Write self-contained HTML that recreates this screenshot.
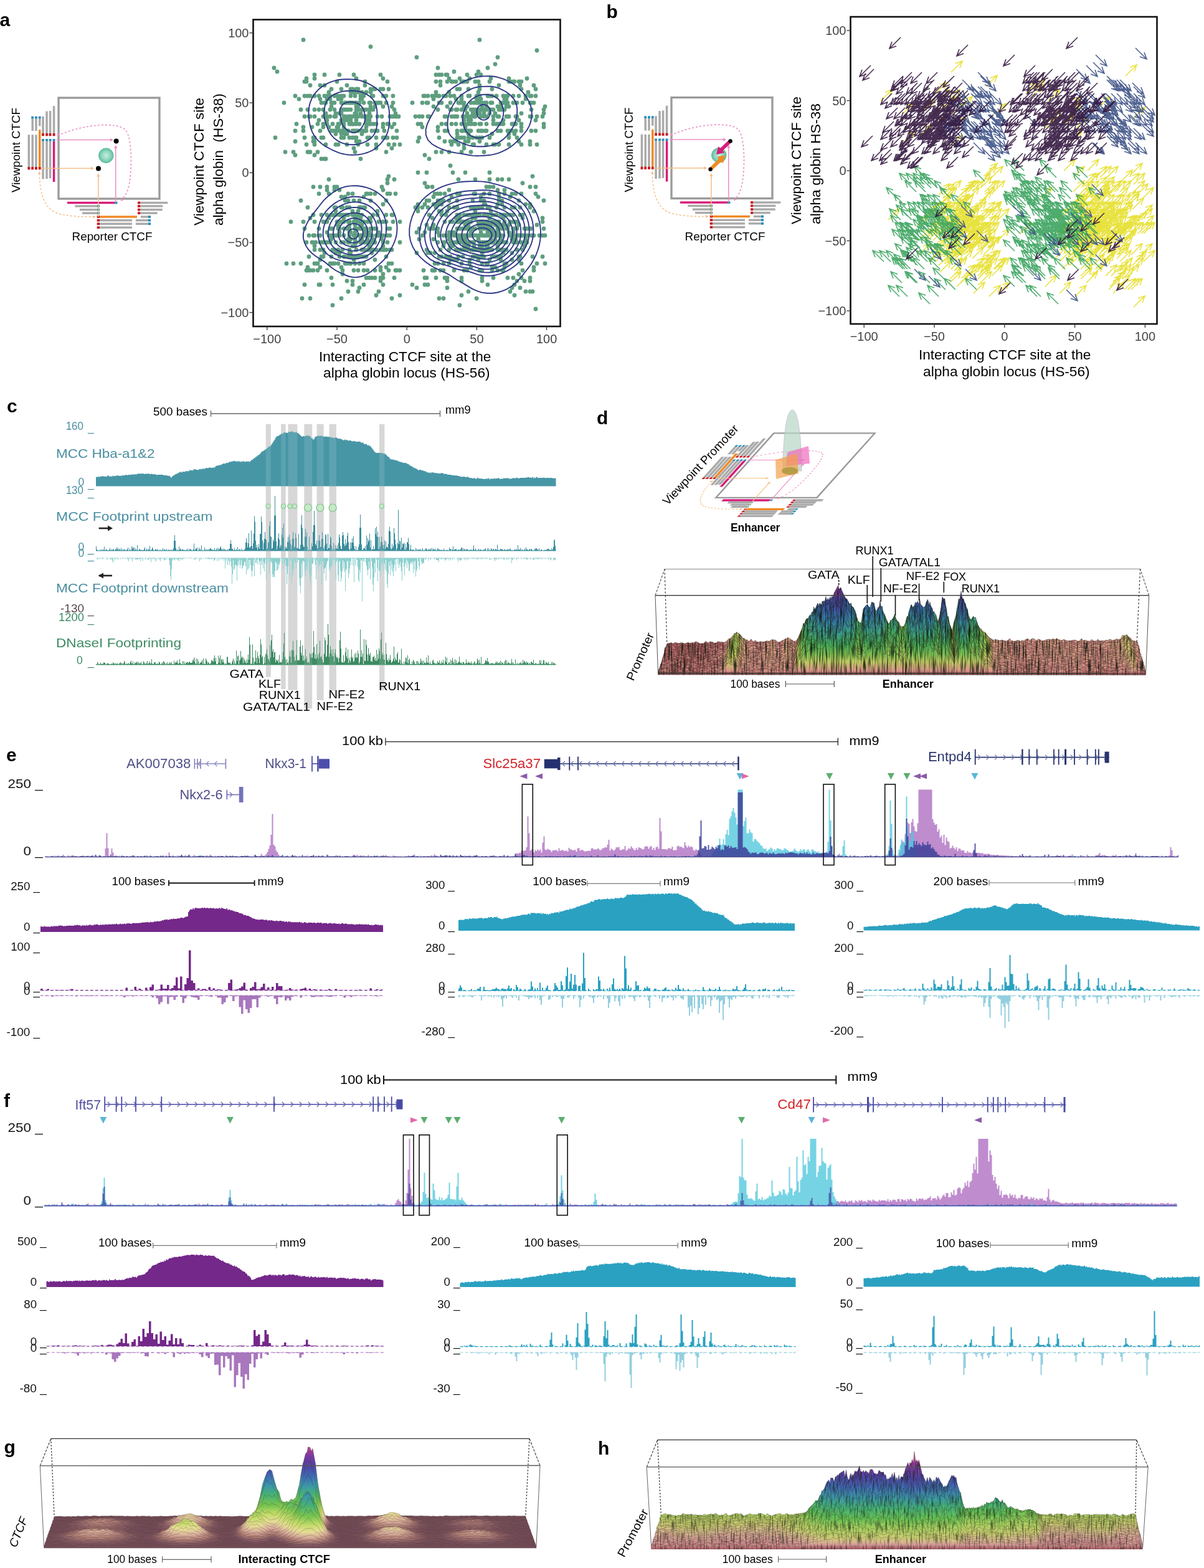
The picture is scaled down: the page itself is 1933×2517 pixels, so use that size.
<!DOCTYPE html>
<html><head><meta charset="utf-8"><title>Figure</title>
<style>html,body{margin:0;padding:0;background:#fff;overflow:hidden;}svg{display:block;}</style></head>
<body><svg width="1933" height="2517" viewBox="0 0 1933 2517" font-family='"Liberation Sans", Arial, Helvetica, sans-serif'>
<rect width="1933" height="2517" fill="#fff"/>
<defs>
<radialGradient id="gball" cx="0.5" cy="0.5" r="0.5"><stop offset="0" stop-color="#c8ece0"/><stop offset="0.6" stop-color="#8fd6bd"/><stop offset="1" stop-color="#5cbf9c"/></radialGradient>
</defs>
<defs><filter id="grass" x="0" y="0" width="1" height="1" color-interpolation-filters="sRGB"><feTurbulence type="fractalNoise" baseFrequency="0.45 0.035" numOctaves="2" seed="4" result="n"/><feColorMatrix in="n" type="matrix" values="0 0 0 0 0.05 0 0 0 0 0.08 0 0 0 0 0.04 2.6 0 0 0 -1.15" result="d"/><feComposite in="d" in2="SourceAlpha" operator="in" result="dm"/><feComposite in="dm" in2="SourceGraphic" operator="over"/></filter><filter id="grass2" x="0" y="0" width="1" height="1" color-interpolation-filters="sRGB"><feTurbulence type="fractalNoise" baseFrequency="0.5 0.05" numOctaves="2" seed="7" result="n"/><feColorMatrix in="n" type="matrix" values="0 0 0 0 0.08 0 0 0 0 0.1 0 0 0 0 0.05 2.0 0 0 0 -0.95" result="d"/><feComposite in="d" in2="SourceAlpha" operator="in" result="dm"/><feComposite in="dm" in2="SourceGraphic" operator="over"/></filter><linearGradient id="cmD" gradientUnits="userSpaceOnUse" x1="0" y1="0" x2="0" y2="-1"><stop offset="0.000" stop-color="#a85e60"/><stop offset="0.030" stop-color="#d8948a"/><stop offset="0.080" stop-color="#d0a878"/><stop offset="0.150" stop-color="#c0cc62"/><stop offset="0.250" stop-color="#7cbe52"/><stop offset="0.360" stop-color="#46a856"/><stop offset="0.480" stop-color="#3a9a8c"/><stop offset="0.580" stop-color="#3480a6"/><stop offset="0.700" stop-color="#3a58a6"/><stop offset="0.800" stop-color="#503e98"/><stop offset="0.880" stop-color="#8a3a98"/><stop offset="1.000" stop-color="#d0488e"/></linearGradient><linearGradient id="sd0" href="#cmD" gradientUnits="userSpaceOnUse" x1="0" y1="1032.5" x2="0" y2="912.5"/><linearGradient id="sd1" href="#cmD" gradientUnits="userSpaceOnUse" x1="0" y1="1034.3" x2="0" y2="914.1"/><linearGradient id="sd2" href="#cmD" gradientUnits="userSpaceOnUse" x1="0" y1="1036.1" x2="0" y2="915.8"/><linearGradient id="sd3" href="#cmD" gradientUnits="userSpaceOnUse" x1="0" y1="1037.9" x2="0" y2="917.4"/><linearGradient id="sd4" href="#cmD" gradientUnits="userSpaceOnUse" x1="0" y1="1039.6" x2="0" y2="919.1"/><linearGradient id="sd5" href="#cmD" gradientUnits="userSpaceOnUse" x1="0" y1="1041.4" x2="0" y2="920.7"/><linearGradient id="sd6" href="#cmD" gradientUnits="userSpaceOnUse" x1="0" y1="1043.2" x2="0" y2="922.3"/><linearGradient id="sd7" href="#cmD" gradientUnits="userSpaceOnUse" x1="0" y1="1045" x2="0" y2="924"/><linearGradient id="sd8" href="#cmD" gradientUnits="userSpaceOnUse" x1="0" y1="1046.8" x2="0" y2="925.6"/><linearGradient id="sd9" href="#cmD" gradientUnits="userSpaceOnUse" x1="0" y1="1048.6" x2="0" y2="927.3"/><linearGradient id="sd10" href="#cmD" gradientUnits="userSpaceOnUse" x1="0" y1="1050.4" x2="0" y2="928.9"/><linearGradient id="sd11" href="#cmD" gradientUnits="userSpaceOnUse" x1="0" y1="1052.2" x2="0" y2="930.5"/><linearGradient id="sd12" href="#cmD" gradientUnits="userSpaceOnUse" x1="0" y1="1053.9" x2="0" y2="932.2"/><linearGradient id="sd13" href="#cmD" gradientUnits="userSpaceOnUse" x1="0" y1="1055.7" x2="0" y2="933.8"/><linearGradient id="sd14" href="#cmD" gradientUnits="userSpaceOnUse" x1="0" y1="1057.5" x2="0" y2="935.4"/><linearGradient id="sd15" href="#cmD" gradientUnits="userSpaceOnUse" x1="0" y1="1059.3" x2="0" y2="937.1"/><linearGradient id="sd16" href="#cmD" gradientUnits="userSpaceOnUse" x1="0" y1="1061.1" x2="0" y2="938.7"/><linearGradient id="sd17" href="#cmD" gradientUnits="userSpaceOnUse" x1="0" y1="1062.9" x2="0" y2="940.4"/><linearGradient id="sd18" href="#cmD" gradientUnits="userSpaceOnUse" x1="0" y1="1064.7" x2="0" y2="942"/><linearGradient id="sd19" href="#cmD" gradientUnits="userSpaceOnUse" x1="0" y1="1066.5" x2="0" y2="943.6"/><linearGradient id="sd20" href="#cmD" gradientUnits="userSpaceOnUse" x1="0" y1="1068.2" x2="0" y2="945.3"/><linearGradient id="sd21" href="#cmD" gradientUnits="userSpaceOnUse" x1="0" y1="1070" x2="0" y2="946.9"/><linearGradient id="sd22" href="#cmD" gradientUnits="userSpaceOnUse" x1="0" y1="1071.8" x2="0" y2="948.6"/><linearGradient id="sd23" href="#cmD" gradientUnits="userSpaceOnUse" x1="0" y1="1073.6" x2="0" y2="950.2"/><linearGradient id="sd24" href="#cmD" gradientUnits="userSpaceOnUse" x1="0" y1="1075.4" x2="0" y2="951.8"/><linearGradient id="sd25" href="#cmD" gradientUnits="userSpaceOnUse" x1="0" y1="1077.2" x2="0" y2="953.5"/><linearGradient id="sd26" href="#cmD" gradientUnits="userSpaceOnUse" x1="0" y1="1079" x2="0" y2="955.1"/><linearGradient id="sd27" href="#cmD" gradientUnits="userSpaceOnUse" x1="0" y1="1080.8" x2="0" y2="956.8"/><linearGradient id="cmG" gradientUnits="userSpaceOnUse" x1="0" y1="0" x2="0" y2="-1"><stop offset="0.000" stop-color="#76505a"/><stop offset="0.015" stop-color="#8a6066"/><stop offset="0.040" stop-color="#b08076"/><stop offset="0.080" stop-color="#d8b09c"/><stop offset="0.130" stop-color="#e6dc96"/><stop offset="0.200" stop-color="#c4dc6a"/><stop offset="0.300" stop-color="#78c450"/><stop offset="0.420" stop-color="#46b074"/><stop offset="0.520" stop-color="#3c98a8"/><stop offset="0.630" stop-color="#3f6cb2"/><stop offset="0.750" stop-color="#4e44a2"/><stop offset="0.880" stop-color="#7a3a9e"/><stop offset="1.000" stop-color="#d24c96"/></linearGradient><linearGradient id="cmH" gradientUnits="userSpaceOnUse" x1="0" y1="0" x2="0" y2="-1"><stop offset="0.000" stop-color="#b46a72"/><stop offset="0.030" stop-color="#d69a98"/><stop offset="0.070" stop-color="#d8b890"/><stop offset="0.120" stop-color="#c8cc70"/><stop offset="0.200" stop-color="#a8d060"/><stop offset="0.300" stop-color="#66c054"/><stop offset="0.420" stop-color="#44b07a"/><stop offset="0.520" stop-color="#3c98a8"/><stop offset="0.630" stop-color="#3f6cb2"/><stop offset="0.750" stop-color="#5046a4"/><stop offset="0.880" stop-color="#7c3c9e"/><stop offset="1.000" stop-color="#d24c96"/></linearGradient><linearGradient id="sg0" href="#cmG" gradientUnits="userSpaceOnUse" x1="0" y1="2434.2" x2="0" y2="2309.2"/><linearGradient id="sg1" href="#cmG" gradientUnits="userSpaceOnUse" x1="0" y1="2436.1" x2="0" y2="2311"/><linearGradient id="sg2" href="#cmG" gradientUnits="userSpaceOnUse" x1="0" y1="2438" x2="0" y2="2312.7"/><linearGradient id="sg3" href="#cmG" gradientUnits="userSpaceOnUse" x1="0" y1="2439.9" x2="0" y2="2314.5"/><linearGradient id="sg4" href="#cmG" gradientUnits="userSpaceOnUse" x1="0" y1="2441.8" x2="0" y2="2316.2"/><linearGradient id="sg5" href="#cmG" gradientUnits="userSpaceOnUse" x1="0" y1="2443.8" x2="0" y2="2318"/><linearGradient id="sg6" href="#cmG" gradientUnits="userSpaceOnUse" x1="0" y1="2445.7" x2="0" y2="2319.7"/><linearGradient id="sg7" href="#cmG" gradientUnits="userSpaceOnUse" x1="0" y1="2447.6" x2="0" y2="2321.5"/><linearGradient id="sg8" href="#cmG" gradientUnits="userSpaceOnUse" x1="0" y1="2449.5" x2="0" y2="2323.2"/><linearGradient id="sg9" href="#cmG" gradientUnits="userSpaceOnUse" x1="0" y1="2451.4" x2="0" y2="2325"/><linearGradient id="sg10" href="#cmG" gradientUnits="userSpaceOnUse" x1="0" y1="2453.3" x2="0" y2="2326.7"/><linearGradient id="sg11" href="#cmG" gradientUnits="userSpaceOnUse" x1="0" y1="2455.2" x2="0" y2="2328.5"/><linearGradient id="sg12" href="#cmG" gradientUnits="userSpaceOnUse" x1="0" y1="2457.1" x2="0" y2="2330.2"/><linearGradient id="sg13" href="#cmG" gradientUnits="userSpaceOnUse" x1="0" y1="2459.1" x2="0" y2="2332"/><linearGradient id="sg14" href="#cmG" gradientUnits="userSpaceOnUse" x1="0" y1="2461" x2="0" y2="2333.7"/><linearGradient id="sg15" href="#cmG" gradientUnits="userSpaceOnUse" x1="0" y1="2462.9" x2="0" y2="2335.5"/><linearGradient id="sg16" href="#cmG" gradientUnits="userSpaceOnUse" x1="0" y1="2464.8" x2="0" y2="2337.2"/><linearGradient id="sg17" href="#cmG" gradientUnits="userSpaceOnUse" x1="0" y1="2466.7" x2="0" y2="2339"/><linearGradient id="sg18" href="#cmG" gradientUnits="userSpaceOnUse" x1="0" y1="2468.6" x2="0" y2="2340.7"/><linearGradient id="sg19" href="#cmG" gradientUnits="userSpaceOnUse" x1="0" y1="2470.5" x2="0" y2="2342.5"/><linearGradient id="sg20" href="#cmG" gradientUnits="userSpaceOnUse" x1="0" y1="2472.4" x2="0" y2="2344.2"/><linearGradient id="sg21" href="#cmG" gradientUnits="userSpaceOnUse" x1="0" y1="2474.4" x2="0" y2="2346"/><linearGradient id="sg22" href="#cmG" gradientUnits="userSpaceOnUse" x1="0" y1="2476.3" x2="0" y2="2347.7"/><linearGradient id="sg23" href="#cmG" gradientUnits="userSpaceOnUse" x1="0" y1="2478.2" x2="0" y2="2349.5"/><linearGradient id="sg24" href="#cmG" gradientUnits="userSpaceOnUse" x1="0" y1="2480.1" x2="0" y2="2351.2"/><linearGradient id="sg25" href="#cmG" gradientUnits="userSpaceOnUse" x1="0" y1="2482" x2="0" y2="2353"/><linearGradient id="sh0" href="#cmH" gradientUnits="userSpaceOnUse" x1="0" y1="2454.5" x2="0" y2="2331.1"/><linearGradient id="sh1" href="#cmH" gradientUnits="userSpaceOnUse" x1="0" y1="2455.3" x2="0" y2="2331.7"/><linearGradient id="sh2" href="#cmH" gradientUnits="userSpaceOnUse" x1="0" y1="2456.1" x2="0" y2="2332.2"/><linearGradient id="sh3" href="#cmH" gradientUnits="userSpaceOnUse" x1="0" y1="2456.9" x2="0" y2="2332.8"/><linearGradient id="sh4" href="#cmH" gradientUnits="userSpaceOnUse" x1="0" y1="2457.7" x2="0" y2="2333.4"/><linearGradient id="sh5" href="#cmH" gradientUnits="userSpaceOnUse" x1="0" y1="2458.6" x2="0" y2="2334.1"/><linearGradient id="sh6" href="#cmH" gradientUnits="userSpaceOnUse" x1="0" y1="2459.5" x2="0" y2="2334.7"/><linearGradient id="sh7" href="#cmH" gradientUnits="userSpaceOnUse" x1="0" y1="2460.4" x2="0" y2="2335.4"/><linearGradient id="sh8" href="#cmH" gradientUnits="userSpaceOnUse" x1="0" y1="2461.4" x2="0" y2="2336.2"/><linearGradient id="sh9" href="#cmH" gradientUnits="userSpaceOnUse" x1="0" y1="2462.3" x2="0" y2="2336.9"/><linearGradient id="sh10" href="#cmH" gradientUnits="userSpaceOnUse" x1="0" y1="2463.4" x2="0" y2="2337.7"/><linearGradient id="sh11" href="#cmH" gradientUnits="userSpaceOnUse" x1="0" y1="2464.4" x2="0" y2="2338.5"/><linearGradient id="sh12" href="#cmH" gradientUnits="userSpaceOnUse" x1="0" y1="2465.5" x2="0" y2="2339.4"/><linearGradient id="sh13" href="#cmH" gradientUnits="userSpaceOnUse" x1="0" y1="2466.6" x2="0" y2="2340.3"/><linearGradient id="sh14" href="#cmH" gradientUnits="userSpaceOnUse" x1="0" y1="2467.8" x2="0" y2="2341.3"/><linearGradient id="sh15" href="#cmH" gradientUnits="userSpaceOnUse" x1="0" y1="2469" x2="0" y2="2342.2"/><linearGradient id="sh16" href="#cmH" gradientUnits="userSpaceOnUse" x1="0" y1="2470.3" x2="0" y2="2343.3"/><linearGradient id="sh17" href="#cmH" gradientUnits="userSpaceOnUse" x1="0" y1="2471.5" x2="0" y2="2344.3"/><linearGradient id="sh18" href="#cmH" gradientUnits="userSpaceOnUse" x1="0" y1="2472.9" x2="0" y2="2345.5"/><linearGradient id="sh19" href="#cmH" gradientUnits="userSpaceOnUse" x1="0" y1="2474.3" x2="0" y2="2346.6"/><linearGradient id="sh20" href="#cmH" gradientUnits="userSpaceOnUse" x1="0" y1="2475.7" x2="0" y2="2347.8"/><linearGradient id="sh21" href="#cmH" gradientUnits="userSpaceOnUse" x1="0" y1="2477.2" x2="0" y2="2349.1"/><linearGradient id="sh22" href="#cmH" gradientUnits="userSpaceOnUse" x1="0" y1="2478.8" x2="0" y2="2350.5"/><linearGradient id="sh23" href="#cmH" gradientUnits="userSpaceOnUse" x1="0" y1="2480.4" x2="0" y2="2351.9"/><linearGradient id="sh24" href="#cmH" gradientUnits="userSpaceOnUse" x1="0" y1="2482.2" x2="0" y2="2353.4"/><linearGradient id="sh25" href="#cmH" gradientUnits="userSpaceOnUse" x1="0" y1="2484" x2="0" y2="2355"/></defs>
<text x="-0.5" y="42.3" font-size="30" font-weight="bold">a</text>
<rect x="44.6" y="216.3" width="3.5" height="51.7" fill="#aaaaaa" />
<rect x="44.4" y="268" width="3.9" height="4.3" fill="#c8161d" />
<rect x="50.5" y="216.3" width="3.5" height="51.7" fill="#aaaaaa" />
<rect x="50.2" y="268" width="3.9" height="4.3" fill="#c8161d" />
<rect x="56.2" y="216.3" width="3.5" height="51.7" fill="#aaaaaa" />
<rect x="56" y="268" width="3.9" height="4.3" fill="#c8161d" />
<rect x="62" y="208.2" width="3.5" height="59.8" fill="#f08a24" />
<rect x="61.8" y="268" width="3.9" height="4.3" fill="#c8161d" />
<rect x="50.2" y="186.8" width="3.9" height="3.9" fill="#2b8cb8" />
<rect x="50.5" y="190.7" width="3.5" height="19.4" fill="#aaaaaa" />
<rect x="56" y="186.8" width="3.9" height="3.9" fill="#2b8cb8" />
<rect x="56.2" y="190.7" width="3.5" height="19.4" fill="#aaaaaa" />
<rect x="61.8" y="186.8" width="3.9" height="3.9" fill="#2b8cb8" />
<rect x="62" y="190.7" width="3.5" height="11.6" fill="#aaaaaa" />
<rect x="67.3" y="186.8" width="3.5" height="27.2" fill="#aaaaaa" />
<rect x="67.1" y="214" width="3.9" height="4.3" fill="#c8161d" />
<rect x="67.1" y="223" width="3.9" height="3.8" fill="#2b8cb8" />
<rect x="67.3" y="226.8" width="3.5" height="60.6" fill="#aaaaaa" />
<rect x="73.3" y="178.6" width="3.5" height="35.4" fill="#aaaaaa" />
<rect x="73.1" y="214" width="3.9" height="4.3" fill="#c8161d" />
<rect x="73.1" y="223" width="3.9" height="3.8" fill="#2b8cb8" />
<rect x="73.3" y="226.8" width="3.5" height="60.2" fill="#aaaaaa" />
<rect x="78.8" y="178" width="3.5" height="36" fill="#aaaaaa" />
<rect x="78.6" y="214" width="3.9" height="4.3" fill="#c8161d" />
<rect x="78.6" y="223" width="3.9" height="3.8" fill="#2b8cb8" />
<rect x="78.8" y="226.8" width="3.5" height="59.5" fill="#aaaaaa" />
<rect x="84.8" y="170.1" width="3.5" height="43.9" fill="#aaaaaa" />
<rect x="84.6" y="214" width="3.9" height="4.3" fill="#c8161d" />
<rect x="84.6" y="223" width="3.9" height="3.8" fill="#2b8cb8" />
<rect x="84.8" y="226.8" width="3.5" height="65.2" fill="#d81b7a" />
<rect x="94" y="157" width="162" height="162" fill="none" stroke="#9a9a9a" stroke-width="3.3"/>
<rect x="108" y="323.8" width="76.1" height="3.4" fill="#d81b7a" />
<rect x="184.1" y="323.6" width="4.3" height="3.8" fill="#2b8cb8" />
<rect x="120.4" y="329.2" width="35.3" height="3.4" fill="#aaaaaa" />
<rect x="155.7" y="329" width="4.3" height="3.8" fill="#3d8f95" />
<rect x="127.9" y="334.9" width="27.8" height="3.4" fill="#aaaaaa" />
<rect x="155.7" y="334.7" width="4.3" height="3.8" fill="#3d8f95" />
<rect x="132.1" y="340.4" width="23.6" height="3.4" fill="#aaaaaa" />
<rect x="155.7" y="340.2" width="4.3" height="3.8" fill="#3d8f95" />
<rect x="221" y="323.6" width="4.4" height="3.8" fill="#c8161d" />
<rect x="225.4" y="323.8" width="43.9" height="3.4" fill="#aaaaaa" />
<rect x="221" y="329" width="4.4" height="3.8" fill="#c8161d" />
<rect x="225.4" y="329.2" width="35.9" height="3.4" fill="#aaaaaa" />
<rect x="221" y="334.7" width="4.4" height="3.8" fill="#c8161d" />
<rect x="225.4" y="334.9" width="35.3" height="3.4" fill="#aaaaaa" />
<rect x="221" y="340.2" width="4.4" height="3.8" fill="#c8161d" />
<rect x="225.4" y="340.4" width="27.3" height="3.4" fill="#aaaaaa" />
<rect x="155.7" y="346.1" width="4.3" height="3.8" fill="#c8161d" />
<rect x="160" y="346.3" width="60" height="3.4" fill="#f08a24" />
<rect x="155.7" y="351.8" width="4.3" height="3.8" fill="#c8161d" />
<rect x="160" y="352" width="52" height="3.4" fill="#aaaaaa" />
<rect x="155.7" y="357.4" width="4.3" height="3.8" fill="#c8161d" />
<rect x="160" y="357.6" width="52" height="3.4" fill="#aaaaaa" />
<rect x="155.7" y="363.3" width="4.3" height="3.8" fill="#c8161d" />
<rect x="160" y="363.5" width="52" height="3.4" fill="#aaaaaa" />
<rect x="225.9" y="346.3" width="11.8" height="3.4" fill="#aaaaaa" />
<rect x="237.7" y="346.1" width="4.3" height="3.8" fill="#2b8cb8" />
<rect x="217.9" y="352" width="19.8" height="3.4" fill="#aaaaaa" />
<rect x="237.7" y="351.8" width="4.3" height="3.8" fill="#2b8cb8" />
<rect x="217.9" y="357.6" width="19.8" height="3.4" fill="#aaaaaa" />
<rect x="237.7" y="357.4" width="4.3" height="3.8" fill="#2b8cb8" />
<line x1="90.5" y1="224.5" x2="180" y2="224.5" stroke="#ea8fc4" stroke-width="1.6" />
<path d="M182 224.5L177 227.2L177 221.8Z" fill="#ea8fc4"/>
<line x1="185.7" y1="325" x2="185.7" y2="236" stroke="#ea8fc4" stroke-width="1.6" />
<path d="M185.7 233L188.4 238L182.9 238Z" fill="#ea8fc4"/>
<line x1="65.6" y1="270.3" x2="148" y2="270.3" stroke="#f6c08a" stroke-width="1.6" />
<path d="M151 270.3L146 273.1L146 267.6Z" fill="#f6c08a"/>
<line x1="157.9" y1="348" x2="157.9" y2="282" stroke="#f6c08a" stroke-width="1.6" />
<path d="M157.9 278.5L160.7 283.5L155.2 283.5Z" fill="#f6c08a"/>
<path d="M93 217.5C134 199 189 195 202 209C212 223 212 267 208 292C206 307 200 317 195 321" fill="none" stroke="#ea8fc4" stroke-width="1.6" stroke-dasharray="3 3"/>
<path d="M91.3 217.8L94.9 214.1L96.3 218.9Z" fill="#ea8fc4"/>
<path d="M193.8 323L194.5 317.9L198.5 320.9Z" fill="#ea8fc4"/>
<path d="M63.3 278C64 317 74 337 94 343C114 348 134 348 151 348" fill="none" stroke="#f6c08a" stroke-width="1.6" stroke-dasharray="3 3"/>
<path d="M63.3 275L65.8 279.5L60.8 279.5Z" fill="#f6c08a"/>
<path d="M153.5 348L149 350.5L149 345.5Z" fill="#f6c08a"/>
<circle cx="170.3" cy="249.7" r="11.8" fill="url(#gball)" stroke="#5fbf9f" stroke-width="1"/>
<circle cx="186.6" cy="226.6" r="4" fill="#000"/>
<circle cx="158" cy="270.5" r="4" fill="#000"/>
<text x="31.5" y="309" font-size="19" textLength="136" lengthAdjust="spacingAndGlyphs" transform="rotate(-90 31.5 309)">Viewpoint CTCF</text>
<text x="115.5" y="386" font-size="19" textLength="129" lengthAdjust="spacingAndGlyphs">Reporter CTCF</text>
<path d="M588 176h0M624 143h0M613 187h0M606 187h0M510 199h0M532 165h0M534 165h0M629 187h0M613 187h0M483 176h0M599 154h0M595 148h0M570 210h0M525 154h0M530 154h0M523 187h0M548 221h0M557 165h0M577 227h0M633 176h0M635 182h0M595 187h0M606 187h0M584 176h0M581 176h0M637 210h0M523 182h0M512 176h0M572 171h0M474 210h0M498 137h0M575 210h0M554 210h0M633 199h0M590 232h0M572 199h0M570 154h0M516 165h0M501 204h0M498 244h0M597 210h0M602 210h0M521 154h0M550 154h0M505 120h0M631 165h0M494 154h0M505 126h0M631 154h0M552 204h0M615 199h0M593 182h0M581 176h0M442 221h0M474 227h0M570 165h0M563 143h0M617 210h0M539 215h0M568 238h0M476 199h0M541 131h0M523 232h0M487 210h0M617 221h0M541 204h0M642 232h0M563 193h0M570 221h0M572 210h0M572 210h0M579 154h0M510 244h0M543 154h0M525 187h0M550 176h0M521 120h0M620 221h0M525 154h0M588 148h0M530 176h0M604 238h0M581 159h0M505 187h0M512 193h0M615 143h0M633 232h0M622 131h0M586 137h0M505 227h0M487 204h0M620 244h0M548 154h0M474 154h0M615 126h0M599 143h0M572 143h0M528 148h0M523 165h0M537 165h0M532 143h0M489 154h0M622 199h0M554 176h0M570 244h0M543 154h0M606 165h0M489 187h0M530 154h0M494 154h0M494 176h0M572 221h0M541 210h0M548 210h0M566 199h0M604 199h0M557 137h0M593 199h0M586 131h0M548 159h0M568 120h0M572 199h0M629 238h0M505 154h0M631 187h0M471 244h0M597 154h0M606 165h0M608 165h0M519 204h0M552 199h0M611 120h0M503 221h0M575 148h0M604 221h0M543 154h0M622 221h0M615 221h0M530 187h0M523 255h0M519 176h0M548 176h0M512 154h0M539 232h0M629 204h0M570 148h0M537 154h0M543 199h0M637 187h0M552 193h0M631 154h0M557 215h0M581 148h0M629 171h0M599 176h0M570 187h0M537 154h0M620 154h0M557 193h0M624 232h0M492 126h0M548 143h0M566 210h0M615 154h0M519 199h0M599 199h0M599 143h0M584 187h0M586 187h0M588 204h0M554 210h0M532 210h0M539 210h0M516 221h0M492 232h0M505 232h0M640 187h0M631 187h0M637 221h0M498 154h0M575 143h0M545 199h0M579 182h0M572 182h0M519 221h0M545 210h0M595 199h0M606 210h0M575 171h0M581 215h0M615 199h0M563 187h0M552 210h0M537 210h0M534 210h0M568 199h0M604 232h0M593 221h0M545 199h0M548 182h0M554 187h0M575 232h0M563 199h0M584 165h0M572 171h0M575 176h0M561 187h0M568 210h0M572 176h0M566 199h0M586 210h0M581 210h0M615 204h0M584 154h0M575 187h0M570 182h0M525 159h0M577 199h0M521 165h0M534 199h0M588 193h0M586 131h0M563 165h0M525 199h0M559 187h0M559 187h0M552 176h0M561 165h0M584 165h0M624 199h0M572 227h0M548 193h0M539 187h0M566 187h0M563 154h0M505 176h0M539 182h0M593 165h0M570 165h0M539 210h0M620 165h0M595 165h0M595 143h0M606 165h0M595 171h0M572 176h0M557 176h0M581 187h0M566 148h0M559 210h0M559 187h0M537 176h0M532 171h0M588 199h0M563 176h0M572 193h0M593 187h0M525 193h0M575 210h0M548 215h0M572 187h0M572 165h0M577 165h0M559 210h0M593 193h0M572 171h0M545 210h0M539 210h0M552 187h0M545 182h0M584 210h0M588 210h0M579 159h0M521 137h0M602 143h0M584 187h0M602 171h0M559 187h0M561 187h0M541 154h0M631 221h0M563 165h0M606 187h0M552 154h0M572 182h0M528 204h0M559 176h0M593 176h0M539 187h0M537 187h0M595 176h0M577 199h0M543 232h0M554 165h0M557 176h0M566 187h0M554 187h0M570 165h0M548 165h0M561 199h0M543 204h0M519 187h0M537 187h0M572 165h0M566 165h0M590 221h0M530 159h0M568 199h0M557 210h0M552 210h0M543 159h0M566 187h0M588 187h0M554 215h0M604 199h0M554 165h0M548 165h0M577 165h0M552 221h0M514 159h0M611 143h0M557 232h0M602 165h0M611 165h0M563 187h0M489 221h0M561 221h0M572 187h0M635 187h0M505 221h0M503 227h0M566 221h0M445 115h0M633 176h0M615 171h0M492 131h0M440 109h0M563 148h0M458 244h0M489 131h0M514 210h0M487 64h0M595 75h0M516 255h0M611 143h0M514 137h0M599 143h0M496 187h0M498 187h0M480 159h0M687 187h0M545 120h0M566 143h0M579 255h0M572 126h0M494 244h0M456 165h0M496 244h0M474 249h0M622 288h0M626 187h0M498 154h0M700 244h0M705 154h0M745 131h0M743 210h0M723 154h0M851 165h0M671 227h0M678 165h0M685 165h0M851 165h0M839 165h0M792 187h0M765 165h0M738 126h0M783 154h0M732 176h0M860 210h0M837 232h0M754 126h0M680 154h0M851 154h0M723 176h0M810 176h0M801 176h0M853 187h0M853 176h0M817 171h0M853 210h0M774 165h0M844 159h0M741 154h0M725 199h0M777 244h0M732 227h0M828 210h0M813 154h0M709 165h0M698 154h0M761 187h0M745 238h0M873 182h0M860 143h0M875 171h0M808 165h0M801 199h0M752 221h0M738 165h0M673 187h0M667 187h0M837 204h0M716 199h0M703 154h0M756 187h0M729 187h0M799 210h0M687 154h0M732 187h0M862 187h0M857 137h0M790 143h0M783 154h0M703 210h0M833 131h0M837 182h0M768 131h0M732 131h0M703 176h0M718 171h0M743 131h0M747 176h0M705 165h0M761 232h0M750 131h0M734 143h0M765 221h0M734 210h0M741 176h0M808 193h0M759 221h0M774 221h0M700 148h0M828 199h0M768 115h0M768 148h0M817 187h0M837 199h0M851 227h0M817 232h0M813 171h0M815 165h0M828 165h0M709 120h0M824 199h0M718 120h0M714 210h0M707 131h0M741 131h0M817 131h0M815 154h0M804 165h0M824 165h0M682 154h0M786 154h0M828 187h0M676 199h0M716 120h0M700 120h0M768 210h0M774 210h0M694 154h0M770 182h0M750 210h0M804 210h0M763 176h0M830 221h0M705 221h0M714 227h0M817 221h0M822 199h0M833 154h0M682 249h0M873 199h0M781 176h0M741 244h0M752 199h0M772 120h0M799 92h0M727 131h0M727 227h0M772 159h0M833 227h0M734 221h0M752 227h0M689 187h0M750 120h0M727 131h0M689 187h0M862 232h0M725 131h0M783 109h0M745 193h0M673 221h0M871 187h0M860 193h0M837 143h0M687 165h0M705 165h0M752 187h0M745 221h0M709 199h0M792 232h0M837 210h0M824 131h0M801 232h0M662 165h0M707 137h0M781 187h0M804 171h0M741 210h0M752 215h0M774 165h0M853 154h0M696 159h0M723 176h0M718 131h0M723 165h0M696 171h0M756 199h0M817 126h0M714 187h0M848 148h0M718 210h0M819 131h0M709 244h0M857 165h0M853 165h0M725 232h0M815 210h0M815 210h0M860 154h0M723 227h0M703 204h0M790 215h0M770 137h0M792 232h0M826 199h0M752 154h0M765 154h0M768 154h0M788 126h0M756 244h0M716 154h0M721 126h0M729 154h0M729 154h0M851 227h0M689 255h0M721 148h0M786 176h0M781 176h0M725 187h0M721 244h0M745 187h0M747 227h0M815 154h0M873 204h0M759 182h0M752 210h0M734 210h0M815 187h0M779 165h0M801 137h0M824 165h0M813 165h0M756 176h0M797 154h0M765 159h0M770 143h0M770 154h0M772 187h0M804 176h0M804 176h0M777 176h0M768 176h0M763 176h0M781 199h0M745 232h0M756 199h0M770 227h0M756 176h0M768 182h0M754 221h0M830 165h0M810 159h0M786 176h0M770 143h0M835 137h0M781 210h0M770 154h0M781 171h0M781 171h0M813 159h0M772 199h0M833 193h0M747 199h0M792 199h0M743 187h0M826 215h0M763 199h0M770 165h0M799 187h0M808 176h0M741 221h0M761 199h0M732 199h0M777 182h0M770 199h0M745 165h0M761 165h0M752 187h0M761 176h0M750 182h0M788 165h0M817 187h0M716 154h0M768 165h0M761 176h0M786 176h0M741 165h0M745 165h0M768 159h0M741 159h0M792 176h0M781 165h0M774 165h0M756 176h0M768 176h0M783 154h0M774 176h0M765 182h0M727 227h0M790 154h0M781 176h0M747 210h0M768 210h0M801 187h0M808 199h0M741 131h0M750 171h0M817 215h0M815 165h0M813 171h0M750 187h0M738 143h0M754 210h0M759 232h0M734 176h0M725 176h0M763 187h0M772 187h0M734 187h0M736 232h0M799 171h0M752 143h0M770 221h0M790 154h0M797 199h0M763 131h0M774 171h0M747 187h0M824 154h0M790 165h0M741 199h0M772 165h0M792 193h0M786 221h0M826 131h0M828 187h0M813 187h0M756 193h0M788 176h0M770 176h0M734 215h0M772 210h0M779 210h0M772 187h0M777 187h0M851 187h0M851 187h0M774 176h0M712 154h0M752 193h0M774 165h0M774 171h0M738 165h0M736 165h0M747 204h0M761 176h0M781 199h0M768 154h0M756 165h0M745 171h0M795 182h0M756 210h0M759 176h0M732 199h0M700 131h0M830 187h0M765 120h0M837 131h0M738 221h0M795 103h0M671 199h0M873 176h0M795 232h0M678 187h0M862 81h0M799 199h0M716 187h0M754 154h0M772 120h0M810 165h0M839 165h0M857 165h0M669 92h0M804 199h0M846 126h0M786 131h0M729 115h0M786 182h0M705 120h0M781 232h0M678 204h0M703 109h0M808 154h0M723 266h0M732 159h0M851 232h0M844 154h0M822 210h0M819 210h0M817 288h0M770 64h0M687 165h0M563 423h0M620 412h0M588 446h0M584 356h0M498 434h0M620 429h0M505 356h0M539 389h0M552 367h0M579 367h0M575 367h0M604 378h0M611 378h0M519 401h0M629 401h0M586 389h0M642 389h0M548 333h0M498 434h0M496 412h0M584 412h0M539 333h0M559 311h0M545 378h0M537 378h0M525 389h0M519 389h0M570 356h0M537 305h0M626 401h0M519 356h0M620 345h0M615 401h0M548 429h0M599 345h0M575 434h0M548 389h0M606 378h0M626 378h0M635 311h0M514 457h0M629 423h0M489 367h0M503 300h0M566 457h0M534 345h0M548 479h0M561 367h0M545 412h0M631 356h0M617 401h0M545 345h0M532 423h0M597 446h0M516 412h0M559 412h0M584 423h0M494 429h0M602 367h0M599 389h0M545 305h0M532 367h0M534 367h0M545 367h0M534 367h0M595 311h0M590 356h0M512 457h0M597 406h0M559 468h0M525 345h0M534 457h0M561 373h0M624 434h0M514 300h0M550 440h0M642 356h0M566 345h0M550 345h0M622 389h0M498 350h0M545 406h0M510 434h0M624 423h0M593 446h0M523 356h0M503 434h0M543 423h0M494 434h0M577 322h0M575 367h0M584 367h0M503 389h0M523 389h0M512 367h0M537 300h0M534 367h0M597 378h0M588 378h0M505 395h0M611 378h0M606 378h0M525 305h0M590 378h0M595 378h0M608 373h0M525 300h0M590 434h0M611 446h0M584 316h0M602 311h0M532 446h0M489 457h0M615 457h0M608 356h0M530 423h0M503 378h0M537 333h0M577 462h0M559 322h0M568 378h0M581 384h0M615 401h0M597 401h0M590 389h0M597 389h0M615 446h0M492 389h0M572 412h0M514 417h0M602 434h0M519 412h0M593 350h0M541 300h0M577 423h0M586 333h0M622 378h0M633 446h0M557 451h0M590 311h0M521 406h0M507 423h0M606 345h0M629 345h0M629 345h0M620 322h0M579 384h0M581 412h0M593 401h0M584 423h0M548 356h0M615 305h0M525 434h0M602 389h0M611 401h0M615 440h0M622 367h0M622 311h0M557 333h0M548 316h0M602 417h0M624 283h0M575 345h0M467 356h0M483 423h0M537 423h0M611 434h0M622 294h0M554 316h0M568 434h0M557 367h0M505 423h0M483 322h0M572 367h0M566 311h0M606 339h0M514 429h0M615 395h0M525 356h0M579 333h0M608 378h0M613 384h0M505 401h0M626 401h0M512 378h0M566 395h0M561 367h0M557 367h0M514 401h0M575 356h0M572 389h0M584 389h0M550 356h0M559 345h0M543 423h0M586 367h0M530 389h0M561 412h0M615 389h0M570 384h0M579 350h0M563 412h0M539 345h0M568 322h0M577 356h0M543 361h0M568 378h0M577 378h0M599 401h0M595 367h0M530 367h0M543 356h0M528 311h0M595 356h0M584 367h0M586 333h0M545 412h0M539 406h0M570 384h0M570 389h0M548 356h0M581 378h0M572 378h0M584 333h0M575 339h0M543 356h0M507 389h0M516 389h0M561 361h0M572 356h0M561 401h0M557 367h0M550 356h0M586 373h0M566 339h0M570 345h0M543 401h0M552 378h0M552 378h0M572 401h0M543 367h0M537 401h0M559 356h0M597 367h0M572 350h0M622 378h0M604 378h0M566 412h0M561 333h0M514 378h0M534 378h0M554 345h0M588 367h0M604 367h0M577 356h0M586 333h0M586 367h0M568 345h0M563 412h0M570 356h0M597 378h0M584 378h0M579 378h0M588 378h0M579 378h0M572 367h0M550 333h0M561 423h0M545 373h0M593 395h0M503 345h0M516 345h0M563 384h0M626 367h0M559 384h0M541 361h0M568 356h0M599 384h0M545 378h0M563 373h0M584 412h0M570 367h0M559 356h0M570 350h0M554 423h0M557 423h0M577 412h0M579 389h0M581 378h0M586 378h0M572 378h0M528 378h0M532 378h0M581 356h0M561 389h0M561 406h0M532 412h0M554 322h0M550 434h0M568 378h0M532 345h0M570 361h0M570 395h0M541 378h0M552 356h0M548 345h0M590 401h0M505 356h0M559 367h0M528 350h0M557 345h0M570 389h0M588 389h0M552 412h0M572 367h0M548 333h0M615 356h0M590 373h0M595 322h0M534 401h0M541 356h0M595 389h0M552 378h0M563 373h0M561 378h0M577 333h0M537 401h0M588 389h0M568 417h0M579 361h0M552 389h0M581 367h0M550 401h0M590 384h0M595 350h0M590 378h0M581 361h0M584 367h0M514 389h0M501 389h0M588 412h0M561 356h0M572 367h0M570 373h0M561 356h0M534 423h0M554 412h0M584 434h0M604 401h0M552 350h0M545 367h0M597 378h0M604 378h0M545 378h0M620 356h0M570 378h0M570 378h0M545 367h0M593 373h0M611 429h0M532 384h0M606 345h0M561 389h0M615 378h0M604 378h0M559 389h0M516 389h0M530 389h0M581 345h0M586 378h0M590 378h0M620 401h0M611 451h0M586 389h0M561 423h0M554 423h0M561 356h0M512 311h0M579 333h0M566 451h0M534 490h0M485 479h0M528 288h0M608 468h0M487 356h0M563 406h0M633 288h0M602 446h0M510 423h0M525 373h0M575 468h0M631 345h0M492 434h0M505 249h0M642 434h0M584 457h0M629 479h0M615 328h0M622 389h0M505 378h0M521 255h0M613 300h0M678 378h0M588 311h0M581 401h0M637 434h0M570 423h0M496 378h0M635 434h0M494 333h0M604 474h0M471 423h0M642 474h0M498 479h0M626 311h0M460 423h0M539 339h0M833 361h0M862 361h0M673 384h0M763 401h0M736 378h0M743 378h0M756 367h0M839 294h0M781 300h0M741 474h0M792 345h0M741 451h0M770 356h0M721 322h0M790 345h0M790 434h0M788 384h0M792 446h0M774 333h0M824 356h0M709 328h0M801 401h0M781 345h0M795 429h0M736 288h0M685 300h0M842 451h0M817 361h0M864 316h0M770 434h0M830 451h0M835 462h0M781 345h0M844 468h0M824 389h0M705 339h0M712 479h0M761 333h0M774 406h0M822 384h0M804 384h0M839 401h0M828 311h0M709 345h0M732 401h0M851 451h0M842 378h0M819 378h0M671 277h0M792 300h0M682 446h0M765 401h0M844 389h0M716 412h0M851 446h0M781 423h0M875 378h0M866 378h0M851 328h0M703 322h0M810 345h0M851 333h0M718 462h0M815 446h0M718 412h0M703 423h0M727 389h0M736 412h0M871 412h0M705 479h0M777 311h0M786 300h0M804 345h0M855 412h0M792 389h0M851 300h0M696 361h0M790 345h0M712 322h0M819 316h0M790 356h0M714 446h0M842 367h0M786 311h0M774 446h0M700 446h0M851 468h0M765 479h0M837 446h0M689 345h0M819 356h0M765 345h0M783 345h0M786 401h0M835 333h0M826 333h0M851 446h0M723 417h0M844 389h0M698 328h0M669 333h0M743 356h0M734 367h0M822 417h0M783 333h0M768 333h0M842 378h0M824 378h0M873 322h0M813 401h0M801 389h0M851 367h0M729 434h0M857 434h0M698 434h0M707 434h0M673 367h0M839 345h0M709 339h0M745 434h0M783 395h0M662 457h0M761 333h0M723 395h0M694 434h0M781 423h0M763 288h0M721 401h0M806 288h0M756 429h0M680 434h0M822 333h0M761 311h0M694 434h0M725 316h0M716 345h0M721 305h0M734 311h0M687 406h0M707 311h0M799 434h0M703 389h0M678 378h0M698 423h0M743 378h0M738 378h0M700 333h0M703 328h0M774 451h0M822 378h0M835 378h0M830 367h0M774 423h0M830 356h0M824 446h0M779 378h0M797 373h0M830 367h0M770 356h0M810 305h0M781 300h0M824 384h0M806 434h0M691 406h0M837 311h0M678 333h0M763 311h0M799 305h0M853 378h0M846 378h0M685 277h0M806 361h0M768 356h0M671 328h0M741 356h0M808 345h0M694 300h0M844 389h0M671 333h0M687 333h0M729 417h0M752 361h0M685 322h0M855 283h0M860 300h0M844 328h0M714 311h0M822 311h0M747 361h0M750 434h0M826 474h0M707 322h0M667 333h0M871 350h0M736 367h0M826 356h0M777 345h0M682 373h0M777 345h0M712 434h0M689 367h0M669 373h0M756 401h0M721 423h0M752 468h0M873 367h0M819 468h0M804 322h0M718 451h0M806 328h0M797 412h0M777 322h0M718 446h0M696 434h0M750 345h0M734 322h0M830 389h0M754 378h0M824 345h0M862 423h0M777 401h0M691 367h0M741 423h0M837 423h0M682 328h0M714 446h0M799 288h0M810 311h0M808 401h0M801 316h0M822 462h0M734 378h0M745 378h0M669 406h0M804 417h0M698 311h0M826 457h0M696 328h0M685 446h0M709 412h0M824 378h0M792 373h0M687 300h0M857 339h0M669 462h0M810 423h0M837 378h0M833 378h0M729 333h0M687 457h0M689 322h0M698 311h0M801 311h0M783 457h0M752 395h0M745 395h0M743 412h0M813 423h0M799 367h0M747 395h0M734 417h0M772 316h0M756 367h0M828 384h0M723 356h0M712 395h0M763 339h0M772 412h0M777 412h0M804 378h0M797 378h0M842 395h0M761 345h0M754 417h0M714 389h0M781 367h0M801 361h0M763 350h0M813 367h0M772 322h0M824 389h0M783 373h0M736 356h0M750 389h0M721 384h0M714 389h0M781 395h0M806 401h0M801 401h0M837 389h0M770 412h0M763 367h0M734 417h0M806 322h0M786 333h0M752 345h0M795 384h0M790 389h0M709 345h0M797 373h0M777 367h0M759 389h0M777 356h0M759 350h0M830 401h0M833 378h0M824 373h0M833 417h0M734 389h0M750 367h0M804 389h0M732 389h0M747 356h0M712 378h0M712 378h0M835 345h0M808 434h0M788 367h0M779 367h0M759 412h0M759 412h0M792 356h0M747 401h0M813 389h0M756 367h0M743 389h0M815 367h0M768 401h0M790 367h0M759 350h0M696 367h0M790 429h0M727 356h0M824 378h0M808 378h0M721 401h0M709 345h0M783 423h0M786 333h0M777 389h0M732 333h0M801 378h0M801 378h0M723 412h0M723 378h0M756 373h0M745 367h0M759 367h0M801 356h0M750 401h0M790 367h0M795 361h0M714 389h0M745 401h0M734 401h0M759 401h0M752 361h0M783 356h0M707 401h0M797 412h0M797 345h0M765 412h0M725 373h0M772 401h0M754 423h0M801 378h0M790 378h0M756 378h0M770 378h0M797 345h0M759 322h0M822 378h0M694 350h0M738 350h0M788 389h0M721 401h0M797 333h0M732 389h0M770 378h0M774 378h0M741 384h0M754 378h0M756 378h0M779 389h0M768 361h0M759 345h0M844 384h0M772 412h0M732 378h0M738 378h0M804 412h0M799 395h0M813 345h0M833 322h0M741 367h0M806 401h0M808 406h0M810 356h0M772 434h0M781 389h0M671 339h0M752 356h0M833 412h0M712 423h0M754 356h0M790 378h0M781 378h0M792 389h0M826 367h0M714 389h0M774 423h0M801 356h0M727 395h0M770 401h0M835 412h0M817 373h0M790 401h0M685 361h0M768 384h0M786 350h0M761 389h0M770 395h0M875 423h0M765 401h0M738 356h0M781 300h0M761 412h0M761 401h0M770 367h0M799 367h0M781 395h0M718 378h0M732 378h0M768 417h0M788 389h0M756 356h0M810 333h0M795 378h0M799 378h0M729 378h0M738 378h0M783 367h0M839 350h0M824 367h0M770 401h0M801 367h0M750 356h0M723 389h0M790 412h0M781 367h0M790 367h0M772 356h0M774 378h0M783 373h0M754 389h0M788 389h0M799 401h0M770 401h0M799 389h0M712 389h0M745 345h0M822 406h0M830 378h0M781 389h0M768 345h0M729 373h0M783 389h0M799 356h0M716 378h0M723 378h0M790 389h0M788 339h0M788 361h0M734 333h0M790 345h0M723 356h0M786 378h0M822 378h0M777 401h0M734 356h0M824 378h0M817 373h0M810 361h0M743 378h0M750 378h0M846 389h0M738 401h0M783 356h0M813 345h0M696 384h0M806 367h0M770 345h0M772 401h0M736 384h0M783 401h0M734 350h0M738 367h0M756 389h0M732 417h0M804 378h0M826 384h0M727 356h0M747 384h0M761 389h0M772 361h0M799 412h0M808 378h0M799 378h0M761 367h0M759 401h0M774 395h0M799 373h0M774 378h0M795 378h0M754 378h0M703 373h0M844 367h0M804 401h0M781 389h0M783 367h0M754 345h0M738 345h0M747 401h0M761 395h0M765 345h0M752 356h0M723 378h0M761 367h0M792 356h0M756 333h0M772 401h0M703 367h0M752 378h0M765 378h0M747 378h0M768 384h0M732 350h0M714 356h0M759 401h0M786 401h0M745 378h0M745 378h0M788 373h0M759 412h0M792 356h0M759 378h0M761 378h0M705 378h0M721 373h0M770 367h0M761 333h0M790 378h0M795 378h0M756 389h0M759 333h0M801 389h0M810 389h0M797 412h0M808 350h0M788 373h0M799 367h0M804 378h0M801 378h0M786 378h0M774 401h0M777 401h0M853 367h0M770 378h0M772 373h0M763 333h0M761 401h0M770 389h0M781 401h0M734 345h0M705 412h0M781 356h0M718 339h0M765 378h0M781 378h0M777 361h0M810 429h0M828 389h0M786 417h0M754 367h0M732 378h0M732 378h0M745 395h0M774 356h0M703 367h0M774 389h0M772 389h0M795 412h0M759 378h0M761 378h0M777 322h0M747 389h0M756 367h0M712 389h0M795 356h0M777 356h0M824 367h0M777 378h0M783 423h0M738 389h0M819 345h0M738 378h0M745 378h0M799 356h0M777 389h0M741 423h0M806 367h0M772 367h0M779 389h0M788 384h0M772 367h0M759 389h0M788 367h0M759 378h0M759 378h0M774 434h0M736 378h0M750 378h0M723 389h0M750 401h0M756 367h0M772 389h0M813 367h0M716 345h0M783 361h0M682 457h0M727 277h0M584 401h0M786 389h0M779 328h0M763 350h0M703 311h0M759 412h0M698 406h0M763 401h0M741 401h0M682 294h0M857 429h0M786 277h0M685 401h0M685 401h0M707 311h0M855 468h0M741 446h0M777 328h0M783 378h0M857 378h0M846 378h0M804 389h0M839 434h0M747 277h0M833 378h0M839 378h0M846 367h0M696 316h0M853 378h0M871 378h0M801 322h0M786 288h0M819 356h0M835 412h0M734 401h0M738 311h0M721 333h0M860 311h0M860 496h0M871 356h0M738 490h0M833 440h0M799 328h0" stroke="#5e9e7f" stroke-width="6.8" stroke-linecap="round" fill="none"/>
<path d="M495.8 189 495.5 182.9 495.7 176.8 496.5 170.6 498 164.6 500.3 158.8 503.3 153.4 506.9 148.3 511.2 143.8 515.9 139.9 521 136.6 526.3 133.7 531.7 131.4 537.3 129.6 542.9 128.3 548.5 127.5 554.1 127.2 559.6 127.2 565 127.4 570.4 127.8 575.6 128.7 580.8 130 585.8 131.8 590.7 133.9 595.4 136.4 599.9 139.1 604.3 142.2 608.4 145.6 612.1 149.4 615.6 153.6 618.6 158.1 621 162.9 622.8 167.9 624.1 173.2 624.9 178.4 625.2 183.7 625.3 189 625.2 194.3 624.9 199.6 624.2 204.8 622.9 210.1 621.2 215.2 618.8 220.1 615.9 224.7 612.6 228.9 608.9 232.9 604.9 236.5 600.5 239.7 595.8 242.4 590.9 244.5 585.8 246.2 580.7 247.4 575.4 248.2 570.2 248.6 565 248.7 559.8 248.5 554.6 247.9 549.5 246.8 544.5 245.3 539.6 243.4 534.8 241.3 530 239 525.2 236.4 520.4 233.6 515.9 230.2 511.6 226.4 507.6 222.1 504.2 217.3 501.4 212.1 499.3 206.6 497.7 200.9 496.6 195ZM520.7 189 520.2 185.1 520.1 181.1 520.4 177 521 173 522 169 523.4 165 525.3 161.2 527.9 157.8 531 155 534.5 152.7 538.2 150.7 542 149.1 545.8 147.9 549.7 146.9 553.6 146.3 557.4 146 561.2 145.8 565 145.7 568.8 145.8 572.6 146.1 576.3 146.7 580 147.7 583.6 149.1 587.1 150.7 590.5 152.6 593.7 154.8 596.6 157.4 599.2 160.3 601.3 163.6 602.9 167.1 604 170.8 604.8 174.5 605.3 178.2 605.4 181.9 605.3 185.5 605.1 189 605.2 192.5 605.4 196.1 605.3 199.8 604.9 203.5 604.1 207.2 603 210.9 601.4 214.5 599.3 217.8 596.7 220.7 593.7 223.2 590.5 225.4 587.1 227.4 583.6 228.9 580 230.2 576.3 231.2 572.5 231.8 568.8 232.2 565 232.3 561.2 232.1 557.5 231.7 553.8 230.9 550.2 229.8 546.6 228.4 543.3 226.7 540.1 224.6 537.1 222.3 534.4 219.6 531.9 216.7 529.8 213.6 527.9 210.4 526.4 207 525 203.5 523.8 200 522.6 196.5 521.5 192.8ZM547.5 189 547 187.4 546.4 185.7 545.8 183.9 545.5 181.9 545.4 179.9 545.5 177.7 545.9 175.6 546.6 173.6 547.6 171.6 548.8 169.7 550.2 167.9 552 166.5 554 165.4 556.1 164.6 558.3 164.1 560.6 163.8 562.8 163.7 565 163.7 567.2 164 569.3 164.4 571.4 165 573.5 165.8 575.4 166.7 577.2 167.8 578.9 169.2 580.3 170.7 581.6 172.4 582.7 174.2 583.6 176 584.3 177.8 584.9 179.7 585.2 181.6 585.6 183.5 585.9 185.3 586.1 187.2 586.2 189 586.2 190.9 586 192.7 585.6 194.5 585.1 196.3 584.4 198 583.6 199.7 582.8 201.4 581.8 203.1 580.8 204.8 579.5 206.3 578.2 207.8 576.6 209.2 575 210.4 573.2 211.5 571.3 212.4 569.2 213 567.1 213.1 565 212.7 563 212 561.1 211.1 559.4 210.1 557.7 208.9 556.3 207.7 554.9 206.5 553.6 205.3 552.4 204.1 551.3 202.7 550.4 201.3 549.6 199.8 548.9 198.3 548.4 196.7 548 195.2 547.8 193.6 547.8 192 547.7 190.5ZM694.2 183 698 176.1 701.7 169.7 705.7 163.9 709.8 158.5 713.8 153.6 718 148.9 722.4 144.8 727.1 141.1 731.9 137.9 736.7 135 741.5 132.3 746.3 129.8 751.2 127.8 756.3 126.1 761.4 124.7 766.5 123.6 771.7 122.8 777 122.4 782.3 122.2 787.7 122.3 793.1 122.8 798.5 123.8 803.9 125.3 809.2 127.2 814.5 129.5 819.7 132.1 824.8 135.2 829.7 138.8 834.3 142.9 838.7 147.4 842.7 152.4 846.3 157.8 849.5 163.6 852 169.8 853.5 176.3 853.9 183 853.3 189.7 851.9 196.2 849.6 202.4 846.3 208.2 842.4 213.5 838.3 218.4 834.1 223 829.8 227.3 825.4 231.4 820.7 235.1 815.7 238.3 810.6 241.2 805.3 243.7 799.9 245.8 794.3 247.4 788.6 248.6 782.8 249.3 777 249.7 771.1 250.1 765.1 250.2 759.1 249.9 753 249 746.8 247.8 740.3 246.6 733.2 245.6 725.6 244.3 717.7 242.3 709.7 239.5 701.5 235.9 693.5 231.2 687.2 224.9 683.8 216.9 683.5 208 686 199 690 190.6ZM720.8 183 722.5 178.2 724.6 173.8 726.8 169.6 729.2 165.6 731.7 161.9 734.4 158.4 737.4 155.3 740.7 152.5 744 150 747.5 147.8 750.9 145.7 754.4 143.8 758 142.2 761.7 140.9 765.5 140 769.3 139.4 773.2 139.1 777 138.9 780.9 138.7 784.8 138.6 788.8 138.8 792.9 139.4 796.9 140.3 800.9 141.7 804.8 143.3 808.7 145.3 812.5 147.5 816.1 150.1 819.7 153.1 822.9 156.5 825.8 160.2 828 164.4 829.4 168.9 830.1 173.6 830.3 178.3 830.1 183 829.5 187.6 828.5 192.1 827.1 196.4 825.4 200.6 823.3 204.6 821 208.4 818.5 212 815.8 215.6 812.9 218.9 809.8 222 806.3 224.9 802.7 227.4 798.8 229.7 794.7 231.5 790.4 233 786 234.1 781.5 234.8 777 235.2 772.4 235.3 767.8 235.3 763 235.1 758.2 234.6 753.4 233.6 748.6 232.1 743.8 230.4 739 228.3 734.1 225.9 729.2 223.1 724.8 219.5 721.5 215 719.6 209.8 718.7 204.2 718.5 198.7 718.8 193.3 719.6 188ZM743.5 183 744.3 180.1 745.2 177.4 746.3 174.8 747.4 172.2 748.6 169.8 750 167.4 751.6 165.2 753.4 163.2 755.3 161.3 757.4 159.6 759.5 158.1 761.8 156.6 764.1 155.3 766.5 154.2 769 153.2 771.6 152.5 774.3 152 777 151.7 779.7 151.7 782.5 151.8 785.2 152.2 788 152.9 790.7 153.7 793.3 154.8 795.8 156.2 798.2 157.8 800.4 159.6 802.3 161.8 803.9 164.2 805.2 166.7 806.3 169.3 807.2 172 807.8 174.7 808.2 177.5 808.3 180.3 808.2 183 807.9 185.7 807.3 188.4 806.6 190.9 805.6 193.4 804.3 195.8 803 198 801.6 200.2 800.2 202.4 798.7 204.7 797.1 207 795.3 209.1 793.2 211.1 790.9 212.9 788.5 214.5 785.8 216 783.1 217.4 780.1 218.7 777 219.9 773.7 220.9 770.2 221.5 766.7 221.5 763.2 220.8 759.9 219.7 756.7 218.2 753.6 216.4 750.9 214.1 748.7 211.3 746.9 208.3 745.5 205.1 744.4 201.8 743.6 198.6 743 195.4 742.7 192.2 742.7 189.1 743 186ZM765.9 183 765.8 182 765.6 181 765.5 179.9 765.5 178.8 765.6 177.7 765.7 176.5 766 175.3 766.4 174.1 767 173 767.7 171.9 768.6 171 769.6 170.2 770.7 169.5 771.9 168.9 773.1 168.4 774.4 168 775.7 167.9 777 167.9 778.3 168.2 779.5 168.6 780.7 169.1 781.8 169.7 782.9 170.4 783.8 171.2 784.6 172.1 785.4 173 786 174 786.5 175.1 786.8 176.1 787.1 177.2 787.2 178.2 787.2 179.3 787.2 180.3 787 181.2 786.7 182.1 786.4 183 786.2 183.8 786 184.6 785.8 185.4 785.6 186.1 785.3 186.9 784.9 187.6 784.5 188.3 784.1 188.9 783.6 189.6 783 190.1 782.3 190.6 781.7 191.1 781 191.5 780.2 191.8 779.4 192.1 778.6 192.3 777.8 192.5 777 192.6 776.2 192.6 775.3 192.5 774.5 192.4 773.7 192.2 772.9 191.9 772.1 191.5 771.3 191.1 770.6 190.6 769.9 190.1 769.2 189.6 768.5 188.9 768 188.2 767.4 187.5 767 186.6 766.6 185.8 766.3 184.9 766 184ZM486.9 375.5 488.4 368.6 491.1 362.1 494.2 355.9 497.7 350.2 501.4 344.8 505.4 339.8 509.3 334.9 513.1 330 516.9 325.1 521 320.4 525.6 316 530.6 311.9 535.9 308.1 541.5 304.7 547.6 301.8 553.9 299.8 560.6 298.6 567.3 298.1 574.1 298.3 580.8 299.2 587.3 300.7 593.8 302.8 599.9 305.5 605.7 308.9 611.1 312.9 616.1 317.3 620.7 322.1 624.7 327.3 628.3 332.8 631.3 338.5 633.8 344.5 635.6 350.6 636.9 356.9 637.5 363.1 637.5 369.4 636.9 375.5 635.6 381.5 633.7 387.2 631.4 392.7 628.8 397.9 626.2 402.9 623.3 407.8 620.1 412.5 616.5 416.8 612.6 420.8 608.5 424.6 604.4 428.4 600.1 432.3 595.5 436 590.5 439.3 585.1 442 579.4 444 573.4 445 567.3 445.1 561.3 444 555.6 442 550.1 439.7 544.9 437.2 539.8 434.5 535 431.5 530.4 428.1 526.2 424.5 521.9 420.9 517.1 417.6 511.8 414.4 506.2 410.8 500.8 406.5 495.9 401.5 491.8 395.7 488.8 389.3 487 382.5ZM510.4 375.5 510.6 370.5 511.3 365.6 512.3 360.8 513.8 356 515.7 351.5 518 347.1 520.7 342.9 523.7 338.9 527 335.2 530.6 331.7 534.4 328.5 538.5 325.6 542.8 323 547.4 320.8 552.1 318.9 557.1 317.4 562.1 316.3 567.3 315.7 572.5 315.7 577.8 316.2 582.9 317.2 588 318.8 592.8 320.7 597.5 323.2 601.8 326.2 605.6 329.8 609.1 333.7 612.1 337.9 614.7 342.3 616.8 346.9 618.4 351.7 619.5 356.5 620.1 361.4 620.2 366.2 620 370.9 619.5 375.5 618.7 380 617.6 384.4 616.2 388.6 614.5 392.7 612.4 396.5 610.1 400.2 607.5 403.7 604.7 406.9 601.6 409.8 598.3 412.5 594.8 414.8 591.2 416.9 587.4 418.6 583.5 419.9 579.5 420.9 575.4 421.6 571.4 421.9 567.3 422.1 563.2 421.9 559.2 421.4 555.2 420.6 551.3 419.5 547.3 418.4 543.2 417.3 539.1 415.8 535 414 531 411.8 527.1 409.2 523.5 406.1 520.3 402.6 517.5 398.7 515.2 394.5 513.3 390 511.8 385.3 510.8 380.4ZM518.6 375.5 518.8 371.3 519.3 367 520.2 362.9 521.5 358.8 523.1 354.9 525.1 351.1 527.4 347.6 530 344.2 532.8 341 535.8 338 539.1 335.2 542.6 332.7 546.3 330.6 550.3 328.7 554.3 327.1 558.5 325.8 562.9 324.9 567.3 324.4 571.8 324.3 576.2 324.8 580.6 325.7 585 327 589.1 328.7 593.1 330.8 596.8 333.4 600.1 336.4 603 339.8 605.6 343.3 607.9 347.1 609.7 351 611.1 355.1 612 359.2 612.5 363.4 612.7 367.5 612.5 371.5 612.1 375.5 611.4 379.4 610.5 383.1 609.3 386.8 607.9 390.3 606.1 393.6 604.1 396.8 601.9 399.7 599.5 402.5 596.9 405.1 594 407.3 591 409.4 587.9 411.1 584.6 412.6 581.2 413.7 577.8 414.6 574.3 415.2 570.8 415.5 567.3 415.6 563.8 415.5 560.3 415 556.9 414.3 553.5 413.4 550.1 412.5 546.6 411.4 543 410.2 539.5 408.6 536.1 406.7 532.8 404.4 529.8 401.8 527 398.8 524.6 395.4 522.7 391.7 521 387.9 519.7 383.9 518.9 379.7ZM526.8 375.5 526.9 372 527.4 368.5 528.1 365 529.2 361.6 530.5 358.4 532.2 355.2 534.1 352.2 536.2 349.4 538.6 346.8 541.1 344.3 543.8 342 546.8 339.9 549.9 338.1 553.1 336.5 556.5 335.2 560 334.2 563.6 333.4 567.3 333 571 333 574.7 333.4 578.4 334.1 582 335.2 585.4 336.6 588.7 338.4 591.8 340.5 594.6 343 597 345.8 599.2 348.8 601 351.9 602.6 355.1 603.7 358.5 604.5 361.9 605 365.4 605.2 368.8 605.1 372.2 604.7 375.5 604.2 378.7 603.4 381.9 602.5 384.9 601.2 387.8 599.8 390.6 598.1 393.3 596.3 395.8 594.3 398.1 592.1 400.3 589.7 402.2 587.2 403.9 584.5 405.4 581.8 406.6 579 407.6 576.1 408.3 573.2 408.8 570.2 409.1 567.3 409.2 564.4 409.1 561.4 408.7 558.6 408.1 555.7 407.3 552.8 406.5 549.9 405.6 547 404.6 544 403.2 541.2 401.6 538.5 399.7 536 397.4 533.7 394.9 531.7 392.1 530.1 389 528.7 385.8 527.7 382.5 527 379ZM534.9 375.5 535 372.7 535.4 369.9 536 367.1 536.9 364.4 537.9 361.8 539.2 359.3 540.8 356.9 542.5 354.7 544.4 352.6 546.4 350.6 548.6 348.7 550.9 347.1 553.4 345.7 556 344.4 558.7 343.4 561.5 342.6 564.4 342 567.3 341.7 570.3 341.6 573.2 342 576.1 342.6 579 343.4 581.7 344.5 584.4 345.9 586.8 347.6 589 349.6 591 351.8 592.7 354.2 594.2 356.6 595.5 359.2 596.4 361.9 597.1 364.7 597.5 367.4 597.7 370.1 597.6 372.9 597.3 375.5 596.9 378.1 596.4 380.6 595.6 383.1 594.6 385.4 593.4 387.7 592.1 389.8 590.7 391.9 589 393.7 587.3 395.5 585.4 397 583.3 398.4 581.2 399.6 579 400.6 576.7 401.4 574.4 402 572 402.4 569.7 402.7 567.3 402.7 564.9 402.6 562.6 402.3 560.2 401.8 557.9 401.2 555.6 400.5 553.3 399.8 550.9 398.9 548.6 397.8 546.3 396.5 544.2 394.9 542.2 393.1 540.4 391 538.8 388.8 537.5 386.3 536.5 383.8 535.6 381.1 535.1 378.3ZM543.1 375.5 543.2 373.4 543.4 371.3 543.9 369.2 544.5 367.2 545.3 365.3 546.3 363.4 547.5 361.6 548.7 359.9 550.1 358.3 551.7 356.9 553.3 355.5 555.1 354.3 556.9 353.2 558.9 352.3 560.9 351.6 563 351 565.1 350.5 567.3 350.3 569.5 350.3 571.7 350.5 573.9 351 576 351.6 578 352.5 580 353.5 581.8 354.8 583.5 356.2 584.9 357.9 586.3 359.6 587.4 361.4 588.4 363.3 589.1 365.3 589.6 367.4 590 369.4 590.1 371.5 590.1 373.5 590 375.5 589.7 377.5 589.3 379.4 588.7 381.2 588 383 587.1 384.7 586.1 386.4 585 387.9 583.8 389.4 582.5 390.7 581 391.9 579.5 392.9 577.9 393.8 576.2 394.6 574.5 395.3 572.7 395.7 570.9 396 569.1 396.2 567.3 396.3 565.5 396.2 563.7 396 561.9 395.6 560.2 395.1 558.4 394.6 556.6 394 554.9 393.3 553.1 392.4 551.5 391.3 549.9 390.1 548.4 388.7 547.1 387.2 545.9 385.5 545 383.6 544.2 381.7 543.6 379.7 543.2 377.6ZM551.2 375.5 551.3 374.1 551.5 372.7 551.8 371.3 552.2 370 552.7 368.7 553.4 367.5 554.1 366.3 555 365.2 555.9 364.1 556.9 363.2 558 362.3 559.2 361.5 560.4 360.8 561.7 360.2 563.1 359.7 564.5 359.3 565.9 359.1 567.3 359 568.7 359 570.2 359.1 571.6 359.4 573 359.9 574.3 360.4 575.6 361.1 576.8 361.9 577.9 362.8 578.9 363.9 579.8 365 580.6 366.2 581.2 367.4 581.8 368.7 582.2 370.1 582.5 371.4 582.6 372.8 582.6 374.2 582.6 375.5 582.4 376.8 582.2 378.1 581.8 379.4 581.3 380.6 580.8 381.8 580.1 382.9 579.4 384 578.6 385 577.7 385.9 576.7 386.7 575.7 387.4 574.6 388.1 573.4 388.6 572.2 389.1 571 389.4 569.8 389.7 568.6 389.8 567.3 389.8 566 389.8 564.8 389.6 563.6 389.4 562.4 389 561.2 388.6 560 388.2 558.8 387.6 557.7 387 556.6 386.2 555.6 385.3 554.6 384.4 553.8 383.3 553 382.1 552.4 380.9 551.9 379.6 551.6 378.3 551.3 376.9ZM559.4 375.5 559.4 374.8 559.5 374.1 559.7 373.5 559.9 372.8 560.1 372.2 560.5 371.6 560.8 371 561.2 370.4 561.7 369.9 562.2 369.4 562.8 369 563.3 368.7 564 368.3 564.6 368.1 565.3 367.9 565.9 367.7 566.6 367.6 567.3 367.6 568 367.6 568.7 367.7 569.3 367.9 570 368.1 570.6 368.3 571.2 368.7 571.8 369 572.4 369.4 572.9 369.9 573.4 370.4 573.8 371 574.1 371.6 574.5 372.2 574.7 372.8 574.9 373.5 575.1 374.1 575.2 374.8 575.2 375.5 575.2 376.2 575.1 376.9 574.9 377.5 574.7 378.2 574.5 378.8 574.1 379.4 573.8 380 573.4 380.6 572.9 381.1 572.4 381.6 571.8 382 571.2 382.3 570.6 382.7 570 382.9 569.3 383.1 568.7 383.3 568 383.4 567.3 383.4 566.6 383.4 565.9 383.3 565.3 383.1 564.6 382.9 564 382.7 563.3 382.3 562.8 382 562.2 381.6 561.7 381.1 561.2 380.6 560.8 380 560.5 379.4 560.1 378.8 559.9 378.2 559.7 377.5 559.5 376.9 559.4 376.2ZM657.3 377.5 657.3 367.3 658.9 357.2 661.8 347.5 666 338.2 671.2 329.6 677.4 321.8 684.5 314.9 692.3 309 700.5 304.1 708.9 300.1 717.5 296.9 726 294.6 734.5 292.9 742.7 291.8 750.8 291.3 758.7 291.1 766.3 291.1 773.9 291.4 781.4 292.3 788.7 293.8 795.8 295.7 802.9 297.7 810.1 299.9 817.3 302.3 824.4 305.4 831.2 309.2 837.8 313.6 844 318.7 849.8 324.3 854.9 330.7 859.2 337.7 862.6 345.2 865.2 353 867 361.1 867.9 369.3 868 377.5 867.2 385.7 865.7 393.7 863.5 401.5 860.6 409.1 857.1 416.3 853.1 423.2 848.5 429.7 843.6 436 838.7 442.3 833.4 448.4 827.7 454.3 821.3 459.5 814.2 463.8 806.5 467.1 798.5 469.5 790.3 470.8 782.1 470.8 773.9 469.6 766.1 467.2 758.7 463.8 751.8 459.9 745.3 455.9 739 452.3 732.8 448.7 726.8 444.7 720.8 440.8 714.1 437.3 706.6 434 698.6 430.2 690.6 425.6 682.7 420 675.2 413.4 668.4 405.8 663 397.1 659.2 387.5ZM673.3 377.5 673.9 368.8 675.9 360.2 678.9 352.1 682.9 344.4 687.7 337.3 693.3 330.9 699.4 325.3 706 320.5 713 316.6 720.2 313.5 727.4 311 734.4 309.1 741.3 307.7 748.1 306.7 754.8 306.2 761.3 306 767.6 305.5 773.9 305.2 780.2 305.1 786.6 305.7 792.9 306.7 799.1 308.3 805.3 310.2 811.6 312.2 818.1 314.4 824.6 317.1 831 320.4 837 324.6 842.3 329.6 846.6 335.5 850.1 342 852.9 348.8 854.9 355.8 856.1 363 856.4 370.3 856 377.5 854.9 384.6 853 391.4 850.2 397.9 846.7 404 842.8 409.6 838.6 414.9 834.2 419.8 829.6 424.2 824.7 428.3 819.5 431.8 814.1 434.9 808.5 437.5 802.9 439.6 797.1 441.2 791.3 442.3 785.4 442.8 779.6 442.8 773.9 442.2 768.3 441.1 763 439.4 757.8 437.5 752.7 435.9 747.2 434.8 741.4 433.8 735.4 432.5 729.4 430.5 723.2 428.2 716.2 425.9 707.9 423.7 699 420.7 690.7 416.3 684.2 410.2 679.4 402.8 676 394.8 674 386.2ZM681.8 377.5 682.3 369.5 684.1 361.7 686.9 354.2 690.6 347.2 695 340.7 700.1 334.9 705.7 329.8 711.8 325.4 718.1 321.7 724.7 318.9 731.3 316.7 737.8 314.9 744.1 313.5 750.3 312.7 756.4 312.2 762.3 312 768.1 311.6 773.9 311.2 779.7 311.2 785.5 311.7 791.3 312.7 797 314.1 802.7 315.8 808.5 317.6 814.4 319.7 820.4 322.1 826.2 325.2 831.7 329 836.6 333.6 840.6 339 843.8 344.9 846.4 351.1 848.3 357.6 849.4 364.2 849.7 370.9 849.4 377.5 848.4 384 846.6 390.3 844 396.3 840.9 401.9 837.3 407 833.4 411.9 829.3 416.3 825.1 420.4 820.5 424.1 815.8 427.4 810.8 430.2 805.7 432.6 800.5 434.5 795.2 436 789.8 437 784.5 437.5 779.1 437.4 773.9 436.9 768.8 435.9 763.9 434.4 759.1 432.7 754.4 431.2 749.4 430.1 744 429.3 738.5 428 733 426.2 727.3 424.1 720.9 422 713.4 419.9 705.3 417.1 697.7 413 691.7 407.4 687.4 400.7 684.3 393.3 682.4 385.5ZM690.3 377.5 690.8 370.2 692.4 363.1 695 356.4 698.3 350 702.3 344.1 706.9 338.8 712 334.2 717.5 330.2 723.3 326.9 729.3 324.3 735.2 322.3 741.1 320.7 746.8 319.4 752.5 318.6 758 318.2 763.4 318 768.7 317.6 773.9 317.3 779.2 317.3 784.4 317.7 789.7 318.6 794.9 319.9 800 321.4 805.3 323.1 810.7 324.9 816.1 327.2 821.4 330 826.4 333.4 830.9 337.6 834.5 342.5 837.5 347.8 839.9 353.5 841.7 359.3 842.7 365.4 843 371.5 842.8 377.5 841.8 383.4 840.2 389.2 837.9 394.6 835 399.7 831.7 404.5 828.2 408.8 824.5 412.9 820.5 416.6 816.4 420 812 422.9 807.5 425.5 802.8 427.6 798.1 429.4 793.3 430.7 788.4 431.6 783.5 432.1 778.7 432.1 773.9 431.6 769.2 430.7 764.8 429.3 760.4 427.8 756.1 426.4 751.5 425.5 746.7 424.7 741.7 423.5 736.7 421.9 731.5 419.9 725.7 418 718.9 416 711.5 413.5 704.7 409.8 699.3 404.7 695.3 398.6 692.5 391.8 690.9 384.8ZM698.8 377.5 699.2 371 700.7 364.6 703 358.5 706 352.8 709.6 347.5 713.7 342.8 718.3 338.6 723.3 335 728.5 332.1 733.8 329.7 739.2 327.9 744.4 326.4 749.6 325.3 754.6 324.6 759.6 324.2 764.5 324 769.2 323.7 773.9 323.4 778.6 323.4 783.4 323.8 788.1 324.5 792.8 325.7 797.4 327.1 802.2 328.6 807 330.2 811.9 332.2 816.6 334.8 821.2 337.8 825.2 341.6 828.5 346 831.2 350.8 833.4 355.8 835 361.1 836 366.5 836.3 372 836.1 377.5 835.3 382.9 833.8 388.1 831.7 393 829.1 397.6 826.1 401.9 822.9 405.8 819.6 409.5 816 412.8 812.2 415.8 808.3 418.5 804.2 420.8 800 422.7 795.7 424.3 791.4 425.5 787 426.3 782.6 426.7 778.2 426.7 773.9 426.3 769.7 425.5 765.6 424.3 761.7 422.9 757.8 421.7 753.7 420.9 749.3 420.1 744.8 419.1 740.3 417.6 735.6 415.8 730.4 414 724.3 412.2 717.8 409.9 711.7 406.5 706.9 401.9 703.3 396.4 700.8 390.4 699.3 384ZM707.3 377.5 707.7 371.7 709 366.1 711 360.6 713.7 355.6 716.9 350.9 720.6 346.7 724.6 343 729 339.8 733.6 337.2 738.3 335.1 743.1 333.5 747.8 332.2 752.3 331.2 756.8 330.5 761.2 330.2 765.5 330 769.7 329.7 773.9 329.5 778.1 329.5 782.3 329.8 786.5 330.5 790.6 331.5 794.8 332.7 799 334 803.3 335.5 807.6 337.3 811.9 339.5 815.9 342.3 819.5 345.6 822.5 349.5 824.9 353.7 826.9 358.2 828.4 362.9 829.3 367.7 829.6 372.6 829.5 377.5 828.8 382.3 827.5 386.9 825.6 391.3 823.2 395.5 820.6 399.3 817.7 402.8 814.7 406 811.5 409 808.1 411.7 804.6 414 800.9 416.1 797.1 417.8 793.3 419.2 789.4 420.2 785.5 420.9 781.6 421.3 777.7 421.3 773.9 421 770.2 420.3 766.5 419.3 763 418.1 759.5 417 755.8 416.2 751.9 415.6 747.9 414.6 743.9 413.3 739.8 411.6 735.1 410 729.8 408.4 724 406.3 718.7 403.2 714.4 399.1 711.3 394.3 709.1 388.9 707.7 383.3ZM715.7 377.5 716.1 372.4 717.2 367.5 719 362.8 721.4 358.4 724.2 354.3 727.4 350.7 731 347.4 734.8 344.7 738.8 342.4 742.9 340.5 747 339.1 751.1 338 755.1 337.1 759 336.5 762.8 336.2 766.6 336 770.2 335.7 773.9 335.5 777.6 335.5 781.2 335.8 784.9 336.4 788.5 337.3 792.2 338.4 795.8 339.5 799.6 340.8 803.4 342.4 807.1 344.3 810.6 346.7 813.8 349.6 816.4 352.9 818.6 356.6 820.4 360.6 821.8 364.7 822.6 368.9 823 373.2 822.8 377.5 822.2 381.7 821.1 385.8 819.4 389.7 817.4 393.3 815 396.7 812.5 399.8 809.8 402.6 806.9 405.2 804 407.6 800.8 409.6 797.6 411.3 794.3 412.8 790.9 414 787.5 415 784.1 415.6 780.7 415.9 777.3 415.9 773.9 415.6 770.6 415.1 767.4 414.2 764.3 413.2 761.2 412.3 758 411.6 754.6 411 751.1 410.1 747.5 408.9 743.9 407.5 739.9 406.1 735.2 404.6 730.3 402.7 725.7 400 722 396.4 719.3 392.1 717.3 387.5 716.2 382.6ZM724.2 377.5 724.5 373.2 725.5 369 727.1 364.9 729 361.2 731.5 357.7 734.2 354.6 737.3 351.8 740.5 349.5 743.9 347.5 747.4 346 751 344.7 754.4 343.8 757.8 343 761.1 342.5 764.4 342.2 767.6 342 770.8 341.8 773.9 341.6 777 341.6 780.2 341.9 783.3 342.4 786.4 343.1 789.5 344 792.7 345 795.9 346.1 799.1 347.4 802.3 349.1 805.4 351.1 808.1 353.6 810.4 356.4 812.3 359.6 813.9 362.9 815.2 366.4 815.9 370.1 816.3 373.8 816.2 377.5 815.7 381.2 814.7 384.7 813.3 388.1 811.5 391.2 809.4 394.1 807.2 396.7 804.9 399.2 802.4 401.4 799.8 403.4 797.1 405.1 794.3 406.6 791.5 407.9 788.6 408.9 785.6 409.7 782.7 410.2 779.7 410.5 776.8 410.6 773.9 410.3 771.1 409.9 768.3 409.2 765.6 408.3 763 407.6 760.1 407 757.2 406.4 754.2 405.7 751.1 404.6 748 403.4 744.6 402.1 740.7 400.8 736.5 399.1 732.7 396.7 729.6 393.6 727.2 390 725.6 386 724.6 381.8ZM732.7 377.5 733 373.9 733.8 370.4 735.1 367.1 736.7 364 738.7 361.1 741.1 358.5 743.6 356.3 746.3 354.3 749.1 352.7 752 351.4 754.9 350.3 757.7 349.5 760.6 348.9 763.3 348.4 766 348.2 768.7 348 771.3 347.8 773.9 347.7 776.5 347.7 779.1 347.9 781.7 348.3 784.3 348.9 786.9 349.6 789.5 350.4 792.2 351.4 794.9 352.5 797.6 353.8 800.1 355.5 802.4 357.6 804.4 359.9 806 362.5 807.5 365.3 808.5 368.2 809.2 371.3 809.6 374.4 809.5 377.5 809.1 380.6 808.3 383.6 807.1 386.4 805.6 389 803.9 391.5 802 393.7 800 395.8 797.9 397.6 795.7 399.3 793.4 400.7 791 401.9 788.6 403 786.2 403.8 783.7 404.5 781.2 404.9 778.8 405.2 776.3 405.2 773.9 405 771.5 404.7 769.2 404.1 766.9 403.5 764.7 402.9 762.3 402.4 759.8 401.9 757.3 401.2 754.8 400.3 752.2 399.2 749.3 398.1 746.1 396.9 742.8 395.5 739.7 393.5 737.1 390.9 735.2 387.9 733.8 384.6 733 381.1ZM741.2 377.5 741.4 374.7 742.1 371.9 743.1 369.2 744.4 366.8 746 364.5 747.9 362.5 749.9 360.7 752 359.1 754.3 357.9 756.5 356.8 758.8 356 761.1 355.3 763.3 354.8 765.5 354.4 767.6 354.1 769.8 354 771.8 353.8 773.9 353.8 776 353.8 778.1 353.9 780.1 354.2 782.2 354.7 784.3 355.3 786.4 355.9 788.5 356.6 790.7 357.5 792.8 358.6 794.8 359.9 796.7 361.5 798.3 363.4 799.8 365.4 801 367.6 801.9 370 802.6 372.4 802.9 375 802.9 377.5 802.6 380 801.9 382.4 801 384.8 799.7 386.9 798.3 388.9 796.7 390.7 795.1 392.3 793.3 393.8 791.5 395.1 789.6 396.3 787.7 397.2 785.8 398 783.8 398.7 781.8 399.2 779.8 399.6 777.8 399.8 775.9 399.8 773.9 399.7 772 399.5 770.1 399.1 768.2 398.6 766.4 398.1 764.5 397.7 762.5 397.3 760.4 396.7 758.4 396 756.3 395.1 754.1 394.1 751.6 393.1 749 391.9 746.6 390.2 744.7 388.1 743.2 385.7 742.1 383.1 741.4 380.3ZM749.7 377.5 749.9 375.4 750.4 373.3 751.1 371.4 752.1 369.6 753.3 367.9 754.7 366.4 756.2 365.1 757.8 364 759.4 363 761.1 362.2 762.8 361.6 764.4 361.1 766 360.6 767.7 360.3 769.2 360.1 770.8 360 772.4 359.9 773.9 359.8 775.4 359.8 777 360 778.5 360.2 780.1 360.5 781.6 360.9 783.2 361.4 784.8 361.9 786.4 362.6 788 363.4 789.5 364.4 791 365.5 792.3 366.9 793.5 368.4 794.5 370 795.3 371.8 795.9 373.6 796.2 375.6 796.2 377.5 796 379.4 795.6 381.3 794.8 383.1 793.9 384.8 792.7 386.3 791.5 387.7 790.2 388.9 788.8 390 787.4 391 785.9 391.8 784.4 392.5 782.9 393.1 781.4 393.6 779.9 394 778.4 394.2 776.9 394.4 775.4 394.4 773.9 394.4 772.4 394.3 771 394 769.5 393.7 768.1 393.4 766.6 393.1 765.1 392.7 763.6 392.3 762 391.7 760.4 391 758.8 390.2 757 389.3 755.3 388.3 753.6 387 752.3 385.4 751.2 383.6 750.4 381.6 749.9 379.6ZM758.2 377.5 758.3 376.1 758.6 374.8 759.1 373.5 759.8 372.4 760.6 371.3 761.5 370.4 762.5 369.5 763.5 368.8 764.6 368.2 765.6 367.6 766.7 367.2 767.7 366.8 768.8 366.5 769.8 366.3 770.9 366.1 771.9 366 772.9 365.9 773.9 365.9 774.9 365.9 775.9 366 776.9 366.1 778 366.3 779 366.5 780.1 366.8 781.1 367.2 782.2 367.6 783.2 368.2 784.3 368.8 785.3 369.5 786.3 370.4 787.2 371.3 788 372.4 788.7 373.5 789.2 374.8 789.5 376.1 789.6 377.5 789.5 378.9 789.2 380.2 788.7 381.5 788 382.6 787.2 383.7 786.3 384.6 785.3 385.5 784.3 386.2 783.2 386.8 782.2 387.4 781.1 387.8 780.1 388.2 779 388.5 778 388.7 776.9 388.9 775.9 389 774.9 389.1 773.9 389.1 772.9 389.1 771.9 389 770.9 388.9 769.8 388.7 768.8 388.5 767.7 388.2 766.7 387.8 765.6 387.4 764.6 386.8 763.5 386.2 762.5 385.5 761.5 384.6 760.6 383.7 759.8 382.6 759.1 381.5 758.6 380.2 758.3 378.9Z" fill="none" stroke="#2e3785" stroke-width="1.9" stroke-linejoin="round"/>
<rect x="406.5" y="31.5" width="493" height="492.5" fill="none" stroke="#111" stroke-width="2.6"/>
<line x1="400.5" y1="501.6" x2="406.5" y2="501.6" stroke="#333" stroke-width="1.3" />
<text x="399.5" y="508.6" font-size="20" fill="#444" text-anchor="end">−100</text>
<line x1="428.8" y1="524" x2="428.8" y2="530" stroke="#333" stroke-width="1.3" />
<text x="428.8" y="551" font-size="20" fill="#444" text-anchor="middle">−100</text>
<line x1="400.5" y1="389.4" x2="406.5" y2="389.4" stroke="#333" stroke-width="1.3" />
<text x="399.5" y="396.4" font-size="20" fill="#444" text-anchor="end">−50</text>
<line x1="541" y1="524" x2="541" y2="530" stroke="#333" stroke-width="1.3" />
<text x="541" y="551" font-size="20" fill="#444" text-anchor="middle">−50</text>
<line x1="400.5" y1="277.2" x2="406.5" y2="277.2" stroke="#333" stroke-width="1.3" />
<text x="399.5" y="284.2" font-size="20" fill="#444" text-anchor="end">0</text>
<line x1="653.2" y1="524" x2="653.2" y2="530" stroke="#333" stroke-width="1.3" />
<text x="653.2" y="551" font-size="20" fill="#444" text-anchor="middle">0</text>
<line x1="400.5" y1="165" x2="406.5" y2="165" stroke="#333" stroke-width="1.3" />
<text x="399.5" y="172" font-size="20" fill="#444" text-anchor="end">50</text>
<line x1="765.4" y1="524" x2="765.4" y2="530" stroke="#333" stroke-width="1.3" />
<text x="765.4" y="551" font-size="20" fill="#444" text-anchor="middle">50</text>
<line x1="400.5" y1="52.8" x2="406.5" y2="52.8" stroke="#333" stroke-width="1.3" />
<text x="399.5" y="59.8" font-size="20" fill="#444" text-anchor="end">100</text>
<line x1="877.6" y1="524" x2="877.6" y2="530" stroke="#333" stroke-width="1.3" />
<text x="877.6" y="551" font-size="20" fill="#444" text-anchor="middle">100</text>
<text x="512" y="579.5" font-size="21.5" textLength="276.3" lengthAdjust="spacingAndGlyphs">Interacting CTCF site at the</text>
<text x="519" y="605.5" font-size="21.5" textLength="267.7" lengthAdjust="spacingAndGlyphs">alpha globin locus (HS-56)</text>
<text x="327" y="362" font-size="21.5" textLength="205" lengthAdjust="spacingAndGlyphs" transform="rotate(-90 327 362)">Viewpoint CTCF site</text>
<text x="358" y="362" font-size="21.5" textLength="212" lengthAdjust="spacingAndGlyphs" transform="rotate(-90 358 362)" xml:space="preserve">alpha globin  (HS-38)</text>
<text x="973.5" y="28.6" font-size="30" font-weight="bold">b</text>
<rect x="1028.7" y="215.8" width="3.5" height="51.7" fill="#aaaaaa" />
<rect x="1028.5" y="267.5" width="3.9" height="4.3" fill="#c8161d" />
<rect x="1034.5" y="215.8" width="3.5" height="51.7" fill="#aaaaaa" />
<rect x="1034.2" y="267.5" width="3.9" height="4.3" fill="#c8161d" />
<rect x="1040.2" y="215.8" width="3.5" height="51.7" fill="#aaaaaa" />
<rect x="1040" y="267.5" width="3.9" height="4.3" fill="#c8161d" />
<rect x="1046" y="207.7" width="3.5" height="59.8" fill="#f08a24" />
<rect x="1045.8" y="267.5" width="3.9" height="4.3" fill="#c8161d" />
<rect x="1034.2" y="186.3" width="3.9" height="3.9" fill="#2b8cb8" />
<rect x="1034.5" y="190.2" width="3.5" height="19.4" fill="#aaaaaa" />
<rect x="1040" y="186.3" width="3.9" height="3.9" fill="#2b8cb8" />
<rect x="1040.2" y="190.2" width="3.5" height="19.4" fill="#aaaaaa" />
<rect x="1045.8" y="186.3" width="3.9" height="3.9" fill="#2b8cb8" />
<rect x="1046" y="190.2" width="3.5" height="11.6" fill="#aaaaaa" />
<rect x="1051.3" y="186.3" width="3.5" height="27.2" fill="#aaaaaa" />
<rect x="1051.1" y="213.5" width="3.9" height="4.3" fill="#c8161d" />
<rect x="1051.1" y="222.5" width="3.9" height="3.8" fill="#2b8cb8" />
<rect x="1051.3" y="226.3" width="3.5" height="60.6" fill="#aaaaaa" />
<rect x="1057.3" y="178.1" width="3.5" height="35.4" fill="#aaaaaa" />
<rect x="1057.1" y="213.5" width="3.9" height="4.3" fill="#c8161d" />
<rect x="1057.1" y="222.5" width="3.9" height="3.8" fill="#2b8cb8" />
<rect x="1057.3" y="226.3" width="3.5" height="60.2" fill="#aaaaaa" />
<rect x="1062.8" y="177.5" width="3.5" height="36" fill="#aaaaaa" />
<rect x="1062.6" y="213.5" width="3.9" height="4.3" fill="#c8161d" />
<rect x="1062.6" y="222.5" width="3.9" height="3.8" fill="#2b8cb8" />
<rect x="1062.8" y="226.3" width="3.5" height="59.5" fill="#aaaaaa" />
<rect x="1068.8" y="169.6" width="3.5" height="43.9" fill="#aaaaaa" />
<rect x="1068.6" y="213.5" width="3.9" height="4.3" fill="#c8161d" />
<rect x="1068.6" y="222.5" width="3.9" height="3.8" fill="#2b8cb8" />
<rect x="1068.8" y="226.3" width="3.5" height="65.2" fill="#d81b7a" />
<rect x="1078" y="156.5" width="162" height="162" fill="none" stroke="#9a9a9a" stroke-width="3.3"/>
<rect x="1092" y="323.3" width="76.1" height="3.4" fill="#d81b7a" />
<rect x="1168.1" y="323.1" width="4.3" height="3.8" fill="#2b8cb8" />
<rect x="1104.4" y="328.7" width="35.3" height="3.4" fill="#aaaaaa" />
<rect x="1139.7" y="328.5" width="4.3" height="3.8" fill="#3d8f95" />
<rect x="1111.9" y="334.4" width="27.8" height="3.4" fill="#aaaaaa" />
<rect x="1139.7" y="334.2" width="4.3" height="3.8" fill="#3d8f95" />
<rect x="1116.1" y="339.9" width="23.6" height="3.4" fill="#aaaaaa" />
<rect x="1139.7" y="339.7" width="4.3" height="3.8" fill="#3d8f95" />
<rect x="1205" y="323.1" width="4.4" height="3.8" fill="#c8161d" />
<rect x="1209.4" y="323.3" width="43.9" height="3.4" fill="#aaaaaa" />
<rect x="1205" y="328.5" width="4.4" height="3.8" fill="#c8161d" />
<rect x="1209.4" y="328.7" width="35.9" height="3.4" fill="#aaaaaa" />
<rect x="1205" y="334.2" width="4.4" height="3.8" fill="#c8161d" />
<rect x="1209.4" y="334.4" width="35.3" height="3.4" fill="#aaaaaa" />
<rect x="1205" y="339.7" width="4.4" height="3.8" fill="#c8161d" />
<rect x="1209.4" y="339.9" width="27.3" height="3.4" fill="#aaaaaa" />
<rect x="1139.7" y="345.6" width="4.3" height="3.8" fill="#c8161d" />
<rect x="1144" y="345.8" width="60" height="3.4" fill="#f08a24" />
<rect x="1139.7" y="351.3" width="4.3" height="3.8" fill="#c8161d" />
<rect x="1144" y="351.5" width="52" height="3.4" fill="#aaaaaa" />
<rect x="1139.7" y="356.9" width="4.3" height="3.8" fill="#c8161d" />
<rect x="1144" y="357.1" width="52" height="3.4" fill="#aaaaaa" />
<rect x="1139.7" y="362.8" width="4.3" height="3.8" fill="#c8161d" />
<rect x="1144" y="363" width="52" height="3.4" fill="#aaaaaa" />
<rect x="1209.9" y="345.8" width="11.8" height="3.4" fill="#aaaaaa" />
<rect x="1221.7" y="345.6" width="4.3" height="3.8" fill="#2b8cb8" />
<rect x="1201.9" y="351.5" width="19.8" height="3.4" fill="#aaaaaa" />
<rect x="1221.7" y="351.3" width="4.3" height="3.8" fill="#2b8cb8" />
<rect x="1201.9" y="357.1" width="19.8" height="3.4" fill="#aaaaaa" />
<rect x="1221.7" y="356.9" width="4.3" height="3.8" fill="#2b8cb8" />
<line x1="1074.5" y1="224" x2="1164" y2="224" stroke="#ea8fc4" stroke-width="1.6" />
<path d="M1166 224L1161 226.8L1161 221.2Z" fill="#ea8fc4"/>
<line x1="1169.7" y1="324.5" x2="1169.7" y2="235.5" stroke="#ea8fc4" stroke-width="1.6" />
<path d="M1169.7 232.5L1172.5 237.5L1167 237.5Z" fill="#ea8fc4"/>
<line x1="1049.6" y1="269.8" x2="1132" y2="269.8" stroke="#f6c08a" stroke-width="1.6" />
<path d="M1135 269.8L1130 272.6L1130 267.1Z" fill="#f6c08a"/>
<line x1="1141.9" y1="347.5" x2="1141.9" y2="281.5" stroke="#f6c08a" stroke-width="1.6" />
<path d="M1141.9 278L1144.7 283L1139.2 283Z" fill="#f6c08a"/>
<path d="M1077 217C1118 198.5 1173 194.5 1186 208.5C1196 222.5 1196 266.5 1192 291.5C1190 306.5 1184 316.5 1179 320.5" fill="none" stroke="#ea8fc4" stroke-width="1.6" stroke-dasharray="3 3"/>
<path d="M1075.3 217.3L1078.9 213.6L1080.3 218.4Z" fill="#ea8fc4"/>
<path d="M1177.8 322.5L1178.5 317.4L1182.5 320.4Z" fill="#ea8fc4"/>
<path d="M1047.3 277.5C1048 316.5 1058 336.5 1078 342.5C1098 347.5 1118 347.5 1135 347.5" fill="none" stroke="#f6c08a" stroke-width="1.6" stroke-dasharray="3 3"/>
<path d="M1047.3 274.5L1049.8 279L1044.8 279Z" fill="#f6c08a"/>
<path d="M1137.5 347.5L1133 350L1133 345Z" fill="#f6c08a"/>
<circle cx="1154.3" cy="249.2" r="11.8" fill="url(#gball)" stroke="#5fbf9f" stroke-width="1"/>
<path d="M1170.4 224.4 1156.3 237.9 1153.4 235 1150 248 1163.1 245.1 1160.3 242.1 1174.4 228.6Z" fill="#d81b7a"/>
<path d="M1143 273.6 1157.9 259.2 1160.8 262.1 1164.2 249.1 1151.1 252.1 1153.9 255 1139 269.4Z" fill="#f08a24"/>
<circle cx="1172.6" cy="226.5" r="3.2" fill="#000"/>
<circle cx="1140.6" cy="271.8" r="3.2" fill="#000"/>
<text x="1015.5" y="308.5" font-size="19" textLength="136" lengthAdjust="spacingAndGlyphs" transform="rotate(-90 1015.5 308.5)">Viewpoint CTCF</text>
<text x="1099.5" y="385.5" font-size="19" textLength="129" lengthAdjust="spacingAndGlyphs">Reporter CTCF</text>
<path d="M1583 139l18-18m-4 11l4-11-11 4M1543 173l18-18m-4 11l4-11-11 4M1482 178l18-18m-4 11l4-11-11 4M1527 235l18-18m-4 11l4-11-11 4M1532 206l18-18m-4 11l4-11-11 4M1502 150l18-18m-4 11l4-11-11 4M1448 184l18-18m-4 11l4-11-11 4M1527 116l18-18m-4 11l4-11-11 4M1597 184l18-18m-4 11l4-11-11 4M1529 184l18-18m-4 11l4-11-11 4M1450 229l18-18m-4 11l4-11-11 4M1477 218l18-18m-4 11l4-11-11 4M1523 162l18-18m-4 11l4-11-11 4M1498 206l18-18m-4 11l4-11-11 4M1516 173l18-18m-4 11l4-11-11 4M1523 162l18-18m-4 11l4-11-11 4M1498 184l18-18m-4 11l4-11-11 4M1507 162l18-18m-4 11l4-11-11 4M1414 162l18-18m-4 11l4-11-11 4M1581 285l18-18m-4 11l4-11-11 4M1685 195l18-18m-4 11l4-11-11 4M1717 184l18-18m-4 11l4-11-11 4M1647 150l18-18m-4 11l4-11-11 4M1660 145l18-18m-4 11l4-11-11 4M1820 190l18-18m-4 11l4-11-11 4M1656 156l18-18m-4 11l4-11-11 4M1683 162l18-18m-4 11l4-11-11 4M1678 206l18-18m-4 11l4-11-11 4M1764 173l18-18m-4 11l4-11-11 4M1717 173l18-18m-4 11l4-11-11 4M1728 206l18-18m-4 11l4-11-11 4M1719 229l18-18m-4 11l4-11-11 4M1717 190l18-18m-4 11l4-11-11 4M1708 201l18-18m-4 11l4-11-11 4M1719 173l18-18m-4 11l4-11-11 4M1807 122l18-18m-4 11l4-11-11 4M1777 285l18-18m-4 11l4-11-11 4M1523 420l18-18m-4 11l4-11-11 4M1579 409l18-18m-4 11l4-11-11 4M1547 443l18-18m-4 11l4-11-11 4M1543 353l18-18m-4 11l4-11-11 4M1579 426l18-18m-4 11l4-11-11 4M1498 386l18-18m-4 11l4-11-11 4M1538 364l18-18m-4 11l4-11-11 4M1534 364l18-18m-4 11l4-11-11 4M1563 375l18-18m-4 11l4-11-11 4M1570 375l18-18m-4 11l4-11-11 4M1588 398l18-18m-4 11l4-11-11 4M1545 386l18-18m-4 11l4-11-11 4M1602 386l18-18m-4 11l4-11-11 4M1507 330l18-18m-4 11l4-11-11 4M1484 386l18-18m-4 11l4-11-11 4M1529 353l18-18m-4 11l4-11-11 4M1586 398l18-18m-4 11l4-11-11 4M1579 342l18-18m-4 11l4-11-11 4M1574 398l18-18m-4 11l4-11-11 4M1507 426l18-18m-4 11l4-11-11 4M1559 342l18-18m-4 11l4-11-11 4M1534 432l18-18m-4 11l4-11-11 4M1507 386l18-18m-4 11l4-11-11 4M1586 375l18-18m-4 11l4-11-11 4M1595 308l18-18m-4 11l4-11-11 4M1588 420l18-18m-4 11l4-11-11 4M1525 454l18-18m-4 11l4-11-11 4M1493 342l18-18m-4 11l4-11-11 4M1520 364l18-18m-4 11l4-11-11 4M1590 353l18-18m-4 11l4-11-11 4M1577 398l18-18m-4 11l4-11-11 4M1505 342l18-18m-4 11l4-11-11 4M1491 420l18-18m-4 11l4-11-11 4M1556 443l18-18m-4 11l4-11-11 4M1475 409l18-18m-4 11l4-11-11 4M1543 420l18-18m-4 11l4-11-11 4M1561 364l18-18m-4 11l4-11-11 4M1559 386l18-18m-4 11l4-11-11 4M1505 364l18-18m-4 11l4-11-11 4M1493 364l18-18m-4 11l4-11-11 4M1554 308l18-18m-4 11l4-11-11 4M1550 353l18-18m-4 11l4-11-11 4M1556 403l18-18m-4 11l4-11-11 4M1520 370l18-18m-4 11l4-11-11 4M1583 432l18-18m-4 11l4-11-11 4M1509 437l18-18m-4 11l4-11-11 4M1602 353l18-18m-4 11l4-11-11 4M1525 342l18-18m-4 11l4-11-11 4M1509 342l18-18m-4 11l4-11-11 4M1581 386l18-18m-4 11l4-11-11 4M1583 420l18-18m-4 11l4-11-11 4M1552 443l18-18m-4 11l4-11-11 4M1536 319l18-18m-4 11l4-11-11 4M1543 364l18-18m-4 11l4-11-11 4M1471 364l18-18m-4 11l4-11-11 4M1556 375l18-18m-4 11l4-11-11 4M1547 375l18-18m-4 11l4-11-11 4M1570 375l18-18m-4 11l4-11-11 4M1565 375l18-18m-4 11l4-11-11 4M1550 375l18-18m-4 11l4-11-11 4M1554 375l18-18m-4 11l4-11-11 4M1570 443l18-18m-4 11l4-11-11 4M1543 313l18-18m-4 11l4-11-11 4M1561 308l18-18m-4 11l4-11-11 4M1574 454l18-18m-4 11l4-11-11 4M1568 353l18-18m-4 11l4-11-11 4M1536 460l18-18m-4 11l4-11-11 4M1518 319l18-18m-4 11l4-11-11 4M1574 398l18-18m-4 11l4-11-11 4M1556 398l18-18m-4 11l4-11-11 4M1550 386l18-18m-4 11l4-11-11 4M1556 386l18-18m-4 11l4-11-11 4M1574 443l18-18m-4 11l4-11-11 4M1532 409l18-18m-4 11l4-11-11 4M1561 432l18-18m-4 11l4-11-11 4M1552 347l18-18m-4 11l4-11-11 4M1545 330l18-18m-4 11l4-11-11 4M1581 375l18-18m-4 11l4-11-11 4M1592 443l18-18m-4 11l4-11-11 4M1550 308l18-18m-4 11l4-11-11 4M1588 342l18-18m-4 11l4-11-11 4M1588 342l18-18m-4 11l4-11-11 4M1579 319l18-18m-4 11l4-11-11 4M1538 381l18-18m-4 11l4-11-11 4M1541 409l18-18m-4 11l4-11-11 4M1552 398l18-18m-4 11l4-11-11 4M1543 420l18-18m-4 11l4-11-11 4M1574 302l18-18m-4 11l4-11-11 4M1561 386l18-18m-4 11l4-11-11 4M1570 398l18-18m-4 11l4-11-11 4M1574 437l18-18m-4 11l4-11-11 4M1581 364l18-18m-4 11l4-11-11 4M1581 308l18-18m-4 11l4-11-11 4M1507 313l18-18m-4 11l4-11-11 4M1561 415l18-18m-4 11l4-11-11 4M1583 280l18-18m-4 11l4-11-11 4M1534 342l18-18m-4 11l4-11-11 4M1426 353l18-18m-4 11l4-11-11 4M1570 432l18-18m-4 11l4-11-11 4M1514 313l18-18m-4 11l4-11-11 4M1527 432l18-18m-4 11l4-11-11 4M1525 308l18-18m-4 11l4-11-11 4M1565 336l18-18m-4 11l4-11-11 4M1574 392l18-18m-4 11l4-11-11 4M1484 353l18-18m-4 11l4-11-11 4M1538 330l18-18m-4 11l4-11-11 4M1568 375l18-18m-4 11l4-11-11 4M1572 381l18-18m-4 11l4-11-11 4M1586 398l18-18m-4 11l4-11-11 4M1516 364l18-18m-4 11l4-11-11 4M1534 353l18-18m-4 11l4-11-11 4M1532 386l18-18m-4 11l4-11-11 4M1502 420l18-18m-4 11l4-11-11 4M1489 386l18-18m-4 11l4-11-11 4M1574 386l18-18m-4 11l4-11-11 4M1538 347l18-18m-4 11l4-11-11 4M1527 375l18-18m-4 11l4-11-11 4M1536 375l18-18m-4 11l4-11-11 4M1559 398l18-18m-4 11l4-11-11 4M1554 364l18-18m-4 11l4-11-11 4M1502 353l18-18m-4 11l4-11-11 4M1554 353l18-18m-4 11l4-11-11 4M1545 330l18-18m-4 11l4-11-11 4M1505 409l18-18m-4 11l4-11-11 4M1498 403l18-18m-4 11l4-11-11 4M1529 381l18-18m-4 11l4-11-11 4M1541 375l18-18m-4 11l4-11-11 4M1534 336l18-18m-4 11l4-11-11 4M1532 353l18-18m-4 11l4-11-11 4M1520 398l18-18m-4 11l4-11-11 4M1516 364l18-18m-4 11l4-11-11 4M1525 336l18-18m-4 11l4-11-11 4M1529 342l18-18m-4 11l4-11-11 4M1556 364l18-18m-4 11l4-11-11 4M1581 375l18-18m-4 11l4-11-11 4M1563 375l18-18m-4 11l4-11-11 4M1547 364l18-18m-4 11l4-11-11 4M1563 364l18-18m-4 11l4-11-11 4M1545 364l18-18m-4 11l4-11-11 4M1523 409l18-18m-4 11l4-11-11 4M1529 353l18-18m-4 11l4-11-11 4M1556 375l18-18m-4 11l4-11-11 4M1547 375l18-18m-4 11l4-11-11 4M1532 364l18-18m-4 11l4-11-11 4M1509 330l18-18m-4 11l4-11-11 4M1520 420l18-18m-4 11l4-11-11 4M1505 370l18-18m-4 11l4-11-11 4M1552 392l18-18m-4 11l4-11-11 4M1523 381l18-18m-4 11l4-11-11 4M1586 364l18-18m-4 11l4-11-11 4M1500 358l18-18m-4 11l4-11-11 4M1527 353l18-18m-4 11l4-11-11 4M1559 381l18-18m-4 11l4-11-11 4M1505 375l18-18m-4 11l4-11-11 4M1543 409l18-18m-4 11l4-11-11 4M1529 364l18-18m-4 11l4-11-11 4M1529 347l18-18m-4 11l4-11-11 4M1516 420l18-18m-4 11l4-11-11 4M1536 409l18-18m-4 11l4-11-11 4M1545 375l18-18m-4 11l4-11-11 4M1486 375l18-18m-4 11l4-11-11 4M1491 375l18-18m-4 11l4-11-11 4M1520 386l18-18m-4 11l4-11-11 4M1520 403l18-18m-4 11l4-11-11 4M1491 409l18-18m-4 11l4-11-11 4M1514 319l18-18m-4 11l4-11-11 4M1529 358l18-18m-4 11l4-11-11 4M1529 392l18-18m-4 11l4-11-11 4M1500 375l18-18m-4 11l4-11-11 4M1507 342l18-18m-4 11l4-11-11 4M1518 364l18-18m-4 11l4-11-11 4M1486 347l18-18m-4 11l4-11-11 4M1516 342l18-18m-4 11l4-11-11 4M1529 386l18-18m-4 11l4-11-11 4M1547 386l18-18m-4 11l4-11-11 4M1532 364l18-18m-4 11l4-11-11 4M1574 353l18-18m-4 11l4-11-11 4M1550 370l18-18m-4 11l4-11-11 4M1554 319l18-18m-4 11l4-11-11 4M1554 386l18-18m-4 11l4-11-11 4M1511 375l18-18m-4 11l4-11-11 4M1523 370l18-18m-4 11l4-11-11 4M1520 375l18-18m-4 11l4-11-11 4M1536 330l18-18m-4 11l4-11-11 4M1547 386l18-18m-4 11l4-11-11 4M1527 415l18-18m-4 11l4-11-11 4M1538 358l18-18m-4 11l4-11-11 4M1541 364l18-18m-4 11l4-11-11 4M1509 398l18-18m-4 11l4-11-11 4M1554 347l18-18m-4 11l4-11-11 4M1550 375l18-18m-4 11l4-11-11 4M1541 358l18-18m-4 11l4-11-11 4M1543 364l18-18m-4 11l4-11-11 4M1547 409l18-18m-4 11l4-11-11 4M1532 364l18-18m-4 11l4-11-11 4M1493 420l18-18m-4 11l4-11-11 4M1514 409l18-18m-4 11l4-11-11 4M1563 398l18-18m-4 11l4-11-11 4M1511 347l18-18m-4 11l4-11-11 4M1556 375l18-18m-4 11l4-11-11 4M1563 375l18-18m-4 11l4-11-11 4M1505 375l18-18m-4 11l4-11-11 4M1579 353l18-18m-4 11l4-11-11 4M1529 375l18-18m-4 11l4-11-11 4M1529 375l18-18m-4 11l4-11-11 4M1552 370l18-18m-4 11l4-11-11 4M1570 426l18-18m-4 11l4-11-11 4M1565 342l18-18m-4 11l4-11-11 4M1520 386l18-18m-4 11l4-11-11 4M1574 375l18-18m-4 11l4-11-11 4M1563 375l18-18m-4 11l4-11-11 4M1518 386l18-18m-4 11l4-11-11 4M1475 386l18-18m-4 11l4-11-11 4M1541 342l18-18m-4 11l4-11-11 4M1545 375l18-18m-4 11l4-11-11 4M1550 375l18-18m-4 11l4-11-11 4M1579 398l18-18m-4 11l4-11-11 4M1570 448l18-18m-4 11l4-11-11 4M1520 420l18-18m-4 11l4-11-11 4M1520 353l18-18m-4 11l4-11-11 4M1538 330l18-18m-4 11l4-11-11 4M1525 448l18-18m-4 11l4-11-11 4M1523 403l18-18m-4 11l4-11-11 4M1592 285l18-18m-4 11l4-11-11 4M1561 443l18-18m-4 11l4-11-11 4M1590 342l18-18m-4 11l4-11-11 4M1602 432l18-18m-4 11l4-11-11 4M1543 454l18-18m-4 11l4-11-11 4M1588 476l18-18m-4 11l4-11-11 4M1574 325l18-18m-4 11l4-11-11 4M1581 386l18-18m-4 11l4-11-11 4M1572 296l18-18m-4 11l4-11-11 4M1638 375l18-18m-4 11l4-11-11 4M1547 308l18-18m-4 11l4-11-11 4M1541 398l18-18m-4 11l4-11-11 4M1597 432l18-18m-4 11l4-11-11 4M1529 420l18-18m-4 11l4-11-11 4M1595 432l18-18m-4 11l4-11-11 4M1563 471l18-18m-4 11l4-11-11 4M1602 471l18-18m-4 11l4-11-11 4M1586 308l18-18m-4 11l4-11-11 4M1793 358l18-18m-4 11l4-11-11 4M1823 358l18-18m-4 11l4-11-11 4M1723 398l18-18m-4 11l4-11-11 4M1800 291l18-18m-4 11l4-11-11 4M1701 471l18-18m-4 11l4-11-11 4M1753 342l18-18m-4 11l4-11-11 4M1730 353l18-18m-4 11l4-11-11 4M1750 342l18-18m-4 11l4-11-11 4M1748 381l18-18m-4 11l4-11-11 4M1753 443l18-18m-4 11l4-11-11 4M1784 353l18-18m-4 11l4-11-11 4M1762 398l18-18m-4 11l4-11-11 4M1741 342l18-18m-4 11l4-11-11 4M1755 426l18-18m-4 11l4-11-11 4M1802 448l18-18m-4 11l4-11-11 4M1777 358l18-18m-4 11l4-11-11 4M1825 313l18-18m-4 11l4-11-11 4M1791 448l18-18m-4 11l4-11-11 4M1796 460l18-18m-4 11l4-11-11 4M1805 465l18-18m-4 11l4-11-11 4M1784 386l18-18m-4 11l4-11-11 4M1721 330l18-18m-4 11l4-11-11 4M1782 381l18-18m-4 11l4-11-11 4M1764 381l18-18m-4 11l4-11-11 4M1800 398l18-18m-4 11l4-11-11 4M1789 308l18-18m-4 11l4-11-11 4M1692 398l18-18m-4 11l4-11-11 4M1802 375l18-18m-4 11l4-11-11 4M1780 375l18-18m-4 11l4-11-11 4M1805 386l18-18m-4 11l4-11-11 4M1811 443l18-18m-4 11l4-11-11 4M1836 375l18-18m-4 11l4-11-11 4M1827 375l18-18m-4 11l4-11-11 4M1811 325l18-18m-4 11l4-11-11 4M1771 342l18-18m-4 11l4-11-11 4M1811 330l18-18m-4 11l4-11-11 4M1678 460l18-18m-4 11l4-11-11 4M1775 443l18-18m-4 11l4-11-11 4M1832 409l18-18m-4 11l4-11-11 4M1737 308l18-18m-4 11l4-11-11 4M1746 296l18-18m-4 11l4-11-11 4M1764 342l18-18m-4 11l4-11-11 4M1816 409l18-18m-4 11l4-11-11 4M1811 296l18-18m-4 11l4-11-11 4M1750 342l18-18m-4 11l4-11-11 4M1671 319l18-18m-4 11l4-11-11 4M1780 313l18-18m-4 11l4-11-11 4M1802 364l18-18m-4 11l4-11-11 4M1746 308l18-18m-4 11l4-11-11 4M1735 443l18-18m-4 11l4-11-11 4M1811 465l18-18m-4 11l4-11-11 4M1726 476l18-18m-4 11l4-11-11 4M1798 443l18-18m-4 11l4-11-11 4M1780 353l18-18m-4 11l4-11-11 4M1726 342l18-18m-4 11l4-11-11 4M1746 398l18-18m-4 11l4-11-11 4M1796 330l18-18m-4 11l4-11-11 4M1787 330l18-18m-4 11l4-11-11 4M1811 443l18-18m-4 11l4-11-11 4M1805 386l18-18m-4 11l4-11-11 4M1782 415l18-18m-4 11l4-11-11 4M1744 330l18-18m-4 11l4-11-11 4M1728 330l18-18m-4 11l4-11-11 4M1802 375l18-18m-4 11l4-11-11 4M1784 375l18-18m-4 11l4-11-11 4M1834 319l18-18m-4 11l4-11-11 4M1773 398l18-18m-4 11l4-11-11 4M1762 386l18-18m-4 11l4-11-11 4M1811 364l18-18m-4 11l4-11-11 4M1818 432l18-18m-4 11l4-11-11 4M1800 342l18-18m-4 11l4-11-11 4M1705 432l18-18m-4 11l4-11-11 4M1744 392l18-18m-4 11l4-11-11 4M1721 330l18-18m-4 11l4-11-11 4M1741 420l18-18m-4 11l4-11-11 4M1723 285l18-18m-4 11l4-11-11 4M1766 285l18-18m-4 11l4-11-11 4M1717 426l18-18m-4 11l4-11-11 4M1782 330l18-18m-4 11l4-11-11 4M1759 432l18-18m-4 11l4-11-11 4M1703 375l18-18m-4 11l4-11-11 4M1735 448l18-18m-4 11l4-11-11 4M1782 375l18-18m-4 11l4-11-11 4M1796 375l18-18m-4 11l4-11-11 4M1791 364l18-18m-4 11l4-11-11 4M1735 420l18-18m-4 11l4-11-11 4M1791 353l18-18m-4 11l4-11-11 4M1784 443l18-18m-4 11l4-11-11 4M1757 370l18-18m-4 11l4-11-11 4M1791 364l18-18m-4 11l4-11-11 4M1771 302l18-18m-4 11l4-11-11 4M1784 381l18-18m-4 11l4-11-11 4M1766 432l18-18m-4 11l4-11-11 4M1798 308l18-18m-4 11l4-11-11 4M1723 308l18-18m-4 11l4-11-11 4M1759 302l18-18m-4 11l4-11-11 4M1814 375l18-18m-4 11l4-11-11 4M1807 375l18-18m-4 11l4-11-11 4M1766 358l18-18m-4 11l4-11-11 4M1728 353l18-18m-4 11l4-11-11 4M1768 342l18-18m-4 11l4-11-11 4M1805 386l18-18m-4 11l4-11-11 4M1816 280l18-18m-4 11l4-11-11 4M1820 296l18-18m-4 11l4-11-11 4M1805 325l18-18m-4 11l4-11-11 4M1782 308l18-18m-4 11l4-11-11 4M1787 471l18-18m-4 11l4-11-11 4M1832 347l18-18m-4 11l4-11-11 4M1787 353l18-18m-4 11l4-11-11 4M1737 342l18-18m-4 11l4-11-11 4M1834 364l18-18m-4 11l4-11-11 4M1780 465l18-18m-4 11l4-11-11 4M1764 319l18-18m-4 11l4-11-11 4M1766 325l18-18m-4 11l4-11-11 4M1757 409l18-18m-4 11l4-11-11 4M1737 319l18-18m-4 11l4-11-11 4M1710 342l18-18m-4 11l4-11-11 4M1791 386l18-18m-4 11l4-11-11 4M1784 342l18-18m-4 11l4-11-11 4M1823 420l18-18m-4 11l4-11-11 4M1701 420l18-18m-4 11l4-11-11 4M1798 420l18-18m-4 11l4-11-11 4M1759 285l18-18m-4 11l4-11-11 4M1771 308l18-18m-4 11l4-11-11 4M1768 398l18-18m-4 11l4-11-11 4M1762 313l18-18m-4 11l4-11-11 4M1782 460l18-18m-4 11l4-11-11 4M1694 375l18-18m-4 11l4-11-11 4M1705 375l18-18m-4 11l4-11-11 4M1764 415l18-18m-4 11l4-11-11 4M1787 454l18-18m-4 11l4-11-11 4M1784 375l18-18m-4 11l4-11-11 4M1753 370l18-18m-4 11l4-11-11 4M1818 336l18-18m-4 11l4-11-11 4M1771 420l18-18m-4 11l4-11-11 4M1798 375l18-18m-4 11l4-11-11 4M1762 308l18-18m-4 11l4-11-11 4M1744 454l18-18m-4 11l4-11-11 4M1712 392l18-18m-4 11l4-11-11 4M1773 420l18-18m-4 11l4-11-11 4M1759 364l18-18m-4 11l4-11-11 4M1732 313l18-18m-4 11l4-11-11 4M1789 381l18-18m-4 11l4-11-11 4M1723 336l18-18m-4 11l4-11-11 4M1737 409l18-18m-4 11l4-11-11 4M1764 375l18-18m-4 11l4-11-11 4M1757 375l18-18m-4 11l4-11-11 4M1802 392l18-18m-4 11l4-11-11 4M1721 342l18-18m-4 11l4-11-11 4M1714 415l18-18m-4 11l4-11-11 4M1762 358l18-18m-4 11l4-11-11 4M1723 347l18-18m-4 11l4-11-11 4M1773 364l18-18m-4 11l4-11-11 4M1732 319l18-18m-4 11l4-11-11 4M1784 386l18-18m-4 11l4-11-11 4M1696 353l18-18m-4 11l4-11-11 4M1741 392l18-18m-4 11l4-11-11 4M1766 398l18-18m-4 11l4-11-11 4M1762 398l18-18m-4 11l4-11-11 4M1730 409l18-18m-4 11l4-11-11 4M1723 364l18-18m-4 11l4-11-11 4M1694 415l18-18m-4 11l4-11-11 4M1755 381l18-18m-4 11l4-11-11 4M1750 386l18-18m-4 11l4-11-11 4M1757 370l18-18m-4 11l4-11-11 4M1737 364l18-18m-4 11l4-11-11 4M1737 353l18-18m-4 11l4-11-11 4M1719 347l18-18m-4 11l4-11-11 4M1791 398l18-18m-4 11l4-11-11 4M1793 375l18-18m-4 11l4-11-11 4M1793 415l18-18m-4 11l4-11-11 4M1710 364l18-18m-4 11l4-11-11 4M1764 386l18-18m-4 11l4-11-11 4M1796 342l18-18m-4 11l4-11-11 4M1748 364l18-18m-4 11l4-11-11 4M1719 409l18-18m-4 11l4-11-11 4M1753 353l18-18m-4 11l4-11-11 4M1708 398l18-18m-4 11l4-11-11 4M1773 386l18-18m-4 11l4-11-11 4M1775 364l18-18m-4 11l4-11-11 4M1728 398l18-18m-4 11l4-11-11 4M1750 364l18-18m-4 11l4-11-11 4M1719 347l18-18m-4 11l4-11-11 4M1784 375l18-18m-4 11l4-11-11 4M1768 375l18-18m-4 11l4-11-11 4M1744 420l18-18m-4 11l4-11-11 4M1746 330l18-18m-4 11l4-11-11 4M1762 375l18-18m-4 11l4-11-11 4M1762 353l18-18m-4 11l4-11-11 4M1710 398l18-18m-4 11l4-11-11 4M1750 364l18-18m-4 11l4-11-11 4M1755 358l18-18m-4 11l4-11-11 4M1705 398l18-18m-4 11l4-11-11 4M1719 398l18-18m-4 11l4-11-11 4M1744 353l18-18m-4 11l4-11-11 4M1757 409l18-18m-4 11l4-11-11 4M1757 342l18-18m-4 11l4-11-11 4M1726 409l18-18m-4 11l4-11-11 4M1714 420l18-18m-4 11l4-11-11 4M1762 375l18-18m-4 11l4-11-11 4M1750 375l18-18m-4 11l4-11-11 4M1730 375l18-18m-4 11l4-11-11 4M1757 342l18-18m-4 11l4-11-11 4M1782 375l18-18m-4 11l4-11-11 4M1748 386l18-18m-4 11l4-11-11 4M1757 330l18-18m-4 11l4-11-11 4M1701 381l18-18m-4 11l4-11-11 4M1739 386l18-18m-4 11l4-11-11 4M1728 358l18-18m-4 11l4-11-11 4M1732 409l18-18m-4 11l4-11-11 4M1699 375l18-18m-4 11l4-11-11 4M1764 409l18-18m-4 11l4-11-11 4M1793 319l18-18m-4 11l4-11-11 4M1766 398l18-18m-4 11l4-11-11 4M1768 403l18-18m-4 11l4-11-11 4M1771 353l18-18m-4 11l4-11-11 4M1741 386l18-18m-4 11l4-11-11 4M1793 409l18-18m-4 11l4-11-11 4M1750 375l18-18m-4 11l4-11-11 4M1741 375l18-18m-4 11l4-11-11 4M1787 364l18-18m-4 11l4-11-11 4M1735 420l18-18m-4 11l4-11-11 4M1762 353l18-18m-4 11l4-11-11 4M1796 409l18-18m-4 11l4-11-11 4M1777 370l18-18m-4 11l4-11-11 4M1750 398l18-18m-4 11l4-11-11 4M1728 381l18-18m-4 11l4-11-11 4M1746 347l18-18m-4 11l4-11-11 4M1721 386l18-18m-4 11l4-11-11 4M1730 392l18-18m-4 11l4-11-11 4M1836 420l18-18m-4 11l4-11-11 4M1726 398l18-18m-4 11l4-11-11 4M1741 296l18-18m-4 11l4-11-11 4M1721 409l18-18m-4 11l4-11-11 4M1721 398l18-18m-4 11l4-11-11 4M1730 364l18-18m-4 11l4-11-11 4M1728 415l18-18m-4 11l4-11-11 4M1748 386l18-18m-4 11l4-11-11 4M1771 330l18-18m-4 11l4-11-11 4M1755 375l18-18m-4 11l4-11-11 4M1744 364l18-18m-4 11l4-11-11 4M1800 347l18-18m-4 11l4-11-11 4M1784 364l18-18m-4 11l4-11-11 4M1730 398l18-18m-4 11l4-11-11 4M1762 364l18-18m-4 11l4-11-11 4M1750 409l18-18m-4 11l4-11-11 4M1741 364l18-18m-4 11l4-11-11 4M1750 364l18-18m-4 11l4-11-11 4M1735 375l18-18m-4 11l4-11-11 4M1744 370l18-18m-4 11l4-11-11 4M1748 386l18-18m-4 11l4-11-11 4M1759 398l18-18m-4 11l4-11-11 4M1730 398l18-18m-4 11l4-11-11 4M1759 386l18-18m-4 11l4-11-11 4M1782 403l18-18m-4 11l4-11-11 4M1791 375l18-18m-4 11l4-11-11 4M1744 386l18-18m-4 11l4-11-11 4M1759 353l18-18m-4 11l4-11-11 4M1750 386l18-18m-4 11l4-11-11 4M1748 336l18-18m-4 11l4-11-11 4M1748 358l18-18m-4 11l4-11-11 4M1750 342l18-18m-4 11l4-11-11 4M1782 375l18-18m-4 11l4-11-11 4M1784 375l18-18m-4 11l4-11-11 4M1777 370l18-18m-4 11l4-11-11 4M1771 358l18-18m-4 11l4-11-11 4M1807 386l18-18m-4 11l4-11-11 4M1744 353l18-18m-4 11l4-11-11 4M1773 342l18-18m-4 11l4-11-11 4M1766 364l18-18m-4 11l4-11-11 4M1730 342l18-18m-4 11l4-11-11 4M1732 398l18-18m-4 11l4-11-11 4M1744 398l18-18m-4 11l4-11-11 4M1764 375l18-18m-4 11l4-11-11 4M1787 381l18-18m-4 11l4-11-11 4M1721 386l18-18m-4 11l4-11-11 4M1768 375l18-18m-4 11l4-11-11 4M1759 375l18-18m-4 11l4-11-11 4M1721 364l18-18m-4 11l4-11-11 4M1719 398l18-18m-4 11l4-11-11 4M1735 392l18-18m-4 11l4-11-11 4M1759 370l18-18m-4 11l4-11-11 4M1735 375l18-18m-4 11l4-11-11 4M1805 364l18-18m-4 11l4-11-11 4M1764 398l18-18m-4 11l4-11-11 4M1741 386l18-18m-4 11l4-11-11 4M1744 364l18-18m-4 11l4-11-11 4M1721 392l18-18m-4 11l4-11-11 4M1721 364l18-18m-4 11l4-11-11 4M1732 398l18-18m-4 11l4-11-11 4M1728 381l18-18m-4 11l4-11-11 4M1746 398l18-18m-4 11l4-11-11 4M1705 375l18-18m-4 11l4-11-11 4M1748 370l18-18m-4 11l4-11-11 4M1719 409l18-18m-4 11l4-11-11 4M1753 353l18-18m-4 11l4-11-11 4M1719 375l18-18m-4 11l4-11-11 4M1721 330l18-18m-4 11l4-11-11 4M1750 375l18-18m-4 11l4-11-11 4M1755 375l18-18m-4 11l4-11-11 4M1717 386l18-18m-4 11l4-11-11 4M1719 330l18-18m-4 11l4-11-11 4M1762 386l18-18m-4 11l4-11-11 4M1771 386l18-18m-4 11l4-11-11 4M1757 409l18-18m-4 11l4-11-11 4M1768 347l18-18m-4 11l4-11-11 4M1748 370l18-18m-4 11l4-11-11 4M1759 364l18-18m-4 11l4-11-11 4M1764 375l18-18m-4 11l4-11-11 4M1762 375l18-18m-4 11l4-11-11 4M1746 375l18-18m-4 11l4-11-11 4M1735 398l18-18m-4 11l4-11-11 4M1737 398l18-18m-4 11l4-11-11 4M1814 364l18-18m-4 11l4-11-11 4M1730 375l18-18m-4 11l4-11-11 4M1732 370l18-18m-4 11l4-11-11 4M1723 330l18-18m-4 11l4-11-11 4M1721 398l18-18m-4 11l4-11-11 4M1741 398l18-18m-4 11l4-11-11 4M1741 353l18-18m-4 11l4-11-11 4M1726 375l18-18m-4 11l4-11-11 4M1771 426l18-18m-4 11l4-11-11 4M1789 386l18-18m-4 11l4-11-11 4M1746 415l18-18m-4 11l4-11-11 4M1735 353l18-18m-4 11l4-11-11 4M1719 375l18-18m-4 11l4-11-11 4M1737 319l18-18m-4 11l4-11-11 4M1708 386l18-18m-4 11l4-11-11 4M1755 353l18-18m-4 11l4-11-11 4M1784 364l18-18m-4 11l4-11-11 4M1737 375l18-18m-4 11l4-11-11 4M1744 420l18-18m-4 11l4-11-11 4M1780 342l18-18m-4 11l4-11-11 4M1759 353l18-18m-4 11l4-11-11 4M1737 386l18-18m-4 11l4-11-11 4M1701 420l18-18m-4 11l4-11-11 4M1766 364l18-18m-4 11l4-11-11 4M1739 386l18-18m-4 11l4-11-11 4M1748 381l18-18m-4 11l4-11-11 4M1732 364l18-18m-4 11l4-11-11 4M1719 386l18-18m-4 11l4-11-11 4M1735 432l18-18m-4 11l4-11-11 4M1710 375l18-18m-4 11l4-11-11 4M1732 386l18-18m-4 11l4-11-11 4M1773 364l18-18m-4 11l4-11-11 4M1739 325l18-18m-4 11l4-11-11 4M1723 347l18-18m-4 11l4-11-11 4M1723 398l18-18m-4 11l4-11-11 4M1818 426l18-18m-4 11l4-11-11 4M1746 274l18-18m-4 11l4-11-11 4M1816 465l18-18m-4 11l4-11-11 4M1737 325l18-18m-4 11l4-11-11 4M1818 375l18-18m-4 11l4-11-11 4M1807 375l18-18m-4 11l4-11-11 4M1764 386l18-18m-4 11l4-11-11 4M1800 432l18-18m-4 11l4-11-11 4M1708 274l18-18m-4 11l4-11-11 4M1793 375l18-18m-4 11l4-11-11 4M1800 375l18-18m-4 11l4-11-11 4M1807 364l18-18m-4 11l4-11-11 4M1814 375l18-18m-4 11l4-11-11 4M1832 375l18-18m-4 11l4-11-11 4M1762 319l18-18m-4 11l4-11-11 4M1780 353l18-18m-4 11l4-11-11 4M1796 409l18-18m-4 11l4-11-11 4M1820 308l18-18m-4 11l4-11-11 4M1820 493l18-18m-4 11l4-11-11 4M1832 353l18-18m-4 11l4-11-11 4M1793 437l18-18m-4 11l4-11-11 4M1759 325l18-18m-4 11l4-11-11 4" fill="none" stroke="#e6df2a" stroke-width="1.6" stroke-opacity="0.9"/>
<path d="M1457 432l-18-18m11 4l-11-4 4 11M1464 353l-18-18m11 4l-11-4 4 11M1511 364l-18-18m11 4l-11-4 4 11M1477 398l-18-18m11 4l-11-4 4 11M1457 432l-18-18m11 4l-11-4 4 11M1455 409l-18-18m11 4l-11-4 4 11M1543 409l-18-18m11 4l-11-4 4 11M1498 330l-18-18m11 4l-11-4 4 11M1518 308l-18-18m11 4l-11-4 4 11M1505 375l-18-18m11 4l-11-4 4 11M1495 375l-18-18m11 4l-11-4 4 11M1477 386l-18-18m11 4l-11-4 4 11M1495 302l-18-18m11 4l-11-4 4 11M1477 353l-18-18m11 4l-11-4 4 11M1473 454l-18-18m11 4l-11-4 4 11M1448 364l-18-18m11 4l-11-4 4 11M1462 296l-18-18m11 4l-11-4 4 11M1507 476l-18-18m11 4l-11-4 4 11M1505 409l-18-18m11 4l-11-4 4 11M1518 409l-18-18m11 4l-11-4 4 11M1453 426l-18-18m11 4l-11-4 4 11M1505 302l-18-18m11 4l-11-4 4 11M1491 364l-18-18m11 4l-11-4 4 11M1493 364l-18-18m11 4l-11-4 4 11M1471 454l-18-18m11 4l-11-4 4 11M1518 465l-18-18m11 4l-11-4 4 11M1484 342l-18-18m11 4l-11-4 4 11M1493 454l-18-18m11 4l-11-4 4 11M1473 296l-18-18m11 4l-11-4 4 11M1457 347l-18-18m11 4l-11-4 4 11M1505 403l-18-18m11 4l-11-4 4 11M1482 353l-18-18m11 4l-11-4 4 11M1462 432l-18-18m11 4l-11-4 4 11M1502 420l-18-18m11 4l-11-4 4 11M1453 432l-18-18m11 4l-11-4 4 11M1462 386l-18-18m11 4l-11-4 4 11M1482 386l-18-18m11 4l-11-4 4 11M1495 296l-18-18m11 4l-11-4 4 11M1493 364l-18-18m11 4l-11-4 4 11M1464 392l-18-18m11 4l-11-4 4 11M1484 302l-18-18m11 4l-11-4 4 11M1484 296l-18-18m11 4l-11-4 4 11M1448 454l-18-18m11 4l-11-4 4 11M1489 420l-18-18m11 4l-11-4 4 11M1462 375l-18-18m11 4l-11-4 4 11M1495 330l-18-18m11 4l-11-4 4 11M1527 375l-18-18m11 4l-11-4 4 11M1450 386l-18-18m11 4l-11-4 4 11M1473 415l-18-18m11 4l-11-4 4 11M1477 409l-18-18m11 4l-11-4 4 11M1500 296l-18-18m11 4l-11-4 4 11M1536 420l-18-18m11 4l-11-4 4 11M1516 448l-18-18m11 4l-11-4 4 11M1480 403l-18-18m11 4l-11-4 4 11M1466 420l-18-18m11 4l-11-4 4 11M1565 342l-18-18m11 4l-11-4 4 11M1507 353l-18-18m11 4l-11-4 4 11M1484 432l-18-18m11 4l-11-4 4 11M1516 330l-18-18m11 4l-11-4 4 11M1441 420l-18-18m11 4l-11-4 4 11M1495 420l-18-18m11 4l-11-4 4 11M1581 291l-18-18m11 4l-11-4 4 11M1516 364l-18-18m11 4l-11-4 4 11M1464 420l-18-18m11 4l-11-4 4 11M1441 319l-18-18m11 4l-11-4 4 11M1473 426l-18-18m11 4l-11-4 4 11M1464 398l-18-18m11 4l-11-4 4 11M1471 375l-18-18m11 4l-11-4 4 11M1525 392l-18-18m11 4l-11-4 4 11M1520 364l-18-18m11 4l-11-4 4 11M1543 386l-18-18m11 4l-11-4 4 11M1509 353l-18-18m11 4l-11-4 4 11M1518 342l-18-18m11 4l-11-4 4 11M1520 409l-18-18m11 4l-11-4 4 11M1529 381l-18-18m11 4l-11-4 4 11M1523 409l-18-18m11 4l-11-4 4 11M1498 342l-18-18m11 4l-11-4 4 11M1527 319l-18-18m11 4l-11-4 4 11M1536 353l-18-18m11 4l-11-4 4 11M1502 358l-18-18m11 4l-11-4 4 11M1489 364l-18-18m11 4l-11-4 4 11M1486 308l-18-18m11 4l-11-4 4 11M1543 364l-18-18m11 4l-11-4 4 11M1529 386l-18-18m11 4l-11-4 4 11M1507 353l-18-18m11 4l-11-4 4 11M1532 375l-18-18m11 4l-11-4 4 11M1502 353l-18-18m11 4l-11-4 4 11M1466 386l-18-18m11 4l-11-4 4 11M1475 386l-18-18m11 4l-11-4 4 11M1520 358l-18-18m11 4l-11-4 4 11M1509 353l-18-18m11 4l-11-4 4 11M1545 370l-18-18m11 4l-11-4 4 11M1502 398l-18-18m11 4l-11-4 4 11M1511 375l-18-18m11 4l-11-4 4 11M1511 375l-18-18m11 4l-11-4 4 11M1532 398l-18-18m11 4l-11-4 4 11M1502 364l-18-18m11 4l-11-4 4 11M1495 398l-18-18m11 4l-11-4 4 11M1518 353l-18-18m11 4l-11-4 4 11M1473 375l-18-18m11 4l-11-4 4 11M1493 375l-18-18m11 4l-11-4 4 11M1514 342l-18-18m11 4l-11-4 4 11M1536 353l-18-18m11 4l-11-4 4 11M1545 330l-18-18m11 4l-11-4 4 11M1527 342l-18-18m11 4l-11-4 4 11M1543 375l-18-18m11 4l-11-4 4 11M1538 375l-18-18m11 4l-11-4 4 11M1538 375l-18-18m11 4l-11-4 4 11M1462 342l-18-18m11 4l-11-4 4 11M1475 342l-18-18m11 4l-11-4 4 11M1518 381l-18-18m11 4l-11-4 4 11M1523 370l-18-18m11 4l-11-4 4 11M1518 353l-18-18m11 4l-11-4 4 11M1514 420l-18-18m11 4l-11-4 4 11M1538 386l-18-18m11 4l-11-4 4 11M1541 375l-18-18m11 4l-11-4 4 11M1532 375l-18-18m11 4l-11-4 4 11M1541 353l-18-18m11 4l-11-4 4 11M1509 432l-18-18m11 4l-11-4 4 11M1527 375l-18-18m11 4l-11-4 4 11M1491 342l-18-18m11 4l-11-4 4 11M1511 353l-18-18m11 4l-11-4 4 11M1550 398l-18-18m11 4l-11-4 4 11M1464 353l-18-18m11 4l-11-4 4 11M1511 409l-18-18m11 4l-11-4 4 11M1507 330l-18-18m11 4l-11-4 4 11M1500 353l-18-18m11 4l-11-4 4 11M1495 398l-18-18m11 4l-11-4 4 11M1511 386l-18-18m11 4l-11-4 4 11M1550 381l-18-18m11 4l-11-4 4 11M1473 386l-18-18m11 4l-11-4 4 11M1459 386l-18-18m11 4l-11-4 4 11M1520 353l-18-18m11 4l-11-4 4 11M1529 370l-18-18m11 4l-11-4 4 11M1520 353l-18-18m11 4l-11-4 4 11M1543 432l-18-18m11 4l-11-4 4 11M1505 364l-18-18m11 4l-11-4 4 11M1505 364l-18-18m11 4l-11-4 4 11M1491 381l-18-18m11 4l-11-4 4 11M1489 386l-18-18m11 4l-11-4 4 11M1545 386l-18-18m11 4l-11-4 4 11M1514 420l-18-18m11 4l-11-4 4 11M1471 308l-18-18m11 4l-11-4 4 11M1493 488l-18-18m11 4l-11-4 4 11M1444 476l-18-18m11 4l-11-4 4 11M1486 285l-18-18m11 4l-11-4 4 11M1568 465l-18-18m11 4l-11-4 4 11M1446 353l-18-18m11 4l-11-4 4 11M1468 420l-18-18m11 4l-11-4 4 11M1484 370l-18-18m11 4l-11-4 4 11M1534 465l-18-18m11 4l-11-4 4 11M1450 432l-18-18m11 4l-11-4 4 11M1464 375l-18-18m11 4l-11-4 4 11M1455 375l-18-18m11 4l-11-4 4 11M1453 330l-18-18m11 4l-11-4 4 11M1430 420l-18-18m11 4l-11-4 4 11M1457 476l-18-18m11 4l-11-4 4 11M1419 420l-18-18m11 4l-11-4 4 11M1498 336l-18-18m11 4l-11-4 4 11M1633 381l-18-18m11 4l-11-4 4 11M1696 375l-18-18m11 4l-11-4 4 11M1703 375l-18-18m11 4l-11-4 4 11M1717 364l-18-18m11 4l-11-4 4 11M1741 296l-18-18m11 4l-11-4 4 11M1701 448l-18-18m11 4l-11-4 4 11M1680 319l-18-18m11 4l-11-4 4 11M1750 432l-18-18m11 4l-11-4 4 11M1669 325l-18-18m11 4l-11-4 4 11M1696 285l-18-18m11 4l-11-4 4 11M1644 296l-18-18m11 4l-11-4 4 11M1730 432l-18-18m11 4l-11-4 4 11M1741 342l-18-18m11 4l-11-4 4 11M1665 336l-18-18m11 4l-11-4 4 11M1671 476l-18-18m11 4l-11-4 4 11M1735 403l-18-18m11 4l-11-4 4 11M1669 342l-18-18m11 4l-11-4 4 11M1631 274l-18-18m11 4l-11-4 4 11M1642 443l-18-18m11 4l-11-4 4 11M1726 398l-18-18m11 4l-11-4 4 11M1676 409l-18-18m11 4l-11-4 4 11M1741 420l-18-18m11 4l-11-4 4 11M1662 319l-18-18m11 4l-11-4 4 11M1678 409l-18-18m11 4l-11-4 4 11M1662 420l-18-18m11 4l-11-4 4 11M1687 386l-18-18m11 4l-11-4 4 11M1696 409l-18-18m11 4l-11-4 4 11M1665 476l-18-18m11 4l-11-4 4 11M1753 386l-18-18m11 4l-11-4 4 11M1656 358l-18-18m11 4l-11-4 4 11M1750 353l-18-18m11 4l-11-4 4 11M1674 443l-18-18m11 4l-11-4 4 11M1660 443l-18-18m11 4l-11-4 4 11M1649 342l-18-18m11 4l-11-4 4 11M1744 342l-18-18m11 4l-11-4 4 11M1683 415l-18-18m11 4l-11-4 4 11M1658 325l-18-18m11 4l-11-4 4 11M1629 330l-18-18m11 4l-11-4 4 11M1703 353l-18-18m11 4l-11-4 4 11M1694 364l-18-18m11 4l-11-4 4 11M1690 432l-18-18m11 4l-11-4 4 11M1658 432l-18-18m11 4l-11-4 4 11M1667 432l-18-18m11 4l-11-4 4 11M1633 364l-18-18m11 4l-11-4 4 11M1669 336l-18-18m11 4l-11-4 4 11M1653 432l-18-18m11 4l-11-4 4 11M1680 398l-18-18m11 4l-11-4 4 11M1640 432l-18-18m11 4l-11-4 4 11M1721 308l-18-18m11 4l-11-4 4 11M1685 313l-18-18m11 4l-11-4 4 11M1676 342l-18-18m11 4l-11-4 4 11M1680 302l-18-18m11 4l-11-4 4 11M1694 308l-18-18m11 4l-11-4 4 11M1647 403l-18-18m11 4l-11-4 4 11M1667 308l-18-18m11 4l-11-4 4 11M1662 386l-18-18m11 4l-11-4 4 11M1638 375l-18-18m11 4l-11-4 4 11M1658 420l-18-18m11 4l-11-4 4 11M1699 375l-18-18m11 4l-11-4 4 11M1660 330l-18-18m11 4l-11-4 4 11M1662 325l-18-18m11 4l-11-4 4 11M1739 375l-18-18m11 4l-11-4 4 11M1741 296l-18-18m11 4l-11-4 4 11M1651 403l-18-18m11 4l-11-4 4 11M1638 330l-18-18m11 4l-11-4 4 11M1644 274l-18-18m11 4l-11-4 4 11M1631 325l-18-18m11 4l-11-4 4 11M1701 353l-18-18m11 4l-11-4 4 11M1653 296l-18-18m11 4l-11-4 4 11M1631 330l-18-18m11 4l-11-4 4 11M1647 330l-18-18m11 4l-11-4 4 11M1690 415l-18-18m11 4l-11-4 4 11M1712 358l-18-18m11 4l-11-4 4 11M1644 319l-18-18m11 4l-11-4 4 11M1674 308l-18-18m11 4l-11-4 4 11M1708 358l-18-18m11 4l-11-4 4 11M1710 432l-18-18m11 4l-11-4 4 11M1667 319l-18-18m11 4l-11-4 4 11M1696 364l-18-18m11 4l-11-4 4 11M1737 342l-18-18m11 4l-11-4 4 11M1642 370l-18-18m11 4l-11-4 4 11M1671 432l-18-18m11 4l-11-4 4 11M1649 364l-18-18m11 4l-11-4 4 11M1629 370l-18-18m11 4l-11-4 4 11M1717 398l-18-18m11 4l-11-4 4 11M1680 420l-18-18m11 4l-11-4 4 11M1678 448l-18-18m11 4l-11-4 4 11M1678 443l-18-18m11 4l-11-4 4 11M1656 432l-18-18m11 4l-11-4 4 11M1694 319l-18-18m11 4l-11-4 4 11M1714 375l-18-18m11 4l-11-4 4 11M1737 398l-18-18m11 4l-11-4 4 11M1651 364l-18-18m11 4l-11-4 4 11M1642 325l-18-18m11 4l-11-4 4 11M1674 443l-18-18m11 4l-11-4 4 11M1629 403l-18-18m11 4l-11-4 4 11M1658 308l-18-18m11 4l-11-4 4 11M1656 325l-18-18m11 4l-11-4 4 11M1644 443l-18-18m11 4l-11-4 4 11M1669 409l-18-18m11 4l-11-4 4 11M1647 296l-18-18m11 4l-11-4 4 11M1629 460l-18-18m11 4l-11-4 4 11M1690 330l-18-18m11 4l-11-4 4 11M1647 454l-18-18m11 4l-11-4 4 11M1649 319l-18-18m11 4l-11-4 4 11M1658 308l-18-18m11 4l-11-4 4 11M1705 392l-18-18m11 4l-11-4 4 11M1703 409l-18-18m11 4l-11-4 4 11M1708 392l-18-18m11 4l-11-4 4 11M1694 415l-18-18m11 4l-11-4 4 11M1717 364l-18-18m11 4l-11-4 4 11M1683 353l-18-18m11 4l-11-4 4 11M1671 392l-18-18m11 4l-11-4 4 11M1732 409l-18-18m11 4l-11-4 4 11M1674 386l-18-18m11 4l-11-4 4 11M1741 364l-18-18m11 4l-11-4 4 11M1744 370l-18-18m11 4l-11-4 4 11M1710 386l-18-18m11 4l-11-4 4 11M1680 381l-18-18m11 4l-11-4 4 11M1674 386l-18-18m11 4l-11-4 4 11M1766 319l-18-18m11 4l-11-4 4 11M1746 330l-18-18m11 4l-11-4 4 11M1712 342l-18-18m11 4l-11-4 4 11M1669 342l-18-18m11 4l-11-4 4 11M1719 386l-18-18m11 4l-11-4 4 11M1694 386l-18-18m11 4l-11-4 4 11M1692 386l-18-18m11 4l-11-4 4 11M1708 353l-18-18m11 4l-11-4 4 11M1671 375l-18-18m11 4l-11-4 4 11M1671 375l-18-18m11 4l-11-4 4 11M1768 432l-18-18m11 4l-11-4 4 11M1739 364l-18-18m11 4l-11-4 4 11M1719 409l-18-18m11 4l-11-4 4 11M1717 364l-18-18m11 4l-11-4 4 11M1703 386l-18-18m11 4l-11-4 4 11M1656 364l-18-18m11 4l-11-4 4 11M1750 426l-18-18m11 4l-11-4 4 11M1687 353l-18-18m11 4l-11-4 4 11M1669 342l-18-18m11 4l-11-4 4 11M1737 386l-18-18m11 4l-11-4 4 11M1692 330l-18-18m11 4l-11-4 4 11M1762 375l-18-18m11 4l-11-4 4 11M1683 409l-18-18m11 4l-11-4 4 11M1683 375l-18-18m11 4l-11-4 4 11M1717 370l-18-18m11 4l-11-4 4 11M1705 364l-18-18m11 4l-11-4 4 11M1719 364l-18-18m11 4l-11-4 4 11M1674 386l-18-18m11 4l-11-4 4 11M1694 398l-18-18m11 4l-11-4 4 11M1712 358l-18-18m11 4l-11-4 4 11M1667 398l-18-18m11 4l-11-4 4 11M1685 370l-18-18m11 4l-11-4 4 11M1732 398l-18-18m11 4l-11-4 4 11M1717 375l-18-18m11 4l-11-4 4 11M1719 319l-18-18m11 4l-11-4 4 11M1653 347l-18-18m11 4l-11-4 4 11M1699 347l-18-18m11 4l-11-4 4 11M1680 398l-18-18m11 4l-11-4 4 11M1692 386l-18-18m11 4l-11-4 4 11M1735 375l-18-18m11 4l-11-4 4 11M1714 375l-18-18m11 4l-11-4 4 11M1692 375l-18-18m11 4l-11-4 4 11M1759 392l-18-18m11 4l-11-4 4 11M1701 364l-18-18m11 4l-11-4 4 11M1631 336l-18-18m11 4l-11-4 4 11M1712 353l-18-18m11 4l-11-4 4 11M1671 420l-18-18m11 4l-11-4 4 11M1714 353l-18-18m11 4l-11-4 4 11M1674 386l-18-18m11 4l-11-4 4 11M1687 392l-18-18m11 4l-11-4 4 11M1730 398l-18-18m11 4l-11-4 4 11M1699 353l-18-18m11 4l-11-4 4 11M1759 364l-18-18m11 4l-11-4 4 11M1741 392l-18-18m11 4l-11-4 4 11M1678 375l-18-18m11 4l-11-4 4 11M1692 375l-18-18m11 4l-11-4 4 11M1717 353l-18-18m11 4l-11-4 4 11M1759 375l-18-18m11 4l-11-4 4 11M1690 375l-18-18m11 4l-11-4 4 11M1699 375l-18-18m11 4l-11-4 4 11M1710 353l-18-18m11 4l-11-4 4 11M1683 386l-18-18m11 4l-11-4 4 11M1732 353l-18-18m11 4l-11-4 4 11M1714 386l-18-18m11 4l-11-4 4 11M1671 386l-18-18m11 4l-11-4 4 11M1705 342l-18-18m11 4l-11-4 4 11M1741 386l-18-18m11 4l-11-4 4 11M1728 342l-18-18m11 4l-11-4 4 11M1690 370l-18-18m11 4l-11-4 4 11M1694 330l-18-18m11 4l-11-4 4 11M1683 353l-18-18m11 4l-11-4 4 11M1746 375l-18-18m11 4l-11-4 4 11M1737 398l-18-18m11 4l-11-4 4 11M1694 353l-18-18m11 4l-11-4 4 11M1703 375l-18-18m11 4l-11-4 4 11M1710 375l-18-18m11 4l-11-4 4 11M1699 398l-18-18m11 4l-11-4 4 11M1656 381l-18-18m11 4l-11-4 4 11M1696 381l-18-18m11 4l-11-4 4 11M1694 347l-18-18m11 4l-11-4 4 11M1699 364l-18-18m11 4l-11-4 4 11M1717 386l-18-18m11 4l-11-4 4 11M1692 415l-18-18m11 4l-11-4 4 11M1687 353l-18-18m11 4l-11-4 4 11M1708 381l-18-18m11 4l-11-4 4 11M1732 358l-18-18m11 4l-11-4 4 11M1662 370l-18-18m11 4l-11-4 4 11M1714 342l-18-18m11 4l-11-4 4 11M1699 342l-18-18m11 4l-11-4 4 11M1708 398l-18-18m11 4l-11-4 4 11M1726 342l-18-18m11 4l-11-4 4 11M1712 353l-18-18m11 4l-11-4 4 11M1683 375l-18-18m11 4l-11-4 4 11M1717 330l-18-18m11 4l-11-4 4 11M1662 364l-18-18m11 4l-11-4 4 11M1712 375l-18-18m11 4l-11-4 4 11M1726 375l-18-18m11 4l-11-4 4 11M1708 375l-18-18m11 4l-11-4 4 11M1692 347l-18-18m11 4l-11-4 4 11M1674 353l-18-18m11 4l-11-4 4 11M1719 398l-18-18m11 4l-11-4 4 11M1705 375l-18-18m11 4l-11-4 4 11M1721 375l-18-18m11 4l-11-4 4 11M1665 375l-18-18m11 4l-11-4 4 11M1680 370l-18-18m11 4l-11-4 4 11M1730 364l-18-18m11 4l-11-4 4 11M1730 386l-18-18m11 4l-11-4 4 11M1694 342l-18-18m11 4l-11-4 4 11M1665 409l-18-18m11 4l-11-4 4 11M1678 336l-18-18m11 4l-11-4 4 11M1741 375l-18-18m11 4l-11-4 4 11M1737 358l-18-18m11 4l-11-4 4 11M1714 364l-18-18m11 4l-11-4 4 11M1692 375l-18-18m11 4l-11-4 4 11M1692 375l-18-18m11 4l-11-4 4 11M1705 392l-18-18m11 4l-11-4 4 11M1662 364l-18-18m11 4l-11-4 4 11M1735 386l-18-18m11 4l-11-4 4 11M1732 386l-18-18m11 4l-11-4 4 11M1755 409l-18-18m11 4l-11-4 4 11M1721 375l-18-18m11 4l-11-4 4 11M1717 364l-18-18m11 4l-11-4 4 11M1671 386l-18-18m11 4l-11-4 4 11M1737 353l-18-18m11 4l-11-4 4 11M1699 386l-18-18m11 4l-11-4 4 11M1699 375l-18-18m11 4l-11-4 4 11M1705 375l-18-18m11 4l-11-4 4 11M1748 364l-18-18m11 4l-11-4 4 11M1719 375l-18-18m11 4l-11-4 4 11M1719 375l-18-18m11 4l-11-4 4 11M1696 375l-18-18m11 4l-11-4 4 11M1683 386l-18-18m11 4l-11-4 4 11M1710 398l-18-18m11 4l-11-4 4 11M1717 364l-18-18m11 4l-11-4 4 11M1676 342l-18-18m11 4l-11-4 4 11M1744 358l-18-18m11 4l-11-4 4 11M1642 454l-18-18m11 4l-11-4 4 11M1687 274l-18-18m11 4l-11-4 4 11M1543 398l-18-18m11 4l-11-4 4 11M1746 386l-18-18m11 4l-11-4 4 11M1662 308l-18-18m11 4l-11-4 4 11M1719 409l-18-18m11 4l-11-4 4 11M1658 403l-18-18m11 4l-11-4 4 11M1701 398l-18-18m11 4l-11-4 4 11M1642 291l-18-18m11 4l-11-4 4 11M1644 398l-18-18m11 4l-11-4 4 11M1644 398l-18-18m11 4l-11-4 4 11M1667 308l-18-18m11 4l-11-4 4 11M1701 443l-18-18m11 4l-11-4 4 11M1656 313l-18-18m11 4l-11-4 4 11M1746 285l-18-18m11 4l-11-4 4 11M1694 398l-18-18m11 4l-11-4 4 11M1699 308l-18-18m11 4l-11-4 4 11M1680 330l-18-18m11 4l-11-4 4 11M1699 488l-18-18m11 4l-11-4 4 11" fill="none" stroke="#3aa35e" stroke-width="1.6" stroke-opacity="0.9"/>
<path d="M1572 184l18 18m-11-4l11 4-4-11M1565 184l18 18m-11-4l11 4-4-11M1588 184l18 18m-11-4l11 4-4-11M1572 184l18 18m-11-4l11 4-4-11M1559 150l18 18m-11-4l11 4-4-11M1529 206l18 18m-11-4l11 4-4-11M1592 173l18 18m-11-4l11 4-4-11M1595 178l18 18m-11-4l11 4-4-11M1565 184l18 18m-11-4l11 4-4-11M1597 206l18 18m-11-4l11 4-4-11M1592 195l18 18m-11-4l11 4-4-11M1556 206l18 18m-11-4l11 4-4-11M1561 206l18 18m-11-4l11 4-4-11M1590 150l18 18m-11-4l11 4-4-11M1574 195l18 18m-11-4l11 4-4-11M1577 206l18 18m-11-4l11 4-4-11M1577 218l18 18m-11-4l11 4-4-11M1500 201l18 18m-11-4l11 4-4-11M1602 229l18 18m-11-4l11 4-4-11M1538 150l18 18m-11-4l11 4-4-11M1579 218l18 18m-11-4l11 4-4-11M1574 139l18 18m-11-4l11 4-4-11M1592 229l18 18m-11-4l11 4-4-11M1581 128l18 18m-11-4l11 4-4-11M1579 240l18 18m-11-4l11 4-4-11M1574 122l18 18m-11-4l11 4-4-11M1559 139l18 18m-11-4l11 4-4-11M1532 139l18 18m-11-4l11 4-4-11M1581 195l18 18m-11-4l11 4-4-11M1563 195l18 18m-11-4l11 4-4-11M1552 195l18 18m-11-4l11 4-4-11M1545 128l18 18m-11-4l11 4-4-11M1588 235l18 18m-11-4l11 4-4-11M1590 184l18 18m-11-4l11 4-4-11M1511 195l18 18m-11-4l11 4-4-11M1570 116l18 18m-11-4l11 4-4-11M1581 218l18 18m-11-4l11 4-4-11M1574 218l18 18m-11-4l11 4-4-11M1588 201l18 18m-11-4l11 4-4-11M1511 190l18 18m-11-4l11 4-4-11M1590 150l18 18m-11-4l11 4-4-11M1588 167l18 18m-11-4l11 4-4-11M1559 173l18 18m-11-4l11 4-4-11M1579 150l18 18m-11-4l11 4-4-11M1583 229l18 18m-11-4l11 4-4-11M1574 150l18 18m-11-4l11 4-4-11M1559 195l18 18m-11-4l11 4-4-11M1559 139l18 18m-11-4l11 4-4-11M1599 184l18 18m-11-4l11 4-4-11M1590 184l18 18m-11-4l11 4-4-11M1597 218l18 18m-11-4l11 4-4-11M1538 178l18 18m-11-4l11 4-4-11M1554 195l18 18m-11-4l11 4-4-11M1565 206l18 18m-11-4l11 4-4-11M1574 195l18 18m-11-4l11 4-4-11M1563 229l18 18m-11-4l11 4-4-11M1532 167l18 18m-11-4l11 4-4-11M1545 206l18 18m-11-4l11 4-4-11M1574 201l18 18m-11-4l11 4-4-11M1534 184l18 18m-11-4l11 4-4-11M1536 195l18 18m-11-4l11 4-4-11M1545 128l18 18m-11-4l11 4-4-11M1543 162l18 18m-11-4l11 4-4-11M1507 190l18 18m-11-4l11 4-4-11M1579 162l18 18m-11-4l11 4-4-11M1554 162l18 18m-11-4l11 4-4-11M1554 139l18 18m-11-4l11 4-4-11M1565 162l18 18m-11-4l11 4-4-11M1554 167l18 18m-11-4l11 4-4-11M1518 184l18 18m-11-4l11 4-4-11M1547 195l18 18m-11-4l11 4-4-11M1532 190l18 18m-11-4l11 4-4-11M1532 184l18 18m-11-4l11 4-4-11M1532 162l18 18m-11-4l11 4-4-11M1536 162l18 18m-11-4l11 4-4-11M1532 167l18 18m-11-4l11 4-4-11M1543 206l18 18m-11-4l11 4-4-11M1561 139l18 18m-11-4l11 4-4-11M1590 218l18 18m-11-4l11 4-4-11M1565 184l18 18m-11-4l11 4-4-11M1511 150l18 18m-11-4l11 4-4-11M1552 173l18 18m-11-4l11 4-4-11M1554 173l18 18m-11-4l11 4-4-11M1536 195l18 18m-11-4l11 4-4-11M1514 184l18 18m-11-4l11 4-4-11M1529 162l18 18m-11-4l11 4-4-11M1507 162l18 18m-11-4l11 4-4-11M1532 162l18 18m-11-4l11 4-4-11M1525 184l18 18m-11-4l11 4-4-11M1563 195l18 18m-11-4l11 4-4-11M1570 139l18 18m-11-4l11 4-4-11M1561 162l18 18m-11-4l11 4-4-11M1570 162l18 18m-11-4l11 4-4-11M1520 218l18 18m-11-4l11 4-4-11M1532 184l18 18m-11-4l11 4-4-11M1525 218l18 18m-11-4l11 4-4-11M1592 173l18 18m-11-4l11 4-4-11M1570 139l18 18m-11-4l11 4-4-11M1559 139l18 18m-11-4l11 4-4-11M1647 184l18 18m-11-4l11 4-4-11M1586 184l18 18m-11-4l11 4-4-11M1811 162l18 18m-11-4l11 4-4-11M1811 162l18 18m-11-4l11 4-4-11M1800 162l18 18m-11-4l11 4-4-11M1753 184l18 18m-11-4l11 4-4-11M1820 206l18 18m-11-4l11 4-4-11M1798 229l18 18m-11-4l11 4-4-11M1811 150l18 18m-11-4l11 4-4-11M1771 173l18 18m-11-4l11 4-4-11M1762 173l18 18m-11-4l11 4-4-11M1814 184l18 18m-11-4l11 4-4-11M1814 173l18 18m-11-4l11 4-4-11M1777 167l18 18m-11-4l11 4-4-11M1814 206l18 18m-11-4l11 4-4-11M1805 156l18 18m-11-4l11 4-4-11M1789 206l18 18m-11-4l11 4-4-11M1834 178l18 18m-11-4l11 4-4-11M1820 139l18 18m-11-4l11 4-4-11M1836 167l18 18m-11-4l11 4-4-11M1798 201l18 18m-11-4l11 4-4-11M1823 184l18 18m-11-4l11 4-4-11M1818 133l18 18m-11-4l11 4-4-11M1793 128l18 18m-11-4l11 4-4-11M1798 178l18 18m-11-4l11 4-4-11M1768 190l18 18m-11-4l11 4-4-11M1789 195l18 18m-11-4l11 4-4-11M1728 111l18 18m-11-4l11 4-4-11M1728 145l18 18m-11-4l11 4-4-11M1777 184l18 18m-11-4l11 4-4-11M1798 195l18 18m-11-4l11 4-4-11M1811 223l18 18m-11-4l11 4-4-11M1773 167l18 18m-11-4l11 4-4-11M1775 162l18 18m-11-4l11 4-4-11M1784 195l18 18m-11-4l11 4-4-11M1777 128l18 18m-11-4l11 4-4-11M1784 162l18 18m-11-4l11 4-4-11M1746 150l18 18m-11-4l11 4-4-11M1789 184l18 18m-11-4l11 4-4-11M1730 178l18 18m-11-4l11 4-4-11M1791 218l18 18m-11-4l11 4-4-11M1777 218l18 18m-11-4l11 4-4-11M1793 150l18 18m-11-4l11 4-4-11M1834 195l18 18m-11-4l11 4-4-11M1741 173l18 18m-11-4l11 4-4-11M1732 116l18 18m-11-4l11 4-4-11M1759 88l18 18m-11-4l11 4-4-11M1793 223l18 18m-11-4l11 4-4-11M1823 229l18 18m-11-4l11 4-4-11M1744 105l18 18m-11-4l11 4-4-11M1832 184l18 18m-11-4l11 4-4-11M1798 139l18 18m-11-4l11 4-4-11M1753 229l18 18m-11-4l11 4-4-11M1798 206l18 18m-11-4l11 4-4-11M1784 128l18 18m-11-4l11 4-4-11M1764 167l18 18m-11-4l11 4-4-11M1735 162l18 18m-11-4l11 4-4-11M1814 150l18 18m-11-4l11 4-4-11M1777 122l18 18m-11-4l11 4-4-11M1809 145l18 18m-11-4l11 4-4-11M1780 128l18 18m-11-4l11 4-4-11M1818 162l18 18m-11-4l11 4-4-11M1814 162l18 18m-11-4l11 4-4-11M1775 206l18 18m-11-4l11 4-4-11M1775 206l18 18m-11-4l11 4-4-11M1820 150l18 18m-11-4l11 4-4-11M1787 195l18 18m-11-4l11 4-4-11M1811 223l18 18m-11-4l11 4-4-11M1746 173l18 18m-11-4l11 4-4-11M1775 150l18 18m-11-4l11 4-4-11M1834 201l18 18m-11-4l11 4-4-11M1719 178l18 18m-11-4l11 4-4-11M1784 162l18 18m-11-4l11 4-4-11M1773 162l18 18m-11-4l11 4-4-11M1764 173l18 18m-11-4l11 4-4-11M1737 173l18 18m-11-4l11 4-4-11M1728 173l18 18m-11-4l11 4-4-11M1771 156l18 18m-11-4l11 4-4-11M1796 133l18 18m-11-4l11 4-4-11M1773 156l18 18m-11-4l11 4-4-11M1732 195l18 18m-11-4l11 4-4-11M1793 190l18 18m-11-4l11 4-4-11M1753 195l18 18m-11-4l11 4-4-11M1787 212l18 18m-11-4l11 4-4-11M1759 184l18 18m-11-4l11 4-4-11M1768 173l18 18m-11-4l11 4-4-11M1721 173l18 18m-11-4l11 4-4-11M1748 162l18 18m-11-4l11 4-4-11M1777 184l18 18m-11-4l11 4-4-11M1721 173l18 18m-11-4l11 4-4-11M1728 156l18 18m-11-4l11 4-4-11M1735 173l18 18m-11-4l11 4-4-11M1741 173l18 18m-11-4l11 4-4-11M1762 184l18 18m-11-4l11 4-4-11M1768 195l18 18m-11-4l11 4-4-11M1777 212l18 18m-11-4l11 4-4-11M1775 162l18 18m-11-4l11 4-4-11M1773 167l18 18m-11-4l11 4-4-11M1714 206l18 18m-11-4l11 4-4-11M1759 167l18 18m-11-4l11 4-4-11M1750 150l18 18m-11-4l11 4-4-11M1757 195l18 18m-11-4l11 4-4-11M1784 150l18 18m-11-4l11 4-4-11M1750 162l18 18m-11-4l11 4-4-11M1787 128l18 18m-11-4l11 4-4-11M1789 184l18 18m-11-4l11 4-4-11M1773 184l18 18m-11-4l11 4-4-11M1730 173l18 18m-11-4l11 4-4-11M1811 184l18 18m-11-4l11 4-4-11M1811 184l18 18m-11-4l11 4-4-11M1735 173l18 18m-11-4l11 4-4-11M1741 195l18 18m-11-4l11 4-4-11M1728 150l18 18m-11-4l11 4-4-11M1791 184l18 18m-11-4l11 4-4-11M1798 128l18 18m-11-4l11 4-4-11M1755 100l18 18m-11-4l11 4-4-11M1834 173l18 18m-11-4l11 4-4-11M1755 229l18 18m-11-4l11 4-4-11M1823 77l18 18m-11-4l11 4-4-11M1800 162l18 18m-11-4l11 4-4-11M1818 162l18 18m-11-4l11 4-4-11M1764 195l18 18m-11-4l11 4-4-11M1768 150l18 18m-11-4l11 4-4-11M1811 229l18 18m-11-4l11 4-4-11M1805 150l18 18m-11-4l11 4-4-11M1780 206l18 18m-11-4l11 4-4-11M1468 432l18 18m-11-4l11 4-4-11M1534 364l18 18m-11-4l11 4-4-11M1568 370l18 18m-11-4l11 4-4-11M1550 432l18 18m-11-4l11 4-4-11M1491 443l18 18m-11-4l11 4-4-11M1543 330l18 18m-11-4l11 4-4-11M1532 347l18 18m-11-4l11 4-4-11M1525 409l18 18m-11-4l11 4-4-11M1493 398l18 18m-11-4l11 4-4-11M1735 330l18 18m-11-4l11 4-4-11M1753 296l18 18m-11-4l11 4-4-11M1683 392l18 18m-11-4l11 4-4-11M1653 432l18 18m-11-4l11 4-4-11M1626 330l18 18m-11-4l11 4-4-11M1712 465l18 18m-11-4l11 4-4-11M1784 370l18 18m-11-4l11 4-4-11M1730 375l18 18m-11-4l11 4-4-11M1719 342l18 18m-11-4l11 4-4-11M1644 358l18 18m-11-4l11 4-4-11M1676 375l18 18m-11-4l11 4-4-11M1683 375l18 18m-11-4l11 4-4-11M1759 409l18 18m-11-4l11 4-4-11M1755 375l18 18m-11-4l11 4-4-11M1714 375l18 18m-11-4l11 4-4-11M1744 375l18 18m-11-4l11 4-4-11" fill="none" stroke="#3d5285" stroke-width="1.6" stroke-opacity="0.9"/>
<path d="M1547 173l-18 18m4-11l-4 11 11-4M1468 195l-18 18m4-11l-4 11 11-4M1491 162l-18 18m4-11l-4 11 11-4M1493 162l-18 18m4-11l-4 11 11-4M1441 173l-18 18m4-11l-4 11 11-4M1554 145l-18 18m4-11l-4 11 11-4M1484 150l-18 18m4-11l-4 11 11-4M1489 150l-18 18m4-11l-4 11 11-4M1482 184l-18 18m4-11l-4 11 11-4M1507 218l-18 18m4-11l-4 11 11-4M1516 162l-18 18m4-11l-4 11 11-4M1536 223l-18 18m4-11l-4 11 11-4M1554 184l-18 18m4-11l-4 11 11-4M1541 173l-18 18m4-11l-4 11 11-4M1471 173l-18 18m4-11l-4 11 11-4M1532 167l-18 18m4-11l-4 11 11-4M1432 206l-18 18m4-11l-4 11 11-4M1457 133l-18 18m4-11l-4 11 11-4M1534 206l-18 18m4-11l-4 11 11-4M1514 206l-18 18m4-11l-4 11 11-4M1550 229l-18 18m4-11l-4 11 11-4M1532 195l-18 18m4-11l-4 11 11-4M1529 150l-18 18m4-11l-4 11 11-4M1475 162l-18 18m4-11l-4 11 11-4M1459 201l-18 18m4-11l-4 11 11-4M1457 240l-18 18m4-11l-4 11 11-4M1480 150l-18 18m4-11l-4 11 11-4M1509 150l-18 18m4-11l-4 11 11-4M1464 116l-18 18m4-11l-4 11 11-4M1590 162l-18 18m4-11l-4 11 11-4M1453 150l-18 18m4-11l-4 11 11-4M1464 122l-18 18m4-11l-4 11 11-4M1511 201l-18 18m4-11l-4 11 11-4M1552 178l-18 18m4-11l-4 11 11-4M1541 173l-18 18m4-11l-4 11 11-4M1401 218l-18 18m4-11l-4 11 11-4M1432 223l-18 18m4-11l-4 11 11-4M1529 162l-18 18m4-11l-4 11 11-4M1523 139l-18 18m4-11l-4 11 11-4M1498 212l-18 18m4-11l-4 11 11-4M1435 195l-18 18m4-11l-4 11 11-4M1500 128l-18 18m4-11l-4 11 11-4M1482 229l-18 18m4-11l-4 11 11-4M1446 206l-18 18m4-11l-4 11 11-4M1523 190l-18 18m4-11l-4 11 11-4M1529 218l-18 18m4-11l-4 11 11-4M1532 206l-18 18m4-11l-4 11 11-4M1468 240l-18 18m4-11l-4 11 11-4M1502 150l-18 18m4-11l-4 11 11-4M1484 184l-18 18m4-11l-4 11 11-4M1509 173l-18 18m4-11l-4 11 11-4M1480 116l-18 18m4-11l-4 11 11-4M1484 150l-18 18m4-11l-4 11 11-4M1547 145l-18 18m4-11l-4 11 11-4M1489 173l-18 18m4-11l-4 11 11-4M1563 235l-18 18m4-11l-4 11 11-4M1541 156l-18 18m4-11l-4 11 11-4M1464 184l-18 18m4-11l-4 11 11-4M1471 190l-18 18m4-11l-4 11 11-4M1545 133l-18 18m4-11l-4 11 11-4M1464 223l-18 18m4-11l-4 11 11-4M1446 201l-18 18m4-11l-4 11 11-4M1507 150l-18 18m4-11l-4 11 11-4M1432 150l-18 18m4-11l-4 11 11-4M1486 145l-18 18m4-11l-4 11 11-4M1482 162l-18 18m4-11l-4 11 11-4M1495 162l-18 18m4-11l-4 11 11-4M1491 139l-18 18m4-11l-4 11 11-4M1448 150l-18 18m4-11l-4 11 11-4M1514 173l-18 18m4-11l-4 11 11-4M1529 240l-18 18m4-11l-4 11 11-4M1565 162l-18 18m4-11l-4 11 11-4M1489 150l-18 18m4-11l-4 11 11-4M1453 150l-18 18m4-11l-4 11 11-4M1453 173l-18 18m4-11l-4 11 11-4M1532 218l-18 18m4-11l-4 11 11-4M1500 206l-18 18m4-11l-4 11 11-4M1507 206l-18 18m4-11l-4 11 11-4M1525 195l-18 18m4-11l-4 11 11-4M1516 133l-18 18m4-11l-4 11 11-4M1507 156l-18 18m4-11l-4 11 11-4M1532 195l-18 18m4-11l-4 11 11-4M1464 150l-18 18m4-11l-4 11 11-4M1430 240l-18 18m4-11l-4 11 11-4M1556 150l-18 18m4-11l-4 11 11-4M1565 162l-18 18m4-11l-4 11 11-4M1568 162l-18 18m4-11l-4 11 11-4M1477 201l-18 18m4-11l-4 11 11-4M1462 218l-18 18m4-11l-4 11 11-4M1534 145l-18 18m4-11l-4 11 11-4M1563 218l-18 18m4-11l-4 11 11-4M1502 150l-18 18m4-11l-4 11 11-4M1489 184l-18 18m4-11l-4 11 11-4M1482 252l-18 18m4-11l-4 11 11-4M1477 173l-18 18m4-11l-4 11 11-4M1507 173l-18 18m4-11l-4 11 11-4M1471 150l-18 18m4-11l-4 11 11-4M1498 229l-18 18m4-11l-4 11 11-4M1529 145l-18 18m4-11l-4 11 11-4M1495 150l-18 18m4-11l-4 11 11-4M1502 195l-18 18m4-11l-4 11 11-4M1516 212l-18 18m4-11l-4 11 11-4M1541 145l-18 18m4-11l-4 11 11-4M1495 150l-18 18m4-11l-4 11 11-4M1516 190l-18 18m4-11l-4 11 11-4M1450 122l-18 18m4-11l-4 11 11-4M1507 139l-18 18m4-11l-4 11 11-4M1525 206l-18 18m4-11l-4 11 11-4M1477 195l-18 18m4-11l-4 11 11-4M1543 184l-18 18m4-11l-4 11 11-4M1545 184l-18 18m4-11l-4 11 11-4M1547 201l-18 18m4-11l-4 11 11-4M1514 206l-18 18m4-11l-4 11 11-4M1491 206l-18 18m4-11l-4 11 11-4M1498 206l-18 18m4-11l-4 11 11-4M1475 218l-18 18m4-11l-4 11 11-4M1464 229l-18 18m4-11l-4 11 11-4M1457 150l-18 18m4-11l-4 11 11-4M1534 139l-18 18m4-11l-4 11 11-4M1505 195l-18 18m4-11l-4 11 11-4M1532 178l-18 18m4-11l-4 11 11-4M1505 206l-18 18m4-11l-4 11 11-4M1534 167l-18 18m4-11l-4 11 11-4M1541 212l-18 18m4-11l-4 11 11-4M1523 184l-18 18m4-11l-4 11 11-4M1511 206l-18 18m4-11l-4 11 11-4M1495 206l-18 18m4-11l-4 11 11-4M1493 206l-18 18m4-11l-4 11 11-4M1527 195l-18 18m4-11l-4 11 11-4M1552 218l-18 18m4-11l-4 11 11-4M1505 195l-18 18m4-11l-4 11 11-4M1507 178l-18 18m4-11l-4 11 11-4M1514 184l-18 18m4-11l-4 11 11-4M1534 229l-18 18m4-11l-4 11 11-4M1523 195l-18 18m4-11l-4 11 11-4M1543 162l-18 18m4-11l-4 11 11-4M1534 173l-18 18m4-11l-4 11 11-4M1520 184l-18 18m4-11l-4 11 11-4M1527 206l-18 18m4-11l-4 11 11-4M1532 173l-18 18m4-11l-4 11 11-4M1525 195l-18 18m4-11l-4 11 11-4M1541 206l-18 18m4-11l-4 11 11-4M1543 150l-18 18m4-11l-4 11 11-4M1529 178l-18 18m4-11l-4 11 11-4M1484 156l-18 18m4-11l-4 11 11-4M1480 162l-18 18m4-11l-4 11 11-4M1493 195l-18 18m4-11l-4 11 11-4M1547 190l-18 18m4-11l-4 11 11-4M1484 195l-18 18m4-11l-4 11 11-4M1518 184l-18 18m4-11l-4 11 11-4M1518 184l-18 18m4-11l-4 11 11-4M1511 173l-18 18m4-11l-4 11 11-4M1520 162l-18 18m4-11l-4 11 11-4M1583 195l-18 18m4-11l-4 11 11-4M1532 223l-18 18m4-11l-4 11 11-4M1498 184l-18 18m4-11l-4 11 11-4M1525 184l-18 18m4-11l-4 11 11-4M1523 150l-18 18m4-11l-4 11 11-4M1464 173l-18 18m4-11l-4 11 11-4M1498 178l-18 18m4-11l-4 11 11-4M1552 162l-18 18m4-11l-4 11 11-4M1529 162l-18 18m4-11l-4 11 11-4M1532 173l-18 18m4-11l-4 11 11-4M1541 184l-18 18m4-11l-4 11 11-4M1525 145l-18 18m4-11l-4 11 11-4M1518 206l-18 18m4-11l-4 11 11-4M1495 173l-18 18m4-11l-4 11 11-4M1491 167l-18 18m4-11l-4 11 11-4M1523 173l-18 18m4-11l-4 11 11-4M1552 184l-18 18m4-11l-4 11 11-4M1484 190l-18 18m4-11l-4 11 11-4M1534 206l-18 18m4-11l-4 11 11-4M1507 212l-18 18m4-11l-4 11 11-4M1518 206l-18 18m4-11l-4 11 11-4M1552 190l-18 18m4-11l-4 11 11-4M1505 206l-18 18m4-11l-4 11 11-4M1498 206l-18 18m4-11l-4 11 11-4M1511 184l-18 18m4-11l-4 11 11-4M1505 178l-18 18m4-11l-4 11 11-4M1547 206l-18 18m4-11l-4 11 11-4M1538 156l-18 18m4-11l-4 11 11-4M1480 133l-18 18m4-11l-4 11 11-4M1543 184l-18 18m4-11l-4 11 11-4M1561 167l-18 18m4-11l-4 11 11-4M1518 184l-18 18m4-11l-4 11 11-4M1520 184l-18 18m4-11l-4 11 11-4M1500 150l-18 18m4-11l-4 11 11-4M1532 178l-18 18m4-11l-4 11 11-4M1486 201l-18 18m4-11l-4 11 11-4M1518 173l-18 18m4-11l-4 11 11-4M1495 184l-18 18m4-11l-4 11 11-4M1502 229l-18 18m4-11l-4 11 11-4M1514 162l-18 18m4-11l-4 11 11-4M1516 173l-18 18m4-11l-4 11 11-4M1525 184l-18 18m4-11l-4 11 11-4M1520 195l-18 18m4-11l-4 11 11-4M1502 201l-18 18m4-11l-4 11 11-4M1477 184l-18 18m4-11l-4 11 11-4M1495 184l-18 18m4-11l-4 11 11-4M1525 162l-18 18m4-11l-4 11 11-4M1550 218l-18 18m4-11l-4 11 11-4M1489 156l-18 18m4-11l-4 11 11-4M1527 195l-18 18m4-11l-4 11 11-4M1516 206l-18 18m4-11l-4 11 11-4M1511 206l-18 18m4-11l-4 11 11-4M1502 156l-18 18m4-11l-4 11 11-4M1547 184l-18 18m4-11l-4 11 11-4M1514 212l-18 18m4-11l-4 11 11-4M1514 162l-18 18m4-11l-4 11 11-4M1536 162l-18 18m4-11l-4 11 11-4M1511 218l-18 18m4-11l-4 11 11-4M1473 156l-18 18m4-11l-4 11 11-4M1516 229l-18 18m4-11l-4 11 11-4M1523 184l-18 18m4-11l-4 11 11-4M1448 218l-18 18m4-11l-4 11 11-4M1595 184l-18 18m4-11l-4 11 11-4M1464 218l-18 18m4-11l-4 11 11-4M1462 223l-18 18m4-11l-4 11 11-4M1403 111l-18 18m4-11l-4 11 11-4M1574 167l-18 18m4-11l-4 11 11-4M1450 128l-18 18m4-11l-4 11 11-4M1398 105l-18 18m4-11l-4 11 11-4M1523 145l-18 18m4-11l-4 11 11-4M1417 240l-18 18m4-11l-4 11 11-4M1448 128l-18 18m4-11l-4 11 11-4M1473 206l-18 18m4-11l-4 11 11-4M1446 60l-18 18m4-11l-4 11 11-4M1554 72l-18 18m4-11l-4 11 11-4M1475 252l-18 18m4-11l-4 11 11-4M1473 133l-18 18m4-11l-4 11 11-4M1455 184l-18 18m4-11l-4 11 11-4M1457 184l-18 18m4-11l-4 11 11-4M1439 156l-18 18m4-11l-4 11 11-4M1505 116l-18 18m4-11l-4 11 11-4M1525 139l-18 18m4-11l-4 11 11-4M1538 252l-18 18m4-11l-4 11 11-4M1532 122l-18 18m4-11l-4 11 11-4M1453 240l-18 18m4-11l-4 11 11-4M1455 240l-18 18m4-11l-4 11 11-4M1432 246l-18 18m4-11l-4 11 11-4M1457 150l-18 18m4-11l-4 11 11-4M1660 240l-18 18m4-11l-4 11 11-4M1665 150l-18 18m4-11l-4 11 11-4M1705 128l-18 18m4-11l-4 11 11-4M1703 206l-18 18m4-11l-4 11 11-4M1683 150l-18 18m4-11l-4 11 11-4M1631 223l-18 18m4-11l-4 11 11-4M1638 162l-18 18m4-11l-4 11 11-4M1644 162l-18 18m4-11l-4 11 11-4M1726 162l-18 18m4-11l-4 11 11-4M1699 122l-18 18m4-11l-4 11 11-4M1744 150l-18 18m4-11l-4 11 11-4M1692 173l-18 18m4-11l-4 11 11-4M1714 122l-18 18m4-11l-4 11 11-4M1640 150l-18 18m4-11l-4 11 11-4M1683 173l-18 18m4-11l-4 11 11-4M1735 162l-18 18m4-11l-4 11 11-4M1701 150l-18 18m4-11l-4 11 11-4M1737 240l-18 18m4-11l-4 11 11-4M1692 223l-18 18m4-11l-4 11 11-4M1773 150l-18 18m4-11l-4 11 11-4M1669 162l-18 18m4-11l-4 11 11-4M1658 150l-18 18m4-11l-4 11 11-4M1721 184l-18 18m4-11l-4 11 11-4M1705 235l-18 18m4-11l-4 11 11-4M1768 162l-18 18m4-11l-4 11 11-4M1762 195l-18 18m4-11l-4 11 11-4M1712 218l-18 18m4-11l-4 11 11-4M1699 162l-18 18m4-11l-4 11 11-4M1633 184l-18 18m4-11l-4 11 11-4M1626 184l-18 18m4-11l-4 11 11-4M1676 195l-18 18m4-11l-4 11 11-4M1662 150l-18 18m4-11l-4 11 11-4M1690 184l-18 18m4-11l-4 11 11-4M1759 206l-18 18m4-11l-4 11 11-4M1692 184l-18 18m4-11l-4 11 11-4M1750 139l-18 18m4-11l-4 11 11-4M1744 150l-18 18m4-11l-4 11 11-4M1662 206l-18 18m4-11l-4 11 11-4M1728 128l-18 18m4-11l-4 11 11-4M1692 128l-18 18m4-11l-4 11 11-4M1662 173l-18 18m4-11l-4 11 11-4M1678 167l-18 18m4-11l-4 11 11-4M1703 128l-18 18m4-11l-4 11 11-4M1708 173l-18 18m4-11l-4 11 11-4M1665 162l-18 18m4-11l-4 11 11-4M1721 229l-18 18m4-11l-4 11 11-4M1710 128l-18 18m4-11l-4 11 11-4M1694 139l-18 18m4-11l-4 11 11-4M1726 218l-18 18m4-11l-4 11 11-4M1694 206l-18 18m4-11l-4 11 11-4M1701 173l-18 18m4-11l-4 11 11-4M1719 218l-18 18m4-11l-4 11 11-4M1735 218l-18 18m4-11l-4 11 11-4M1777 229l-18 18m4-11l-4 11 11-4M1789 162l-18 18m4-11l-4 11 11-4M1669 116l-18 18m4-11l-4 11 11-4M1678 116l-18 18m4-11l-4 11 11-4M1674 206l-18 18m4-11l-4 11 11-4M1667 128l-18 18m4-11l-4 11 11-4M1701 128l-18 18m4-11l-4 11 11-4M1775 150l-18 18m4-11l-4 11 11-4M1764 162l-18 18m4-11l-4 11 11-4M1642 150l-18 18m4-11l-4 11 11-4M1635 195l-18 18m4-11l-4 11 11-4M1676 116l-18 18m4-11l-4 11 11-4M1660 116l-18 18m4-11l-4 11 11-4M1728 206l-18 18m4-11l-4 11 11-4M1735 206l-18 18m4-11l-4 11 11-4M1653 150l-18 18m4-11l-4 11 11-4M1710 206l-18 18m4-11l-4 11 11-4M1764 206l-18 18m4-11l-4 11 11-4M1723 173l-18 18m4-11l-4 11 11-4M1665 218l-18 18m4-11l-4 11 11-4M1674 223l-18 18m4-11l-4 11 11-4M1782 195l-18 18m4-11l-4 11 11-4M1642 246l-18 18m4-11l-4 11 11-4M1701 240l-18 18m4-11l-4 11 11-4M1712 195l-18 18m4-11l-4 11 11-4M1687 128l-18 18m4-11l-4 11 11-4M1687 223l-18 18m4-11l-4 11 11-4M1732 156l-18 18m4-11l-4 11 11-4M1694 218l-18 18m4-11l-4 11 11-4M1712 223l-18 18m4-11l-4 11 11-4M1649 184l-18 18m4-11l-4 11 11-4M1710 116l-18 18m4-11l-4 11 11-4M1687 128l-18 18m4-11l-4 11 11-4M1649 184l-18 18m4-11l-4 11 11-4M1685 128l-18 18m4-11l-4 11 11-4M1705 190l-18 18m4-11l-4 11 11-4M1633 218l-18 18m4-11l-4 11 11-4M1647 162l-18 18m4-11l-4 11 11-4M1665 162l-18 18m4-11l-4 11 11-4M1712 184l-18 18m4-11l-4 11 11-4M1705 218l-18 18m4-11l-4 11 11-4M1669 195l-18 18m4-11l-4 11 11-4M1762 229l-18 18m4-11l-4 11 11-4M1622 162l-18 18m4-11l-4 11 11-4M1667 133l-18 18m4-11l-4 11 11-4M1741 184l-18 18m4-11l-4 11 11-4M1701 206l-18 18m4-11l-4 11 11-4M1712 212l-18 18m4-11l-4 11 11-4M1683 173l-18 18m4-11l-4 11 11-4M1678 128l-18 18m4-11l-4 11 11-4M1656 167l-18 18m4-11l-4 11 11-4M1717 195l-18 18m4-11l-4 11 11-4M1674 184l-18 18m4-11l-4 11 11-4M1669 240l-18 18m4-11l-4 11 11-4M1685 229l-18 18m4-11l-4 11 11-4M1683 223l-18 18m4-11l-4 11 11-4M1662 201l-18 18m4-11l-4 11 11-4M1750 212l-18 18m4-11l-4 11 11-4M1730 133l-18 18m4-11l-4 11 11-4M1753 229l-18 18m4-11l-4 11 11-4M1712 150l-18 18m4-11l-4 11 11-4M1726 150l-18 18m4-11l-4 11 11-4M1728 150l-18 18m4-11l-4 11 11-4M1748 122l-18 18m4-11l-4 11 11-4M1717 240l-18 18m4-11l-4 11 11-4M1676 150l-18 18m4-11l-4 11 11-4M1680 122l-18 18m4-11l-4 11 11-4M1690 150l-18 18m4-11l-4 11 11-4M1690 150l-18 18m4-11l-4 11 11-4M1649 252l-18 18m4-11l-4 11 11-4M1680 145l-18 18m4-11l-4 11 11-4M1741 173l-18 18m4-11l-4 11 11-4M1685 184l-18 18m4-11l-4 11 11-4M1680 240l-18 18m4-11l-4 11 11-4M1705 184l-18 18m4-11l-4 11 11-4M1708 223l-18 18m4-11l-4 11 11-4M1712 206l-18 18m4-11l-4 11 11-4M1694 206l-18 18m4-11l-4 11 11-4M1775 184l-18 18m4-11l-4 11 11-4M1739 162l-18 18m4-11l-4 11 11-4M1762 133l-18 18m4-11l-4 11 11-4M1717 173l-18 18m4-11l-4 11 11-4M1757 150l-18 18m4-11l-4 11 11-4M1726 156l-18 18m4-11l-4 11 11-4M1730 139l-18 18m4-11l-4 11 11-4M1730 150l-18 18m4-11l-4 11 11-4M1732 184l-18 18m4-11l-4 11 11-4M1723 173l-18 18m4-11l-4 11 11-4M1741 195l-18 18m4-11l-4 11 11-4M1705 229l-18 18m4-11l-4 11 11-4M1717 195l-18 18m4-11l-4 11 11-4M1730 223l-18 18m4-11l-4 11 11-4M1717 173l-18 18m4-11l-4 11 11-4M1728 178l-18 18m4-11l-4 11 11-4M1714 218l-18 18m4-11l-4 11 11-4M1791 162l-18 18m4-11l-4 11 11-4M1746 173l-18 18m4-11l-4 11 11-4M1730 139l-18 18m4-11l-4 11 11-4M1741 206l-18 18m4-11l-4 11 11-4M1730 150l-18 18m4-11l-4 11 11-4M1741 167l-18 18m4-11l-4 11 11-4M1741 167l-18 18m4-11l-4 11 11-4M1708 195l-18 18m4-11l-4 11 11-4M1703 184l-18 18m4-11l-4 11 11-4M1723 195l-18 18m4-11l-4 11 11-4M1730 162l-18 18m4-11l-4 11 11-4M1701 218l-18 18m4-11l-4 11 11-4M1721 195l-18 18m4-11l-4 11 11-4M1692 195l-18 18m4-11l-4 11 11-4M1737 178l-18 18m4-11l-4 11 11-4M1730 195l-18 18m4-11l-4 11 11-4M1705 162l-18 18m4-11l-4 11 11-4M1721 162l-18 18m4-11l-4 11 11-4M1712 184l-18 18m4-11l-4 11 11-4M1710 178l-18 18m4-11l-4 11 11-4M1676 150l-18 18m4-11l-4 11 11-4M1728 162l-18 18m4-11l-4 11 11-4M1746 173l-18 18m4-11l-4 11 11-4M1701 162l-18 18m4-11l-4 11 11-4M1705 162l-18 18m4-11l-4 11 11-4M1701 156l-18 18m4-11l-4 11 11-4M1753 173l-18 18m4-11l-4 11 11-4M1741 162l-18 18m4-11l-4 11 11-4M1735 162l-18 18m4-11l-4 11 11-4M1728 173l-18 18m4-11l-4 11 11-4M1744 150l-18 18m4-11l-4 11 11-4M1726 178l-18 18m4-11l-4 11 11-4M1687 223l-18 18m4-11l-4 11 11-4M1750 150l-18 18m4-11l-4 11 11-4M1708 206l-18 18m4-11l-4 11 11-4M1701 128l-18 18m4-11l-4 11 11-4M1710 167l-18 18m4-11l-4 11 11-4M1710 184l-18 18m4-11l-4 11 11-4M1699 139l-18 18m4-11l-4 11 11-4M1694 173l-18 18m4-11l-4 11 11-4M1685 173l-18 18m4-11l-4 11 11-4M1723 184l-18 18m4-11l-4 11 11-4M1732 184l-18 18m4-11l-4 11 11-4M1694 184l-18 18m4-11l-4 11 11-4M1696 229l-18 18m4-11l-4 11 11-4M1712 139l-18 18m4-11l-4 11 11-4M1730 218l-18 18m4-11l-4 11 11-4M1723 128l-18 18m4-11l-4 11 11-4M1735 167l-18 18m4-11l-4 11 11-4M1708 184l-18 18m4-11l-4 11 11-4M1701 195l-18 18m4-11l-4 11 11-4M1732 162l-18 18m4-11l-4 11 11-4M1753 190l-18 18m4-11l-4 11 11-4M1746 218l-18 18m4-11l-4 11 11-4M1748 173l-18 18m4-11l-4 11 11-4M1694 212l-18 18m4-11l-4 11 11-4M1732 206l-18 18m4-11l-4 11 11-4M1739 206l-18 18m4-11l-4 11 11-4M1732 184l-18 18m4-11l-4 11 11-4M1737 184l-18 18m4-11l-4 11 11-4M1671 150l-18 18m4-11l-4 11 11-4M1712 190l-18 18m4-11l-4 11 11-4M1735 162l-18 18m4-11l-4 11 11-4M1735 167l-18 18m4-11l-4 11 11-4M1699 162l-18 18m4-11l-4 11 11-4M1696 162l-18 18m4-11l-4 11 11-4M1721 173l-18 18m4-11l-4 11 11-4M1717 162l-18 18m4-11l-4 11 11-4M1705 167l-18 18m4-11l-4 11 11-4M1755 178l-18 18m4-11l-4 11 11-4M1717 206l-18 18m4-11l-4 11 11-4M1692 195l-18 18m4-11l-4 11 11-4M1660 128l-18 18m4-11l-4 11 11-4M1726 116l-18 18m4-11l-4 11 11-4M1699 218l-18 18m4-11l-4 11 11-4M1631 195l-18 18m4-11l-4 11 11-4M1638 184l-18 18m4-11l-4 11 11-4M1759 195l-18 18m4-11l-4 11 11-4M1676 184l-18 18m4-11l-4 11 11-4M1714 150l-18 18m4-11l-4 11 11-4M1732 116l-18 18m4-11l-4 11 11-4M1771 162l-18 18m4-11l-4 11 11-4M1629 88l-18 18m4-11l-4 11 11-4M1746 128l-18 18m4-11l-4 11 11-4M1690 111l-18 18m4-11l-4 11 11-4M1746 178l-18 18m4-11l-4 11 11-4M1665 116l-18 18m4-11l-4 11 11-4M1741 229l-18 18m4-11l-4 11 11-4M1638 201l-18 18m4-11l-4 11 11-4M1662 105l-18 18m4-11l-4 11 11-4M1683 263l-18 18m4-11l-4 11 11-4M1692 156l-18 18m4-11l-4 11 11-4M1782 206l-18 18m4-11l-4 11 11-4M1730 60l-18 18m4-11l-4 11 11-4M1647 162l-18 18m4-11l-4 11 11-4M1565 375l-18 18m4-11l-4 11 11-4M1541 381l-18 18m4-11l-4 11 11-4M1532 364l-18 18m4-11l-4 11 11-4M1473 398l-18 18m4-11l-4 11 11-4M1545 364l-18 18m4-11l-4 11 11-4M1520 330l-18 18m4-11l-4 11 11-4M1464 246l-18 18m4-11l-4 11 11-4M1480 252l-18 18m4-11l-4 11 11-4M1811 448l-18 18m4-11l-4 11 11-4M1622 454l-18 18m4-11l-4 11 11-4M1730 353l-18 18m4-11l-4 11 11-4M1793 375l-18 18m4-11l-4 11 11-4M1798 386l-18 18m4-11l-4 11 11-4M1680 398l-18 18m4-11l-4 11 11-4M1717 375l-18 18m4-11l-4 11 11-4M1805 381l-18 18m4-11l-4 11 11-4M1773 342l-18 18m4-11l-4 11 11-4M1732 432l-18 18m4-11l-4 11 11-4M1753 386l-18 18m4-11l-4 11 11-4M1753 353l-18 18m4-11l-4 11 11-4M1732 364l-18 18m4-11l-4 11 11-4" fill="none" stroke="#33173f" stroke-width="1.6" stroke-opacity="0.9"/>
<rect x="1365.5" y="27" width="492" height="493" fill="none" stroke="#111" stroke-width="2.6"/>
<line x1="1359.5" y1="499" x2="1365.5" y2="499" stroke="#333" stroke-width="1.3" />
<text x="1358.5" y="506" font-size="20" fill="#444" text-anchor="end">−100</text>
<line x1="1387.2" y1="520" x2="1387.2" y2="526" stroke="#333" stroke-width="1.3" />
<text x="1387.2" y="547" font-size="20" fill="#444" text-anchor="middle">−100</text>
<line x1="1359.5" y1="386.5" x2="1365.5" y2="386.5" stroke="#333" stroke-width="1.3" />
<text x="1358.5" y="393.5" font-size="20" fill="#444" text-anchor="end">−50</text>
<line x1="1500" y1="520" x2="1500" y2="526" stroke="#333" stroke-width="1.3" />
<text x="1500" y="547" font-size="20" fill="#444" text-anchor="middle">−50</text>
<line x1="1359.5" y1="274" x2="1365.5" y2="274" stroke="#333" stroke-width="1.3" />
<text x="1358.5" y="281" font-size="20" fill="#444" text-anchor="end">0</text>
<line x1="1612.8" y1="520" x2="1612.8" y2="526" stroke="#333" stroke-width="1.3" />
<text x="1612.8" y="547" font-size="20" fill="#444" text-anchor="middle">0</text>
<line x1="1359.5" y1="161.5" x2="1365.5" y2="161.5" stroke="#333" stroke-width="1.3" />
<text x="1358.5" y="168.5" font-size="20" fill="#444" text-anchor="end">50</text>
<line x1="1725.6" y1="520" x2="1725.6" y2="526" stroke="#333" stroke-width="1.3" />
<text x="1725.6" y="547" font-size="20" fill="#444" text-anchor="middle">50</text>
<line x1="1359.5" y1="49" x2="1365.5" y2="49" stroke="#333" stroke-width="1.3" />
<text x="1358.5" y="56" font-size="20" fill="#444" text-anchor="end">100</text>
<line x1="1838.4" y1="520" x2="1838.4" y2="526" stroke="#333" stroke-width="1.3" />
<text x="1838.4" y="547" font-size="20" fill="#444" text-anchor="middle">100</text>
<text x="1475" y="577" font-size="21.5" textLength="276.3" lengthAdjust="spacingAndGlyphs">Interacting CTCF site at the</text>
<text x="1482" y="604" font-size="21.5" textLength="267.7" lengthAdjust="spacingAndGlyphs">alpha globin locus (HS-56)</text>
<text x="1286" y="360" font-size="21.5" textLength="205" lengthAdjust="spacingAndGlyphs" transform="rotate(-90 1286 360)">Viewpoint CTCF site</text>
<text x="1317" y="360" font-size="21.5" textLength="194" lengthAdjust="spacingAndGlyphs" transform="rotate(-90 1317 360)">alpha globin HS-38</text>
<text x="11" y="662" font-size="30" font-weight="bold">c</text>
<text x="246" y="667" font-size="18" textLength="87" lengthAdjust="spacingAndGlyphs">500 bases</text>
<line x1="338.5" y1="664" x2="706.5" y2="664" stroke="#666" stroke-width="1.3" />
<line x1="338.5" y1="659" x2="338.5" y2="669" stroke="#666" stroke-width="1.3" />
<line x1="706.5" y1="659" x2="706.5" y2="669" stroke="#666" stroke-width="1.3" />
<text x="715" y="664.4" font-size="18" textLength="40.6" lengthAdjust="spacingAndGlyphs">mm9</text>
<rect x="426.8" y="680.8" width="8" height="406" fill="#d2d2d2" />
<rect x="451.2" y="680.8" width="7.4" height="425.2" fill="#d2d2d2" />
<rect x="462.5" y="680.8" width="14.9" height="426.9" fill="#d2d2d2" />
<rect x="488.4" y="680.8" width="12.8" height="456.6" fill="#d2d2d2" />
<rect x="508.6" y="680.8" width="11" height="443.2" fill="#d2d2d2" />
<rect x="528.6" y="680.8" width="11.3" height="428.2" fill="#d2d2d2" />
<rect x="609" y="680.8" width="8.3" height="426.9" fill="#d2d2d2" />
<path d="M154 780.5v-15h1.5v0.5h1.5v-1.5h1.5v1.5h1.5v-1h1.5v-0.5h1.5h1.5h1.5h1.5v0.5h1.5h1.5h1.5v-1.5h1.5h1.5v1.5h1.5v-0.5h1.5v0.5h1.5v-0.5h1.5v-1h1.5v1h1.5v-0.5h1.5h1.5v-1h1.5v0.5h1.5h1.5v0.5h1.5v-0.5h1.5v0.5h1.5v-1.5h1.5v1h1.5v-0.5h1.5v-0.5h1.5v-0.5h1.5v1h1.5v-0.5h1.5v-0.5h1.5v0.5h1.5v-1h1.5v0.5h1.5v-0.5h1.5h1.5v0.5h1.5v-1h1.5v0.5h1.5v-1h1.5h1.5v-0.5h1.5v0.5h1.5h1.5v-0.5h1.5h1.5v1h1.5h1.5v-1h1.5v1h1.5v-1h1.5v0.5h1.5v0.5h1.5h1.5v-0.5h1.5v0.5h1.5v0.5h1.5v-0.5h1.5v0.5h1.5v0.5h1.5v0.5h1.5v-0.5h1.5h1.5h1.5h1.5h1.5h1.5v1h1.5h1.5h1.5h1.5v0.5h1.5v0.5h1.5v-0.5h1.5v1.5h1.5v2h1.5v-2h1.5v-1h1.5v-1h1.5v-1h1.5v-1h1.5v-0.5h1.5v-0.5h1.5v-1h1.5v-1h1.5v-1h1.5v1.5h1.5v-1h1.5v-0.5h1.5v0.5h1.5v-0.5h1.5v-1h1.5v0.5h1.5v-0.5h1.5v0.5h1.5v-2h1.5v0.5h1.5h1.5v0.5h1.5v-1.5h1.5v-1h1.5v0.5h1.5v0.5h1.5h1.5v0.5h1.5v-1h1.5v-1h1.5v1h1.5v-1h1.5h1.5h1.5h1.5v-1h1.5v-0.5h1.5v0.5h1.5v-0.5h1.5v-0.5h1.5h1.5v0.5h1.5h1.5v-0.5h1.5h1.5v-0.5h1.5v-2h1.5v-0.5h1.5h1.5v-0.5h1.5v-0.5h1.5h1.5v-1h1.5v-0.5h1.5v-1h1.5h1.5v0.5h1.5v-1.5h1.5h1.5h1.5v-1.5h1.5h1.5v-0.5h1.5h1.5v-0.5h1.5v-0.5h1.5h1.5v0.5h1.5v0.5h1.5v-0.5h1.5h1.5h1.5v1h1.5v-1h1.5v1h1.5v-1.5h1.5v0.5h1.5v1h1.5v-0.5h1.5v-0.5h1.5v0.5h1.5v-0.5h1.5v1h1.5v-1.5h1.5v-1.5h1.5v-0.5h1.5v-1.5h1.5v-1h1.5v-1h1.5v-1.5h1.5v-0.5h1.5v-1.5h1.5v-1h1.5v-1h1.5v-2h1.5v-2h1.5v-0.5h1.5v-1h1.5v-1h1.5v-1h1.5v-1h1.5v-1.5h1.5v-1h1.5v-1.5h1.5h1.5v-2h1.5v-2h1.5v-2.5h1.5v-2.5h1.5v-2h1.5v-3h1.5v-2h1.5v-0.5h1.5v-0.5h1.5v-1h1.5v-1h1.5v-1.5h1.5v0.5h1.5v-1h1.5v-1.5h1.5v0.5h1.5h1.5v0.5h1.5v-0.5h1.5v-1.5h1.5v0.5h1.5v-0.5h1.5v-0.5h1.5h1.5v1.5h1.5h1.5h1.5v-1h1.5v2h1.5v0.5h1.5v1h1.5v2h1.5v1h1.5v1.5h1.5v-0.5h1.5v-0.5h1.5v0.5h1.5v-0.5h1.5v-1h1.5v0.5h1.5h1.5h1.5v1.5h1.5v2h1.5v0.5h1.5v2h1.5v-0.5h1.5v-3h1.5v-1.5h1.5h1.5v-1h1.5h1.5v0.5h1.5v-0.5h1.5h1.5v1h1.5h1.5v0.5h1.5h1.5v-0.5h1.5v0.5h1.5v0.5h1.5v-0.5h1.5v0.5h1.5v0.5h1.5h1.5v0.5h1.5v0.5h1.5h1.5v-1h1.5v0.5h1.5v1h1.5v0.5h1.5v0.5h1.5v-0.5h1.5v1h1.5v0.5h1.5v1h1.5h1.5v-1h1.5v1h1.5v-0.5h1.5v1h1.5v0.5h1.5v-0.5h1.5h1.5v1h1.5v0.5h1.5v-0.5h1.5h1.5v0.5h1.5v0.5h1.5h1.5h1.5h1.5v-0.5h1.5v1.5h1.5v1h1.5v-1h1.5v1.5h1.5v1.5h1.5h1.5v-0.5h1.5v2.5h1.5v-1h1.5v2h1.5v-0.5h1.5v2h1.5v2h1.5v2h1.5v2h1.5v2h1.5v1h1.5v0.5h1.5h1.5h1.5h1.5h1.5h1.5v0.5h1.5v0.5h1.5v-0.5h1.5v1.5h1.5v0.5h1.5v2h1.5v1.5h1.5v0.5h1.5v2h1.5v2h1.5v-0.5h1.5v1h1.5v-0.5h1.5v1h1.5h1.5v0.5h1.5v0.5h1.5v0.5h1.5v1h1.5v0.5h1.5h1.5v0.5h1.5v1h1.5h1.5h1.5h1.5v1h1.5v0.5h1.5v0.5h1.5v1.5h1.5v1h1.5v0.5h1.5v1h1.5v1h1.5v1h1.5v0.5h1.5v0.5h1.5v1h1.5v1h1.5v1h1.5v-1h1.5h1.5v1h1.5h1.5v0.5h1.5v1h1.5v-0.5h1.5v1.5h1.5v0.5h1.5v0.5h1.5v0.5h1.5v-0.5h1.5v1h1.5v-1.5h1.5v0.5h1.5h1.5v0.5h1.5v0.5h1.5v-0.5h1.5v1h1.5h1.5h1.5h1.5v-0.5h1.5v-0.5h1.5v1h1.5v0.5h1.5v0.5h1.5v-0.5h1.5v0.5h1.5v1h1.5h1.5h1.5h1.5v0.5h1.5v0.5h1.5h1.5h1.5v0.5h1.5v-0.5h1.5v0.5h1.5v0.5h1.5h1.5v0.5h1.5v1h1.5v-0.5h1.5v0.5h1.5v-0.5h1.5h1.5v1h1.5h1.5v-1h1.5v1h1.5v0.5h1.5v1h1.5v-0.5h1.5v0.5h1.5v0.5h1.5v-0.5h1.5h1.5v1h1.5h1.5v-2h1.5v1.5h1.5h1.5v0.5h1.5v-0.5h1.5v0.5h1.5v0.5h1.5h1.5h1.5v-0.5h1.5h1.5h1.5v-1h1.5v2h1.5v-1h1.5h1.5h1.5h1.5v-1h1.5v1h1.5v-0.5h1.5h1.5v-0.5h1.5h1.5v1.5h1.5v-0.5h1.5h1.5h1.5v-1h1.5v0.5h1.5v-0.5h1.5v0.5h1.5v-1h1.5v1h1.5v0.5h1.5h1.5h1.5v-0.5h1.5v-1h1.5v1h1.5v-0.5h1.5h1.5v-1h1.5v1h1.5v0.5h1.5v-0.5h1.5v-0.5h1.5h1.5h1.5h1.5h1.5h1.5v-0.5h1.5h1.5v-0.5h1.5h1.5v1h1.5v-0.5h1.5v0.5h1.5v-1.5h1.5v2h1.5v-1h1.5v1h1.5v-2h1.5v0.5h1.5v1.5h1.5v-0.5h1.5h1.5h1.5h1.5h1.5v-0.5h1.5v0.5h1.5v0.5h1.5v-0.5h1.5h1.5h1.5v0.5h1.5v-0.5h1.5h1.5v0.5h1.5h1.5v0.5h1.5v-0.5h1.5h0.5v13Z" fill="#4796a6"/>
<text x="105.7" y="690" font-size="17.5" fill="#4a8fa0" textLength="28.3" lengthAdjust="spacingAndGlyphs">160</text>
<text x="141" y="692" font-size="17.5" fill="#4a8fa0">_</text>
<text x="90" y="735" font-size="21" fill="#4a8fa0" textLength="158.6" lengthAdjust="spacingAndGlyphs">MCC Hba-a1&amp;2</text>
<text x="125.5" y="780" font-size="17.5" fill="#4a8fa0">0</text>
<text x="105.7" y="793.4" font-size="17.5" fill="#4a8fa0" textLength="28.3" lengthAdjust="spacingAndGlyphs">130</text>
<text x="141" y="782" font-size="17.5" fill="#4a8fa0">_</text>
<text x="141" y="796" font-size="17.5" fill="#4a8fa0">_</text>
<circle cx="430.7" cy="812.6" r="3.6" fill="#bfe6bf" stroke="#76bd84" stroke-width="1.2"/>
<circle cx="455" cy="812.6" r="3.6" fill="#bfe6bf" stroke="#76bd84" stroke-width="1.2"/>
<circle cx="465.5" cy="812.6" r="3.6" fill="#bfe6bf" stroke="#76bd84" stroke-width="1.2"/>
<circle cx="473" cy="812.6" r="3.6" fill="#bfe6bf" stroke="#76bd84" stroke-width="1.2"/>
<circle cx="494.6" cy="815" r="6" fill="#bfe6bf" stroke="#76bd84" stroke-width="1.2"/>
<circle cx="514" cy="815" r="6" fill="#bfe6bf" stroke="#76bd84" stroke-width="1.2"/>
<circle cx="534.2" cy="815" r="6" fill="#bfe6bf" stroke="#76bd84" stroke-width="1.2"/>
<circle cx="612.8" cy="812.6" r="3.6" fill="#bfe6bf" stroke="#76bd84" stroke-width="1.2"/>
<text x="90" y="835.7" font-size="21" fill="#4a8fa0" textLength="251.4" lengthAdjust="spacingAndGlyphs">MCC Footprint upstream</text>
<path d="M158.6 848H175" stroke="#222" stroke-width="2.6"/><path d="M181 848L173 843.5V852.5Z" fill="#222"/>
<path d="M154 884v-7h1v5h1v1h1v1h1v-0.5h1h1v-0.5h1v0.5h1v-2h1v2h1h1v-2h1v1.5h1v-5.5h1v5.5h1v0.5h1v-2.5h1v1.5h1v1h1h1v-0.5h1v-0.5h1v-3h1v4h1v-0.5h1v-1.5h1v1.5h1v-1h1v-0.5h1v2.5h1v-0.5h1v-2.5h1v1h1v-3.5h1v3.5h1v-2.5h1v3.5h1v-2h1v1h1v1.5h1v-4h1v4h1v-1.5h1v1.5h1v-1h1v-1.5h1v2h1h1v0.5h1v-1h1v-0.5h1v-3h1v5h1v-0.5h1v-3h1v3h1h1v-6.5h1v4h1v-3h1v1.5h1v3.5h1v-4h1v4h1v-1.5h1v2h1v-8.5h1v8h1v1h1v-3h1v1h1v0.5h1v0.5h1v-0.5h1v0.5h1h1h1v-2h1v-2.5h1v5h1h1v-3h1v2h1v0.5h1v-2h1v1.5h1v-6h1v6.5h1v0.5h1v-1.5h1v-3.5h1v2h1v3h1h1h1v-2h1v0.5h1v1h1v-2h1v2.5h1v-0.5h1v0.5h1v-0.5h1v-0.5h1v1.5h1v-1h1h1v-3h1v4h1v-1.5h1v-1h1v1.5h1v0.5h1v-2.5h1v3h1v-1h1v-1h1v1.5h1v-1h1v1h1v-1h1v0.5h1v-0.5h1v1h1v-3.5h1v-12h1v-9h1v9h1v12h1v3.5h1v-1h1v0.5h1h1v-5.5h1v5h1v-2.5h1v2h1v1.5h1v-2h1v0.5h1v1h1v-0.5h1v1h1v-0.5h1v0.5h1v-1.5h1v1.5h1v-3h1v3h1h1v-2.5h1v0.5h1v0.5h1v1h1v1h1v-0.5h1v-2h1v-9h1v11h1v-1.5h1v-2h1v1h1v-2h1v5h1v-0.5h1v-4.5h1v3.5h1v-1.5h1v2.5h1v-8h1v8h1v-0.5h1v0.5h1h1v-4.5h1v4.5h1v-2h1v2h1v-1.5h1v1.5h1v-1.5h1v1h1v-2h1v-0.5h1v-1h1v3h1v-0.5h1v0.5h1v0.5h1h1v-3.5h1v3.5h1h1v-1h1v-2.5h1v4h1v-3.5h1v2.5h1v-1.5h1v-2h1v-2h1v4h1v2h1v-2h1v2h1v-2.5h1v2h1v-0.5h1v1.5h1v-1h1v1h1v-2h1v2.5h1v-3h1h1v-8h1v-6h1v6h1v8h1v-0.5h1v2.5h1h1v-3.5h1v3.5h1h1v-2h1v2.5h1v-5.5h1v5.5h1v-1h1v-1.5h1v2h1v0.5h1v-3h1v3.5h1v-1.5h1v0.5h1v1h1v-2h1v-1.5h1v-9.5h1v-7h1v7h1v7.5h1v-6.5h1v-16h1v22.5h1v1h1v-2.5h1v-25.5h1v25h1v4.5h1v-9h1v-15.5h1v-28h1v9h1v30.5h1v11h1v-4.5h1v8h1v-4h1v-5h1v7.5h1v-24h1h1v-28h1v9h1v30h1v14h1v-10.5h1v-6.5h1v-11h1v11h1v2h1v15h1v-2.5h1v-8h1v-1.5h1v-25.5h1v-7.5h1v24h1v1h1v19h1v-1.5h1v-13.5h1v3h1v-41.5h1v-31.5h1v31.5h1v41.5h1v13h1v-5.5h1v-13h1v-7.5h1v10h1v13.5h1v-5h1v2h1v-18.5h1v-11h1v15.5h1v-22h1v43h1v-5.5h1v2.5h1v-3h1v3h1v-10.5h1v-8h1v8h1v-11.5h1v8h1v6.5h1v8.5h1v-6h1v-10.5h1v-11h1v11h1v14h1v-1.5h1v-21.5h1v7.5h1v16.5h1v-1h1v1.5h1v-23.5h1v24.5h1v-0.5h1v-6.5h1v-32h1v-15.5h1v20.5h1v27h1v3.5h1v-0.5h1v-16h1v-12.5h1v12.5h1v-7h1v23.5h1v6h1v-1.5h1v-21h1v22h1v-1.5h1v0.5h1v-10.5h1v5h1v-23h1v-11h1v-23h1v23h1v30h1v2.5h1v-7.5h1v12.5h1v-1h1v-12h1v-8.5h1v9h1v10h1v-0.5h1v-12.5h1v-11h1v11h1v14h1v3.5h1v-7h1v-18h1v1.5h1v13.5h1v9.5h1v-25h1v23h1v-0.5h1v-5.5h1v-12.5h1v2h1v13h1v6.5h1v-1.5h1v-10h1v12h1v-3h1v-5.5h1v6.5h1v-1.5h1v-4.5h1v6h1v-10h1v-13.5h1v4.5h1v13.5h1v5h1h1v-21h1v-6h1v5h1v14h1v3.5h1v-11h1v9.5h1v-3h1v-12h1v-5h1v15h1v11h1v2.5h1v-13h1v10h1v-9.5h1v-7h1v7h1v-10.5h1v16h1v4.5h1v2.5h1v-6.5h1v6h1v-0.5h1v1h1v-5h1v-4.5h1v-27h1v-21h1v21h1v27h1v8.5h1v0.5h1v-2.5h1v-0.5h1v0.5h1v-4h1v7h1v-24h1v15h1v-10.5h1v5.5h1v-2.5h1v-10.5h1v22.5h1v-12h1v16h1v-2h1v1h1v-5.5h1v5.5h1v-1h1v-33h1v9h1v-11.5h1v16h1v-8h1v28h1v-19.5h1v19h1v-4h1v-7h1v-8.5h1v8.5h1v5h1v5.5h1v-6h1v-7h1v14h1v-12.5h1v9.5h1v-1h1v1.5h1v-6h1v-21h1v-6.5h1v7.5h1v27h1v2h1v-9h1v6.5h1v-3h1v-29h1v8.5h1v10h1v8h1v9h1v-3.5h1v-7.5h1v-53.5h1v55h1v-6h1v1.5h1v13h1v-19h1v16h1v-6.5h1v1h1v-2h1v11h1v-9.5h1v9.5h1v-3.5h1v-8.5h1h1v-7h1v10h1v10.5h1v-2.5h1v-7h1v8h1v0.5h1v-1h1v0.5h1h1v1h1v0.5h1v-4.5h1v4h1v-2.5h1v3h1v-1.5h1v-0.5h1h1v1h1v-2h1v3h1v-1h1v-3h1v3.5h1h1v-1h1v1h1v-3.5h1v0.5h1v1.5h1v1h1h1v-2h1v1h1v0.5h1v-2h1v3.5h1v-4.5h1v4h1v-2h1h1h1v2h1v-3h1v3h1h1v-3h1h1v2.5h1v-1h1v0.5h1v0.5h1v-0.5h1v0.5h1v0.5h1h1v-3h1v2.5h1v0.5h1h1h1v-1h1v0.5h1h1v1h1v-5h1v2.5h1v-0.5h1v3h1v-2h1v0.5h1v-5.5h1v6.5h1v-2h1v0.5h1v-0.5h1v-0.5h1v2.5h1v-0.5h1v-0.5h1v-0.5h1v1.5h1v-1h1v-1h1v-2h1v-1h1v4.5h1v-3h1v3.5h1v-2.5h1v1h1v1.5h1v-1.5h1v-0.5h1h1v2h1v-1h1v1h1v-1h1v0.5h1v-1.5h1v2h1h1v-2.5h1v-5.5h1v7.5h1v-0.5h1v-2.5h1v3h1h1v1h1v-1.5h1v-2h1v3h1v-1h1v-0.5h1v0.5h1v1.5h1v-1h1v0.5h1v-2h1v2h1v-2.5h1v-0.5h1v3.5h1h1v-4h1v3.5h1v-3.5h1v4h1v-1.5h1v1h1v-3.5h1v1.5h1v2h1v-2h1v-0.5h1v2.5h1v-1h1v-1.5h1v1h1v0.5h1v-8h1v8h1v1h1v-1h1v1h1v-2.5h1h1v1h1v-0.5h1v1.5h1v0.5h1v-2h1v1h1h1v0.5h1v-1h1v1h1v-2h1v1h1v1.5h1v-3h1v0.5h1v2.5h1v-0.5h1v0.5h1h1v0.5h1v-2h1v0.5h1h1v-1h1v0.5h1v1h1v-8h1v7h1v0.5h1v-0.5h1v-2.5h1v4h1v-1h1v-0.5h1v1.5h1h1v-1h1v-1.5h1v2.5h1v-5h1v3.5h1h1v0.5h1v1h1v-1.5h1v-1h1v2.5h1v-2h1v-0.5h1v2h1v0.5h1v0.5h1h1v-3.5h1v1.5h1v-2.5h1v1h1v1.5h1h1v2h1v-4h1v3.5h1v0.5h1v-1.5h1v-0.5h1v1.5h1v0.5h1h1v-0.5h1v-1h1v0.5h1v0.5h1v-1.5h1v-0.5h1h1v-1h1v1.5h1v0.5h1h1v0.5h1v-3h1v3.5h1v-2.5h1v-3h1v-10.5h1v-1.5h1v10h1v6.5h0.5v1.5Z" fill="#3b8d9c"/>
<line x1="154" y1="884" x2="892.6" y2="884" stroke="#3b8d9c" stroke-width="1" />
<text x="125.5" y="884" font-size="17.5" fill="#4a8fa0">0</text>
<text x="125.5" y="893.7" font-size="17.5" fill="#4a8fa0">0</text>
<text x="141" y="886" font-size="17.5" fill="#4a8fa0">_</text>
<text x="141" y="897" font-size="17.5" fill="#4a8fa0">_</text>
<path d="M154 895.5v0.5h1v0.5h1v2.5h1v-3h1v1.5h1v-2h1v1.5h1v-0.5h1v-0.5h1h1v1h1v0.5h1v-1.5h1v-0.5h1v0.5h1h1h1v1h1v2h1v-3.5h1h1v1.5h1v-1.5h1v3h1v-0.5h1v-1.5h1v3.5h1v3.5h1v-7.5h1h1v3.5h1v-2.5h1v-1h1v0.5h1v0.5h1v1.5h1v-3h1v0.5h1h1v1.5h1v-2h1v0.5h1v1h1h1v-0.5h1v-1h1v1h1h1v-1h1v1.5h1h1v0.5h1v3.5h1v-5h1v1h1v-1h1v1h1v-0.5h1v5h1v-4.5h1v-1h1h1h1v2h1v0.5h1v-1h1v0.5h1h1v-1.5h1v1.5h1v-1h1v4.5h1v-5.5h1v1h1v-0.5h1v4h1v-5h1h1v1.5h1v1h1v-2h1h1v-0.5h1v3h1h1v-2h1h1v0.5h1v5.5h1v-6.5h1v1.5h1v-1.5h1v1.5h1h1v-1.5h1v5.5h1v-6h1v4.5h1v-4.5h1v1.5h1v-1h1v2.5h1v-2h1v4.5h1v-3.5h1v-1h1v-0.5h1v0.5h1h1v3h1v-0.5h1v-3h1v3h1v-3h1h1h1h1v3.5h1v7.5h1v18h1v5.5h1v-16.5h1v-14h1v-3.5h1v1h1v1h1v1h1v-3h1v1h1v0.5h1v-2h1v3.5h1v-1.5h1v3h1v-4.5h1v0.5h1v1.5h1v-2h1v3h1v-2.5h1v-0.5h1v0.5h1v-1h1h1h1h1h1h1v0.5h1v-0.5h1h1v0.5h1v0.5h1v-1h1v-0.5h1v0.5h1v1.5h1v-2h1v3.5h1v-1.5h1h1v-1.5h1h1h1v0.5h1v-1h1v6h1v-3.5h1v-2h1v2h1v-2.5h1h1v1.5h1v-1h1v-0.5h1v1h1h1v1h1v-1.5h1v1.5h1v-0.5h1v0.5h1v0.5h1v-1h1v-1h1v1.5h1h1v-1h1v-0.5h1v4.5h1v-1.5h1v-1h1v-2h1v-0.5h1v5h1v-3.5h1v-1h1v4.5h1v-5h1v3h1v-2.5h1v0.5h1v2h1v-1.5h1v-0.5h1v3.5h1v-3.5h1v16h1v-15.5h1v3.5h1v-4.5h1v11h1v-9.5h1v3.5h1v6h1v-10.5h1v5h1v8.5h1v27h1v-15.5h1v-22h1v15.5h1v-2h1v-7h1v1.5h1v0.5h1v24h1v-24h1v-7h1v5.5h1v-8.5h1v13.5h1v-5h1v-8h1v15h1v-2.5h1v-3.5h1v0.5h1v-5.5h1v-1h1v7.5h1v13h1v-26.5h1v20h1v-2.5h1v-14.5h1v13h1v-13h1v8.5h1v9h1v9.5h1v-9.5h1v-7.5h1v-10.5h1v27h1v-29.5h1v8h1h1v-5.5h1v8h1v-10h1v3h1v7.5h1v-5.5h1v21.5h1v-22.5h1v7h1v-11h1v16.5h1v-10.5h1v15h1v-12.5h1v-7h1v32h1v-22.5h1v-10.5h1v5h1v-5h1v24.5h1v-16.5h1v-5h1v2h1v2.5h1v22.5h1v-5h1v4.5h1v0.5h1v-10h1v-14.5h1v1.5h1v13h1v-1.5h1v-10h1v8h1v-6.5h1v-4.5h1v-6h1v0.5h1v1h1v6h1v11h1v-18h1v9.5h1v1.5h1v-8h1v9.5h1v28.5h1v-16.5h1v-12h1v-12.5h1v3h1v28.5h1v-28.5h1v-3h1v40h1v-22h1v9h1v-9h1v-13h1v1h1v2h1v8h1v-15.5h1v5.5h1v-3.5h1v-1h1v29.5h1v13h1v12h1v-24h1v-24h1v21.5h1v-26h1v1.5h1v0.5h1v14h1v9.5h1v-9.5h1v-7h1v4.5h1v-13.5h1v-3h1v23.5h1v11h1v8h1v-14h1v-21h1v1h1v-1h1v-8h1v3.5h1v-4h1v11h1v23h1v-32h1v3h1v13.5h1v-9.5h1v2.5h1v0.5h1v-6h1v4.5h1v31.5h1v-36.5h1v-1h1v12h1v8h1v-8h1v-2h1v22h1v-26.5h1v-4.5h1v-1.5h1v-4h1v19h1v-4.5h1v7h1v-7h1v-1h1v-1.5h1v-10.5h1v0.5h1v2.5h1v-1.5h1v7h1v24.5h1v-28.5h1v-4h1v25.5h1v10h1v-32h1v-1h1v15.5h1v17.5h1v-5.5h1v-10.5h1v-18h1v13.5h1v-10.5h1v15h1v31h1v-35.5h1v2.5h1v-14.5h1v-0.5h1v27.5h1v-7.5h1v-8h1v-12h1v7h1v-11.5h1v0.5h1v11.5h1v-11h1v37.5h1v-39h1v12.5h1v-11.5h1v2h1h1v12h1v20.5h1v3h1v-19.5h1v5h1v-21.5h1v2h1v65.5h1v-68.5h1v4h1v0.5h1v-5h1v0.5h1v6.5h1v4.5h1v6.5h1v9h1v-9h1v-13h1v11h1v17.5h1v-34h1v5h1v10h1v27.5h1v11h1v-22.5h1v-23h1v15.5h1v-23h1v2h1v13.5h1v21h1v-35h1v18h1h1v9.5h1v-9.5h1v-9.5h1v-5h1v4h1v12h1v-16h1v4h1v9h1v-16h1v18.5h1v20h1v7h1v-22.5h1v-19.5h1v6.5h1v15h1v-23.5h1v14.5h1v-8.5h1v11.5h1v7.5h1v-13h1v-5.5h1v-8h1v18h1v-19h1v-0.5h1v8h1v-7.5h1v14h1v-5h1v-5h1v8.5h1v7h1v15h1v-29h1v-7h1v14h1v13.5h1v-20.5h1v4h1v-9h1v14h1v-11.5h1v4.5h1v11.5h1h1v-10h1v-4h1v0.5h1v2.5h1v-5h1v19h1v-17.5h1v12.5h1v-14.5h1v25.5h1v-8.5h1v-3.5h1v-17.5h1v5h1v7.5h1v5.5h1v-17h1v-0.5h1v4.5h1v4.5h1v-1h1v-1h1v0.5h1v-8h1v2h1v0.5h1v-2h1v-0.5h1v-0.5h1v5h1v-3.5h1v-1.5h1v2h1v1h1v-2h1v-1h1v0.5h1h1h1v2h1v-1h1v-1h1v2.5h1v0.5h1h1v0.5h1v2.5h1v-6h1v1h1v-0.5h1v2h1v-1.5h1v-0.5h1h1v1h1v-1h1v3.5h1v-1.5h1v-0.5h1v-1.5h1v0.5h1h1v1h1v-2.5h1v4.5h1v-2.5h1v-1h1v-1h1v3.5h1v-3h1v1h1v-0.5h1v-1h1h1v1h1v-1h1v2h1v4h1v-5.5h1v3h1v-0.5h1v2h1v-1.5h1v-3.5h1v2h1v-1.5h1v0.5h1v0.5h1v2h1v-2.5h1v-0.5h1v3.5h1v-2.5h1v-1h1v2.5h1v-1.5h1v-1.5h1v1h1v-0.5h1v1h1h1v-0.5h1h1v-0.5h1v2h1v-1.5h1h1h1v2.5h1v-2.5h1v0.5h1v-0.5h1v-0.5h1v1.5h1v-0.5h1v-0.5h1v1.5h1v-2h1h1v0.5h1h1h1h1v0.5h1h1v-1.5h1v0.5h1v1h1v2h1v-3.5h1v3.5h1v-3.5h1v0.5h1v-0.5h1v1.5h1v0.5h1v3.5h1v-4h1v2h1v-1.5h1v-2h1v2h1h1v-0.5h1v-0.5h1v-0.5h1v0.5h1v0.5h1v-0.5h1v-0.5h1v2h1v1h1v-2.5h1v-1h1v3h1v-2h1v1.5h1v-2h1v2.5h1v-1.5h1v-1.5h1v1h1v0.5h1v7h1v-6.5h1v1.5h1v-2h1v-1h1v0.5h1v-1h1v1h1v3h1v-3.5h1v1h1h1v-1h1v-0.5h1v0.5h1v0.5h1v1h1v-1.5h1v-0.5h1v2h1v-1h1v0.5h1v-0.5h1v0.5h1v2h1v-2h1v1.5h1v-3h1v1h1h1v1.5h1v-1h1v-1.5h1h1v3h1v1h1v-3h1v2h1v-2.5h1v1h1v-0.5h1v1h1v-0.5h1v1h1v-1.5h1v0.5h1v-1h1v1.5h1v-1.5h1v2h1v-2h1h1h1v0.5h1v1h1v-2h1v0.5h1v0.5h1v-0.5h1v2h1v-1.5h1v-0.5h1v2.5h1v1h1v-3h1v-1h1h1v4.5h1v-1.5h1v-0.5h1v1h1v-1.5h0.5v-2Z" fill="#8dd0cf"/>
<path d="M158.6 924H166" stroke="#222" stroke-width="2.6"/><path d="M158 924L166 919.5V928.5Z" fill="#222"/>
<path d="M160 924H180" stroke="#222" stroke-width="2.6"/>
<text x="90" y="951.4" font-size="21" fill="#4a8fa0" textLength="277" lengthAdjust="spacingAndGlyphs">MCC Footprint downstream</text>
<text x="97" y="983" font-size="17.5" fill="#5b4a4a" textLength="38" lengthAdjust="spacingAndGlyphs">-130</text>
<text x="141" y="985" font-size="17.5" fill="#5b4a4a">_</text>
<text x="94" y="996.6" font-size="17.5" fill="#3d8b62" textLength="41" lengthAdjust="spacingAndGlyphs">1200</text>
<text x="141" y="999" font-size="17.5" fill="#3d8b62">_</text>
<text x="90" y="1039.4" font-size="21" fill="#3d8b62" textLength="201" lengthAdjust="spacingAndGlyphs">DNaseI Footprinting</text>
<text x="123" y="1065.7" font-size="17.5" fill="#3d8b62">0</text>
<text x="141" y="1068" font-size="17.5" fill="#3d8b62">_</text>
<path d="M154 1067v-1h1v1h1v-4.5h1v2h1v1.5h1v1h1v-1.5h1v-2h1v2.5h1h1v-0.5h1h1v-2h1h1v0.5h1v3h1v-0.5h1v-1.5h1h1h1v0.5h1v1h1v-0.5h1v0.5h1v-1h1h1v0.5h1v-3h1v2h1v-0.5h1v2h1v-2h1v1.5h1v-1h1h1v1.5h1h1v-2.5h1v1.5h1v-2.5h1v1h1v1.5h1v1h1v-2.5h1v1.5h1v-4.5h1v1.5h1v4h1h1v-1.5h1v0.5h1v0.5h1v-2h1v2h1v-1h1v-2.5h1v-2h1v4.5h1h1v-3h1v4.5h1v-0.5h1v-3h1v1.5h1h1v-2h1h1v3.5h1v-3h1v1.5h1v1h1v-1h1v-2h1v4h1h1v-0.5h1v-4.5h1v1.5h1v2.5h1v0.5h1v-2.5h1v2h1v-4.5h1v5.5h1v-2h1h1v-3h1v4h1v-1h1v-6.5h1v7.5h1h1v0.5h1v-3h1v1h1v-1.5h1v3.5h1h1v-1h1v0.5h1h1v-3.5h1v1.5h1v3h1h1v-1.5h1v-2h1v3h1v-4.5h1v0.5h1v2.5h1v2.5h1v-2.5h1v1.5h1v-3h1v3.5h1v-1h1h1v-2.5h1v1.5h1v1h1v-3h1v3.5h1v0.5h1h1v-6h1v5h1v-2h1v-1h1v1h1v-3.5h1v4.5h1v1h1v-0.5h1v-7h1v6h1v2h1h1h1v-5h1v6h1v-5.5h1v3.5h1v2h1v-4.5h1v2h1v-1.5h1h1v1.5h1v-2h1v-0.5h1v2h1h1h1v-0.5h1v-3.5h1v-2.5h1v4h1v-6h1v9h1v2h1v-9.5h1v8.5h1v-7.5h1v4h1v4.5h1v-1.5h1v-1.5h1v0.5h1v-2h1v-2.5h1v6h1v-8.5h1v8.5h1h1v0.5h1v-9h1v2.5h1v2.5h1v3.5h1v-2.5h1v1h1v2h1v-0.5h1v-1h1v-5h1v1h1v0.5h1v1.5h1v-6h1v-4.5h1v9.5h1v-5.5h1v10h1v0.5h1v-1h1v-13h1v11.5h1v-7.5h1v-4.5h1v13.5h1v-6.5h1v-1.5h1v5.5h1v-4h1v4.5h1v3h1v-1.5h1v1.5h1v-1.5h1v-10.5h1h1v8.5h1v1.5h1v-0.5h1v-0.5h1v2.5h1v0.5h1v-3h1v-3h1v-3.5h1v9.5h1v-6h1v4h1v1.5h1v-21.5h1v16.5h1v-7.5h1v-1.5h1v14h1v-6h1v-0.5h1v-14.5h1v11.5h1v-3h1v2h1v9h1v-9h1v4h1v4h1v-2.5h1v4h1v-6.5h1v5.5h1v-13.5h1v8.5h1v-36.5h1v12.5h1v31h1v-1h1v0.5h1v-31h1v21h1v10.5h1v-4.5h1v1h1v-18.5h1v12h1v8.5h1v-18h1v7h1v3.5h1v7.5h1v-13.5h1v-25h1v8.5h1v20.5h1v-2.5h1v13.5h1v0.5h1v-12h1v10h1v-14h1v-2h1v-6.5h1v10h1v6h1h1v3.5h1v-26h1v20h1v-27.5h1v-9h1v27h1v-4h1v13h1v-8h1h1v16h1v-4.5h1v1.5h1v1.5h1v-3h1v6h1v-13h1v11.5h1v0.5h1v-1h1v0.5h1v-4.5h1v-12h1v-13.5h1v-17h1v38.5h1v4h1v7.5h1v-7.5h1v5h1v1.5h1v-3.5h1v-7.5h1v-9h1v9h1v10h1v-21h1v1h1v-15h1v15h1v10.5h1v6.5h1v-1h1v-8.5h1v-24h1v33h1v-1.5h1v1.5h1v-1h1v-21.5h1v-10h1v20h1v4.5h1v-16.5h1v24.5h1v-8.5h1v9h1v-3h1v-16h1v16h1v-4h1v9.5h1h1v-1.5h1v3h1v-17h1v2.5h1v5h1v-6.5h1v7h1v-8.5h1v-34.5h1v25.5h1v18.5h1v-7h1v8h1v-24h1v21h1v-4h1v6.5h1v-9.5h1v-19.5h1v25.5h1v1.5h1v-3h1v6h1v4.5h1v0.5h1v-14h1v-26h1v4.5h1v26.5h1v-1h1v-18.5h1v-33h1v17h1v35.5h1v-5.5h1v-12h1v6h1v6.5h1v4h1v-11.5h1v11.5h1v8.5h1v-14.5h1v-5.5h1v10h1v3h1v2h1v-2.5h1v8.5h1v-6.5h1v-28.5h1v-14h1v27h1v21.5h1v1h1h1v-12h1v12h1v-2.5h1v-14h1v-7.5h1v14h1v3.5h1v-14.5h1v22h1v-8.5h1v4h1v3h1v-8.5h1v-12h1v14.5h1v-2.5h1v8h1v-1.5h1v-11.5h1v6h1v-7.5h1v7.5h1h1v-11h1v4.5h1v16h1v-3h1v-51.5h1v44h1v-10.5h1v10.5h1v-5.5h1v17h1v-40h1v34.5h1v0.5h1v-34h1v8.5h1v15h1v10h1v-20h1v9.5h1v2.5h1v-4.5h1v13.5h1v-0.5h1v1.5h1v-8h1v0.5h1v-2.5h1v7h1v-3.5h1v5h1v-18h1v17.5h1v-10.5h1v7.5h1v-16.5h1v4h1v12.5h1v-31h1v-11h1v36h1v-3.5h1v10.5h1v-7.5h1v8h1v8h1v-35h1v18h1v9.5h1h1v3h1v-5.5h1v3h1v-8.5h1v8h1v4.5h1v-1.5h1v-1.5h1v-3.5h1v-19.5h1v23.5h1v-6.5h1v3.5h1v1.5h1v-10h1v-3h1v16.5h1h1v-5.5h1v1.5h1v6.5h1v-24.5h1v22.5h1v2.5h1h1v-4h1v4.5h1v-5h1v-6.5h1v1h1v7h1v-11.5h1v13h1v-5.5h1v-2.5h1v8.5h1v1h1h1v-4.5h1v4h1v-7h1v2h1v2h1v3h1h1v-5h1v5.5h1v-5.5h1v2h1v3h1v-0.5h1v-1.5h1v-7h1v3.5h1v4h1v-4h1v5.5h1v-5.5h1v4h1v-1h1v1.5h1v-9.5h1v7h1v1.5h1v-12h1v12h1v2h1v-3.5h1v3h1v0.5h1h1v-5.5h1v-1.5h1v4.5h1v0.5h1v2h1v-1h1v-0.5h1v1.5h1v-5h1v2.5h1v0.5h1v-4h1v5h1v0.5h1v-4h1v3.5h1v-1.5h1v-4.5h1v6h1v2h1v-5.5h1v-7.5h1v9h1v-7h1v10h1v-0.5h1v-2h1v-0.5h1v3h1v-7h1v7.5h1v-6h1v-4.5h1v8.5h1v-2.5h1v4h1v-8h1v7h1v-5h1v4.5h1v0.5h1v-2.5h1v1h1v-9.5h1v8.5h1v1.5h1v1.5h1v-2.5h1v3h1v-3h1v-0.5h1v2.5h1v1.5h1v-2h1v-6h1v5.5h1v1h1v-1h1v-2h1v1.5h1v1.5h1v-0.5h1v-3h1v3.5h1v2h1v-3h1v1.5h1v-4h1v1.5h1v2.5h1v0.5h1v-2h1v-7h1v3h1v5.5h1v-6.5h1v4.5h1v3h1v-12h1v11.5h1v-0.5h1h1v1h1v-1.5h1v-1h1v-4.5h1v1h1v1.5h1v-6h1v6h1v0.5h1v2.5h1v1h1v-1h1h1v-0.5h1h1v0.5h1v0.5h1v1h1v-1.5h1v-0.5h1v-2.5h1v2.5h1v-2.5h1v3h1v-0.5h1v-1.5h1v2h1v-4.5h1v5.5h1v-3.5h1v2h1v-1h1v3h1v-1h1v-4h1v-2.5h1v6.5h1v-6h1v6h1v-1h1v-2h1v2h1v0.5h1v0.5h1h1v-7.5h1v5.5h1v3h1v-3h1v2.5h1h1v-7.5h1v8.5h1v-1.5h1v-1.5h1v2.5h1v-0.5h1v-2h1v1.5h1v-1.5h1v-1.5h1v4h1v-1.5h1v-5.5h1v5h1v-4h1v2h1v0.5h1v2.5h1v-4h1v2.5h1v-0.5h1v3h1v-2h1v0.5h1v2h1v-4.5h1v-0.5h1v2.5h1v-0.5h1v-5h1v7h1h1v-1.5h1h1v1h1v1h1v-1h1h1v0.5h1v-6.5h1v5h1v-4.5h1v6h1h1v-1h1v-5.5h1v0.5h1v5.5h1v0.5h1v-3.5h1v1h1v1.5h1h1v-2.5h1v3.5h1v-0.5h1v1.5h1v-1h1v-3.5h1v4h1v-4h1v3h1v-1.5h1v1h1v2h1v-1.5h0.5v1.5Z" fill="#3d8b62"/>
<line x1="154" y1="1067" x2="892.6" y2="1067" stroke="#3d8b62" stroke-width="1.2" />
<rect x="426.8" y="680.8" width="8" height="406" fill="#ffffff" fill-opacity="0.12"/>
<rect x="451.2" y="680.8" width="7.4" height="425.2" fill="#ffffff" fill-opacity="0.12"/>
<rect x="462.5" y="680.8" width="14.9" height="426.9" fill="#ffffff" fill-opacity="0.12"/>
<rect x="488.4" y="680.8" width="12.8" height="456.6" fill="#ffffff" fill-opacity="0.12"/>
<rect x="508.6" y="680.8" width="11" height="443.2" fill="#ffffff" fill-opacity="0.12"/>
<rect x="528.6" y="680.8" width="11.3" height="428.2" fill="#ffffff" fill-opacity="0.12"/>
<rect x="609" y="680.8" width="8.3" height="426.9" fill="#ffffff" fill-opacity="0.12"/>
<text x="368.6" y="1088" font-size="18" textLength="54.4" lengthAdjust="spacingAndGlyphs">GATA</text>
<text x="415" y="1104" font-size="18" textLength="36" lengthAdjust="spacingAndGlyphs">KLF</text>
<text x="415.7" y="1122" font-size="18" textLength="67" lengthAdjust="spacingAndGlyphs">RUNX1</text>
<text x="390" y="1140.6" font-size="18" textLength="108" lengthAdjust="spacingAndGlyphs">GATA/TAL1</text>
<text x="527.4" y="1121" font-size="18" textLength="58" lengthAdjust="spacingAndGlyphs">NF-E2</text>
<text x="508.6" y="1140" font-size="18" textLength="58" lengthAdjust="spacingAndGlyphs">NF-E2</text>
<text x="608.3" y="1107.7" font-size="18" textLength="67" lengthAdjust="spacingAndGlyphs">RUNX1</text>
<text x="958" y="680.5" font-size="30" font-weight="bold">d</text>
<g transform="matrix(1.0006 0 -0.5742 0.6387 1242.4 695.4)"><rect x="-49.9" y="59.3" width="4.6" height="51.7" fill="#aaaaaa" />
<rect x="-49.6" y="111" width="3.9" height="4.3" fill="#c8161d" />
<rect x="-44.1" y="59.3" width="4.6" height="51.7" fill="#aaaaaa" />
<rect x="-43.8" y="111" width="3.9" height="4.3" fill="#c8161d" />
<rect x="-38.3" y="59.3" width="4.6" height="51.7" fill="#aaaaaa" />
<rect x="-38" y="111" width="3.9" height="4.3" fill="#c8161d" />
<rect x="-32.6" y="51.2" width="4.6" height="59.8" fill="#f08a24" />
<rect x="-32.2" y="111" width="3.9" height="4.3" fill="#c8161d" />
<rect x="-43.8" y="29.8" width="3.9" height="3.9" fill="#2b8cb8" />
<rect x="-44.1" y="33.7" width="4.6" height="19.4" fill="#aaaaaa" />
<rect x="-38" y="29.8" width="3.9" height="3.9" fill="#2b8cb8" />
<rect x="-38.3" y="33.7" width="4.6" height="19.4" fill="#aaaaaa" />
<rect x="-32.2" y="29.8" width="3.9" height="3.9" fill="#2b8cb8" />
<rect x="-32.6" y="33.7" width="4.6" height="11.6" fill="#aaaaaa" />
<rect x="-27.2" y="29.8" width="4.6" height="27.2" fill="#aaaaaa" />
<rect x="-26.8" y="57" width="3.9" height="4.3" fill="#c8161d" />
<rect x="-26.8" y="66" width="3.9" height="3.8" fill="#2b8cb8" />
<rect x="-27.2" y="69.8" width="4.6" height="60.6" fill="#aaaaaa" />
<rect x="-21.2" y="21.6" width="4.6" height="35.4" fill="#aaaaaa" />
<rect x="-20.8" y="57" width="3.9" height="4.3" fill="#c8161d" />
<rect x="-20.8" y="66" width="3.9" height="3.8" fill="#2b8cb8" />
<rect x="-21.2" y="69.8" width="4.6" height="60.2" fill="#aaaaaa" />
<rect x="-15.7" y="21" width="4.6" height="36" fill="#aaaaaa" />
<rect x="-15.3" y="57" width="3.9" height="4.3" fill="#c8161d" />
<rect x="-15.3" y="66" width="3.9" height="3.8" fill="#2b8cb8" />
<rect x="-15.7" y="69.8" width="4.6" height="59.5" fill="#aaaaaa" />
<rect x="-9.7" y="13.1" width="4.6" height="43.9" fill="#aaaaaa" />
<rect x="-9.3" y="57" width="3.9" height="4.3" fill="#c8161d" />
<rect x="-9.3" y="66" width="3.9" height="3.8" fill="#2b8cb8" />
<rect x="-9.7" y="69.8" width="4.6" height="65.2" fill="#d81b7a" />
<rect x="0" y="0" width="162" height="162" fill="none" stroke="#9a9a9a" stroke-width="3.3"/>
<rect x="14" y="165.9" width="76.1" height="5.2" fill="#d81b7a" />
<rect x="90.1" y="166.6" width="4.3" height="3.8" fill="#2b8cb8" />
<rect x="26.4" y="171.3" width="35.3" height="5.2" fill="#aaaaaa" />
<rect x="61.7" y="172" width="4.3" height="3.8" fill="#3d8f95" />
<rect x="33.9" y="177" width="27.8" height="5.2" fill="#aaaaaa" />
<rect x="61.7" y="177.7" width="4.3" height="3.8" fill="#3d8f95" />
<rect x="38.1" y="182.5" width="23.6" height="5.2" fill="#aaaaaa" />
<rect x="61.7" y="183.2" width="4.3" height="3.8" fill="#3d8f95" />
<rect x="127" y="166.6" width="4.4" height="3.8" fill="#c8161d" />
<rect x="131.4" y="165.9" width="43.9" height="5.2" fill="#aaaaaa" />
<rect x="127" y="172" width="4.4" height="3.8" fill="#c8161d" />
<rect x="131.4" y="171.3" width="35.9" height="5.2" fill="#aaaaaa" />
<rect x="127" y="177.7" width="4.4" height="3.8" fill="#c8161d" />
<rect x="131.4" y="177" width="35.3" height="5.2" fill="#aaaaaa" />
<rect x="127" y="183.2" width="4.4" height="3.8" fill="#c8161d" />
<rect x="131.4" y="182.5" width="27.3" height="5.2" fill="#aaaaaa" />
<rect x="61.7" y="189.1" width="4.3" height="3.8" fill="#c8161d" />
<rect x="66" y="188.4" width="60" height="5.2" fill="#f08a24" />
<rect x="61.7" y="194.8" width="4.3" height="3.8" fill="#c8161d" />
<rect x="66" y="194.1" width="52" height="5.2" fill="#aaaaaa" />
<rect x="61.7" y="200.4" width="4.3" height="3.8" fill="#c8161d" />
<rect x="66" y="199.7" width="52" height="5.2" fill="#aaaaaa" />
<rect x="61.7" y="206.3" width="4.3" height="3.8" fill="#c8161d" />
<rect x="66" y="205.6" width="52" height="5.2" fill="#aaaaaa" />
<rect x="131.9" y="188.4" width="11.8" height="5.2" fill="#aaaaaa" />
<rect x="143.7" y="189.1" width="4.3" height="3.8" fill="#2b8cb8" />
<rect x="123.9" y="194.1" width="19.8" height="5.2" fill="#aaaaaa" />
<rect x="143.7" y="194.8" width="4.3" height="3.8" fill="#2b8cb8" />
<rect x="123.9" y="199.7" width="19.8" height="5.2" fill="#aaaaaa" />
<rect x="143.7" y="200.4" width="4.3" height="3.8" fill="#2b8cb8" />
<line x1="-3.5" y1="67.5" x2="86" y2="67.5" stroke="#ea8fc4" stroke-width="1.6" />
<path d="M88 67.5L83 70.2L83 64.8Z" fill="#ea8fc4"/>
<line x1="91.7" y1="168" x2="91.7" y2="79" stroke="#ea8fc4" stroke-width="1.6" />
<path d="M91.7 76L94.5 81L89 81Z" fill="#ea8fc4"/>
<line x1="-28.4" y1="113.3" x2="54" y2="113.3" stroke="#f6c08a" stroke-width="1.6" />
<path d="M57 113.3L52 116L52 110.5Z" fill="#f6c08a"/>
<line x1="63.9" y1="191" x2="63.9" y2="125" stroke="#f6c08a" stroke-width="1.6" />
<path d="M63.9 121.5L66.7 126.5L61.1 126.5Z" fill="#f6c08a"/>
<path d="M-1 60.5C40 42 95 38 108 52C118 66 118 110 114 135C112 150 106 160 101 164" fill="none" stroke="#ea8fc4" stroke-width="1.6" stroke-dasharray="3 3"/>
<path d="M-2.7 60.8L0.9 57.1L2.3 61.9Z" fill="#ea8fc4"/>
<path d="M99.8 166L100.5 160.9L104.5 163.9Z" fill="#ea8fc4"/>
<path d="M-30.7 121C-30 160 -20 180 0 186C20 191 40 191 57 191" fill="none" stroke="#f6c08a" stroke-width="1.6" stroke-dasharray="3 3"/>
<path d="M-30.7 118L-28.2 122.5L-33.2 122.5Z" fill="#f6c08a"/>
<path d="M59.5 191L55 193.5L55 188.5Z" fill="#f6c08a"/></g>
<path d="M1257 756C1257 700 1263 658 1272 658C1281 658 1287 700 1287 756Z" fill="#b8d6c6" fill-opacity="0.7" stroke="#b0b0c0" stroke-opacity="0.6"/>
<path d="M1264 726L1298 716L1300 744L1262 748Z" fill="#f060b8" fill-opacity="0.65"/>
<path d="M1245 738L1280 728L1282 760L1246 769Z" fill="#f5a04a" fill-opacity="0.7"/>
<ellipse cx="1268" cy="756" rx="13" ry="6" fill="#a8963a" fill-opacity="0.8"/>
<text x="1072" y="812" font-size="19" textLength="168" lengthAdjust="spacingAndGlyphs" transform="rotate(-47 1072 812)">Viewpoint Promoter</text>
<text x="1173" y="853" font-size="18" font-weight="bold" textLength="79.4" lengthAdjust="spacingAndGlyphs">Enhancer</text>
<path d="M1067 913.6L1830.6 913.3" stroke="#888" stroke-width="1"/>
<path d="M1067 913.6L1070.8 1034M1830.6 913.3L1825.2 1031" stroke="#333" stroke-width="1.2" stroke-dasharray="3 3"/>
<path d="M1052 955.8L1067 913.6M1844.7 955.8L1830.6 913.3" stroke="#333" stroke-width="1" stroke-dasharray="4 2"/>
<g filter="url(#grass)">
<path d="M1071 1036.5l0-3.5 3 0 3.5-1.5 3 2 3.5-2.5 3.5 1.5 3 0 3.5 0 3 0 3.5 1 3-2 3.5 1.5 3.5-1.5 3 1.5 3.5-3.5 3 1.5 3.5 2 3.5 0 3-0.5 3.5-3.5 3 3.5 3.5-2.5 3.5 0.5 3 1.5 3.5 0 3-2.5 3.5 1 3 0 3.5 1 3.5-2 3-4 3.5 0 3-2 3.5-5 3.5-3 3 1.5 3.5 3 3 4 3.5 3 3.5 0 3 2.5 3.5-3.5 3 4 3.5-2 3.5 2.5 3 0.5 3.5 0 3-0.5 3.5-1 3-1 3.5 1 3.5-3 3 1 3.5 1 3 2 3.5 0.5 3.5-2.5 3-1.5 3.5-2 3-1.5 3.5 1.5 3.5 3.5 3 1 3.5-1 3-4.5 3.5-7 3-7.5 3.5-8 3.5-1 3-4 3.5 2.5 3-6 3.5 3 3.5-8.5 3 5.5 3.5-13 3 4.5 3.5 1.5 3.5-2.5 3-6 3.5 0.5 3 1.5 3.5-11 3-2.5 3.5 8.5 3.5-6 3-3 3.5 13.5 3-5.5 3.5 7 3.5 2.5 3-1.5 3.5 15 3 2.5 3.5 3 3.5 0.5 3-5 3.5-16.5 3-0.5 3.5 11.5 3-5.5 3.5 0.5 3.5-3 3-3 3.5 9 3-0.5 3.5 2 3.5 12.5 3 0 3.5-2 3-3 3.5-7 3.5 7 3 5 3.5 8 3-5.5 3.5-1.5 3-2 3.5-13.5 3.5-5 3-7 3.5 7 3-8.5 3.5 3.5 3.5-0.5 3 10 3.5 0.5 3-0.5 3.5-7 3.5 1 3 11.5 3.5-1.5 3 8.5 3.5-11.5 3-17.5 3.5 7.5 3.5 13.5 3 5.5 3.5 7.5 3 5 3.5-13.5 3.5-7 3-13 3.5-0.5 3-2.5 3.5 5 3.5 9.5 3 10 3.5 5.5 3-8.5 3.5 3 3-2.5 3.5 14 3.5 4 3 0 3.5 1.5 3 3.5 3.5 3 3.5 3 3 2 3.5 0.5 3-2 3.5 2.5 3.5-2 3 1.5 3.5 0.5 3-0.5 3.5-3.5 3 3.5 3.5 1 3.5-0.5 3-1.5 3.5 1.5 3 0.5 3.5-1 3.5-2.5 3-0.5 3.5 2.5 3-3 3.5 0.5 3.5 3 3-3 3.5 2 3 1.5 3.5-1 3-1 3.5-1 3.5 1 3-1.5 3.5 1 3-1.5 3.5 1.5 3.5 1.5 3-0.5 3.5 1 3 0.5 3.5-0.5 3.5 0 3-1 3.5 0 3 1.5 3.5 0 3.5-4 3 3.5 3.5 0 3 0.5 3.5 0 3-2.5 3.5 2.5 3.5 0 3-2.5 3.5 2.5 3-0.5 3.5 0 3.5 0 3-1 3.5-1.5 3 2 3.5-0.5 3.5-2 3 1 3.5-0.5 3-6.5 3.5 1.5 3-2 3.5 3.5 3.5 2 3 4.5 3.5 0.5 3 0 0 4Z" fill="url(#sd0)" stroke="#2a1414" stroke-opacity="0.55" stroke-width="0.7"/>
<path d="M1070.5 1038.5l0-4.5 3-1.5 3.5 1.5 3-1.5 3.5 2.5 3.5 0 3-0.5 3.5-3.5 3 2 3.5 0 3.5-0.5 3-1 3.5 3.5 3-4 3.5 3.5 3.5-3 3 3 3.5 0 3-0.5 3.5 0 3-2 3.5 0 3.5-0.5 3 2.5 3.5 0 3-2.5 3.5 2.5 3.5-0.5 3-0.5 3.5-3 3-1 3.5-4 3.5-4.5 3 0 3.5-6 3 6.5 3.5 3 3.5 0.5 3 0.5 3.5 7.5 3-1 3.5-2.5 3.5 2 3 0.5 3.5 1 3-1.5 3.5-1.5 3.5 1.5 3 0.5 3.5-0.5 3 0 3.5-1 3.5-3 3 0.5 3.5 3.5 3 1 3.5-3.5 3.5 0.5 3-2.5 3.5-1 3 4 3.5-2.5 3.5 4.5 3 1 3.5-7 3-8.5 3.5-9 3.5-6 3-3.5 3.5 0 3-6.5 3.5-0.5 3.5-4.5 3-9.5 3.5 8.5 3-12 3.5 7 3.5-3.5 3 8 3.5-5 3-7.5 3.5-5.5 3.5 5 3-5 3.5 4 3 4 3.5-7 3.5 7 3-1 3.5 13 3-1.5 3.5-1.5 3.5 0 3 17 3.5-2 3 0.5 3.5-4 3.5-14 3-5 3.5 9 3-4 3.5-4 3.5 13 3-5 3.5-10.5 3 11 3.5 12 3.5 3.5 3 5 3.5-12 3 3.5 3.5 2.5 3.5-3.5 3 1 3.5 9.5 3-2.5 3.5 1 3-7 3.5-11 3.5-3.5 3 5 3.5-4.5 3-5 3.5-3 3.5 8.5 3-3.5 3.5 5.5 3-10 3.5 7 3.5-5 3 15.5 3.5 4 3-0.5 3.5-10.5 3.5-3 3-9 3.5 10.5 3 11 3.5 11 3.5 8.5 3-17 3.5-9.5 3-14.5 3.5-4 3.5 6 3-0.5 3.5 3.5 3 23 3.5-6.5 3.5-7.5 3 3.5 3.5 10 3 7.5 3.5-2.5 3.5 5.5 3 1 3.5 3.5 3 5 3.5 1.5 3.5 2.5 3-2 3.5 3 3-0.5 3.5 1.5 3.5-1.5 3 1.5 3.5 1 3 0 3.5 0.5 3.5-2.5 3 1.5 3.5-2.5 3 3 3.5-3.5 3.5 3.5 3-4 3.5 1 3 2.5 3.5 0.5 3.5 0 3-1 3.5-1 3 2 3.5-1 3.5 0 3-0.5 3.5 1 3-3.5 3.5 3.5 3.5-2 3-1.5 3.5 1.5 3 2 3.5-4 3.5 1 3 1.5 3.5 1 3-1 3.5 1.5 3.5-3 3 3 3.5 0 3-0.5 3.5-2 3.5-0.5 3 3 3.5 0.5 3 0 3.5-1.5 3.5 0.5 3 0.5 3.5-1 3 1 3.5 0.5 3-4 3.5 3.5 3.5 0 3 0 3.5-0.5 3-3 3.5 2 3.5-1.5 3-4 3.5-0.5 3-3 3.5 5.5 3.5 2.5 3 2 3.5 0.5 3-0.5 0 5.5Z" fill="url(#sd1)" stroke="#2a1414" stroke-opacity="0.55" stroke-width="0.7"/>
<path d="M1069.5 1040l0-4 3.5-0.5 3.5-1.5 3 1.5 3.5-1.5 3.5 1.5 3-1.5 3.5 1 3 1 3.5 0.5 3.5 0 3-0.5 3.5 0.5 3-0.5 3.5-2.5 3.5 3 3-1 3.5-2 3 3 3.5-3 3.5 2 3 1 3.5-3.5 3 1.5 3.5-0.5 3.5 0 3 1.5 3.5-0.5 3-3 3.5-0.5 3.5 0 3-4.5 3.5-1 3.5-6 3-3 3.5-1 3 4.5 3.5 5.5 3.5 2 3 5 3.5-0.5 3 0.5 3.5 0 3.5-1 3 2 3.5-3 3 1 3.5 1.5 3.5-3 3 1.5 3.5-1 3-2.5 3.5 3 3.5-1.5 3 3 3.5 1 3-4 3.5 2.5 3.5-2.5 3 0 3.5 1 3.5 1 3-1 3.5 2.5 3-5.5 3.5-8 3.5-7.5 3-9 3.5-10 3-1 3.5-3.5 3.5 1 3-4.5 3.5-8 3 4 3.5 2.5 3.5 4.5 3-14.5 3.5 3 3 2.5 3.5-1 3.5-15 3 5.5 3.5-6 3-11 3.5 24.5 3.5-3 3 4 3.5-1 3.5 9.5 3-9 3.5 16 3-4.5 3.5 13.5 3.5 7 3-8 3.5-9 3-16 3.5 8.5 3.5 4.5 3-17.5 3.5 12 3-1 3.5 7.5 3.5-6.5 3 9.5 3.5-7 3 8.5 3.5 6.5 3.5-3 3 3 3.5-0.5 3-2.5 3.5 10 3.5-1 3 3 3.5-1.5 3.5-13.5 3-2.5 3.5-4 3-14.5 3.5-3 3.5 5 3 1.5 3.5 11 3-6 3.5-5 3.5 3.5 3-6.5 3.5 4 3 12 3.5 0 3.5 11 3-9 3.5-19.5 3 11 3.5-0.5 3.5 12 3 11.5 3.5 8.5 3-16 3.5-4.5 3.5-12.5 3-14.5 3.5 2 3.5 5 3 10.5 3.5 16.5 3-5 3.5-6 3.5 13.5 3 1 3.5 1 3 6.5 3.5 0.5 3.5 2 3 5.5 3.5 3.5 3 2 3.5 4.5 3.5-3 3 3 3.5-2.5 3 0 3.5 0.5 3.5 3 3 0.5 3.5 0 3 0 3.5 0.5 3.5-2.5 3 0 3.5 2 3.5 0.5 3-2 3.5 0 3 2 3.5-0.5 3.5-3.5 3 3 3.5-0.5 3-2 3.5 0 3.5 0 3 0.5 3.5 2 3-0.5 3.5-2 3.5-0.5 3 2.5 3.5 0 3 1 3.5-0.5 3.5 0 3-1 3.5 0.5 3-2 3.5 1.5 3.5 1 3 0.5 3.5-1 3.5 1 3-2 3.5 2 3 0 3.5-0.5 3.5 0.5 3-3 3.5 2.5 3 0.5 3.5 0 3.5-3.5 3 3 3.5 0 3-0.5 3.5 0 3.5-1 3-1 3.5 1 3 1 3.5-2 3.5-4 3-1 3.5-4.5 3-1 3.5 7.5 3.5 3.5 3-1.5 3.5 1 3.5 3.5 0 4.5Z" fill="url(#sd2)" stroke="#2a1414" stroke-opacity="0.55" stroke-width="0.7"/>
<path d="M1069 1042l0-3.5 3.5-2.5 3.5 2.5 3-3.5 3.5 2.5 3.5 0 3 1 3.5-1.5 3-1.5 3.5 2 3.5-0.5 3 0 3.5 0.5 3-2.5 3.5 2.5 3.5-1 3-1 3.5 2 3.5 0 3 0 3.5 0.5 3 0 3.5-1.5 3.5-0.5 3 0.5 3.5 1.5 3-3 3.5 0.5 3.5 0.5 3 0 3.5-5 3.5-2.5 3-1 3.5-10 3 0.5 3.5 3.5 3.5 3 3 3.5 3.5 4.5 3 0 3.5-1 3.5 2 3-1 3.5 3 3.5-2.5 3 0 3.5 2 3-3 3.5 2 3.5-3 3 3 3.5-2 3 0.5 3.5-0.5 3.5 3 3-1.5 3.5 2.5 3.5-3 3-3.5 3.5 1.5 3 2.5 3.5 0 3.5 1 3-2 3.5-5.5 3-9 3.5-6 3.5-9 3-8 3.5 4 3.5 1.5 3-14.5 3.5 3 3-3.5 3.5-7.5 3.5-7 3 4.5 3.5-5.5 3.5 8.5 3-4.5 3.5 0 3-8.5 3.5-7.5 3.5 13.5 3-16 3.5-0.5 3 9.5 3.5 0 3.5 1.5 3 19 3.5-12 3.5 3 3 10.5 3.5 18 3 0.5 3.5-4.5 3.5-4.5 3-19.5 3.5 14 3 3 3.5-18.5 3.5 9 3-2 3.5-4 3.5 0.5 3 4.5 3.5 10.5 3 0 3.5 13 3.5-9.5 3-2.5 3.5-8.5 3 13 3.5 8 3.5-0.5 3 4 3.5-4.5 3.5-14.5 3-3 3.5 0.5 3-5 3.5-5 3.5 5.5 3-2.5 3.5-2 3-1 3.5 8.5 3.5-9 3-8 3.5 20.5 3.5 1 3 5.5 3.5 9 3-13 3.5-23 3.5 1.5 3 22 3.5 10 3 8 3.5 10 3.5-17.5 3-13 3.5-20 3.5 4.5 3 4 3.5 7 3 1.5 3.5 6 3.5 9 3-1.5 3.5-10 3.5 9.5 3 5.5 3.5 5 3 7 3.5 3 3.5 2 3 2.5 3.5 3 3 3 3.5-2 3.5 1 3 1.5 3.5-1 3.5-1.5 3 3 3.5 0.5 3-2 3.5 2.5 3.5-1 3-2 3.5 0.5 3 0 3.5-1.5 3.5 3 3 1 3.5-0.5 3.5 0.5 3-1 3.5 0 3 0.5 3.5-2.5 3.5 1 3 2 3.5-2 3-2.5 3.5 0.5 3.5 2 3 1.5 3.5-4.5 3.5 3.5 3 0 3.5-1 3 1.5 3.5-1 3.5 0.5 3-1.5 3.5 1 3 1.5 3.5-0.5 3.5 1 3-1.5 3.5 0.5 3.5 1 3-1.5 3.5 1 3-2 3.5 2.5 3.5-1 3-0.5 3.5 1.5 3.5-1 3-0.5 3.5-2 3 3 3.5-1 3.5-1 3-1 3.5 2 3-1.5 3.5-2 3.5-2.5 3-0.5 3.5-2.5 3.5-1.5 3 6 3.5 2 3 1 3.5 2.5 3.5-3 0 8.5Z" fill="url(#sd3)" stroke="#2a1414" stroke-opacity="0.55" stroke-width="0.7"/>
<path d="M1068.5 1043.5l0-3 3.5-3.5 3.5 3 3-3 3.5-0.5 3 3.5 3.5 0 3.5 0 3-2 3.5 2 3.5-3 3 2 3.5 0.5 3-2.5 3.5 3 3.5-2.5 3 1 3.5 0.5 3.5-1.5 3 2 3.5-2.5 3.5-1 3 4 3.5-2 3 1.5 3.5-0.5 3.5-2 3 0 3.5 1 3.5-1 3-4 3.5-3 3-5.5 3.5-0.5 3.5-4.5 3 2.5 3.5 3 3.5 6 3 1.5 3.5 4 3-3.5 3.5 3 3.5 0 3 0 3.5 1.5 3.5-3.5 3 0.5 3.5 1 3-0.5 3.5-0.5 3.5-1 3-1.5 3.5-1 3.5 5 3-1.5 3.5 3 3-1 3.5-0.5 3.5-4 3 1 3.5 0.5 3.5 1.5 3 1 3.5-0.5 3-9.5 3.5-6 3.5-4 3-9 3.5-11 3.5 7 3-15 3.5 4.5 3-13 3.5-1 3.5-4.5 3 3.5 3.5 5 3.5-4.5 3-15.5 3.5 10 3-10 3.5 14 3.5-16.5 3 12 3.5-22 3.5-1 3 5.5 3.5 18.5 3 9 3.5 2 3.5-11.5 3 13.5 3.5 10.5 3.5 3 3 11 3.5-2.5 3-20.5 3.5 3 3.5-13.5 3 15 3.5-23.5 3.5 5 3 8 3.5-1.5 3-11 3.5 12 3.5 5 3 16 3.5 6 3.5-2 3-12.5 3.5 8.5 3-1 3.5 9.5 3.5-6 3 3.5 3.5-6.5 3.5-8 3 2 3.5-19 3 10.5 3.5-6.5 3.5 0.5 3 3.5 3.5-13 3.5 15 3-2.5 3.5-13.5 3 1.5 3.5 15 3.5 1.5 3 6 3.5 8 3.5-15 3-23.5 3.5 13 3 10 3.5 10 3.5 11.5 3 14 3.5-23 3.5-13.5 3-17.5 3.5-10.5 3 15 3.5-5 3.5 19 3 3 3.5 11.5 3.5 1 3-8 3.5 5.5 3 13 3.5 1.5 3.5 1 3 6.5 3.5-1 3.5 7.5 3 3.5 3.5-1 3 0.5 3.5 0.5 3.5 2.5 3-0.5 3.5-1 3.5 2.5 3 0 3.5 0.5 3 0 3.5-1 3.5-3 3 1 3.5 3.5 3.5-3.5 3 3.5 3.5 0 3.5-2.5 3 2 3.5 0 3-3.5 3.5 3 3.5 0.5 3-4 3.5 2.5 3.5-1 3-1 3.5 3 3-2.5 3.5-0.5 3.5 2 3-1.5 3.5 3 3.5-1.5 3 1 3.5-4 3 3.5 3.5-2 3.5 1.5 3 0 3.5 1 3.5 0.5 3 0 3.5-3 3 1 3.5 0.5 3.5-0.5 3 2 3.5 0 3.5-3 3-0.5 3.5 3.5 3 0 3.5-4 3.5 3 3-2 3.5-1.5 3.5 0.5 3 1 3.5-1.5 3 0.5 3.5-0.5 3.5-2 3 0 3.5-5.5 3.5 3.5 3 3.5 3.5 2 3 1 3.5 2 3.5-1 0 6Z" fill="url(#sd4)" stroke="#2a1414" stroke-opacity="0.55" stroke-width="0.7"/>
<path d="M1068 1045.5l0-6.5 3.5 1 3.5-1.5 3 2 3.5-2.5 3 2 3.5 1.5 3.5-2 3 1 3.5 0.5 3.5-1 3 0.5 3.5-2.5 3.5 3.5 3-2.5 3.5 2.5 3-0.5 3.5 0.5 3.5-1.5 3 0 3.5-2.5 3.5 1.5 3 2.5 3.5-1 3.5-2.5 3 3 3.5-1.5 3-2.5 3.5 3 3.5-1.5 3-1.5 3.5-6.5 3.5-6.5 3 1 3.5-2 3.5 1 3 0.5 3.5 3 3 3 3.5 8 3.5-3 3 1 3.5-1 3.5 2.5 3 1 3.5-0.5 3.5 0.5 3-1 3.5-1 3 0.5 3.5-0.5 3.5-3.5 3 0.5 3.5 2.5 3.5 0.5 3-2 3.5 3.5 3.5-0.5 3-5 3.5 0 3 1.5 3.5-2 3.5 5.5 3 1.5 3.5-11 3.5-5.5 3-10 3.5-4.5 3-11 3.5-2.5 3.5-8.5 3 4.5 3.5-6 3.5-10 3 7 3.5 4.5 3.5-21.5 3 0 3.5 1 3-2.5 3.5-3 3.5-1 3 13.5 3.5-12 3.5-0.5 3 8 3.5-15.5 3.5 20 3 2 3.5 12 3-14.5 3.5 2.5 3.5 20 3-3 3.5 19.5 3.5-8 3-9.5 3.5-6 3.5-16 3 10.5 3.5-16 3 3 3.5 23 3.5-6 3-11.5 3.5 11.5 3.5 13.5 3-3.5 3.5 13 3.5-2.5 3-13 3.5-5 3 6 3.5 6.5 3.5 7.5 3-1.5 3.5 1.5 3.5-13.5 3-14 3.5 7 3.5-12.5 3-6.5 3.5 0.5 3 7.5 3.5-5 3.5 18 3-3 3.5-10 3.5-3 3 17.5 3.5-8.5 3 19.5 3.5-1 3.5-17 3-15.5 3.5 4 3.5 17 3-1 3.5 23.5 3.5 6 3-23.5 3.5-11 3-23 3.5 1 3.5 2.5 3 9 3.5 10 3.5 22.5 3-8 3.5-6.5 3.5 6.5 3 5.5 3.5 8 3 3.5 3.5 0.5 3.5 1.5 3 9 3.5 2 3.5 4 3 3 3.5 0.5 3.5-1.5 3 1.5 3.5-1 3 2 3.5 0 3.5-0.5 3 0 3.5 1 3.5-1.5 3 0.5 3.5-1 3.5 1.5 3 1.5 3.5-1 3 0 3.5-1 3.5-1.5 3 2 3.5 0.5 3.5-3 3 3.5 3.5-4.5 3.5 3.5 3 0 3.5-4 3 4 3.5-1 3.5-2.5 3 2 3.5-2.5 3.5 1.5 3 3 3.5-1 3.5-1 3 1 3.5-0.5 3 1 3.5 0.5 3.5 0 3-3 3.5 2.5 3.5 0 3 1 3.5-3.5 3 1.5 3.5 1.5 3.5-3.5 3 0 3.5 1 3.5-0.5 3 1 3.5-1 3.5 2.5 3 0.5 3.5-1.5 3-1.5 3.5 0.5 3.5 0.5 3 0 3.5-1 3.5-3 3-4.5 3.5 3 3.5-5.5 3 8 3.5 3.5 3-0.5 3.5-0.5 3.5 2 0 6Z" fill="url(#sd5)" stroke="#2a1414" stroke-opacity="0.55" stroke-width="0.7"/>
<path d="M1067.5 1047l0-7 3.5 3.5 3.5 0 3 0 3.5-0.5 3 0 3.5-0.5 3.5 1 3-4 3.5 3 3.5 0.5 3-2 3.5 2.5 3.5-3.5 3 3 3.5 0.5 3.5-2 3 0 3.5 1.5 3 0.5 3.5-2 3.5-1 3-1 3.5 2.5 3.5-3 3 0 3.5 4 3.5-1 3-0.5 3.5-2 3.5-3 3-3.5 3.5-4 3.5-3.5 3-3 3.5 2.5 3-1.5 3.5 4.5 3.5 6 3 2.5 3.5 3.5 3.5-2 3-1.5 3.5 0 3.5 1.5 3 3 3.5-0.5 3.5-0.5 3-0.5 3.5-2.5 3-0.5 3.5-0.5 3.5 1 3-0.5 3.5 2 3.5-1 3 1.5 3.5-3 3.5 0.5 3-0.5 3.5 2 3.5-2.5 3 3.5 3.5-1 3-9.5 3.5-5 3.5-9 3-13.5 3.5 4.5 3.5-5 3-0.5 3.5-15.5 3.5-0.5 3 2 3.5 3 3.5-20 3 15 3.5-17 3.5 7 3 0.5 3.5 1 3-15 3.5-10 3.5 16 3-20.5 3.5-2.5 3.5 13.5 3 4 3.5 15.5 3.5 9 3 1.5 3.5-11 3.5 7.5 3 11.5 3.5 16 3-9.5 3.5-17.5 3.5-2 3 5.5 3.5 7.5 3.5-21.5 3-1.5 3.5 16 3.5-1 3-18.5 3.5 19 3.5 8.5 3 1.5 3.5 11 3-0.5 3.5-11.5 3.5-1.5 3 5 3.5 3 3.5 8.5 3-1.5 3.5-7 3.5-7 3-10 3.5-10 3.5 3 3-5.5 3.5-7.5 3 6 3.5 5 3.5 13 3-6.5 3.5-16 3.5 6 3 17 3.5-7.5 3.5 18.5 3 3 3.5-20.5 3.5-12 3-5 3.5 9 3.5 30.5 3-1.5 3.5 15 3-21 3.5-8 3.5-19 3-18.5 3.5 12.5 3.5 19.5 3-4.5 3.5 11.5 3.5 8 3-11.5 3.5 5 3.5 9 3 8 3.5 3.5 3 3.5 3.5 2.5 3.5 8 3 2 3.5 4 3.5 4 3-1 3.5-0.5 3.5 1.5 3 0.5 3.5-4 3.5 3 3 0.5 3.5 1.5 3-0.5 3.5 0 3.5-0.5 3-2.5 3.5 3 3.5 0 3 0.5 3.5-0.5 3.5-0.5 3 0 3.5-0.5 3.5 1 3-0.5 3.5 0 3.5-2.5 3 3 3.5-1.5 3 0 3.5 0.5 3.5-2 3 2 3.5 0 3.5-1 3 1.5 3.5-2.5 3.5 2 3-3.5 3.5 3.5 3.5 0.5 3-0.5 3.5 0 3-3 3.5 4 3.5-1.5 3 1.5 3.5 0 3.5-2 3 1 3.5 0.5 3.5 0.5 3-0.5 3.5 0.5 3.5-2 3 1.5 3.5 0.5 3-1 3.5-2 3.5 0 3 0 3.5 1 3.5 0.5 3-0.5 3.5-1 3.5-3 3-0.5 3.5-2 3.5-5 3 2.5 3.5 8.5 3.5 2 3-3 3.5 1.5 0 7.5Z" fill="url(#sd6)" stroke="#2a1414" stroke-opacity="0.55" stroke-width="0.7"/>
<path d="M1067 1049l0-6.5 3.5 2.5 3 0.5 3.5-4 3.5 2 3 0 3.5 1.5 3.5-0.5 3 1 3.5-2.5 3.5 2 3-1.5 3.5-1.5 3.5 2.5 3-0.5 3.5 1 3.5 0.5 3-1 3.5-0.5 3.5 1 3-2 3.5-0.5 3.5 1.5 3-3.5 3.5 4 3.5-3.5 3 0 3.5 2 3-0.5 3.5-0.5 3.5-3.5 3-5 3.5-5 3.5-4.5 3-8 3.5 10.5 3.5 0.5 3 4.5 3.5 5 3.5 4.5 3-0.5 3.5-0.5 3.5-3 3 4.5 3.5-0.5 3.5 0 3 2 3.5-2 3.5-0.5 3-2.5 3.5-1 3.5-1 3 1 3.5 2.5 3 2 3.5 0 3.5-1.5 3 0 3.5-2.5 3.5-1.5 3 2.5 3.5 1.5 3.5-2.5 3 2.5 3.5-5 3.5-10 3-5.5 3.5-5 3.5-18 3 5 3.5-10 3.5 5.5 3-23 3.5 10 3.5-8.5 3-8 3.5 17 3.5-14.5 3-3.5 3.5 3 3 2 3.5-7.5 3.5-8.5 3 8.5 3.5-18.5 3.5 21 3-6 3.5 16 3.5-1 3-5.5 3.5 20 3.5-7.5 3 9 3.5 4.5 3.5 3 3 6.5 3.5-22 3.5-9 3-3.5 3.5 14 3.5-6.5 3 3.5 3.5 2 3.5 8 3-12.5 3.5-1.5 3 7.5 3.5 12 3.5 10 3-4 3.5 0.5 3.5-1.5 3-8 3.5 12.5 3.5 2 3 8 3.5-7.5 3.5-12 3-1.5 3.5-25 3.5 5.5 3-2.5 3.5 9.5 3.5-4 3 0 3.5 12 3.5-21 3 7.5 3.5-8 3.5 9.5 3 17 3.5 3.5 3 6 3.5-17 3.5-31 3 5.5 3.5 26.5 3.5 6 3 10 3.5 17 3.5-27.5 3-5.5 3.5-17 3.5-6 3 11.5 3.5 3.5 3.5 11 3 1.5 3.5-1 3.5 2.5 3-0.5 3.5 7.5 3.5 12.5 3-0.5 3.5 1.5 3 3.5 3.5 6 3.5 7.5 3 4.5 3.5 1.5 3.5 0.5 3 0.5 3.5-3.5 3.5 2 3 1.5 3.5-0.5 3.5-2 3 2 3.5 1 3.5-0.5 3-1 3.5 1 3.5 1.5 3-2 3.5-2 3.5 3 3 0 3.5 0 3.5 0.5 3-0.5 3.5-1.5 3 2 3.5-1.5 3.5 0 3-2 3.5 1 3.5 1.5 3 0.5 3.5-1 3.5-1 3 1.5 3.5-0.5 3.5-0.5 3-1 3.5 2 3.5 0.5 3-1.5 3.5 1.5 3.5-1.5 3 0 3.5 1.5 3.5-3 3 3.5 3.5-1 3.5-0.5 3 0.5 3.5-0.5 3-0.5 3.5 0 3.5 2 3 0 3.5 0 3.5-1 3-2 3.5 2 3.5-3 3 2.5 3.5-3.5 3.5 2.5 3 1 3.5-3.5 3.5-4 3 1.5 3.5-4 3.5-3.5 3 7.5 3.5 4.5 3.5 2.5 3 0.5 3.5 0.5 0 4.5Z" fill="url(#sd7)" stroke="#2a1414" stroke-opacity="0.55" stroke-width="0.7"/>
<path d="M1066.5 1050.5l0-6 3.5-0.5 3 2 3.5 0.5 3.5 0 3 0 3.5 0.5 3.5 0 3-1.5 3.5-1 3.5 1.5 3 1 3.5-0.5 3.5-0.5 3 0 3.5 1 3.5 0 3-3.5 3.5 3.5 3.5 0 3-0.5 3.5 0 3.5-1.5 3 0 3.5-0.5 3.5 2 3-3.5 3.5 0 3.5 0 3 0.5 3.5-2.5 3.5-8 3-1.5 3.5-5.5 3.5-4 3 5.5 3.5-0.5 3.5 7 3 2.5 3.5 2 3.5 3.5 3-3.5 3.5 4 3.5-1 3-0.5 3.5 1 3.5 2.5 3-3.5 3.5 2 3.5-3 3 1.5 3.5-4 3.5 3 3-2.5 3.5 4 3.5 0.5 3-1 3.5-2 3.5 1.5 3-2.5 3.5 1.5 3.5-1 3 4.5 3.5 0 3.5-11 3-5.5 3.5-10.5 3.5-16.5 3 9 3.5-12.5 3.5-1 3-10 3.5 3.5 3.5-1 3-18 3.5 13 3.5-17.5 3 7 3.5-4.5 3-2 3.5-8 3.5 14 3-5 3.5-21.5 3.5 21.5 3-24 3.5 8 3.5 7.5 3 4.5 3.5 7.5 3.5-2.5 3 22.5 3.5 2 3.5 11.5 3 6 3.5-6.5 3.5-12.5 3-11 3.5-8 3.5 3.5 3-1 3.5 6.5 3.5 14 3-20 3.5-1 3.5-0.5 3 25 3.5 0.5 3.5 3.5 3-1.5 3.5 1.5 3.5-2 3-4 3.5 17 3.5-2 3 4.5 3.5-3 3.5-14.5 3-8 3.5-6 3.5-4.5 3-4.5 3.5 9 3.5-23 3 18.5 3.5 8.5 3.5-20.5 3-6 3.5 17 3.5 4.5 3-2 3.5 6.5 3.5 12 3-13 3.5-20.5 3.5-6 3 25.5 3.5 13.5 3.5 7 3 20 3.5-22 3.5-29 3-3 3.5-23.5 3.5 22.5 3 13 3.5-1.5 3.5 8.5 3 7.5 3.5-7.5 3.5-0.5 3 12.5 3.5 12.5 3.5 3 3 0.5 3.5 4 3.5 2.5 3 6 3.5 6.5 3.5 3 3-2.5 3.5-1.5 3.5 4.5 3-1.5 3.5 0.5 3.5 1.5 3-1.5 3.5 1.5 3 0 3.5 0.5 3.5 0 3-0.5 3.5-1 3.5 2 3 0 3.5-3 3.5 2.5 3-1.5 3.5 1.5 3.5-3.5 3 3.5 3.5-1.5 3.5 1.5 3 0 3.5-3.5 3.5 2.5 3-1.5 3.5-2 3.5 2 3 0.5 3.5-1 3.5 1.5 3-2.5 3.5 2 3.5 0.5 3 0.5 3.5 0.5 3.5-0.5 3 0 3.5-2 3.5-0.5 3-0.5 3.5 1 3.5 2 3-2.5 3.5 3.5 3.5 0 3-0.5 3.5-2.5 3.5 3.5 3-1 3.5-0.5 3.5 0.5 3 0 3.5-2 3.5 1 3 1 3.5-2 3.5-1 3 2 3.5-1.5 3.5-2.5 3-1.5 3.5-7 3.5 3 3 0.5 3.5 7.5 3.5-0.5 3 0 3.5 4.5 0 4.5Z" fill="url(#sd8)" stroke="#2a1414" stroke-opacity="0.55" stroke-width="0.7"/>
<path d="M1066 1052l0-3 3.5-3 3 2.5 3.5 0 3.5-0.5 3-2 3.5 0 3.5 2.5 3-3 3.5 2.5 3.5 1 3 0 3.5-1 3.5-0.5 3 0.5 3.5-0.5 3.5-1 3 2 3.5-0.5 3.5 0 3.5-0.5 3-0.5 3.5 0 3.5-2 3 2.5 3.5-0.5 3.5-2.5 3 2.5 3.5-2.5 3.5 1 3-4.5 3.5-4 3.5-7 3 0.5 3.5-10 3.5 5 3 6.5 3.5 0.5 3.5 7 3 5.5 3.5-4.5 3.5 4 3 0.5 3.5-0.5 3.5 1.5 3-2 3.5-0.5 3.5 1.5 3-4 3.5 2.5 3.5-1.5 3-0.5 3.5 0.5 3.5-2 3 4.5 3.5 1 3.5 0.5 3-1.5 3.5-2.5 3.5-2.5 3 2 3.5 2.5 3.5-2 3 2.5 3.5-10 3.5-11 3-1.5 3.5-20 3.5 7.5 3-16 3.5 2.5 3.5-13 3-1 3.5-6 3.5-8 3 12 3.5-9 3.5 6 3-16 3.5 8.5 3.5 5.5 3.5-2 3-21 3.5 6 3.5-14 3 18 3.5-5.5 3.5 4 3 6.5 3.5 8 3.5 7.5 3-1.5 3.5 3.5 3.5 18.5 3 8.5 3.5-4 3.5-18.5 3-14.5 3.5 0.5 3.5 1 3-9.5 3.5 1.5 3.5 17 3 4.5 3.5-5.5 3.5 1.5 3 15.5 3.5 3 3.5-1 3 6 3.5-15.5 3.5 4.5 3 8 3.5 0.5 3.5 4.5 3 5.5 3.5-14.5 3.5-13 3 4 3.5-18 3.5 5 3-13.5 3.5 2.5 3.5 10.5 3-7.5 3.5 3 3.5-3 3 10.5 3.5-0.5 3.5-6 3 12.5 3.5 4.5 3.5 6.5 3 0.5 3.5-41 3.5 11 3 17.5 3.5 10 3.5 15.5 3.5 13 3-26 3.5-7.5 3.5-12.5 3-12 3.5-2 3.5 6 3 7 3.5 16.5 3.5 2 3 6 3.5-3 3.5 3.5 3 7 3.5 4 3.5 9 3-2 3.5 7.5 3.5 3.5 3 6 3.5 3.5 3.5 1 3-1.5 3.5 1 3.5 1 3-3.5 3.5 3 3.5 1 3-3 3.5 1 3.5 2.5 3-2 3.5 2 3.5 0.5 3-4 3.5 2 3.5-1 3 2.5 3.5-0.5 3.5 1 3-3 3.5 2 3.5-3.5 3 2.5 3.5 0.5 3.5-2 3 2.5 3.5-3 3.5 0.5 3 1.5 3.5-3.5 3.5 3.5 3-2 3.5 1 3.5-1 3 2 3.5 0 3.5 0.5 3-0.5 3.5-3 3.5 1 3.5 1.5 3 1 3.5-0.5 3.5 1 3 0.5 3.5-2 3.5 2 3-0.5 3.5 1 3.5-0.5 3-1 3.5 1 3.5-2 3 1.5 3.5-0.5 3.5-3.5 3 0 3.5 2.5 3.5-0.5 3-2 3.5 1.5 3.5-3 3-2.5 3.5-1.5 3.5-1.5 3 3.5 3.5 2.5 3.5 2.5 3 3.5 3.5-4 0 9Z" fill="url(#sd9)" stroke="#2a1414" stroke-opacity="0.55" stroke-width="0.7"/>
<path d="M1065.5 1054l0-3.5 3.5-1 3 0.5 3.5-2.5 3.5 0 3 2.5 3.5-3.5 3.5 2.5 3 1.5 3.5-3 3.5 1.5 3.5 1.5 3-3.5 3.5 1.5 3.5 2 3-1.5 3.5-2.5 3.5 0 3 1 3.5 3 3.5-3.5 3 0.5 3.5 2 3.5-2 3-1 3.5 2.5 3.5-0.5 3-2 3.5-1 3.5 1 3-4.5 3.5-4.5 3.5-2.5 3-7 3.5-7 3.5 9 3.5 4.5 3 2 3.5 5.5 3.5 2 3-0.5 3.5 2.5 3.5-2 3 3.5 3.5 0.5 3.5-1 3 1 3.5-4.5 3.5 3 3-2.5 3.5 2 3.5-4.5 3 1.5 3.5 1.5 3.5 0 3 2 3.5-3 3.5 2.5 3.5-3.5 3 0.5 3.5 1 3.5 1 3-1.5 3.5 2.5 3.5-9.5 3-8 3.5-8.5 3.5-4 3-3.5 3.5-9.5 3.5-8 3-1.5 3.5-2 3.5-4 3-9.5 3.5-2 3.5-1.5 3-1 3.5-9.5 3.5 5.5 3.5 9.5 3-0.5 3.5-27.5 3.5-5 3 13.5 3.5 4.5 3.5-11.5 3 27.5 3.5-19 3.5 6.5 3 10.5 3.5-3.5 3.5 6.5 3 20 3.5 14 3.5-18 3-19.5 3.5-4.5 3.5 16 3 3.5 3.5-7 3.5-2.5 3.5-1.5 3-5 3.5 9.5 3.5-3 3 12.5 3.5 5 3.5 3.5 3-6 3.5-4.5 3.5 9 3 1.5 3.5 1.5 3.5 6 3 5.5 3.5-0.5 3.5-19 3-17 3.5-10 3.5 6 3 4 3.5 4.5 3.5-4 3.5 7 3-10.5 3.5-5 3.5 4.5 3-11 3.5 24 3.5-1.5 3 17 3.5 0.5 3.5-23.5 3-18 3.5-3.5 3.5 23.5 3 21 3.5 11.5 3.5 13 3-20.5 3.5-24.5 3.5-19 3 7 3.5-12.5 3.5 10.5 3.5 8 3 29 3.5-11 3.5 0.5 3 8.5 3.5-1 3.5 13.5 3 6.5 3.5-3.5 3.5 3 3 5.5 3.5 7 3.5 2.5 3 5 3.5-2 3.5 0 3 0.5 3.5-0.5 3.5 4 3-2.5 3.5 2.5 3.5-0.5 3 0 3.5 0.5 3.5 0.5 3.5-3 3 1 3.5 2 3.5-1 3 0 3.5 1 3.5 0 3 0 3.5 0 3.5-1 3 0.5 3.5 0.5 3.5-2.5 3 1.5 3.5 0 3.5-1 3 1 3.5-3 3.5-1 3 4 3.5 0.5 3.5-1.5 3.5-1 3 0.5 3.5 2 3.5-0.5 3-2 3.5 1 3.5-1 3 2.5 3.5 0 3.5 0 3-2 3.5 0.5 3.5-1.5 3 1.5 3.5-2 3.5 4 3-3.5 3.5 3.5 3.5-4.5 3 4 3.5 0 3.5-0.5 3.5-1 3 0 3.5 1 3.5-3 3 0.5 3.5-2 3.5-3.5 3-1.5 3.5-3.5 3.5 0 3 8.5 3.5 1.5 3.5 2.5 3 1 3.5 1 0 4.5Z" fill="url(#sd10)" stroke="#2a1414" stroke-opacity="0.55" stroke-width="0.7"/>
<path d="M1065 1055.5l0-3.5 3.5-1.5 3 0.5 3.5-0.5 3.5 0 3 1.5 3.5-3.5 3.5 3 3-1.5 3.5 2 3.5 0.5 3.5-2 3-0.5 3.5 1 3.5-1 3 2 3.5-0.5 3.5 0.5 3 0 3.5-1 3.5-2.5 3 3 3.5-0.5 3.5 0.5 3.5-0.5 3-1.5 3.5-2.5 3.5 3 3-1 3.5-1 3.5-4 3-4.5 3.5-5.5 3.5-5 3-4 3.5 5 3.5-0.5 3.5 8 3 5.5 3.5 4.5 3.5 0.5 3-1.5 3.5 1 3.5 1 3 0.5 3.5-0.5 3.5-0.5 3 0.5 3.5-1 3.5-2 3 1.5 3.5-2 3.5 0.5 3.5-1.5 3 1 3.5 2 3.5-2.5 3 3.5 3.5-1.5 3.5-4.5 3 3.5 3.5-2 3.5 4.5 3 0 3.5-10.5 3.5-10 3.5-5 3-7.5 3.5-14.5 3.5 0 3-3 3.5-1 3.5-6.5 3-5.5 3.5-9.5 3.5-6 3 8 3.5-5 3.5-14.5 3.5 19.5 3 1.5 3.5-3.5 3.5-20.5 3-9 3.5-6 3.5 24.5 3 12.5 3.5-4.5 3.5 5 3 10 3.5-3 3.5-1.5 3 12.5 3.5 14.5 3.5-6 3.5 4 3-23.5 3.5-11.5 3.5-2.5 3 12.5 3.5-7 3.5-0.5 3 13 3.5 1.5 3.5-25.5 3 29 3.5 8 3.5 2 3.5 3.5 3 7 3.5-5.5 3.5-11.5 3 1 3.5 8.5 3.5 17 3-11 3.5 1 3.5-14 3 0.5 3.5-20.5 3.5 8 3.5-9 3 7.5 3.5-1 3.5-9 3 14 3.5-18.5 3.5-0.5 3 16 3.5-7.5 3.5 14.5 3 12 3.5 5 3.5-29 3.5-7 3-7 3.5 27.5 3.5 6 3 14 3.5 11.5 3.5-25 3-13.5 3.5-21.5 3.5 7.5 3-7.5 3.5 4 3.5 26.5 3 11 3.5-12.5 3.5 1.5 3.5-0.5 3 7 3.5 18.5 3.5-3.5 3 4.5 3.5 5.5 3.5 7.5 3-1 3.5 9 3.5 2.5 3-0.5 3.5 1.5 3.5-3.5 3.5 3 3 0.5 3.5 0 3.5-0.5 3 1 3.5 0.5 3.5 0 3-2 3.5-1.5 3.5 3.5 3 0.5 3.5-4 3.5 3 3.5 0.5 3-3 3.5 2 3.5-2 3 2 3.5-1.5 3.5 2 3 0 3.5-0.5 3.5 0.5 3 0 3.5-2.5 3.5 1 3.5-1 3 2.5 3.5-0.5 3.5-2.5 3 1 3.5 2 3.5-3 3 3.5 3.5-3.5 3.5 2.5 3-2 3.5 2 3.5 0 3-2.5 3.5 1 3.5-1.5 3.5 1.5 3 2.5 3.5-2 3.5 2 3-1 3.5 0.5 3.5-1 3 1.5 3.5-1 3.5 0 3 0 3.5 0 3.5 0 3.5 0.5 3-2 3.5-4 3.5 1.5 3-2.5 3.5-3 3.5-4 3 7.5 3.5 2.5 3.5 3 3 1.5 3.5 1 0 4.5Z" fill="url(#sd11)" stroke="#2a1414" stroke-opacity="0.55" stroke-width="0.7"/>
<path d="M1064.5 1057.5l0-3.5 3.5-1 3 0.5 3.5 0 3.5-3.5 3 2 3.5 2 3.5-2 3 1 3.5 1 3.5-2 3.5 0 3-2 3.5 4 3.5-2.5 3-0.5 3.5 1 3.5-1.5 3 3 3.5 0.5 3.5-1 3.5-0.5 3-1.5 3.5 1 3.5 1.5 3-1 3.5-3.5 3.5 3 3-0.5 3.5-3.5 3.5-1 3.5-3.5 3-4 3.5-8.5 3.5-3.5 3 3 3.5 3.5 3.5 5 3 3 3.5 3.5 3.5 2.5 3.5-3.5 3 4.5 3.5-2 3.5 1 3 3 3.5-2.5 3.5-2 3 0 3.5 2 3.5-0.5 3.5-1 3-2.5 3.5 3.5 3.5 2.5 3-1 3.5 0.5 3.5-3.5 3 1 3.5-2.5 3.5 2 3.5 1.5 3 1 3.5 1.5 3.5-12.5 3-8 3.5-13.5 3.5-3.5 3-3 3.5-9 3.5-12.5 3.5 10 3-7.5 3.5-5 3.5 5.5 3-20.5 3.5 11 3.5-1.5 3-8.5 3.5-12.5 3.5 10.5 3.5-15.5 3 19.5 3.5-23.5 3.5-1 3 2 3.5 27 3.5-10 3 11.5 3.5-13 3.5 16.5 3.5-6 3 14 3.5 6.5 3.5 6.5 3 8.5 3.5-28 3.5-10 3 6.5 3.5-1 3.5 3.5 3.5-17 3 26.5 3.5 5.5 3.5-12.5 3-1.5 3.5 6.5 3.5 5.5 3 16 3.5-9 3.5-6 3.5-6.5 3 15 3.5 2.5 3.5 10 3-8 3.5-1.5 3.5-15.5 3-2.5 3.5-7.5 3.5-8.5 3.5 11 3-12.5 3.5-6 3.5 4 3 23 3.5-9 3.5-22 3 21.5 3.5 2.5 3.5 14 3.5-7 3 14 3.5-21 3.5-5.5 3-15 3.5 22 3.5 20.5 3 4.5 3.5 13 3.5-29.5 3.5-17 3-2.5 3.5-18.5 3.5 13.5 3-5.5 3.5 30.5 3.5 6 3 8.5 3.5-6.5 3.5-3.5 3.5 7.5 3 9.5 3.5 6.5 3.5-0.5 3 5 3.5 2 3.5 3 3 8.5 3.5 2 3.5-1.5 3.5-1 3 4 3.5-2.5 3.5 3 3 1 3.5-4 3.5 1.5 3 2.5 3.5 0.5 3.5 0 3.5-2 3 2 3.5-3.5 3.5 3.5 3 0 3.5-2.5 3.5 1 3-2.5 3.5 2 3.5 1.5 3.5 0 3 0.5 3.5-3 3.5-0.5 3 3 3.5-3.5 3.5 3 3-1 3.5-0.5 3.5-1.5 3.5 1 3-2 3.5 4 3.5-0.5 3-2.5 3.5 0.5 3.5 0 3 2.5 3.5 0 3.5 0 3.5 1 3-2.5 3.5-1.5 3.5 3.5 3 0.5 3.5-1 3.5 0 3 1 3.5-0.5 3.5 0 3.5 0.5 3-2.5 3.5-1.5 3.5 3 3 0 3.5-0.5 3.5-0.5 3-2 3.5 1 3.5-0.5 3.5-2.5 3-1.5 3.5-3.5 3.5 0 3 2.5 3.5 5.5 3.5 0.5 3 0 3.5 2.5 0 5.5Z" fill="url(#sd12)" stroke="#2a1414" stroke-opacity="0.55" stroke-width="0.7"/>
<path d="M1064 1059l0-3.5 3.5-3.5 3 2.5 3.5 1 3.5-4 3 3 3.5 1 3.5-3.5 3.5 1 3-1 3.5 1 3.5 2 3-2.5 3.5 1.5 3.5 1.5 3-3.5 3.5 3.5 3.5-0.5 3.5 0.5 3 0 3.5-1 3.5 0 3 0.5 3.5-1.5 3.5-2 3.5 0 3-0.5 3.5 1.5 3.5 1 3-1 3.5-4.5 3.5-6.5 3.5-3 3-3.5 3.5-8.5 3.5 11 3 1.5 3.5 2.5 3.5 1.5 3 8 3.5-2 3.5 2 3.5-3 3 0.5 3.5 3.5 3.5 1.5 3-3.5 3.5 2 3.5-2.5 3.5 1.5 3-2 3.5 0.5 3.5-0.5 3 2 3.5-0.5 3.5-1.5 3.5 2 3 0 3.5-1.5 3.5-1.5 3 1 3.5-2 3.5 4.5 3.5 0 3-12.5 3.5-6.5 3.5-13.5 3-1.5 3.5-6 3.5-8.5 3-4 3.5-3.5 3.5-14.5 3.5 2.5 3-8 3.5-2.5 3.5 9 3 4.5 3.5-16 3.5-2 3.5-5.5 3 8.5 3.5-17.5 3.5-7.5 3 8.5 3.5-8 3.5 12.5 3.5 20 3 6 3.5-11 3.5 10.5 3 5 3.5 4 3.5 13.5 3.5 10.5 3-3 3.5-14 3.5-16 3-4.5 3.5 1 3.5 0.5 3 1 3.5 2.5 3.5 3.5 3.5-16.5 3 22 3.5 6.5 3.5 6 3 1 3.5 3.5 3.5-3 3.5-0.5 3-1 3.5 0.5 3.5 10 3 2.5 3.5-9 3.5-2.5 3.5-24 3-11 3.5 7.5 3.5 4 3-20.5 3.5 11.5 3.5 13 3-4.5 3.5 5.5 3.5-15 3.5-4 3 5.5 3.5 21.5 3.5 8.5 3-1.5 3.5-9.5 3.5-32 3.5 12 3 11 3.5 18 3.5 11.5 3 17 3.5-26.5 3.5-23.5 3.5-11 3-14 3.5 6.5 3.5 20 3 10 3.5 17 3.5-7 3.5-8.5 3 14 3.5 8.5 3.5-2.5 3 9 3.5 0 3.5 4 3 6.5 3.5 7 3.5 4 3.5-0.5 3 1 3.5 3 3.5-1.5 3 0.5 3.5 2 3.5-2 3.5-0.5 3 3 3.5-1 3.5 0 3 1.5 3.5 0.5 3.5 0 3.5-2.5 3 1.5 3.5 1 3.5 0 3-2 3.5 2 3.5-0.5 3.5-0.5 3 0 3.5 0.5 3.5-3 3 2 3.5 0 3.5-0.5 3-2.5 3.5 3 3.5 0 3.5-2.5 3 1 3.5-1.5 3.5 3.5 3 0 3.5-0.5 3.5-3.5 3.5 1 3 3 3.5-0.5 3.5 0.5 3-1.5 3.5 2 3.5-3.5 3.5 0 3 2.5 3.5 0 3.5 1 3 0.5 3.5-3.5 3.5 3 3-1 3.5-0.5 3.5-1 3.5 2 3 0 3.5 0 3.5-3 3 1 3.5 0 3.5-3 3.5 1.5 3-6.5 3.5-3.5 3.5 3.5 3 1.5 3.5 5.5 3.5 3 3.5-1 3-0.5 0 8Z" fill="url(#sd13)" stroke="#2a1414" stroke-opacity="0.55" stroke-width="0.7"/>
<path d="M1063.5 1061l0-3.5 3-1.5 3.5-0.5 3.5 1.5 3.5-0.5 3-0.5 3.5-2 3.5 2 3.5 0 3-0.5 3.5 1.5 3.5 0 3-3.5 3.5 0 3.5 3 3.5-3 3 2 3.5 0.5 3.5 0 3 1.5 3.5-0.5 3.5-0.5 3.5-1.5 3 0 3.5-0.5 3.5 0 3 1 3.5-1 3.5-3.5 3.5 3 3-3 3.5-3.5 3.5-6 3-9.5 3.5-5 3.5 8.5 3.5 3.5 3 6 3.5 2.5 3.5 5 3.5-0.5 3 0 3.5-2 3.5 3.5 3 1.5 3.5-3.5 3.5 3 3.5-0.5 3-3.5 3.5 2 3.5-4.5 3 3.5 3.5-3 3.5 1.5 3.5 3.5 3-2.5 3.5 3.5 3.5-2.5 3-3 3.5-2.5 3.5 2 3.5 3 3 0.5 3.5 2.5 3.5-8 3-10 3.5-13 3.5 1 3.5-20 3 1.5 3.5-4.5 3.5-13.5 3.5 0.5 3-6.5 3.5 3.5 3.5-6.5 3-9 3.5 15 3.5-11.5 3.5-5.5 3 2.5 3.5 1 3.5 5 3-19 3.5-3 3.5-3.5 3.5 31.5 3-6.5 3.5-5.5 3.5 9 3 1.5 3.5 13 3.5 13 3.5 0.5 3 4.5 3.5-3.5 3.5-14 3-6 3.5-7 3.5 7 3.5-2.5 3-16.5 3.5 21 3.5-10 3.5-8 3 15 3.5 20 3.5 2 3 9 3.5-5 3.5-6 3.5-5 3 2.5 3.5 16 3.5 5 3-7 3.5 3 3.5-15 3.5-21 3 3.5 3.5 2.5 3.5-19 3 0.5 3.5 15 3.5 2 3.5 12.5 3-10.5 3.5-12 3.5 8.5 3 9 3.5 2.5 3.5 3 3.5 9 3-4 3.5-23.5 3.5 1 3.5 5 3 10 3.5 16 3.5 13 3-24 3.5-20 3.5 4 3.5-13 3 3.5 3.5 8 3.5 2.5 3 22 3.5-1.5 3.5-6.5 3.5 11 3-1.5 3.5 6.5 3.5 1.5 3 1.5 3.5 7.5 3.5 6.5 3.5 5 3 6.5 3.5 2 3.5 0.5 3 0.5 3.5 0 3.5 1 3.5 0 3-1.5 3.5-2.5 3.5 4 3-2.5 3.5 2.5 3.5 0.5 3.5-3.5 3 2 3.5 1 3.5-1 3.5-2 3 1.5 3.5 0 3.5 0.5 3-0.5 3.5 1.5 3.5-2.5 3.5 1.5 3-2.5 3.5 2.5 3.5-2 3 2 3.5-1.5 3.5-1 3.5 2 3-3 3.5 2.5 3.5 2 3 0 3.5-3.5 3.5 0.5 3.5 0.5 3 3 3.5-4 3.5 3.5 3-1.5 3.5-1 3.5 1.5 3.5 1 3-2.5 3.5-1 3.5 4 3.5-2 3 1 3.5 0.5 3.5 0.5 3-0.5 3.5 0.5 3.5-3 3.5-0.5 3 0 3.5 2.5 3.5-4 3 0.5 3.5 0 3.5 1 3.5-3.5 3-5 3.5 3 3.5-4 3 6.5 3.5 2.5 3.5 4 3.5-2 3 3 0 4.5Z" fill="url(#sd14)" stroke="#2a1414" stroke-opacity="0.55" stroke-width="0.7"/>
<path d="M1063 1062.5l0-5 3-2 3.5 3.5 3.5 0 3.5-0.5 3-0.5 3.5-0.5 3.5 1.5 3.5 0 3-2.5 3.5 2 3.5 0 3-0.5 3.5 1 3.5 0 3.5 0 3 0 3.5-2.5 3.5 2 3.5 0 3 0.5 3.5-3.5 3.5 3 3 0 3.5-3.5 3.5 3.5 3.5-2 3-3 3.5 3 3.5-2.5 3.5-0.5 3-6 3.5-4.5 3.5-7.5 3-5.5 3.5 8.5 3.5 3 3.5 5 3 4 3.5 3 3.5-2.5 3.5 2 3 0.5 3.5 2 3.5-1 3-1 3.5-1 3.5 3.5 3.5-2 3-3.5 3.5 3 3.5-0.5 3.5-2 3 1.5 3.5 1 3.5 1.5 3 1.5 3.5-2.5 3.5-0.5 3.5-2 3-2 3.5 4.5 3.5 1 3.5-1 3-7.5 3.5-9.5 3.5-6.5 3-11 3.5-11.5 3.5-8 3.5 7 3-14 3.5 9 3.5-9 3.5-4.5 3 2.5 3.5-11 3.5-2.5 3-8 3.5 1.5 3.5-4 3.5 17 3-16 3.5-4 3.5 1.5 3.5-4.5 3 6 3.5 18.5 3.5-6.5 3-0.5 3.5 5 3.5 0 3.5 17.5 3 15.5 3.5 8 3.5-12 3.5-16 3-5 3.5-1.5 3.5-1.5 3.5 4.5 3-5.5 3.5 1.5 3.5 16 3-17 3.5-6 3.5 10.5 3.5 19.5 3 2 3.5 1.5 3.5-7 3.5 2 3 3 3.5 2.5 3.5 5.5 3 7 3.5-4.5 3.5-11.5 3.5-17 3-5 3.5-3.5 3.5 11.5 3.5-26.5 3 4 3.5 6.5 3.5 16.5 3-2 3.5-22.5 3.5 10.5 3.5 0 3 12.5 3.5 1 3.5 10 3.5-14.5 3-11 3.5-4.5 3.5 23 3 13.5 3.5 4.5 3.5 15 3.5-21.5 3-23.5 3.5-10.5 3.5-9.5 3.5 13 3-5.5 3.5 18.5 3.5 15.5 3 4.5 3.5-7 3.5-3.5 3.5 6.5 3 18 3.5 2.5 3.5 2.5 3.5-2.5 3 9.5 3.5 4.5 3.5 4 3 2 3.5 2 3.5-2.5 3.5 1 3 1 3.5 1.5 3.5 0 3.5-2.5 3 0.5 3.5 1 3.5 1.5 3 0 3.5 0.5 3.5 0.5 3.5-1 3-2.5 3.5 3 3.5 0 3.5-4 3 4 3.5-3 3.5-1 3 2.5 3.5 0.5 3.5-3 3.5 2.5 3 0.5 3.5 0.5 3.5-1.5 3.5-2 3-0.5 3.5 3 3.5 0.5 3 0 3.5-1.5 3.5 0.5 3.5 2 3-0.5 3.5 0 3.5-1 3.5-1 3 1.5 3.5-2 3.5-0.5 3 0 3.5 3 3.5-1.5 3.5 1 3 0.5 3.5-1 3.5 2 3.5-0.5 3-1 3.5-2.5 3.5 1.5 3 2 3.5-1.5 3.5-2 3.5 0 3-1 3.5 3.5 3.5-5 3.5 1 3-3.5 3.5-2.5 3.5-1.5 3 6 3.5 1 3.5 4 3.5 1 3-0.5 0 6.5Z" fill="url(#sd15)" stroke="#2a1414" stroke-opacity="0.55" stroke-width="0.7"/>
<path d="M1062.5 1064.5l0-3.5 3-2 3.5 1.5 3.5 0.5 3.5 0 3-0.5 3.5-2.5 3.5 2.5 3.5-1.5 3-2 3.5 3 3.5 0.5 3-0.5 3.5 1 3.5-1.5 3.5-1.5 3-0.5 3.5 2.5 3.5-1.5 3.5 1.5 3-0.5 3.5-2.5 3.5 3 3.5-3 3 3 3.5-4 3.5 0 3.5 3.5 3-2.5 3.5-0.5 3.5-1.5 3.5-5 3-7.5 3.5-3 3.5-3 3 4 3.5 1 3.5 6.5 3.5 5 3 4 3.5-0.5 3.5-1 3.5 0.5 3 0 3.5-0.5 3.5 2 3.5-1 3 1.5 3.5-1.5 3.5 0 3.5-1.5 3 1 3.5-2.5 3.5 2.5 3 0 3.5-1 3.5 2.5 3.5-2.5 3-3 3.5 1.5 3.5 0.5 3.5 1.5 3 1.5 3.5-2.5 3.5-7 3.5-9.5 3-6.5 3.5-11 3.5-10 3.5 7 3-4 3.5-7 3.5-2 3-12 3.5 10 3.5-8.5 3.5-3.5 3-21 3.5 9.5 3.5 3.5 3.5 5.5 3-22 3.5 16.5 3.5-10.5 3.5-12.5 3 18 3.5-7.5 3.5 16 3.5-10 3 1.5 3.5 10.5 3.5 3 3 15.5 3.5 0 3.5 12.5 3.5-6 3-12.5 3.5 3 3.5-3.5 3.5-10.5 3-0.5 3.5-10.5 3.5 24 3.5 5 3-14 3.5 6 3.5 5.5 3.5 8.5 3 11.5 3.5-8.5 3.5-10.5 3-5 3.5 4 3.5 16 3.5 11 3-2 3.5-12.5 3.5-1.5 3.5-11.5 3-1 3.5-7 3.5-14.5 3.5 1 3 2.5 3.5 15.5 3.5-12 3.5 3.5 3 1.5 3.5-17.5 3.5 18.5 3 14.5 3.5 5.5 3.5 3.5 3.5-6.5 3-23.5 3.5-10.5 3.5 21 3.5 19 3 9.5 3.5 10 3.5-19.5 3.5-15 3-25.5 3.5-8 3.5 27 3.5-13.5 3 15.5 3.5 11 3.5 9.5 3-15 3.5 11 3.5 7.5 3.5 9 3 1 3.5 0 3.5 5.5 3.5 7 3-1.5 3.5 9 3.5 3.5 3.5-3.5 3 4 3.5 0 3.5-1 3.5 0.5 3-3 3.5 3.5 3.5 0 3 1 3.5 0.5 3.5-1 3.5-2.5 3 4 3.5-3 3.5 0 3.5-0.5 3 0 3.5 1.5 3.5 1 3.5 0 3-1 3.5 1.5 3.5-0.5 3.5-2 3-1 3.5 1.5 3.5 0.5 3.5-1 3 0 3.5 1.5 3.5-1 3 1 3.5-0.5 3.5-2.5 3.5 3 3 0.5 3.5-4.5 3.5 0.5 3.5 3 3 1 3.5-3.5 3.5 4 3.5-1 3-2 3.5-1 3.5 2.5 3.5 0 3-0.5 3.5 1.5 3.5-1 3 0.5 3.5-3.5 3.5 2 3.5 0 3-2 3.5 2.5 3.5-0.5 3.5 0.5 3-3.5 3.5 2.5 3.5-4 3.5 2.5 3-4 3.5-4.5 3.5 1 3.5 4.5 3 1.5 3.5 4.5 3.5-2.5 3 1 0 8.5Z" fill="url(#sd16)" stroke="#2a1414" stroke-opacity="0.55" stroke-width="0.7"/>
<path d="M1062 1066l0-3.5 3-1 3.5 0 3.5-2 3.5 0 3 2.5 3.5-3 3.5 0 3.5 3.5 3 0 3.5-1 3.5 1 3.5-2 3 1.5 3.5 0 3.5-2 3.5 2.5 3-1 3.5 1 3.5-1 3.5-3 3 0 3.5 3.5 3.5-0.5 3.5-1.5 3 1 3.5-0.5 3.5 0 3 0 3.5-3 3.5 0 3.5-9 3-3.5 3.5-1.5 3.5-9 3.5 8 3 0.5 3.5 6.5 3.5 2 3.5 4.5 3-0.5 3.5 2 3.5-0.5 3.5 0.5 3 2.5 3.5 0.5 3.5-4 3.5 3 3-0.5 3.5-5 3.5 4 3.5-1 3-1.5 3.5 0 3.5 3.5 3.5-1.5 3 1.5 3.5 0 3.5-3 3.5-2 3-1 3.5 4 3.5 1.5 3.5 0 3-5.5 3.5-12.5 3.5-12 3.5-2 3-14 3.5-4 3.5 6 3.5-9.5 3 2 3.5-12 3.5-7 3.5-3 3-2 3.5 3.5 3.5-5.5 3.5 16.5 3-21.5 3.5 0 3.5 10 3.5-2.5 3-12.5 3.5 13 3.5 3.5 3.5-7 3-2.5 3.5 11 3.5 8 3.5 8.5 3-9.5 3.5 15.5 3.5 9.5 3.5 3 3-20.5 3.5-16.5 3.5 1 3 6.5 3.5-12.5 3.5 10 3.5 5.5 3 7 3.5-17 3.5 16.5 3.5 10 3 7.5 3.5-3 3.5-4 3.5 7 3-2 3.5-8 3.5 10 3.5 11 3-3.5 3.5-0.5 3.5-16 3.5-6.5 3-11.5 3.5 5.5 3.5 0 3.5-14 3 12 3.5 1 3.5 10 3.5-13 3 3.5 3.5-19 3.5 18.5 3.5 9.5 3 2 3.5 15.5 3.5-25.5 3.5-28 3 20.5 3.5 9.5 3.5 5 3.5 25 3 5.5 3.5-20 3.5-23 3.5-7 3-21 3.5 18 3.5 14 3.5 4.5 3 12.5 3.5-2 3.5 7 3.5-9 3 10 3.5 9 3.5-4.5 3.5 9.5 3 3.5 3.5 5 3.5 3.5 3.5 7 3 0.5 3.5 1 3.5-0.5 3.5 1.5 3-2.5 3.5 1.5 3.5 1 3.5-2.5 3 4 3.5 0.5 3.5 0 3-1 3.5 0.5 3.5 1.5 3.5-1.5 3-1 3.5 1.5 3.5 0.5 3.5 0 3-2 3.5-1.5 3.5 1 3.5-2 3 4 3.5-3.5 3.5 0.5 3.5 2 3-4 3.5 5 3.5-1 3.5-3 3 3 3.5-2 3.5 2 3.5 0 3 1 3.5-2 3.5 0.5 3.5 0 3-3 3.5 1.5 3.5 2 3.5 0.5 3-0.5 3.5 0.5 3.5 1 3.5-1.5 3 0 3.5 1.5 3.5-1.5 3.5 1 3-1 3.5-3 3.5 3.5 3.5-0.5 3-0.5 3.5 1 3.5-0.5 3.5-3.5 3 3.5 3.5-1.5 3.5-3 3.5 0.5 3-3 3.5-2 3.5-3.5 3.5 7.5 3 0 3.5 2.5 3.5 1.5 3.5 2 0 5.5Z" fill="url(#sd17)" stroke="#2a1414" stroke-opacity="0.55" stroke-width="0.7"/>
<path d="M1061.5 1067.5l0-3 3-0.5 3.5 0.5 3.5-3.5 3.5 3 3 0 3.5-0.5 3.5-3 3.5 0 3 3.5 3.5-1 3.5 0.5 3.5 0 3-2.5 3.5 3 3.5 0.5 3.5-1 3-1.5 3.5-0.5 3.5-1 3.5 3 3-3.5 3.5 4 3.5-1 3.5-2 3 2.5 3.5 0 3.5-1 3.5-0.5 3-0.5 3.5-2.5 3.5-7.5 3.5-2.5 3-7 3.5-3.5 3.5 7.5 3.5-0.5 3 7.5 3.5 2 3.5 4.5 3.5-2.5 3.5-1 3 1 3.5 1.5 3.5 3 3.5 0.5 3-2.5 3.5-1.5 3.5 1.5 3.5 0 3-4 3.5 3 3.5-0.5 3.5 2 3 0 3.5 2 3.5-1.5 3.5 0 3-3 3.5 0.5 3.5-1.5 3.5 3 3-1 3.5 3 3.5-11.5 3.5-8.5 3-9.5 3.5-3.5 3.5 1 3.5-17.5 3-1 3.5 0.5 3.5-2 3.5-1.5 3-13.5 3.5-10 3.5 7 3.5-6.5 3-6.5 3.5-0.5 3.5 15.5 3.5-20 3.5 2.5 3-9.5 3.5 8.5 3.5-10 3.5 14.5 3 9.5 3.5-6 3.5 14 3.5 11 3-7 3.5 8.5 3.5 4.5 3.5 8 3-4.5 3.5-7.5 3.5-14.5 3.5 5.5 3-2.5 3.5-15.5 3.5 12.5 3.5 13 3-4.5 3.5-18 3.5 24 3.5 10 3-8 3.5 18.5 3.5-2.5 3.5-8 3-2.5 3.5-2 3.5 3.5 3.5 14.5 3-5 3.5-6 3.5 3 3.5-11 3-23.5 3.5 12.5 3.5-15.5 3.5 12.5 3 0.5 3.5-4 3.5 16 3.5-22.5 3.5 5.5 3 0 3.5-2.5 3.5 24.5 3.5-6.5 3 8.5 3.5-9.5 3.5-29 3.5 19.5 3 9.5 3.5 3.5 3.5 18 3.5 9.5 3-13 3.5-29.5 3.5-9 3.5-18.5 3 27.5 3.5 0 3.5-4 3.5 19 3 8.5 3.5-4.5 3.5-0.5 3.5 8 3 5.5 3.5 6.5 3.5-1.5 3.5 1.5 3 9.5 3.5 5.5 3.5 5 3.5 1 3-2.5 3.5 4 3.5 0 3.5-2 3-1 3.5 1.5 3.5 1 3.5-2 3 2.5 3.5-0.5 3.5 2 3.5-3 3.5 3.5 3 0 3.5-1 3.5 0 3.5-2.5 3 2 3.5 1 3.5-3 3.5 2.5 3-3 3.5 1.5 3.5-1.5 3.5 3 3 0.5 3.5-3 3.5 1 3.5 1 3 0.5 3.5 0 3.5-1.5 3.5 1.5 3 0.5 3.5-1 3.5 0 3.5-0.5 3-3 3.5 0.5 3.5 4 3.5-1 3-0.5 3.5-1.5 3.5 1.5 3.5 0.5 3-1 3.5 0 3.5 2.5 3.5-4.5 3 2.5 3.5 1 3.5 0.5 3.5-4 3.5 4 3-1 3.5-3 3.5 1.5 3.5 0 3-0.5 3.5 0.5 3.5-1 3.5-1 3-1.5 3.5-6.5 3.5 2 3.5 4.5 3 2 3.5 2.5 3.5 2 3.5 0.5 0 4.5Z" fill="url(#sd18)" stroke="#2a1414" stroke-opacity="0.55" stroke-width="0.7"/>
<path d="M1060.5 1069.5l0-3.5 3.5-3 3.5 0 3.5 2 3.5-1 3-2 3.5 0 3.5 3.5 3.5 0 3-1 3.5-1 3.5 1.5 3.5 1 3-2.5 3.5 0 3.5 1 3.5 0 3 0.5 3.5 1 3.5 0 3.5-1.5 3.5 1 3-3.5 3.5 1 3.5 2 3.5-0.5 3 1 3.5-4 3.5 2.5 3.5-3 3 0 3.5-7.5 3.5 0.5 3.5-4 3-8.5 3.5 4.5 3.5 6 3.5 1 3.5 4 3 5 3.5 0 3.5-4 3.5 4.5 3-3.5 3.5 3 3.5 1.5 3.5-2.5 3-2 3.5 3.5 3.5-0.5 3.5-0.5 3-1 3.5-1 3.5-1.5 3.5 1 3.5 4.5 3-4 3.5 1.5 3.5-3.5 3.5 0 3 3.5 3.5-2 3.5 0.5 3.5 4.5 3-14 3.5-4.5 3.5-6 3.5-5 3-14.5 3.5 6.5 3.5-16.5 3.5 5.5 3.5-8.5 3 2.5 3.5-14.5 3.5 10.5 3.5-16 3 17 3.5-10 3.5-6.5 3.5 10.5 3-15 3.5 1 3.5 9 3.5-23.5 3.5 5 3 2 3.5 20.5 3.5 2 3.5 2.5 3 0.5 3.5-2 3.5 15 3.5 8.5 3-1.5 3.5 6 3.5-29.5 3.5 13.5 3-16 3.5 18.5 3.5-9.5 3.5-10.5 3.5 13 3 4.5 3.5-15 3.5 4.5 3.5 19 3-6.5 3.5 12.5 3.5-13 3.5 11 3-4.5 3.5 4.5 3.5 7 3.5-3.5 3 10 3.5-7.5 3.5-15 3.5-14.5 3.5-6.5 3 8 3.5-5 3.5 1 3.5-8 3 19.5 3.5 0.5 3.5-3 3.5-23 3 6.5 3.5 12 3.5 6.5 3.5-1 3 19 3.5-16 3.5-18.5 3.5 0 3.5 7.5 3 17.5 3.5 12.5 3.5 14 3.5-29 3-1.5 3.5-24 3.5 3 3.5 3 3-8 3.5 29 3.5-1 3.5 6.5 3-7.5 3.5 7.5 3.5 2 3.5 3.5 3.5 9 3 0 3.5 3.5 3.5 6 3.5 4.5 3 5.5 3.5 0 3.5 1 3.5-2 3 3.5 3.5 1 3.5 0 3.5-0.5 3 1 3.5-2 3.5 1 3.5-2 3.5 1.5 3 1.5 3.5-0.5 3.5-1.5 3.5 1 3-1.5 3.5-0.5 3.5 0.5 3.5 2.5 3 0.5 3.5 0 3.5-0.5 3.5 0 3-1.5 3.5 1 3.5-2.5 3.5 1 3.5 1.5 3-3 3.5 0 3.5 1.5 3.5 1 3-1.5 3.5 2 3.5 0 3.5-2.5 3-1 3.5 3.5 3.5-1 3.5 0 3 0.5 3.5 1.5 3.5-1 3.5-0.5 3.5-0.5 3-0.5 3.5 1.5 3.5 0 3.5 1 3-3.5 3.5 2.5 3.5-0.5 3.5-1.5 3 0 3.5 1.5 3.5 0.5 3.5-3 3 1 3.5 1 3.5 1 3.5-2.5 3.5-2 3-2.5 3.5-4 3.5 3.5 3.5 1.5 3 3 3.5 3 3.5 0.5 3.5 1.5 0 4.5Z" fill="url(#sd19)" stroke="#2a1414" stroke-opacity="0.55" stroke-width="0.7"/>
<path d="M1060 1071l0-4 3.5-1 3.5 1.5 3.5-0.5 3.5-3 3 4 3.5-1 3.5 0.5 3.5-2.5 3-0.5 3.5 3 3.5-3.5 3.5 4 3 0 3.5-2 3.5-2 3.5 0.5 3.5 1.5 3-0.5 3.5 2 3.5-0.5 3.5-2.5 3 2.5 3.5-0.5 3.5 0.5 3.5 0 3.5-0.5 3-0.5 3.5 0 3.5-1.5 3.5-4.5 3-2.5 3.5-5.5 3.5-3 3.5-6.5 3.5 3 3 3 3.5 8.5 3.5 5 3.5-1.5 3-0.5 3.5 2 3.5 0.5 3.5-1 3 3.5 3.5 0.5 3.5-0.5 3.5-0.5 3.5-0.5 3-1 3.5-3 3.5 0 3.5 2.5 3 0 3.5 2 3.5 0.5 3.5-1 3.5-1 3-1 3.5-0.5 3.5 1 3.5-2 3 4 3.5 1 3.5-11 3.5-10 3.5-1.5 3-15.5 3.5 2.5 3.5-1.5 3.5-17.5 3 11.5 3.5-15.5 3.5 3.5 3.5-5.5 3-2 3.5-10.5 3.5 15.5 3.5-10 3.5-4.5 3 6.5 3.5-10 3.5 2.5 3.5 6 3-13 3.5-13 3.5 15.5 3.5 11 3.5 0.5 3 7.5 3.5-1 3.5-4 3.5 20.5 3 3.5 3.5 1.5 3.5 2.5 3.5-11 3.5-8.5 3-15 3.5 12 3.5-6 3.5-7 3 14.5 3.5-0.5 3.5-1.5 3.5 3 3 17 3.5-4.5 3.5 9.5 3.5-5.5 3.5-7 3 3 3.5 9.5 3.5-3 3.5 11 3-8 3.5-2.5 3.5 1 3.5-19.5 3.5-5 3-4.5 3.5 5 3.5-12 3.5 14 3 4.5 3.5-8.5 3.5-3 3.5 8.5 3.5-7.5 3 10.5 3.5 10 3.5-1 3.5 6.5 3-13.5 3.5-15.5 3.5-4.5 3.5 26.5 3 3 3.5 9.5 3.5 11.5 3.5-20.5 3.5-15.5 3 1 3.5-6.5 3.5-12.5 3.5 18 3 13.5 3.5-0.5 3.5 8.5 3.5 2 3.5-16 3 18.5 3.5 6 3.5 4 3.5-5.5 3 7 3.5 1 3.5 8 3.5 3.5 3.5 2 3 1.5 3.5-0.5 3.5 1.5 3.5-0.5 3 0 3.5 0.5 3.5-2 3.5 0 3.5 3 3-3 3.5 3 3.5 0.5 3.5-0.5 3-1.5 3.5-2 3.5 2.5 3.5 1 3-2.5 3.5 2 3.5-0.5 3.5-2.5 3.5 2.5 3 0.5 3.5 0 3.5-0.5 3.5-2 3-0.5 3.5 1 3.5 2 3.5-0.5 3.5-1.5 3 0 3.5 0.5 3.5 2 3.5-0.5 3-0.5 3.5 1 3.5-0.5 3.5 0.5 3.5 0 3-1.5 3.5 2 3.5-3 3.5 0 3 0 3.5 2.5 3.5-1.5 3.5 1.5 3-1.5 3.5-1 3.5 2.5 3.5-2.5 3.5 0 3 2.5 3.5-3 3.5 1 3.5 1 3 0.5 3.5 0.5 3.5-4 3.5 0 3.5-4 3 0 3.5-5 3.5 2 3.5 4.5 3 1.5 3.5 5 3.5 1 3.5-3.5 0 8.5Z" fill="url(#sd20)" stroke="#2a1414" stroke-opacity="0.55" stroke-width="0.7"/>
<path d="M1059.5 1073l0-3.5 3.5-0.5 3.5-1 3.5-2 3 0.5 3.5 2 3.5-1 3.5 1 3.5 0 3 1 3.5 0 3.5 0 3.5-0.5 3.5-2.5 3 0.5 3.5 1.5 3.5 1 3.5-0.5 3-2.5 3.5 3 3.5 0 3.5-0.5 3.5-1.5 3-2 3.5 3.5 3.5-1 3.5 0.5 3.5-1.5 3 0.5 3.5-1.5 3.5-2 3.5-2.5 3-4.5 3.5-4.5 3.5-8 3.5 8 3.5-0.5 3 4.5 3.5 5 3.5 4.5 3.5 0.5 3-3 3.5 0 3.5 0 3.5 3 3.5-1.5 3 2 3.5-1 3.5 0 3.5 0.5 3.5-1.5 3-2.5 3.5-0.5 3.5 3.5 3.5 0 3-1.5 3.5-1 3.5 2.5 3.5-2.5 3.5 1 3 1 3.5 0 3.5-0.5 3.5 2.5 3.5-9.5 3-8 3.5-4 3.5-2.5 3.5-7 3-3.5 3.5-14 3.5-3.5 3.5-1 3.5-10.5 3 15.5 3.5-0.5 3.5-21 3.5 0.5 3 12.5 3.5-17.5 3.5-1.5 3.5 8 3.5-10.5 3 6.5 3.5-1 3.5-5 3.5-2.5 3.5 9 3 4.5 3.5 7.5 3.5-5 3.5 5 3 7.5 3.5 16.5 3.5 1 3.5-3.5 3.5-20 3-2 3.5-5.5 3.5 7 3.5-3 3 5.5 3.5 12 3.5-14 3.5-4 3.5 2.5 3 21.5 3.5-1.5 3.5 7.5 3.5-6 3.5 6 3-14 3.5 6.5 3.5 10.5 3.5-1.5 3 4.5 3.5-6 3.5-0.5 3.5-23.5 3.5-6.5 3 0.5 3.5-2.5 3.5-3 3.5 15 3.5-7.5 3 16.5 3.5-19 3.5 5 3.5 2.5 3 0.5 3.5 2.5 3.5 8.5 3.5 2.5 3.5-7 3-19.5 3.5-1.5 3.5 14.5 3.5 11 3 15 3.5 13.5 3.5-21 3.5-19.5 3.5-2.5 3-0.5 3.5 4.5 3.5-1.5 3.5 6 3.5 14.5 3 1 3.5-13 3.5 13.5 3.5-3 3 12 3.5-1 3.5 5.5 3.5 5.5 3.5 1.5 3 1 3.5 7 3.5 3 3.5-1 3.5-1 3 1.5 3.5-1.5 3.5 2.5 3.5-0.5 3 0.5 3.5 0 3.5-1.5 3.5 2.5 3.5 0 3 0.5 3.5 0 3.5-1.5 3.5 1.5 3-0.5 3.5 0 3.5-1 3.5-2 3.5 1 3 1.5 3.5-1.5 3.5 1.5 3.5 0.5 3.5-4 3 2.5 3.5 0.5 3.5 0.5 3.5-2.5 3 1.5 3.5 1 3.5-0.5 3.5 0.5 3.5-0.5 3-1 3.5 1 3.5-3 3.5 0 3.5 0.5 3 2 3.5-2 3.5 3.5 3.5 0 3 0 3.5-1.5 3.5-0.5 3.5-0.5 3.5 2.5 3 0 3.5 0.5 3.5-0.5 3.5-3.5 3 1.5 3.5 0.5 3.5-1 3.5 2 3.5-2 3 0 3.5 2.5 3.5-4.5 3.5 1.5 3.5-2.5 3-0.5 3.5-2.5 3.5-2.5 3.5 7 3 2.5 3.5-0.5 3.5 1 3.5 2 0 4.5Z" fill="url(#sd21)" stroke="#2a1414" stroke-opacity="0.55" stroke-width="0.7"/>
<path d="M1059 1074.5l0-3 3.5-4.5 3.5 2 3.5-0.5 3 0.5 3.5-1 3.5 2.5 3.5-3 3.5 4 3-0.5 3.5-0.5 3.5-3.5 3.5 3.5 3.5-3 3 1 3.5 2.5 3.5-4 3.5 2 3.5 1 3 1 3.5-3.5 3.5 2 3.5 1 3.5 0 3 0 3.5-2.5 3.5-0.5 3.5 0 3 1.5 3.5 0 3.5-2 3.5-3.5 3.5-9.5 3 4 3.5-10 3.5 3.5 3.5 6 3.5 2.5 3 5 3.5 2.5 3.5-2.5 3.5 1.5 3.5 2 3 0.5 3.5-3.5 3.5 3.5 3.5-2 3.5 1.5 3-0.5 3.5-4 3.5 2.5 3.5-3 3.5 2.5 3-0.5 3.5 3 3.5-3.5 3.5 2.5 3-1 3.5-3 3.5 3 3.5-2.5 3.5-0.5 3 4 3.5 1 3.5-12 3.5-2.5 3.5-7 3-6 3.5-2.5 3.5-11.5 3.5 4 3.5-10 3 1.5 3.5-8 3.5-1.5 3.5 3.5 3.5 0.5 3-11 3.5 0 3.5 3.5 3.5-5.5 3.5-5.5 3-4 3.5-1.5 3.5-5.5 3.5 17 3-6 3.5 20 3.5-3.5 3.5 2.5 3.5 5 3-6.5 3.5 15.5 3.5-2 3.5 13.5 3.5-5 3-14.5 3.5 3.5 3.5-8 3.5 0.5 3.5-4 3-3.5 3.5 4.5 3.5 4 3.5 1 3.5-7.5 3 15 3.5 0 3.5 8.5 3.5 3 3.5-5.5 3-12.5 3.5 12.5 3.5 5.5 3.5 6.5 3-7 3.5-1.5 3.5-7 3.5-16 3.5-3 3 5.5 3.5 2 3.5-5.5 3.5-7.5 3.5 14 3-9.5 3.5-0.5 3.5-13.5 3.5 17 3.5 8 3 5.5 3.5 2.5 3.5 3.5 3.5-12 3.5-17 3 4 3.5 6.5 3.5 19 3.5 9 3.5 10.5 3-16.5 3.5-14 3.5-6.5 3.5-9.5 3 0 3.5 8 3.5 5 3.5 14 3.5-6 3 5 3.5-2.5 3.5 11.5 3.5 4.5 3.5-2 3 2 3.5 3 3.5 6.5 3.5 5 3.5 5.5 3-3 3.5 2 3.5 1.5 3.5-0.5 3.5 0.5 3-3 3.5 3.5 3.5-3 3.5 1.5 3.5 1.5 3-2 3.5 1.5 3.5 0.5 3.5 1.5 3-0.5 3.5-0.5 3.5-1.5 3.5 1.5 3.5-0.5 3 1.5 3.5-4.5 3.5 4 3.5-1 3.5 0 3-1.5 3.5 1.5 3.5 0 3.5-0.5 3.5-1.5 3 2 3.5 0.5 3.5-3 3.5 2 3.5 1.5 3 0 3.5 0 3.5-2 3.5-2 3 3.5 3.5 0 3.5 1 3.5-4.5 3.5 1.5 3 2 3.5 0.5 3.5 0 3.5-2 3.5 1.5 3 1 3.5 0 3.5-4.5 3.5 1.5 3.5-1.5 3 0.5 3.5 2 3.5-1 3.5 2.5 3.5-0.5 3-4 3.5 0 3.5 3.5 3.5-1.5 3.5-1.5 3-3 3.5-2.5 3.5 2 3.5 3.5 3 2.5 3.5-1 3.5 2.5 3.5-1.5 0 7Z" fill="url(#sd22)" stroke="#2a1414" stroke-opacity="0.55" stroke-width="0.7"/>
<path d="M1058.5 1076.5l0-4 3.5-3.5 3.5 3 3.5 0 3 0.5 3.5-3 3.5 2 3.5-2 3.5 1.5 3 0.5 3.5 1.5 3.5 0 3.5-1.5 3.5 1.5 3 0 3.5-2 3.5 1.5 3.5-1 3.5 1 3 0 3.5-1 3.5-1 3.5 1.5 3.5-3 3 3 3.5 0.5 3.5-0.5 3.5-2 3.5-1 3 0 3.5 0 3.5-7 3.5 0 3.5-2 3.5-8.5 3 5.5 3.5 1.5 3.5 3.5 3.5 5.5 3.5 2 3 0.5 3.5-5 3.5 3.5 3.5-1.5 3.5 2 3-1 3.5-1 3.5 0.5 3.5 1.5 3.5-1.5 3 0 3.5 1 3.5-4 3.5 1.5 3.5 4.5 3-1.5 3.5 1 3.5-1.5 3.5-4.5 3.5 1.5 3 2 3.5 1.5 3.5 1 3.5-0.5 3.5-5 3-6.5 3.5-12.5 3.5-2.5 3.5-1 3.5-16 3 0 3.5 4.5 3.5-7 3.5-2.5 3.5-10.5 3 16 3.5-13.5 3.5 8 3.5-3.5 3.5 1 3-15 3.5-2.5 3.5 3 3.5 1 3.5-8.5 3 16.5 3.5-8 3.5 12 3.5 4 3.5-3.5 3-3 3.5 12 3.5-0.5 3.5 15 3.5-0.5 3 3 3.5-19 3.5-6.5 3.5 10.5 3.5 0 3-13 3.5 11 3.5-3.5 3.5-4.5 3.5 7 3-8 3.5 11.5 3.5 10 3.5-1 3.5 0.5 3 2.5 3.5-1 3.5-5 3.5 6.5 3.5 7.5 3-3.5 3.5 2 3.5-17.5 3.5 2 3.5-7 3-13 3.5 3 3.5 10 3.5-8 3.5-0.5 3.5 14 3-3.5 3.5-20 3.5 6 3.5 17.5 3.5-9 3 15.5 3.5 4 3.5-14 3.5-22 3.5 14 3 3 3.5 21 3.5 6.5 3.5 6.5 3.5-19.5 3-6.5 3.5-14.5 3.5-0.5 3.5-9.5 3.5 17 3 5.5 3.5 3 3.5 11.5 3.5-6.5 3.5 2 3-0.5 3.5 7 3.5 5 3.5 5 3.5-1.5 3 4.5 3.5 4.5 3.5 4.5 3.5 2 3.5-1.5 3 1.5 3.5 1.5 3.5-2 3.5 2 3.5-2.5 3 2 3.5 1 3.5 0 3.5-1.5 3.5 2 3-3.5 3.5 3.5 3.5 0 3.5-1 3.5-3 3 0.5 3.5 1 3.5 2.5 3.5-0.5 3.5-2.5 3 0.5 3.5-0.5 3.5-1 3.5 4 3.5 0 3-2 3.5 1 3.5-0.5 3.5 1 3.5-0.5 3 0.5 3.5-3 3.5 0 3.5 2.5 3.5-1 3 1 3.5-2 3.5-1 3.5 0.5 3.5 3.5 3-2 3.5 2 3.5-0.5 3.5 0.5 3.5-4 3 4 3.5 0.5 3.5-2.5 3.5 2 3.5-0.5 3-3 3.5 4 3.5-2.5 3.5-1 3.5 0 3.5 3 3 0 3.5-1.5 3.5 0 3.5-1 3.5-0.5 3-7 3.5 0.5 3.5-1.5 3.5 2 3.5 7.5 3 2 3.5 0 3.5-2 0 7Z" fill="url(#sd23)" stroke="#2a1414" stroke-opacity="0.55" stroke-width="0.7"/>
<path d="M1058 1078l0-4 3.5 0.5 3.5-1 3.5-1.5 3 1.5 3.5-3 3.5 3.5 3.5-1.5 3.5 2 3-2 3.5 0 3.5 1 3.5-1 3.5 2 3.5-0.5 3-2.5 3.5 3 3.5-0.5 3.5-2.5 3.5 1.5 3 1.5 3.5-2.5 3.5 2 3.5-2.5 3.5-1 3 3 3.5-1 3.5-1 3.5-0.5 3.5-1 3.5-1 3-4.5 3.5-4.5 3.5-1 3.5-5.5 3.5 5.5 3 3 3.5 3.5 3.5 2 3.5 1.5 3.5-0.5 3 3 3.5-0.5 3.5 0 3.5-0.5 3.5-1 3.5 2.5 3-2.5 3.5 1 3.5-1 3.5 0 3.5 0 3 0.5 3.5-1.5 3.5-0.5 3.5 4 3.5 0 3-0.5 3.5-5 3.5 2.5 3.5 0.5 3.5 1.5 3 1 3.5 0 3.5-5.5 3.5-8 3.5-6 3.5-8 3-6 3.5 0 3.5-2.5 3.5-9 3.5 0 3-2 3.5 5.5 3.5-12.5 3.5-5 3.5 0.5 3-2 3.5 9 3.5 3 3.5-5 3.5-14 3.5 13 3-14 3.5 15 3.5-15.5 3.5 12 3.5 3.5 3 13.5 3.5-3.5 3.5-3.5 3.5 4.5 3.5 14 3 1.5 3.5 1 3.5-13 3.5-12 3.5 11 3.5-1 3-8 3.5-4.5 3.5 13.5 3.5-9.5 3.5-4 3 11 3.5 2 3.5 11.5 3.5 5.5 3.5-3 3-8 3.5 3 3.5-5.5 3.5 9.5 3.5 3 3 4 3.5-3.5 3.5-5.5 3.5-6.5 3.5-9.5 3.5 0 3-1.5 3.5-5 3.5 6.5 3.5-4 3.5 9.5 3-3.5 3.5-7 3.5 9 3.5-0.5 3.5 7 3-2.5 3.5 5 3.5-1.5 3.5-17.5 3.5-8.5 3.5 15.5 3 11.5 3.5 4.5 3.5 15 3.5-13 3.5-12 3-17 3.5-14 3.5 8 3.5 12.5 3.5 13.5 3 7 3.5 2 3.5-3 3.5-5 3.5 7 3.5 3.5 3 8.5 3.5 2 3.5 1.5 3.5 2 3.5 4.5 3 2.5 3.5 1 3.5 1.5 3.5-3 3.5-0.5 3 1 3.5 0.5 3.5 2.5 3.5-2.5 3.5-0.5 3.5 3 3 0 3.5-0.5 3.5 1.5 3.5-1.5 3.5 1 3 0.5 3.5-3 3.5 3 3.5-1 3.5-1 3 2 3.5 0 3.5-3 3.5 2.5 3.5-3.5 3 2.5 3.5 1 3.5-0.5 3.5-1 3.5 1 3.5-1 3 0.5 3.5 0 3.5-2 3.5 1.5 3.5 0 3 1 3.5-3 3.5 3 3.5-3 3.5 2.5 3 1.5 3.5-1 3.5-3 3.5 3 3.5-2.5 3.5 2.5 3 1.5 3.5-1.5 3.5 0.5 3.5 0.5 3.5-3.5 3 1 3.5 1 3.5 0.5 3.5 0 3.5 0 3 0.5 3.5-1 3.5-2.5 3.5 2 3.5-0.5 3.5-1 3-2 3.5-4.5 3.5-0.5 3.5 5 3.5 3 3 2 3.5 0.5 3.5 0 0 5Z" fill="url(#sd24)" stroke="#2a1414" stroke-opacity="0.55" stroke-width="0.7"/>
<path d="M1057.5 1080l0-5 3.5 0 3.5-1 3.5-1.5 3 4 3.5-4.5 3.5 4.5 3.5-0.5 3.5-1 3.5 1 3-1.5 3.5 0.5 3.5 1 3.5-4 3.5 2 3 1 3.5 1.5 3.5-2.5 3.5 0 3.5 1 3.5-2.5 3 1 3.5 0.5 3.5 0 3.5-1 3.5 1.5 3-1 3.5-1 3.5-1 3.5 2.5 3.5-2 3.5-4.5 3-0.5 3.5-5.5 3.5 0 3.5-1 3.5 4 3 4 3.5 0 3.5 4.5 3.5 0.5 3.5-2 3.5 2 3 0.5 3.5-3.5 3.5 4 3.5-4 3.5 3.5 3.5 0 3-1 3.5 0 3.5-1.5 3.5-1 3.5 2.5 3 0 3.5-0.5 3.5-1.5 3.5 1.5 3.5 0 3.5-1 3 1.5 3.5-1.5 3.5 2.5 3.5 0.5 3.5-6 3-5.5 3.5-11.5 3.5-0.5 3.5-5 3.5-10 3.5-2.5 3 0 3.5-2 3.5 5.5 3.5-9 3.5 3 3-10 3.5 0 3.5-1 3.5-7 3.5 15.5 3.5-4.5 3 3 3.5-21.5 3.5 9 3.5 1.5 3.5-7 3.5 13 3 10 3.5 0 3.5-8.5 3.5 7.5 3.5 5 3 8.5 3.5 2.5 3.5 3 3.5-17 3.5-0.5 3.5-3 3-3.5 3.5-4 3.5 1 3.5 15 3.5-7.5 3 2.5 3.5-7 3.5 9.5 3.5 13.5 3.5-5 3.5 2 3 2 3.5-5 3.5 7 3.5-1 3.5 2.5 3.5 7 3-2.5 3.5-17.5 3.5 1 3.5-8.5 3.5-7.5 3 9.5 3.5-2 3.5-1 3.5-1 3.5-2.5 3.5 12 3-17.5 3.5 8 3.5 6 3.5-1 3.5 14 3 3.5 3.5-12.5 3.5-12.5 3.5-7 3.5 16.5 3.5 10 3 7 3.5 8.5 3.5-15.5 3.5-7.5 3.5-17 3 2.5 3.5-6 3.5 11 3.5 3 3.5 16.5 3.5-1 3-2.5 3.5-4.5 3.5 5 3.5 9.5 3.5 4.5 3.5 1.5 3 1 3.5 1.5 3.5 6 3.5 2 3.5 0.5 3-1.5 3.5 0.5 3.5 2 3.5-3 3.5 2 3.5 2 3-1.5 3.5 2 3.5 0 3.5-0.5 3.5-2 3 1 3.5 2 3.5-0.5 3.5 0.5 3.5-1 3.5-1 3-2 3.5 0.5 3.5 3 3.5-0.5 3.5-2.5 3-0.5 3.5 1.5 3.5 2 3.5-1 3.5-2.5 3.5 2 3 1.5 3.5-1 3.5-0.5 3.5 1 3.5-1 3.5-2 3 2.5 3.5-0.5 3.5-2 3.5 0.5 3.5 3.5 3-1.5 3.5-1.5 3.5 2 3.5-3.5 3.5 5 3.5-2 3-2 3.5 0 3.5 2.5 3.5 1 3.5-2 3 2 3.5-1.5 3.5-1 3.5 0.5 3.5 0 3.5 1.5 3-0.5 3.5-3.5 3.5 4 3.5 0.5 3.5-1.5 3.5-4.5 3-2 3.5 0.5 3.5-0.5 3.5 3.5 3.5 1.5 3-0.5 3.5 0.5 3.5 3 0 5Z" fill="url(#sd25)" stroke="#2a1414" stroke-opacity="0.55" stroke-width="0.7"/>
<path d="M1057 1081.5l0-3.5 3.5-4 3.5 1 3.5 0 3-1 3.5 2.5 3.5 0 3.5 1.5 3.5 0 3.5 0 3-3.5 3.5 2 3.5 1.5 3.5 0 3.5 0 3.5-3 3 3 3.5 0 3.5-3 3.5 3 3.5-1 3-1.5 3.5 2.5 3.5-3.5 3.5 2 3.5 1.5 3.5-3 3 2 3.5-4.5 3.5 3.5 3.5-2.5 3.5-3.5 3.5-6 3 3.5 3.5-5 3.5 1.5 3.5 4 3.5 2 3.5 0 3 5.5 3.5-2 3.5 1 3.5 1 3.5-0.5 3.5 1 3-0.5 3.5-1.5 3.5 2 3.5-1 3.5-0.5 3.5 0.5 3-2 3.5 0.5 3.5 1.5 3.5 1 3.5-2.5 3.5 1 3 1 3.5-1.5 3.5-3.5 3.5 1.5 3.5 3 3.5-2 3 2 3.5-6.5 3.5-5 3.5-1.5 3.5-6 3.5-1.5 3-2.5 3.5-4.5 3.5-4 3.5-9 3.5 1.5 3-3 3.5 2 3.5-5.5 3.5 5 3.5-10 3.5 0.5 3-1.5 3.5 2.5 3.5-6 3.5 0.5 3.5 4.5 3.5 6 3 1.5 3.5-1.5 3.5 0.5 3.5-6 3.5 13.5 3.5 4.5 3-7 3.5 12.5 3.5 1 3.5 1 3.5-12.5 3.5-2 3 2 3.5 6 3.5-8.5 3.5-9 3.5 14 3.5 2 3-1.5 3.5-2.5 3.5-2.5 3.5 17 3.5 2.5 3.5-8 3 2 3.5-4.5 3.5 3.5 3.5 4 3.5-0.5 3.5 5 3-4.5 3.5-2 3.5-16 3.5 5 3.5-5 3-8 3.5-2 3.5 10 3.5-2 3.5 9 3.5-7.5 3-6.5 3.5 10.5 3.5 2.5 3.5 2 3.5-0.5 3.5 10 3-12 3.5-18 3.5 2 3.5 14 3.5 10 3.5 5.5 3 11 3.5-16.5 3.5-8.5 3.5-4.5 3.5-17 3.5 18.5 3-4 3.5 9 3.5 6 3.5-1.5 3.5 2 3.5-4.5 3 9 3.5 2 3.5 7.5 3.5-2.5 3.5 1.5 3.5 6.5 3 2 3.5 0.5 3.5 5 3.5-1 3.5-0.5 3.5 1.5 3-1.5 3.5 1.5 3.5-1 3.5 0.5 3.5 1.5 3.5-3.5 3 4 3.5-3 3.5 2.5 3.5-3 3.5 0 3 2.5 3.5-2 3.5 1.5 3.5 0.5 3.5-1.5 3.5 0.5 3 1.5 3.5-1.5 3.5 0.5 3.5 0.5 3.5-2.5 3.5 3 3 0 3.5-4 3.5 2.5 3.5-2 3.5 3.5 3.5-0.5 3-3 3.5 3 3.5 0.5 3.5-0.5 3.5 0 3.5-1.5 3 0.5 3.5 1.5 3.5-1.5 3.5 1.5 3.5-3 3.5 3.5 3-3 3.5 0.5 3.5-1.5 3.5 0.5 3.5 3.5 3.5-3 3 3 3.5-0.5 3.5-1 3.5 1.5 3.5-0.5 3.5-3.5 3 3.5 3.5 0 3.5-0.5 3.5-1.5 3.5 0 3-3 3.5 0.5 3.5 0 3.5-3.5 3.5 2 3.5 3 3-0.5 3.5 4 3.5 0 0 5Z" fill="url(#sd26)" stroke="#2a1414" stroke-opacity="0.55" stroke-width="0.7"/>
<path d="M1056.5 1083l0-3.5 3.5-1 3.5 0.5 3.5-0.5 3 1.5 3.5-3.5 3.5 3 3.5 0.5 3.5 0 3.5-1.5 3 0.5 3.5 0.5 3.5-2.5 3.5 3 3.5-3 3.5-1.5 3 3 3.5 0.5 3.5 0 3.5 0.5 3.5-3 3.5 2 3-2.5 3.5 3.5 3.5-1.5 3.5-0.5 3.5 2 3.5-1.5 3.5-0.5 3-0.5 3.5-3 3.5 0 3.5-7 3.5-3 3.5 2.5 3 0 3.5 2 3.5 1 3.5 4.5 3.5 4 3.5-0.5 3-1 3.5-0.5 3.5 1.5 3.5-0.5 3.5 1 3.5-1.5 3-1.5 3.5 1 3.5 1 3.5-3.5 3.5 0.5 3.5 2 3 0.5 3.5-0.5 3.5-0.5 3.5 1 3.5 0.5 3.5-2 3.5 0.5 3 1 3.5-1.5 3.5 3 3.5-2.5 3.5-3 3.5-5 3-8.5 3.5-3 3.5-4.5 3.5-4.5 3.5-2 3.5-1.5 3-3.5 3.5 0 3.5-2.5 3.5 4.5 3.5-1.5 3.5 2 3-4.5 3.5-8 3.5 2 3.5 7 3.5-2 3.5-13.5 3.5 8.5 3-3.5 3.5-2 3.5 6 3.5 2.5 3.5-1 3.5-1 3 11.5 3.5 3 3.5 4.5 3.5 4 3.5 3.5 3.5-17 3 6 3.5-7 3.5 0 3.5-9 3.5-0.5 3.5 9 3 2.5 3.5-4.5 3.5-3.5 3.5 14 3.5 0 3.5 2.5 3 0.5 3.5-5 3.5-2 3.5 5.5 3.5 0 3.5 10.5 3.5-2.5 3-2 3.5-3 3.5-7 3.5-3 3.5-5 3.5-3 3-7.5 3.5 6.5 3.5 3.5 3.5 0.5 3.5-2 3.5-1 3-2 3.5 12.5 3.5-5.5 3.5 6 3.5 3.5 3.5-1.5 3-18.5 3.5 10.5 3.5 2 3.5 7.5 3.5 8.5 3.5 6.5 3.5-8 3-17 3.5 0.5 3.5-2.5 3.5-7 3.5 8.5 3.5 8 3-1 3.5 4 3.5 1.5 3.5-4 3.5 7 3.5 5 3 6 3.5-1 3.5-1 3.5 6.5 3.5-0.5 3.5 6 3 1 3.5-1.5 3.5-1.5 3.5 3.5 3.5 0.5 3.5-1 3-0.5 3.5 1.5 3.5-1.5 3.5-1.5 3.5 2.5 3.5 1 3.5-4.5 3 4 3.5 0.5 3.5-1.5 3.5 0 3.5 1 3.5-3 3 3 3.5-3 3.5 2 3.5 1 3.5 0.5 3.5-4.5 3 4 3.5-3 3.5 0 3.5 1.5 3.5 0 3.5-2 3-0.5 3.5 2 3.5 2 3.5-0.5 3.5-0.5 3.5-1.5 3.5-1.5 3 1 3.5-1 3.5 2.5 3.5 2 3.5-1 3.5 0.5 3-2 3.5 1.5 3.5 1 3.5 0 3.5 0 3.5-0.5 3-2.5 3.5 2 3.5-1 3.5 1.5 3.5-0.5 3.5-1.5 3-0.5 3.5 2.5 3.5-3.5 3.5 0 3.5 2 3.5 1 3-5 3.5 1.5 3.5-3.5 3.5-1 3.5 6 3.5 0.5 3.5-1 3 2 3.5 2 0 4Z" fill="url(#sd27)" stroke="#2a1414" stroke-opacity="0.55" stroke-width="0.7"/>
</g>
<path d="M1052 955.8L1844.7 955.8" stroke="#444" stroke-width="1.4"/>
<path d="M1056.5 1080.5L1052 955.8M1839.6 1081L1844.7 955.8" stroke="#555" stroke-width="1"/>
<path d="M1056.5 1080.5L1839.6 1081" stroke="#333" stroke-width="1.5"/>
<text x="1017" y="1094" font-size="19" textLength="82" lengthAdjust="spacingAndGlyphs" transform="rotate(-66 1017 1094)">Promoter</text>
<text x="1172.6" y="1103.5" font-size="18" textLength="79.8" lengthAdjust="spacingAndGlyphs">100 bases</text>
<line x1="1261.3" y1="1098" x2="1339.3" y2="1098" stroke="#555" stroke-width="1.2" />
<line x1="1261.3" y1="1093" x2="1261.3" y2="1103" stroke="#555" stroke-width="1.2" />
<line x1="1339.3" y1="1093" x2="1339.3" y2="1103" stroke="#555" stroke-width="1.2" />
<text x="1416.7" y="1104" font-size="19" font-weight="bold" textLength="82.2" lengthAdjust="spacingAndGlyphs">Enhancer</text>
<text x="1297" y="929" font-size="18.5" textLength="50.6" lengthAdjust="spacingAndGlyphs">GATA</text>
<line x1="1346.7" y1="931" x2="1346.7" y2="940" stroke="#111" stroke-width="1.6" stroke-dasharray="3 2"/>
<text x="1360.7" y="937.4" font-size="18.5" textLength="36" lengthAdjust="spacingAndGlyphs">KLF</text>
<line x1="1392.3" y1="939" x2="1392.3" y2="968.6" stroke="#111" stroke-width="1.6" />
<text x="1373.5" y="889.8" font-size="18.5" textLength="61" lengthAdjust="spacingAndGlyphs">RUNX1</text>
<line x1="1401.2" y1="892.7" x2="1401.2" y2="958.2" stroke="#111" stroke-width="1.6" />
<text x="1410.7" y="909" font-size="18.5" textLength="99.3" lengthAdjust="spacingAndGlyphs">GATA/TAL1</text>
<line x1="1414.3" y1="912" x2="1414.3" y2="965.7" stroke="#111" stroke-width="1.6" />
<text x="1418" y="950.8" font-size="18.5" textLength="55.5" lengthAdjust="spacingAndGlyphs">NF-E2</text>
<line x1="1437.5" y1="955" x2="1437.5" y2="988" stroke="#111" stroke-width="1.6" />
<text x="1454.8" y="931.4" font-size="18.5" textLength="53.6" lengthAdjust="spacingAndGlyphs">NF-E2</text>
<line x1="1475.6" y1="936.8" x2="1475.6" y2="964" stroke="#111" stroke-width="1.6" />
<text x="1514.4" y="931.9" font-size="18.5" textLength="36.6" lengthAdjust="spacingAndGlyphs">FOX</text>
<line x1="1515.3" y1="934" x2="1515.3" y2="951.3" stroke="#111" stroke-width="1.6" />
<text x="1543.8" y="951.3" font-size="18.5" textLength="61.2" lengthAdjust="spacingAndGlyphs">RUNX1</text>
<text x="10" y="1222" font-size="30" font-weight="bold">e</text>
<text x="549" y="1196" font-size="21" textLength="66" lengthAdjust="spacingAndGlyphs">100 kb</text>
<line x1="619" y1="1190.6" x2="1345.3" y2="1190.6" stroke="#222" stroke-width="1.3" /><line x1="619" y1="1184.6" x2="619" y2="1196.6" stroke="#222" stroke-width="1.3" /><line x1="1345.3" y1="1184.6" x2="1345.3" y2="1196.6" stroke="#222" stroke-width="1.3" />
<text x="1363.6" y="1196" font-size="21" textLength="47.8" lengthAdjust="spacingAndGlyphs">mm9</text>
<text x="202.9" y="1232.9" font-size="21.5" fill="#4f4f88" textLength="103.5" lengthAdjust="spacingAndGlyphs">AK007038</text>
<line x1="312.4" y1="1226" x2="362.4" y2="1226" stroke="#8a8ac0" stroke-width="1.6" />
<path d="M321.9 1222L317.9 1226L321.9 1230M335.2 1222L331.2 1226L335.2 1230M348.5 1222L344.5 1226L348.5 1230" fill="none" stroke="#8a8ac0" stroke-width="1.3"/>
<rect x="311.5" y="1218" width="1.8" height="16" fill="#8a8ac0" />
<rect x="316.1" y="1218" width="1.8" height="16" fill="#8a8ac0" />
<rect x="321.1" y="1218" width="1.8" height="16" fill="#8a8ac0" />
<rect x="361.5" y="1218" width="1.8" height="16" fill="#8a8ac0" />
<text x="425.5" y="1232.9" font-size="21.5" fill="#4f4f88" textLength="66.5" lengthAdjust="spacingAndGlyphs">Nkx3-1</text>
<line x1="501" y1="1226" x2="512" y2="1226" stroke="#4c4cac" stroke-width="1.6" />
<path d="" fill="none" stroke="#4c4cac" stroke-width="1.3"/>
<rect x="500.1" y="1213.5" width="1.8" height="25" fill="#4c4cac" />
<rect x="509.2" y="1213.5" width="2.5" height="25" fill="#4c4cac" />
<rect x="512" y="1218.3" width="17" height="15.4" fill="#4c4cac" />
<text x="288.6" y="1283.3" font-size="21.5" fill="#4f4f88" textLength="69" lengthAdjust="spacingAndGlyphs">Nkx2-6</text>
<line x1="364.3" y1="1275.6" x2="384" y2="1275.6" stroke="#7474ba" stroke-width="1.6" />
<path d="M368.8 1271.6L372.8 1275.6L368.8 1279.6" fill="none" stroke="#7474ba" stroke-width="1.3"/>
<rect x="363.4" y="1267.9" width="1.8" height="15.4" fill="#7474ba" />
<rect x="383.8" y="1263.1" width="6.7" height="25" fill="#7474ba" />
<text x="775.6" y="1233" font-size="21.5" fill="#d4232a" textLength="92.4" lengthAdjust="spacingAndGlyphs">Slc25a37</text>
<line x1="897.4" y1="1226" x2="1186" y2="1226" stroke="#25306e" stroke-width="1.6" />
<path d="M906.9 1222L902.9 1226L906.9 1230M920.5 1222L916.5 1226L920.5 1230M934.1 1222L930.1 1226L934.1 1230M947.7 1222L943.7 1226L947.7 1230M961.3 1222L957.3 1226L961.3 1230M974.9 1222L970.9 1226L974.9 1230M988.5 1222L984.5 1226L988.5 1230M1002.1 1222L998.1 1226L1002.1 1230M1015.7 1222L1011.7 1226L1015.7 1230M1029.3 1222L1025.3 1226L1029.3 1230M1042.9 1222L1038.9 1226L1042.9 1230M1056.5 1222L1052.5 1226L1056.5 1230M1070.1 1222L1066.1 1226L1070.1 1230M1083.7 1222L1079.7 1226L1083.7 1230M1097.3 1222L1093.3 1226L1097.3 1230M1110.9 1222L1106.9 1226L1110.9 1230M1124.5 1222L1120.5 1226L1124.5 1230M1138.1 1222L1134.1 1226L1138.1 1230M1151.7 1222L1147.7 1226L1151.7 1230M1165.3 1222L1161.3 1226L1165.3 1230M1178.9 1222L1174.9 1226L1178.9 1230" fill="none" stroke="#6c78b4" stroke-width="1.3"/>
<rect x="913.4" y="1214.5" width="1.8" height="22" fill="#25306e" />
<rect x="927.1" y="1214.5" width="1.8" height="22" fill="#25306e" />
<rect x="1184.2" y="1214.5" width="2.5" height="22" fill="#25306e" />
<rect x="873.8" y="1218.7" width="23.6" height="14.7" fill="#25306e" />
<rect x="895" y="1216" width="4.5" height="20" fill="#25306e" />
<text x="1489.9" y="1222.2" font-size="21.5" fill="#28346c" textLength="70" lengthAdjust="spacingAndGlyphs">Entpd4</text>
<line x1="1565.7" y1="1215.6" x2="1780.6" y2="1215.6" stroke="#28346c" stroke-width="1.6" />
<path d="M1570.2 1211.6L1574.2 1215.6L1570.2 1219.6M1583.7 1211.6L1587.7 1215.6L1583.7 1219.6M1597.2 1211.6L1601.2 1215.6L1597.2 1219.6M1610.7 1211.6L1614.7 1215.6L1610.7 1219.6M1624.2 1211.6L1628.2 1215.6L1624.2 1219.6M1637.7 1211.6L1641.7 1215.6L1637.7 1219.6M1651.2 1211.6L1655.2 1215.6L1651.2 1219.6M1664.7 1211.6L1668.7 1215.6L1664.7 1219.6M1678.2 1211.6L1682.2 1215.6L1678.2 1219.6M1691.7 1211.6L1695.7 1215.6L1691.7 1219.6M1705.2 1211.6L1709.2 1215.6L1705.2 1219.6M1718.7 1211.6L1722.7 1215.6L1718.7 1219.6M1732.2 1211.6L1736.2 1215.6L1732.2 1219.6M1745.7 1211.6L1749.7 1215.6L1745.7 1219.6M1759.2 1211.6L1763.2 1215.6L1759.2 1219.6M1772.7 1211.6L1776.7 1215.6L1772.7 1219.6" fill="none" stroke="#6c78b4" stroke-width="1.3"/>
<rect x="1564.8" y="1202.6" width="1.8" height="25" fill="#28346c" />
<rect x="1640.2" y="1202.6" width="2.4" height="25" fill="#28346c" />
<rect x="1651.4" y="1202.6" width="1.8" height="25" fill="#28346c" />
<rect x="1663.9" y="1202.6" width="1.8" height="25" fill="#28346c" />
<rect x="1691.1" y="1202.6" width="1.8" height="25" fill="#28346c" />
<rect x="1698.8" y="1202.6" width="1.8" height="25" fill="#28346c" />
<rect x="1709.1" y="1202.6" width="3" height="25" fill="#28346c" />
<rect x="1724.1" y="1202.6" width="1.8" height="25" fill="#28346c" />
<rect x="1744.7" y="1202.6" width="1.8" height="25" fill="#28346c" />
<rect x="1757.9" y="1202.6" width="1.8" height="25" fill="#28346c" />
<rect x="1763" y="1202.6" width="1.8" height="25" fill="#28346c" />
<rect x="1773.6" y="1206.6" width="7" height="18" fill="#28346c" />
<path d="M846.4 1241.5 846.4 1250.5 834.4 1246Z" fill="#8a5aaa"/>
<path d="M871 1241.5 871 1250.5 859 1246Z" fill="#8a5aaa"/>
<path d="M1182.5 1241 1193.5 1241 1188 1251.5Z" fill="#5bb6d9"/>
<path d="M1191 1241.5 1191 1250.5 1203 1246Z" fill="#e06aa8"/>
<path d="M1326.2 1241 1337.2 1241 1331.7 1251.5Z" fill="#5cae70"/>
<path d="M1424.9 1241 1435.9 1241 1430.4 1251.5Z" fill="#5cae70"/>
<path d="M1450.5 1241 1461.5 1241 1456 1251.5Z" fill="#5cae70"/>
<path d="M1478 1241.5 1478 1250.5 1466 1246Z" fill="#8a5aaa"/>
<path d="M1488 1241.5 1488 1250.5 1476 1246Z" fill="#8a5aaa"/>
<path d="M1559.4 1241 1570.4 1241 1564.9 1251.5Z" fill="#5bb6d9"/>
<text x="68.8" y="1265.3" font-size="21" fill="#111" text-anchor="end" textLength="56.2" lengthAdjust="spacingAndGlyphs" xml:space="preserve">250 _</text>
<text x="68.8" y="1373.4" font-size="21" fill="#111" text-anchor="end" textLength="31.2" lengthAdjust="spacingAndGlyphs" xml:space="preserve">0 _</text>
<path d="M72.5 1375.5h2v-1h2v1h2v-1h2v1h2v-0.5h2v-1.5h2v1.5h2v-1.5h2v1h2h2v0.5h2v-1h2v1h2v-3h2v2.5h2v0.5h2h2v-2h2v1.5h2v1h2v-2.5h2h2v1.5h2h2v-0.5h2v1.5h2v-1h2v1h2v-1.5h2v1h2v-1h2v1h2v-1h2v-0.5h2v1.5h2h2v-0.5h2v-1.5h2v1.5h2v0.5h2v-0.5h2v0.5h2v0.5h2v-1.5h2v1.5h2h2v-1h2v-12.5h2v-24.5h2v24h2v13h2v-3h2v-9.5h2v6.5h2v5.5h2v-0.5h2h2v1h2v-1h2v1.5h2v-2h2v2.5h2v-1.5h2v1h2h2h2v0.5h2v-1h2v-0.5h2v0.5h2v-1h2v1.5h2v0.5h2v-1h2v0.5h2v-0.5h2v-0.5h2v1h2v-1.5h2v1.5h2v-2h2v1.5h2h2h2v1h2v-0.5h2h2h2h2v0.5h2h2v-0.5h2v0.5h2v-2.5h2v2h2v-1.5h2h2v2h2v-7h2v6.5h2h2v-0.5h2h2h2v0.5h2v-2h2v2.5h2h2v-3.5h2v2.5h2v0.5h2v-2h2v2h2v-0.5h2v-1h2v1h2v0.5h2h2v-2.5h2v2.5h2v-0.5h2v-0.5h2v0.5h2v0.5h2h2h2v-1.5h2v2h2v-0.5h2v-1.5h2v1.5h2v-3h2v1.5h2v2h2v-0.5h2v-1.5h2v2h2v-1.5h2v-0.5h2v2h2v-0.5h2h2h2h2v-1.5h2v0.5h2v0.5h2v-1h2v2h2v-1h2h2v0.5h2h2h2h2v-0.5h2v0.5h2v-0.5h2v0.5h2v-0.5h2v-0.5h2v0.5h2v-0.5h2v1h2h2h2v-0.5h2v-1.5h2v1h2h2v0.5h2v0.5h2v-4.5h2v4h2h2v-1.5h2v-2h2v-3.5h2v-5h2v-5.5h2v-17h2v-33.5h2v49.5h2v2.5h2v7h2v2.5h2v4h2v2h2v1h2v-3h2v3h2h2h2v-0.5h2h2v1h2v-1.5h2v-1.5h2v3h2v-2.5h2v1.5h2v0.5h2h2v-1.5h2v1.5h2v-0.5h2v0.5h2v-1.5h2v1h2v-1.5h2v2.5h2v-1.5h2h2v-0.5h2v1h2v0.5h2v-1.5h2v1.5h2v-2h2v1h2v1h2v-1.5h2v1.5h2h2v0.5h2h2v-2h2v1h2v0.5h2h2v-0.5h2v1h2v-2.5h2v2.5h2v-1h2h2v0.5h2h2v0.5h2h2v-1.5h2h2v1h2v-0.5h2v1h2v-1.5h2v-2h2v2h2v1h2v-3h2v3.5h2v-2h2v-0.5h2v1.5h2v-1h2h2v1h2v0.5h2v-2.5h2v3h2v-1h2h2v0.5h2v-0.5h2v1h2v-1.5h2v1h2v-1h2v-0.5h2v1.5h2v-2.5h2v2h2v-2h2v3h2v-1.5h2v1h2h2v0.5h2v-2.5h2v2.5h2v-1.5h2v1.5h2v-0.5h2h2h2h2h2h2v-1h2v0.5h2v-1.5h2v1h2v1.5h2v-1.5h2h2v-2.5h2v3h2h2v1h2v-0.5h2v-1.5h2v2h2v-1.5h2v1.5h2v-1h2v-0.5h2h2v0.5h2v-1h2v-0.5h2v1.5h2v-3h2v3h2v0.5h2v-1h2v1h2h2h2v-1h2h2v1h2v-0.5h2h2v-0.5h2v-1h2v1.5h2h2v0.5h2v-0.5h2v-1.5h2v1.5h2v0.5h2v-3h2v3.5h2v-0.5h2v-1.5h2h2v1h2v-0.5h2v-1h2v1h2v1.5h2v-1.5h2v1.5h2v-1h2v-2h2v2.5h2h2v0.5h2h2v-1.5h2v0.5h2h2v1h2h2v-0.5h2v-1.5h2v0.5h2v-1h2h2v1.5h2h2v1h2v-1.5h2v0.5h2v1h2v-2h2v1h2v0.5h2h2v-2h2v2h2v-0.5h2h2v-0.5h2v1.5h2v-3h2v-3h2v1h2v-1.5h2h2v-3.5h2h2v0.5h2v-1h2v-5h2v-49.5h2v27h2v28h2v-2h2v0.5h2v4h2v-3.5h2v1.5h2v-2.5h2v2h2v-2h2v5h2v-16h2v-10h2v21h2v1h2v-2h2v1.5h2v0.5h2v3h2v-2.5h2h2v-0.5h2h2v2h2v-5h2v4h2v-0.5h2v-1h2v2h2h2v-1h2v2h2v-6h2v2.5h2h2v1.5h2h2v-1h2v3h2v-5h2v-1h2v4.5h2v-1.5h2v0.5h2v1.5h2v1h2v-1h2h2v-0.5h2v0.5h2v-4h2v-0.5h2v2.5h2v-1h2v1h2v-2h2v0.5h2v2.5h2v-1h2v-2.5h2h2v-1.5h2v0.5h2v-4.5h2v-8h2v17.5h2v-3.5h2v2h2v1.5h2v-2h2v-3.5h2v0.5h2v-1h2v4.5h2v1h2v-2h2v0.5h2v-5.5h2v7.5h2v-1.5h2v-2.5h2v1h2v-4h2v2.5h2v2.5h2v1.5h2v-4h2v3h2v-4h2v1h2v1h2v1.5h2v-0.5h2v-4h2v-0.5h2h2v4h2v-3h2v-1.5h2v6h2v-3h2v3.5h2v-4.5h2v-1h2v3.5h2v-49.5h2v21.5h2v28.5h2h2h2v0.5h2h2v-2.5h2v1h2v0.5h2v-3.5h2v6h2v-0.5h2h2v-6h2v-1h2v2h2v-0.5h2v1.5h2v1h2v-9.5h2v5.5h2v3h2v-3h2v2.5h2v-1.5h2v1.5h2v4.5h2v1h2v-2.5h2v2h2v2.5h2h2v4.5h2v2.5h2v0.5h2v-1h2v1.5h2v-1h2v-0.5h2v0.5h2h2v-1.5h2v2.5h2v-0.5h2v-1h2v1h2v0.5h2v-1h2v0.5h2v-1.5h2v1h2v-0.5h2h2h2v1.5h2v-1h2v0.5h2h2h2h2h2h2v-1h2v0.5h2v-1h2v1h2h2v0.5h2v0.5h2v-2h2v2h2v-1h2v-0.5h2v0.5h2v-0.5h2v-2h2v0.5h2v2.5h2h2v-2.5h2v3h2v-1h2h2v0.5h2v-0.5h2h2v-0.5h2v0.5h2v0.5h2h2h2v-1h2v0.5h2v-1h2v1h2v0.5h2v-1.5h2v0.5h2h2v1h2h2v-1h2v0.5h2h2v-0.5h2h2h2v-1.5h2v2.5h2h2v-0.5h2v0.5h2v-0.5h2h2v-0.5h2v1.5h2v-0.5h2v0.5h2v-0.5h2v0.5h2v-1.5h2v-1h2v2.5h2v-0.5h2h2v0.5h2h2v-1h2v0.5h2v-0.5h2v-2.5h2v2h2v1h2v-0.5h2v-0.5h2v1.5h2v-1h2v-2h2v2h2v1h2v-1.5h2v1h2v-1h2v-3.5h2v4.5h2v-1.5h2v2h2h2v-1h2v-0.5h2v1.5h2v-0.5h2v-2.5h2v2.5h2h2v-0.5h2v-1h2v1h2v1h2v-0.5h2h2h2h2h2v-0.5h2v-1h2v1h2h2v-1.5h2v0.5h2v1h2h2h2v-0.5h2v0.5h2v-0.5h2v0.5h2v1h2h2v-2h2v1.5h2v-0.5h2v0.5h2v-2h2h2v1h2v1h2h2v-2.5h2v1h2h2v-4h2v-3.5h2v-12.5h2v-3.5h2v2.5h2v-14h2v-10h2v-8h2v2h2v15h2v-17.5h2v-5.5h2v12h2v7.5h2v1h2v-13.5h2v-54h2h2h2h2h2h2h2h2h2h2h2v47.5h2v5.5h2v3.5h2v-1h2v12h2v-4h2v13.5h2v-3h2v11.5h2v-13h2v16.5h2v-12h2v5.5h2v1.5h2v10.5h2v-1h2v-3.5h2v3.5h2v2.5h2v-3.5h2v6h2v-4h2v0.5h2v3h2v-1h2v1h2v3.5h2h2v-3h2v3h2v-1h2v2h2v-2h2v-0.5h2v2.5h2v-1h2h2h2h2v1h2v-1h2v2h2v-0.5h2v1h2v-1h2h2v1.5h2h2v0.5h2v-0.5h2v1h2h2v-1h2v0.5h2v1h2v-1h2v1h2v-0.5h2v0.5h2h2h2h2v0.5h2v-0.5h2v0.5h2v0.5h2v-0.5h2v0.5h2h2h2v-2h2v2h2h2h2v0.5h2v-1.5h2v1h2v-0.5h2v0.5h2h2v1h2v-1h2v0.5h2v-1h2h2v1h2v-0.5h2h2v0.5h2h2h2h2v-0.5h2h2h2v1h2v-0.5h2h2v-0.5h2v-0.5h2v-2h2v2.5h2h2v-1.5h2v1.5h2v-0.5h2v0.5h2v0.5h2v-1h2h2v-0.5h2v1h2v-3h2v3.5h2v-1h2v1.5h2v-0.5h2h2h2h2v-0.5h2v-1h2v1h2v0.5h2v-3h2v3h2v0.5h2h2v-0.5h2h2h2v-2h2h2v-1.5h2v-2.5h2v5h2v-1.5h2v0.5h2v-0.5h2v1.5h2h2v1h2v-1h2v0.5h2v-1h2v2h2v-1h2v-2.5h2v3h2v-1h2v1.5h2v-0.5h2h2v-1.5h2v1h2v0.5h2v-2h2v1.5h2v0.5h2v-1h2v0.5h2v1h2v-2h2v-4h2v5.5h2v-0.5h2v-0.5h2v1h2h2h2h2h2v-0.5h2v0.5h2h2v0.5h2v-1.5h2h2h2v1.5h2v-1h2v1h2v-1h2v0.5h2v-1.5h2v1.5h2h2v-1h2v0.5h2v1h2v-2.5h2v-13h2v5h2v9h2v-0.5h2v1.5h2v-1h2v0.5h1.5v1Z" fill="#a965bd" fill-opacity="0.75"/>
<path d="M72.5 1375.5v-0.5h2v-0.5h2v0.5h2h2v-0.5h2v0.5h2h2h2v-0.5h2v0.5h2v-0.5h2v0.5h2h2h2v0.5h2v-0.5h2h2v0.5h2v-0.5h2v0.5h2h2v-0.5h2v-0.5h2v0.5h2h2v0.5h2h2v-0.5h2v0.5h2h2v-0.5h2h2h2v-0.5h2v1h2h2v-0.5h2h2h2h2h2v0.5h2h2v-0.5h2h2h2v0.5h2h2v-0.5h2h2h2v0.5h2h2v-1h2v0.5h2v0.5h2v-0.5h2h2v-1h2v1.5h2v-0.5h2v-0.5h2h2v1h2v-0.5h2h2v0.5h2v-0.5h2v-1h2v1h2v0.5h2h2h2v-1h2v0.5h2v0.5h2v-0.5h2h2v0.5h2h2v-2h2v1h2h2v0.5h2v0.5h2h2h2v-1.5h2v1h2v-0.5h2v0.5h2h2h2v0.5h2v-1.5h2v1h2v0.5h2v-0.5h2h2h2h2v0.5h2h2h2v-1h2v0.5h2h2h2h2h2h2h2h2v-1.5h2v2h2h2v-0.5h2v0.5h2h2h2v-2h2v2h2h2v-2h2v2h2v-2.5h2v2h2v-1h2v1h2h2h2h2h2h2h2h2v0.5h2v-0.5h2v-1h2v1.5h2v-0.5h2v-0.5h2v0.5h2v-0.5h2v1h2v-0.5h2h2h2v-0.5h2v0.5h2h2v0.5h2v-1.5h2v0.5h2v0.5h2h2h2v-0.5h2v-0.5h2v0.5h2v0.5h2v-0.5h2h2v0.5h2v-0.5h2v0.5h2h2v0.5h2v-0.5h2v0.5h2h2v-0.5h2h2h2h2h2v-0.5h2h2h2v0.5h2h2h2h2v0.5h2v-1h2v1h2v-1h2h2h2v-1h2v2h2h2v-1h2v1h2h2v-0.5h2h2h2h2h2v0.5h2v-0.5h2h2h2v-0.5h2v1h2h2v-1h2v0.5h2v-0.5h2v1h2v-0.5h2h2v0.5h2h2v-1h2v1h2h2v-0.5h2v-0.5h2v1h2h2v-0.5h2h2h2v-0.5h2h2v0.5h2v-1h2v1h2v-0.5h2v0.5h2h2v0.5h2h2v-0.5h2v-0.5h2v0.5h2h2h2v-0.5h2v0.5h2h2h2h2v0.5h2h2v-0.5h2v-0.5h2v0.5h2h2v0.5h2h2v-1h2v1h2v-2h2v2h2h2v-0.5h2v-0.5h2v0.5h2v-0.5h2v1h2v-1h2h2h2v0.5h2h2v0.5h2h2h2h2h2v-0.5h2h2h2h2h2h2h2v0.5h2h2h2v-0.5h2h2v-0.5h2v0.5h2h2v0.5h2v-0.5h2h2v-0.5h2v0.5h2h2h2v0.5h2v-0.5h2v0.5h2v-1.5h2v1h2v0.5h2h2v-0.5h2h2v-0.5h2v1h2v-1h2v1h2h2h2h2v-0.5h2v0.5h2h2v-0.5h2h2h2v0.5h2v-1.5h2v1h2h2h2h2v0.5h2v-1.5h2v1h2h2v0.5h2v-0.5h2v-1h2h2v1h2v0.5h2v-1h2v1h2h2v-0.5h2v0.5h2h2v-1h2v1h2v-1h2v-1h2v1.5h2v-0.5h2h2v1h2v-1h2v1h2v-0.5h2v-0.5h2v1h2h2h2v-1h2v1h2v-1h2v1h2v-0.5h2h2v0.5h2v-0.5h2v0.5h2v-0.5h2h2v0.5h2h2v-0.5h2v0.5h2v-0.5h2h2h2v-0.5h2v1h2v-1h2v1h2v-0.5h2v-1h2v1h2h2v0.5h2v-1.5h2v1.5h2v-0.5h2v-0.5h2v0.5h2h2h2v0.5h2v-1.5h2v1h2h2v0.5h2v-0.5h2h2v-1h2v1h2h2v0.5h2h2v-0.5h2v0.5h2v-1h2h2v1h2v-0.5h2v-0.5h2v0.5h2h2h2h2v0.5h2v-0.5h2h2v0.5h2h2h2v-0.5h2v-0.5h2v0.5h2v0.5h2h2v-0.5h2v-1h2h2h2v1h2v-2.5h2v3h2v-0.5h2v-0.5h2v0.5h2h2v0.5h2v-0.5h2v0.5h2h2h2v-0.5h2h2v0.5h2v-0.5h2h2h2v0.5h2h2v-1h2v1h2v-0.5h2h2v0.5h2v-0.5h2h2h2v0.5h2v-0.5h2h2v0.5h2v-0.5h2v-0.5h2h2h2v0.5h2h2h2h2h2h2v-0.5h2v0.5h2v0.5h2v-1h2v0.5h2h2h2h2h2v0.5h2v-0.5h2v0.5h2h2v-0.5h2v-1h2v1.5h2v-0.5h2h2v-0.5h2v0.5h2h2v0.5h2v-1h2v1h2v-0.5h2h2h2v0.5h2v-0.5h2v-0.5h2v-0.5h2v1h2v-0.5h2v0.5h2h2h2h2h2v-0.5h2v1h2h2h2v-0.5h2h2h2h2v0.5h2v-0.5h2v-0.5h2v1h2h2v-1h2h2v1h2v-0.5h2v0.5h2h2h2h2v-0.5h2v0.5h2v-0.5h2h2h2v0.5h2h2v-1.5h2v-3.5h2v-3h2v-1h2v-3.5h2v-6h2v2.5h2v-13.5h2v10.5h2v-1h2v-8.5h2v9.5h2v-17.5h2v-7h2v8.5h2v-26h2v-4h2v-8h2v-5.5h2v7.5h2v7.5h2v11.5h2v-56h2h2h2h2v58.5h2v-8h2v-5.5h2v25h2h2v-6h2v4.5h2v1.5h2v13.5h2v-4h2h2v3h2v2h2v1.5h2v3.5h2v1h2v4h2v0.5h2v-0.5h2v4h2v-1.5h2v-1.5h2v-2.5h2v1.5h2v4.5h2v-3.5h2v2.5h2v-3.5h2v-0.5h2v1.5h2h2v2h2v-0.5h2v-3h2v1h2v1.5h2v1h2v2.5h2v-1h2h2v-1h2v-3.5h2v2.5h2v2h2v1h2v-1.5h2v-3h2v3h2v-2.5h2h2v4h2v-2.5h2v-2h2v3h2v2.5h2v-5h2h2v2.5h2v0.5h2v2h2v-2h2v2h2v2h2v-2h2v0.5h2v3h2v1.5h2v-6.5h2v-16h2v-83.5h2v49.5h2v41.5h2v12.5h2v3.5h2v0.5h2h2v-0.5h2v0.5h2h2v-2.5h2v-14h2v-9.5h2v22.5h2v3.5h2h2v-0.5h2v1h2h2v-1h2v1h2h2h2v-1h2v1h2v-1h2v0.5h2v-0.5h2v0.5h2v-1h2v1h2v-0.5h2v1h2h2v-1h2v1h2v-0.5h2v0.5h2v-0.5h2v-1h2v1h2h2h2v0.5h2v-2h2v2h2v-1h2v-4.5h2v-12h2v-73h2v37.5h2v42h2v7.5h2v2.5h2v0.5h2v-1.5h2v-9.5h2v-7h2v-9.5h2v4h2v1.5h2v-9.5h2v-65h2v48h2v23h2v0.5h2v-14.5h2v-1h2v11h2v22h2v8h2v-0.5h2v0.5h2v-0.5h2h2h2v-1.5h2v1h2v1h2v-1h2v0.5h2h2v-0.5h2v1h2v-1h2v0.5h2v0.5h2h2v-0.5h2v-0.5h2v0.5h2v-0.5h2v0.5h2v-0.5h2v1h2v-0.5h2h2h2h2h2v0.5h2v-0.5h2h2v0.5h2h2v-1h2v0.5h2v0.5h2v-1.5h2v1h2h2v0.5h2h2v-0.5h2h2v0.5h2h2h2h2h2v-0.5h2h2h2h2h2v0.5h2v-0.5h2v-0.5h2v0.5h2v-0.5h2v0.5h2h2h2v0.5h2h2v-1h2h2v0.5h2h2v0.5h2v-0.5h2v0.5h2v-0.5h2v0.5h2v-1h2v0.5h2h2v0.5h2h2v-0.5h2v0.5h2v-0.5h2h2v0.5h2v-1h2v0.5h2h2v0.5h2h2v-1h2v1h2h2h2v-0.5h2h2v0.5h2v-1h2v1h2v-1h2v0.5h2h2h2h2h2v0.5h2h2v-0.5h2v-0.5h2h2v-0.5h2v0.5h2v1h2v-0.5h2v-0.5h2h2v0.5h2h2v0.5h2h2v-0.5h2h2v0.5h2v-0.5h2h2h2v-0.5h2v-1h2v1.5h2v-0.5h2v0.5h2h2h2h2h2v-0.5h2v1h2h2h2h2h2v-0.5h2v0.5h2v-0.5h2v0.5h2v-0.5h2v-1.5h2v1.5h2v0.5h2h2v-1.5h2v1h2h2v0.5h2v-0.5h2h2v0.5h2h2h2v-1.5h2v1h2v0.5h2v-0.5h2h2v0.5h2v-1h2v0.5h2h2v-0.5h2v1h2h2v-0.5h2v-0.5h2v1h2h2v-0.5h2v-1.5h2v1.5h2v0.5h2h2v-0.5h2v-0.5h2v-1.5h2v2h2h2v-1h2v1h2h2v-0.5h2v0.5h2v0.5h2v-1h2v1h2v-1h2v0.5h2h2h2h2v0.5h2v-0.5h2h2h2v0.5h2v-0.5h2v0.5h2v-1h2v0.5h2v-0.5h2v0.5h2h2h2h1.5v0.5Z" fill="#4fc6dc" fill-opacity="0.78"/>
<path d="M72.5 1375.5v-1h2v0.5h2v0.5h2v-0.5h2h2v-1h2v1h2h2h2h2v-1.5h2v2h2h2v-1.5h2v1h2v-0.5h2v1h2h2h2v-1h2v0.5h2v-1h2v1.5h2v-1h2h2v0.5h2h2h2v-1h2v0.5h2v-1h2v1.5h2v-0.5h2h2v-0.5h2v1.5h2v-1.5h2v-0.5h2v2h2h2v-3.5h2v2.5h2v0.5h2v-2h2v0.5h2v2h2v-1h2h2v0.5h2h2v-1h2v1h2v-1.5h2v1.5h2v-0.5h2v0.5h2v-1h2v1.5h2v-0.5h2v0.5h2v-0.5h2v-1h2v0.5h2h2v0.5h2v-1h2v0.5h2v0.5h2v-0.5h2v1h2v-2.5h2v1.5h2v0.5h2v0.5h2v-1.5h2v1h2v-0.5h2v0.5h2v0.5h2v-1.5h2v0.5h2v0.5h2h2v0.5h2v-2h2v1h2v0.5h2h2v-0.5h2h2v-0.5h2v1.5h2v-2h2v1h2v-0.5h2v1.5h2h2v-1h2v1h2v-1.5h2h2v1h2v-1.5h2v1.5h2v0.5h2h2v-0.5h2v-0.5h2v-0.5h2v-1.5h2v2h2h2h2v0.5h2v-1h2v-2h2v3.5h2h2v-1h2v0.5h2v-0.5h2v0.5h2v-0.5h2v-0.5h2v-0.5h2v1h2v-0.5h2v0.5h2v0.5h2v-1.5h2v1.5h2v-0.5h2h2h2h2v0.5h2v0.5h2v-0.5h2v-0.5h2v0.5h2v-0.5h2v-0.5h2h2v1h2h2v-1.5h2v1.5h2v0.5h2v-1.5h2v0.5h2v-1h2v1.5h2v-0.5h2h2h2v1h2v-0.5h2v-1h2h2v0.5h2v-1h2v1h2v-1h2v1.5h2h2v-0.5h2v1h2h2v-3.5h2v2h2v1.5h2v-0.5h2v-1h2v1h2v-1.5h2v1h2v0.5h2h2v-0.5h2v-1h2v2h2v-1h2v-2h2v2.5h2v0.5h2v-0.5h2v0.5h2v-0.5h2v0.5h2v-1h2v-1h2v1.5h2v-0.5h2h2v-1h2v1.5h2v0.5h2v-0.5h2v-2.5h2v1.5h2v1.5h2v-1h2v0.5h2v0.5h2v-0.5h2h2v-2.5h2v3h2h2v-0.5h2h2v0.5h2v-0.5h2v-1h2v0.5h2v-2h2v3h2v-1h2v0.5h2v-1h2v1.5h2v-1h2v-1h2v1h2v0.5h2h2v-3h2v3h2h2v-0.5h2h2v0.5h2v-1h2v1.5h2v-2h2v1.5h2v-1.5h2v1.5h2v-0.5h2v0.5h2v-0.5h2h2h2h2v0.5h2h2h2v-0.5h2v-1.5h2v1.5h2v1h2v-1h2v0.5h2v-0.5h2h2v1h2h2v-0.5h2v-0.5h2h2v0.5h2v-0.5h2v0.5h2v-0.5h2v-1h2v1h2v-1h2v2h2h2v-0.5h2v-1h2v0.5h2h2h2h2v1h2v-0.5h2h2v0.5h2v-0.5h2v-0.5h2v0.5h2h2v-0.5h2v0.5h2h2v0.5h2v-0.5h2h2h2h2h2v-0.5h2h2v-0.5h2v-1h2v2h2h2v-0.5h2h2v1h2v-0.5h2h2v0.5h2v-1h2v1h2v-0.5h2v-0.5h2v0.5h2h2h2h2v-0.5h2v-1h2v1h2v0.5h2h2v-3h2v2h2v0.5h2v-1h2v-0.5h2h2v2.5h2v-2.5h2v1.5h2v1h2v-2.5h2v1.5h2v0.5h2v-1h2v1h2h2v-2.5h2v1.5h2h2v1h2h2v-1h2v1.5h2v-1.5h2v1h2h2v0.5h2v-2h2h2v-0.5h2v2h2v-0.5h2v1h2v-1.5h2v1h2v0.5h2v-1.5h2v0.5h2v0.5h2v0.5h2v-1.5h2v0.5h2v-0.5h2v1.5h2v-1h2v0.5h2h2h2v-1h2v0.5h2v1h2v-3h2v2.5h2v-0.5h2v-0.5h2v1h2v0.5h2v-0.5h2v0.5h2v-1h2v-4h2v3.5h2v0.5h2h2v1h2v-2h2v-0.5h2v-1h2v2.5h2v-1h2v1h2v0.5h2v-0.5h2v0.5h2v0.5h2v-1.5h2v0.5h2v0.5h2v-1h2h2v1h2v0.5h2v-0.5h2h2v-0.5h2v-0.5h2v1h2v-0.5h2v-0.5h2v1h2v-0.5h2v1h2v-1h2v0.5h2v-1h2v1h2v-0.5h2v1h2v-0.5h2v-1h2v1.5h2v-1h2h2h2v-1h2v1.5h2v-0.5h2v-1h2v-0.5h2v2h2h2v0.5h2v-1h2v0.5h2v-1h2v1h2h2v-0.5h2v0.5h2v0.5h2v-1h2v-1h2v2h2v-0.5h2v0.5h2h2v-2.5h2v2.5h2v-0.5h2h2h2v-0.5h2v0.5h2h2v0.5h2v-1.5h2v1.5h2v-1.5h2v1.5h2v-1.5h2v-2.5h2v4h2v-1h2v-0.5h2v1.5h2h2v-1h2v0.5h2h2h2h2h2h2v-1h2v1h2v-1h2v0.5h2v1h2v-1h2v0.5h2v-1.5h2v1.5h2v-1h2v1.5h2v-1h2v-1.5h2v1.5h2v0.5h2v-2h2v1.5h2v-1h2v1.5h2v-0.5h2v0.5h2v-0.5h2v0.5h2h2v-1.5h2v1.5h2h2v-1h2v1h2h2h2h2v-0.5h2v0.5h2v-0.5h2h2v1h2v-0.5h2h2h2v0.5h2v-1h2v1h2v-1h2v-0.5h2v1.5h2v-1h2h2v1h2h2v-0.5h2v-2h2v1.5h2v-3h2v-7h2v-22h2v-25.5h2v45h2v-0.5h2v-3.5h2v1h2v5h2v-7.5h2v7.5h2v-1.5h2v-3.5h2v2h2v2h2v-3.5h2v2h2v-4.5h2v-1h2v8.5h2v-1.5h2v1.5h2v-8h2v1h2v1.5h2v-2h2v4.5h2v-3.5h2v2.5h2v0.5h2v-0.5h2v-0.5h2v3h2v-91h2h2h2h2v88.5h2v-1h2v1.5h2v2h2v3.5h2v2h2v2h2v-2h2v0.5h2h2v-1h2v3h2h2v-1.5h2v-1h2h2v0.5h2v1.5h2v-1h2v-0.5h2v2.5h2v-2.5h2v1h2v0.5h2v-2h2v2h2v1h2v-1h2v-0.5h2v-0.5h2v1h2v-1h2v0.5h2v1h2v-2.5h2v1.5h2v-1.5h2h2v-0.5h2v0.5h2h2v1h2h2v0.5h2v1.5h2v-1.5h2v-1h2v1h2v0.5h2v-2h2v2.5h2v-2.5h2v2h2v-0.5h2v1.5h2h2v-3h2v2.5h2v-0.5h2v-1.5h2v1.5h2v-0.5h2h2v-0.5h2h2v-0.5h2v-0.5h2v0.5h2v1h2v-3.5h2v-23.5h2v15h2v14h2v1h2v1.5h2v1h2v-3h2v2h2v-1h2v0.5h2v1h2v0.5h2v-1.5h2h2v1h2v0.5h2v-1.5h2v1.5h2v-1h2v-1h2v1.5h2h2v-1h2v1.5h2h2v-1h2v0.5h2v-0.5h2v-0.5h2v1h2v-1h2v1.5h2v-2h2v2h2v-0.5h2v-0.5h2v-0.5h2v-0.5h2v1.5h2v-0.5h2v1h2v-1h2v-0.5h2v1.5h2v-1h2v-1.5h2v1h2v-8.5h2v-19.5h2v15h2v13h2h2v1.5h2v-0.5h2v0.5h2v-0.5h2v-1.5h2v0.5h2v-1.5h2v-2h2v-13.5h2v-43h2v28.5h2v21.5h2v-4h2v-1h2v1.5h2v-10.5h2v6h2v-6h2v6.5h2v-3h2v2.5h2v2h2v-6h2v3.5h2v1h2h2v-5.5h2v5h2v-1h2v7h2v-2h2v3h2v3.5h2v1h2v4h2v0.5h2v2h2h2v1h2v-1.5h2h2v1h2h2v-0.5h2h2h2v1h2v-0.5h2v-4h2v4h2v1h2v-1h2v1h2v-1h2v-1h2v1h2v0.5h2v-1h2v0.5h2v0.5h2h2v-0.5h2h2v-10h2v-10.5h2v15.5h2v5h2h2v-1h2v1.5h2v0.5h2v-1h2v-1.5h2v1h2v1.5h2v-3h2v2.5h2v-0.5h2v0.5h2v-1.5h2v2h2v-2.5h2v2h2v-0.5h2h2v0.5h2v-0.5h2v0.5h2v-0.5h2v0.5h2h2v0.5h2v-0.5h2h2v-0.5h2v0.5h2h2v-0.5h2v1h2v-0.5h2v-1.5h2v2h2v-4.5h2v3h2v1h2v-0.5h2v0.5h2h2v-2h2v2h2h2h2h2h2h2h2h2v0.5h2v-1h2h2v-2.5h2v3.5h2h2v-4h2v4h2v-0.5h2v-0.5h2h2v1h2v-1.5h2v0.5h2v-0.5h2h2v1h2v0.5h2v-3h2v3h2v-0.5h2h2v0.5h2v-1.5h2v0.5h2v0.5h2h2v-0.5h2v1h2v-0.5h2v-0.5h2v0.5h2v-2h2v2h2v0.5h2v-0.5h2h2v0.5h2v-1.5h2v1h2v-0.5h2h2v0.5h2v-0.5h2h2v-0.5h2v1.5h2v-1.5h2h2v0.5h2v0.5h2v-0.5h2v-0.5h2v0.5h2h2v0.5h2v0.5h2v-0.5h2v-1.5h2v0.5h2v1.5h2v-1h2v0.5h2v-1h2h2v1h2v-0.5h2v1h2v-2.5h2v1.5h2v0.5h2v-2.5h2v2h2v-0.5h2v0.5h2v0.5h2v-2.5h2v1.5h2v0.5h2v-1h2v2h2v-1h2h2v0.5h2h2v-1h2v1h2h2v-0.5h2h2v-0.5h2v1h2v-1h2h2v0.5h2v0.5h2h2v-0.5h2v0.5h2v0.5h2v-1.5h2v1h2v-0.5h2v1h2v-1h2h2v0.5h2h2h2v0.5h2v-2.5h1.5v2.5Z" fill="#3c3f98" fill-opacity="0.85"/>
<line x1="72.7" y1="1375.6" x2="1892" y2="1375.6" stroke="#4a4a8a" stroke-width="1.4" />
<rect x="838.4" y="1259" width="16.9" height="129.6" fill="none" stroke="#111" stroke-width="1.6"/>
<rect x="1322" y="1259" width="17" height="129.6" fill="none" stroke="#111" stroke-width="1.6"/>
<rect x="1420.7" y="1259" width="16.7" height="129.6" fill="none" stroke="#111" stroke-width="1.6"/>
<text x="64" y="1429.3" font-size="17.5" fill="#111" text-anchor="end" textLength="46.8" lengthAdjust="spacingAndGlyphs" xml:space="preserve">250 _</text>
<text x="179.6" y="1421.4" font-size="17.5" textLength="85.6" lengthAdjust="spacingAndGlyphs">100 bases</text>
<line x1="271" y1="1417.5" x2="408.6" y2="1417.5" stroke="#111" stroke-width="1.8" /><line x1="271" y1="1413" x2="271" y2="1422" stroke="#111" stroke-width="1.8" /><line x1="408.6" y1="1413" x2="408.6" y2="1422" stroke="#111" stroke-width="1.8" />
<text x="413.6" y="1421.4" font-size="17.5" textLength="42" lengthAdjust="spacingAndGlyphs">mm9</text>
<path d="M65 1496v-9h1.5v0.5h1.5h1.5h1.5v-1h1.5v1h1.5h1.5h1.5h1.5h1.5v0.5h1.5v-1.5h1.5v0.5h1.5v0.5h1.5v-1.5h1.5v1h1.5v-0.5h1.5h1.5v0.5h1.5v-1.5h1.5v0.5h1.5v-0.5h1.5v0.5h1.5h1.5v1h1.5v-1h1.5v1h1.5v-1h1.5h1.5h1.5h1.5v-0.5h1.5v0.5h1.5h1.5h1.5h1.5v-1h1.5v0.5h1.5v-0.5h1.5v-0.5h1.5v1h1.5v-0.5h1.5v0.5h1.5v1h1.5v-1h1.5h1.5h1.5h1.5v0.5h1.5v-1.5h1.5v1.5h1.5v-1h1.5v-0.5h1.5h1.5v1h1.5v-0.5h1.5v0.5h1.5v-1.5h1.5v0.5h1.5v-0.5h1.5v-0.5h1.5v1h1.5v0.5h1.5h1.5v-1h1.5v1h1.5v-1h1.5v0.5h1.5h1.5v-0.5h1.5v-0.5h1.5v1h1.5v-0.5h1.5v-0.5h1.5v0.5h1.5v-0.5h1.5v0.5h1.5v-1h1.5v1h1.5v-1h1.5v0.5h1.5v-1h1.5v1.5h1.5v-0.5h1.5h1.5v-1h1.5v1h1.5v-0.5h1.5v0.5h1.5v-1h1.5v0.5h1.5v0.5h1.5v-1.5h1.5v0.5h1.5v-0.5h1.5v0.5h1.5h1.5v0.5h1.5v-1h1.5v-0.5h1.5v0.5h1.5h1.5h1.5v-0.5h1.5v0.5h1.5v-0.5h1.5h1.5h1.5v-0.5h1.5v-0.5h1.5v0.5h1.5v-0.5h1.5h1.5h1.5v-0.5h1.5v0.5h1.5v0.5h1.5v-1.5h1.5v1h1.5v-0.5h1.5v0.5h1.5v-1h1.5v-0.5h1.5v0.5h1.5v-0.5h1.5v-0.5h1.5v0.5h1.5h1.5v-0.5h1.5v-0.5h1.5v-1h1.5v0.5h1.5v-1h1.5v-0.5h1.5v0.5h1.5v-1h1.5v1.5h1.5v-1h1.5h1.5v-0.5h1.5v-0.5h1.5v0.5h1.5v-1h1.5v0.5h1.5h1.5h1.5v-0.5h1.5v-0.5h1.5v0.5h1.5v-1h1.5v-0.5h1.5h1.5v1h1.5v-1h1.5v-0.5h1.5v-1h1.5h1.5v-0.5h1.5v-7h1.5v-2.5h1.5v-2h1.5v0.5h1.5h1.5v-2.5h1.5v2h1.5v-2h1.5v-0.5h1.5v1h1.5h1.5h1.5h1.5h1.5v-0.5h1.5v-0.5h1.5v1h1.5v-1.5h1.5v1h1.5v0.5h1.5v-1h1.5v1h1.5h1.5v-0.5h1.5h1.5v0.5h1.5h1.5v-0.5h1.5v1h1.5h1.5v-0.5h1.5v0.5h1.5h1.5v-1.5h1.5v2h1.5v-2h1.5v1h1.5h1.5v1h1.5h1.5v0.5h1.5v-1.5h1.5v2.5h1.5h1.5v-1h1.5v2h1.5v-0.5h1.5v0.5h1.5v1h1.5h1.5v1h1.5h1.5v0.5h1.5h1.5v1.5h1.5v0.5h1.5h1.5v0.5h1.5v0.5h1.5v2h1.5v-0.5h1.5v0.5h1.5v1h1.5h1.5h1.5v1h1.5v1h1.5v0.5h1.5v1h1.5v1h1.5h1.5v0.5h1.5v1h1.5h1.5h1.5v0.5h1.5h1.5v-0.5h1.5h1.5h1.5h1.5v1h1.5v-0.5h1.5h1.5h1.5v1.5h1.5v-1h1.5v0.5h1.5h1.5v-0.5h1.5v1h1.5h1.5v0.5h1.5h1.5v-1h1.5v1h1.5h1.5h1.5v-0.5h1.5h1.5v1h1.5h1.5v-0.5h1.5v1.5h1.5v-0.5h1.5v-0.5h1.5v1.5h1.5v-1.5h1.5v0.5h1.5h1.5v1h1.5v-0.5h1.5v0.5h1.5h1.5v-0.5h1.5v0.5h1.5v-0.5h1.5v1h1.5v-1h1.5h1.5v1h1.5v-0.5h1.5v1h1.5h1.5v-1.5h1.5v1h1.5h1.5v1h1.5v-1h1.5h1.5h1.5h1.5h1.5v0.5h1.5v-0.5h1.5h1.5v1h1.5v-0.5h1.5v-0.5h1.5h1.5v0.5h1.5v-0.5h1.5h1.5v1.5h1.5v-0.5h1.5v-0.5h1.5v0.5h1.5v-0.5h1.5v0.5h1.5v1h1.5v-1h1.5h1.5v-0.5h1.5v1h1.5h1.5h1.5v-1h1.5v1h1.5h1.5v0.5h1.5h1.5v-0.5h1.5v1h1.5v-0.5h1.5v-1h1.5h1.5v1h1.5h1.5v-0.5h1.5h1.5v1h1.5h1.5h1.5h1.5h1.5v-0.5h1.5v1h1.5h1.5v0.5h1.5v-0.5h1.5v-0.5h1.5v0.5h1.5h1.5v-1h1.5v1h1.5v-0.5h1.5v0.5h1.5h1.5h1.5h1.5v-0.5h1.5v1h1.5v-0.5h1.5h1.5v1h1.5h1.5v-0.5h1.5v1h1.5v-0.5h1.5v-0.5h1.5v-0.5h1.5h1.5v1h1.5v-1h1.5v1.5h1.5v-0.5h1.5v-0.5h1.5v1h1.5v-0.5h1v11Z" fill="#74288a" />
<text x="64" y="1494" font-size="17.5" fill="#111" text-anchor="end" textLength="26" lengthAdjust="spacingAndGlyphs" xml:space="preserve">0 _</text>
<text x="64" y="1525.6" font-size="17.5" fill="#111" text-anchor="end" textLength="46.8" lengthAdjust="spacingAndGlyphs" xml:space="preserve">100 _</text>
<text x="64" y="1588.6" font-size="17.5" fill="#111" text-anchor="end" textLength="26" lengthAdjust="spacingAndGlyphs" xml:space="preserve">0 _</text>
<text x="64" y="1597.2" font-size="17.5" fill="#111" text-anchor="end" textLength="26" lengthAdjust="spacingAndGlyphs" xml:space="preserve">0 _</text>
<text x="64" y="1663" font-size="17.5" fill="#111" text-anchor="end" textLength="53.6" lengthAdjust="spacingAndGlyphs" xml:space="preserve">-100 _</text>
<path d="M65 1589.5v-2.5h3.5v2h3.5v0.5h3.5v-2h3.5v2h3.5h3.5h3.5h3.5v-0.5h3.5h3.5h3.5v0.5h3.5h3.5v-1h3.5v-1h3.5v2h3.5h3.5h3.5h3.5h3.5h3.5h3.5h3.5h3.5h3.5h3.5h3.5h3.5h3.5h3.5h3.5h3.5h3.5h3.5h3.5h3.5h3.5h3.5h3.5v-4h3.5v4h3.5h3.5h3.5v-5.5h3.5v5h3.5v-2h3.5v2.5h3.5h3.5v-4h3.5v3.5h3.5v-4.5h3.5v-4h3.5v9h3.5h3.5v-1.5h3.5v-7.5h3.5v6.5h3.5h3.5v-6h3.5v7h3.5v-2h3.5v-4h3.5v-13h3.5v17.5h3.5v-19h3.5v21.5h3.5v-9h3.5v-10h3.5v-44.5h3.5v48.5h3.5v4h3.5v11h3.5v-2.5h3.5v3h3.5v-2h3.5h3.5v2h3.5v-5h3.5v5h3.5v-3h3.5v3h3.5v-1.5h3.5v0.5h3.5v1h3.5h3.5v-0.5h3.5v-11h3.5v-5.5h3.5v16.5h3.5v-0.5h3.5v-0.5h3.5v-2h3.5v-2.5h3.5v-6h3.5v11h3.5v1h3.5v-3.5h3.5v-2h3.5v-7.5h3.5v11.5h3.5v-0.5h3.5v-3h3.5v-5.5h3.5v9.5h3.5v-3.5h3.5v4.5h3.5v-5.5h3.5v5h3.5v-11h3.5v5h3.5h3.5v6h3.5h3.5v-0.5h3.5v-2.5h3.5v2.5h3.5v0.5h3.5v-0.5h3.5v1h3.5v-2h3.5v-0.5h3.5v-1.5h3.5v3.5h3.5v-2h3.5v2h3.5v-1h3.5v0.5h3.5v1h3.5v-1h3.5v0.5h3.5h3.5h3.5v-1.5h3.5v2h3.5h3.5v-2h3.5v1.5h3.5h3.5h3.5v0.5h3.5h3.5h3.5v-0.5h3.5v0.5h3.5h3.5v-0.5h3.5v-0.5h3.5v1h3.5h3.5v-0.5h3.5v0.5h3.5v-3h3.5v3h3.5h3.5v-1.5h3.5v1.5h3.5v-1h3.5v1h0.5Z" fill="#74288a" />
<path d="M65 1598h3.5h3.5v0.5h3.5h3.5v-0.5h3.5v2h3.5v-1.5h3.5h3.5h3.5v0.5h3.5v-0.5h3.5v-0.5h3.5h3.5v0.5h3.5v-0.5h3.5h3.5v1.5h3.5v-1.5h3.5v1h3.5v-0.5h3.5v0.5h3.5v-0.5h3.5v0.5h3.5h3.5v-0.5h3.5h3.5v-0.5h3.5h3.5v1h3.5h3.5h3.5v-0.5h3.5v0.5h3.5v-1h3.5h3.5h3.5v0.5h3.5v-0.5h3.5v3h3.5v-3h3.5v1h3.5v-1h3.5v1.5h3.5v-1h3.5v-0.5h3.5v0.5h3.5h3.5h3.5v0.5h3.5v-1h3.5v0.5h3.5v2.5h3.5v-2.5h3.5v4h3.5v9.5h3.5v-3.5h3.5v-9h3.5h3.5v12h3.5v-11h3.5v-0.5h3.5v5h3.5v-5h3.5v-2h3.5v2h3.5v10h3.5v-7.5h3.5v-4h3.5h3.5v2h3.5v0.5h3.5v0.5h3.5v3.5h3.5v-6h3.5v-0.5h3.5v-0.5h3.5h3.5v1.5h3.5v0.5h3.5v-2h3.5h3.5v3.5h3.5h3.5v10.5h3.5v-3h3.5v-7.5h3.5v-3h3.5h3.5v8.5h3.5v-7.5h3.5v-0.5h3.5v17.5h3.5v11h3.5v-22h3.5v14.5h3.5v6h3.5v-8h3.5v-14h3.5h3.5v13h3.5v-15.5h3.5v-3.5h3.5v0.5h3.5h3.5v1.5h3.5v-1.5h3.5h3.5v4.5h3.5v9h3.5v-11.5h3.5v0.5h3.5v-2h3.5v7h3.5v-3.5h3.5v3.5h3.5v-6h3.5v-1h3.5h3.5v-1h3.5v3.5h3.5v-3h3.5v-0.5h3.5h3.5h3.5v2.5h3.5h3.5v-1h3.5h3.5v0.5h3.5v-0.5h3.5v-1.5h3.5v1.5h3.5v0.5h3.5h3.5v-1h3.5h3.5v-1h3.5h3.5v0.5h3.5v3h3.5v-3h3.5v0.5h3.5v1.5h3.5v-1.5h3.5v-0.5h3.5h3.5v-0.5h3.5v0.5h3.5v0.5h3.5v-0.5h3.5v-0.5h3.5h3.5v0.5h3.5v0.5h3.5v0.5h3.5v-1.5h3.5h3.5v1.5h0.5v-1.5Z" fill="#a877bd" />
<line x1="64.8" y1="1589.6" x2="615" y2="1589.6" stroke="#74288a" stroke-width="1.2" stroke-dasharray="5 3"/>
<line x1="64.8" y1="1598.2" x2="615" y2="1598.2" stroke="#a877bd" stroke-width="1.2" stroke-dasharray="5 3"/>
<text x="730" y="1427.3" font-size="17.5" fill="#111" text-anchor="end" textLength="46.8" lengthAdjust="spacingAndGlyphs" xml:space="preserve">300 _</text>
<text x="855.3" y="1421" font-size="17.5" textLength="86.7" lengthAdjust="spacingAndGlyphs">100 bases</text>
<line x1="943" y1="1418.3" x2="1060" y2="1418.3" stroke="#777" stroke-width="1.2" /><line x1="943" y1="1413.8" x2="943" y2="1422.8" stroke="#777" stroke-width="1.2" /><line x1="1060" y1="1413.8" x2="1060" y2="1422.8" stroke="#777" stroke-width="1.2" />
<text x="1065" y="1421" font-size="17.5" textLength="42" lengthAdjust="spacingAndGlyphs">mm9</text>
<path d="M736 1494v-17h1.5v-0.5h1.5h1.5h1.5v0.5h1.5v-0.5h1.5v-0.5h1.5v-1h1.5v0.5h1.5v-0.5h1.5v1h1.5v-2h1.5v1h1.5v-0.5h1.5v0.5h1.5v-1.5h1.5v1h1.5h1.5h1.5h1.5h1.5v-0.5h1.5v-0.5h1.5h1.5h1.5h1.5v1.5h1.5v-1.5h1.5v0.5h1.5v-0.5h1.5v0.5h1.5v-0.5h1.5v-1.5h1.5v1h1.5v-1h1.5h1.5v1.5h1.5v-0.5h1.5v-1h1.5h1.5v0.5h1.5v-1h1.5v2.5h1.5h1.5v0.5h1.5v0.5h1.5v0.5h1.5h1.5v-1h1.5h1.5v-1h1.5v1h1.5v-1h1.5h1.5v-1h1.5h1.5v-0.5h1.5v-0.5h1.5v-0.5h1.5v1h1.5v-1h1.5h1.5v-0.5h1.5v-0.5h1.5h1.5h1.5v-0.5h1.5v-1h1.5h1.5h1.5v-0.5h1.5v0.5h1.5v-0.5h1.5v0.5h1.5v-1.5h1.5v-0.5h1.5v1.5h1.5v-2.5h1.5h1.5h1.5h1.5h1.5v0.5h1.5v0.5h1.5v-1h1.5v0.5h1.5v-0.5h1.5v1h1.5v-1h1.5v2h1.5v-2h1.5v1.5h1.5h1.5v-0.5h1.5v1.5h1.5v-1h1.5v1.5h1.5v-1.5h1.5h1.5v-1.5h1.5v0.5h1.5h1.5v-1h1.5h1.5v-0.5h1.5h1.5v-0.5h1.5v1.5h1.5v-2.5h1.5v0.5h1.5v-0.5h1.5v-0.5h1.5h1.5v-1h1.5v-0.5h1.5h1.5v-1h1.5v1h1.5v-1h1.5v-1.5h1.5v0.5h1.5v0.5h1.5v-1.5h1.5h1.5v-0.5h1.5v-0.5h1.5v-1.5h1.5h1.5v-0.5h1.5h1.5v-1h1.5v-1h1.5v0.5h1.5v-1h1.5v-0.5h1.5v-0.5h1.5h1.5v-1h1.5v-0.5h1.5h1.5v-1h1.5v-1.5h1.5v-1h1.5v1h1.5h1.5v-2.5h1.5v-0.5h1.5h1.5h1.5v-0.5h1.5v-1h1.5v0.5h1.5v1h1.5v-1.5h1.5v1h1.5v-1h1.5h1.5v0.5h1.5v-0.5h1.5v-1h1.5v1.5h1.5v-0.5h1.5v0.5h1.5v-1.5h1.5v1h1.5v-0.5h1.5v1h1.5v-2h1.5h1.5v0.5h1.5v-0.5h1.5v0.5h1.5h1.5v-1.5h1.5v0.5h1.5v0.5h1.5h1.5v-1h1.5v-0.5h1.5v-2h1.5v-2h1.5v0.5h1.5v-0.5h1.5v0.5h1.5v-0.5h1.5v0.5h1.5v-1.5h1.5v1h1.5h1.5h1.5v-0.5h1.5v1h1.5v-1h1.5h1.5v0.5h1.5h1.5h1.5v-0.5h1.5h1.5v0.5h1.5v-0.5h1.5v-0.5h1.5v0.5h1.5v-1h1.5v0.5h1.5h1.5v0.5h1.5v-0.5h1.5v-0.5h1.5v1.5h1.5v-1.5h1.5v0.5h1.5v0.5h1.5v-1h1.5h1.5v1h1.5v-0.5h1.5v-0.5h1.5h1.5h1.5v1.5h1.5v-2h1.5v0.5h1.5v0.5h1.5v-1h1.5h1.5h1.5v0.5h1.5v-0.5h1.5v1h1.5v-1h1.5v0.5h1.5v-0.5h1.5v1h1.5v-1h1.5v0.5h1.5v1.5h1.5h1.5v1h1.5v0.5h1.5v1h1.5h1.5v1h1.5v0.5h1.5h1.5v1h1.5v1h1.5v1h1.5v0.5h1.5v0.5h1.5v1.5h1.5v1.5h1.5v1.5h1.5v2h1.5h1.5v2.5h1.5v1h1.5v1.5h1.5v1h1.5v1.5h1.5v1.5h1.5v2h1.5v0.5h1.5v-0.5h1.5v1.5h1.5v-0.5h1.5v1h1.5v-1h1.5v1h1.5h1.5v0.5h1.5v0.5h1.5v1h1.5h1.5v-0.5h1.5v1h1.5v-0.5h1.5v0.5h1.5v2h1.5v-0.5h1.5v1h1.5h1.5v0.5h1.5v-0.5h1.5v2.5h1.5v2h1.5v1h1.5v0.5h1.5v1.5h1.5v0.5h1.5v2h1.5v0.5h1.5v0.5h1.5v2h1.5v0.5h1.5v2h1.5h1.5h1.5h1.5v-1h1.5v1.5h1.5v-1h1.5v0.5h1.5v-1h1.5v-1h1.5v1h1.5v-0.5h1.5h1.5v-0.5h1.5h1.5h1.5h1.5v-0.5h1.5h1.5v-0.5h1.5v-0.5h1.5v1h1.5v0.5h1.5v-0.5h1.5v-1h1.5v0.5h1.5v0.5h1.5h1.5h1.5h1.5v0.5h1.5v-1.5h1.5v0.5h1.5v0.5h1.5v1h1.5v-0.5h1.5h1.5v-1h1.5v0.5h1.5h1.5h1.5v-0.5h1.5v1.5h1.5v-1h1.5v-0.5h1.5v1h1.5v0.5h1.5v-1.5h1.5v1.5h1.5v-1h1.5v-0.5h1.5v1h1.5v-0.5h1.5v1h1.5v-0.5h1.5h1.5v-0.5h1.5h1.5v1h1.5h1.5v-1h1.5v1h1.5h1.5v-0.5h1.5v0.5h1.5v1v10.5Z" fill="#2ba1c1" />
<text x="730" y="1492" font-size="17.5" fill="#111" text-anchor="end" textLength="26" lengthAdjust="spacingAndGlyphs" xml:space="preserve">0 _</text>
<text x="730" y="1527.5" font-size="17.5" fill="#111" text-anchor="end" textLength="46.8" lengthAdjust="spacingAndGlyphs" xml:space="preserve">280 _</text>
<text x="730" y="1589.4" font-size="17.5" fill="#111" text-anchor="end" textLength="26" lengthAdjust="spacingAndGlyphs" xml:space="preserve">0 _</text>
<text x="730" y="1597" font-size="17.5" fill="#111" text-anchor="end" textLength="26" lengthAdjust="spacingAndGlyphs" xml:space="preserve">0 _</text>
<text x="730" y="1662" font-size="17.5" fill="#111" text-anchor="end" textLength="53.6" lengthAdjust="spacingAndGlyphs" xml:space="preserve">-280 _</text>
<path d="M736 1590.5v-4h2v-5h2v3.5h2v4.5h2v-0.5h2v0.5h2v1h2v-0.5h2v0.5h2h2v-3h2v2.5h2h2h2v-0.5h2v-2.5h2h2v-3h2v6.5h2v-1h2v-5.5h2v5h2v0.5h2v-0.5h2v1h2v0.5h2v-1.5h2v-1.5h2v0.5h2v-1h2v-1.5h2v2h2v0.5h2v2.5h2v-3h2v-1h2v1h2h2v1h2v-2h2v-4.5h2v5.5h2v-1.5h2v4.5h2v-3h2v2.5h2v-9h2v3.5h2v5.5h2v-3h2v1.5h2v1.5h2h2v-2.5h2v3h2v-1h2v-1h2v-0.5h2v-12.5h2v8h2v6.5h2v-3.5h2v3h2v-3.5h2v4.5h2v-13h2v12h2v-4h2v4.5h2h2v-4.5h2v-3.5h2v7h2v1h2v0.5h2h2v-2.5h2v-10h2v4h2v3h2v4h2h2v-14h2v6.5h2v8.5h2v-1.5h2v-21.5h2v-14h2v34.5h2v-12h2v-12.5h2v24h2v-6.5h2v-15.5h2v15.5h2v10h2v-7.5h2v-1h2v8h2v-11.5h2v-49h2v40.5h2v19.5h2v1h2v-3.5h2v3.5h2h2h2v-2.5h2v2h2v-2h2h2v-20.5h2v6.5h2v14h2v1.5h2v-2.5h2v3.5h2h2v-3.5h2v3.5h2v-5h2v4.5h2v-10h2v-9.5h2v17h2v1.5h2v-1.5h2v2h2v-2.5h2v2.5h2v-3.5h2v1.5h2v-53h2v20h2v33h2v-6h2v7h2v-3h2v5h2h2v-2h2v-13.5h2v7h2v-0.5h2v8.5h2v-1h2v1.5h2v-1.5h2v-3.5h2v1.5h2v-3.5h2v3h2v-0.5h2v4.5h2h2h2v-3.5h2h2v2.5h2v-0.5h2v1.5h2h2v-1.5h2v-0.5h2v-2h2v-1.5h2v4h2v-0.5h2v1h2v1h2v-2.5h2v1.5h2h2v-4h2v3h2v-7.5h2v6.5h2v1h2v1h2v-3h2v4h2v-1h2h2v-2h2v3h2v-0.5h2h2h2v0.5h2v-2h2v1h2h2v0.5h2v0.5h2v-1h2v-5h2v4.5h2v1h2v-0.5h2v1h2v-4h2v1.5h2v1.5h2h2v-0.5h2v-2h2v2.5h2v-0.5h2v-5h2v4.5h2v2h2v-1h2v0.5h2v-1.5h2v1h2v1h2h2v-0.5h2v-0.5h2v-2.5h2v1.5h2v-0.5h2v-5h2v6h2v1h2h2h2v-1.5h2v-3h2v-5.5h2v8.5h2v1.5h2v-0.5h2v-0.5h2v1h2v0.5h2v-1h2v1h2h2v-1h2v-1.5h2v1.5h2v0.5h2v-2.5h2v0.5h2v-1.5h2v4h2v-2h2v0.5h2v1.5h2h2h2v-2.5h2v2.5h2v-1.5h2v0.5h2v-2.5h2v3h2v-6h2v6h2v0.5h2v-0.5h2v-1h2v1.5h2v-2h2v2h2v-1.5h2v0.5h2v1h2v-0.5v0.5Z" fill="#2ba1c1" />
<path d="M736 1598v3h2v-3h2h2v2h2v0.5h2v-2.5h2h2v1.5h2v-1.5h2v1.5h2v1h2v0.5h2v-3h2v0.5h2v-0.5h2h2h2v0.5h2v7.5h2v-7h2v0.5h2v-1h2v-0.5h2v1.5h2h2v-1h2v2h2v-2.5h2v3.5h2v-3.5h2v1.5h2v-0.5h2v1.5h2v-2.5h2v6h2v12h2v-14h2v-2.5h2v3.5h2v-4.5h2h2v-0.5h2v2h2v2h2v-3.5h2v-0.5h2v3.5h2v-3.5h2v8h2v-8h2h2v1h2h2v0.5h2v0.5h2v0.5h2v3.5h2v-3.5h2v1.5h2v-2h2v-2h2v4.5h2v-4.5h2v3.5h2v-3h2v7h2v7.5h2v-13h2v-2h2h2h2h2v7h2v-1h2v-5.5h2v2h2v-2.5h2h2v2h2v0.5h2v-2h2v-0.5h2v5h2v14.5h2v-14h2v-5.5h2h2v3h2v0.5h2v-2.5h2v-1h2v0.5h2v5h2v-4h2v-1h2h2v3h2v15.5h2v-12h2v-7h2v4.5h2v-4.5h2h2h2v1h2v2h2v-1.5h2v2.5h2v8h2v-9h2v-3h2v3h2v-1.5h2v-1.5h2v2h2v-2h2v6h2v-5.5h2v-0.5h2v4.5h2v15.5h2v-8.5h2v-11h2h2h2v9h2v-5.5h2v-3.5h2v9h2v7.5h2v-15.5h2v4h2v-5.5h2v4.5h2v-4.5h2v0.5h2h2v2.5h2v-1h2v-0.5h2v3h2v4.5h2v-7h2v-0.5h2v-1.5h2v3h2v-1h2v-2h2h2v3h2v-3h2v2h2v6.5h2v11.5h2v-17.5h2v-2.5h2h2v1.5h2v0.5h2v-2h2h2v5h2v-4.5h2v10h2v-6.5h2v-0.5h2v-3.5h2v4.5h2v-1h2v-3.5h2v2.5h2v0.5h2v5h2v-7h2v3.5h2v-3.5h2h2v-1h2v4h2v1.5h2v1h2v-6.5h2v0.5h2v0.5h2v18h2v13.5h2v-16h2v10.5h2v-25h2v18.5h2v-20.5h2v2h2v28h2v-10h2v-18.5h2v12h2v8.5h2v-20.5h2v13.5h2v-14.5h2v3.5h2v-2h2v15h2v-9.5h2v-6.5h2v2.5h2v-2h2v6h2v-2h2v22.5h2v-18.5h2v-2h2v32h2v-25.5h2v-12h2v-0.5h2v4h2v13.5h2v-14h2v2.5h2v-5h2v-0.5h2v3h2v-3.5h2v-1h2v1h2v0.5h2v0.5h2h2v-2h2v0.5h2v2h2v-2.5h2h2v1h2v3h2v0.5h2v-5h2v1h2v-1h2v1h2v3.5h2v-4.5h2h2v3h2v-2.5h2v-0.5h2v3h2v-3h2v4.5h2v-4.5h2h2v0.5h2h2v-0.5h2v2h2v2h2v-0.5h2v-3.5h2h2h2v1h2v1.5h2v-1h2v2.5h2v-3.5h2h2v0.5h2h2v-1h2v1.5v-1.5Z" fill="#93cfe0" />
<line x1="735.8" y1="1590.4" x2="1276" y2="1590.4" stroke="#2ba1c1" stroke-width="1.2" stroke-dasharray="5 3"/>
<line x1="735.8" y1="1598" x2="1276" y2="1598" stroke="#93cfe0" stroke-width="1.2" stroke-dasharray="5 3"/>
<text x="1386" y="1427" font-size="17.5" fill="#111" text-anchor="end" textLength="46.8" lengthAdjust="spacingAndGlyphs" xml:space="preserve">300 _</text>
<text x="1498.6" y="1421" font-size="17.5" textLength="87.8" lengthAdjust="spacingAndGlyphs">200 bases</text>
<line x1="1588" y1="1417" x2="1725.8" y2="1417" stroke="#777" stroke-width="1.2" /><line x1="1588" y1="1412.5" x2="1588" y2="1421.5" stroke="#777" stroke-width="1.2" /><line x1="1725.8" y1="1412.5" x2="1725.8" y2="1421.5" stroke="#777" stroke-width="1.2" />
<text x="1730.8" y="1421" font-size="17.5" textLength="42" lengthAdjust="spacingAndGlyphs">mm9</text>
<path d="M1386.5 1493.5v-5.5h1.5v-0.5h1.5v0.5h1.5v-0.5h1.5h1.5v-0.5h1.5h1.5h1.5h1.5h1.5v-0.5h1.5h1.5v0.5h1.5v-0.5h1.5v0.5h1.5v-0.5h1.5v-1h1.5v0.5h1.5h1.5h1.5h1.5v-0.5h1.5v-0.5h1.5v-0.5h1.5v1h1.5h1.5h1.5v-0.5h1.5h1.5h1.5v0.5h1.5v-1.5h1.5v0.5h1.5v-0.5h1.5v0.5h1.5v-0.5h1.5v1h1.5v-1h1.5v-1h1.5v0.5h1.5h1.5h1.5v0.5h1.5v-1.5h1.5v1h1.5v-0.5h1.5v-0.5h1.5h1.5h1.5h1.5v-1h1.5v1h1.5v-1h1.5v0.5h1.5v-1h1.5v1.5h1.5v-0.5h1.5h1.5h1.5v-0.5h1.5v0.5h1.5v-0.5h1.5v-0.5h1.5v-0.5h1.5v1h1.5v-1h1.5v0.5h1.5h1.5v-0.5h1.5v-1h1.5v-1h1.5v-0.5h1.5v0.5h1.5v-1.5h1.5h1.5v-1h1.5h1.5v-0.5h1.5v-0.5h1.5v-1h1.5v-0.5h1.5v0.5h1.5v-1.5h1.5v0.5h1.5v-1h1.5h1.5v-2h1.5v0.5h1.5v-0.5h1.5h1.5v-1h1.5v-0.5h1.5h1.5v-0.5h1.5v-0.5h1.5v-0.5h1.5v-1.5h1.5v0.5h1.5v-1h1.5v-0.5h1.5v-1h1.5v0.5h1.5v-1.5h1.5v-0.5h1.5v-1h1.5v-1h1.5h1.5v-1.5h1.5v0.5h1.5v-1h1.5h1.5v0.5h1.5v-0.5h1.5v-0.5h1.5h1.5h1.5v1h1.5v-0.5h1.5v-1.5h1.5v0.5h1.5v1h1.5v-0.5h1.5h1.5v-1h1.5v1h1.5v1h1.5v-1h1.5h1.5v1h1.5v-1h1.5v0.5h1.5v-0.5h1.5v-1h1.5h1.5v0.5h1.5v-1h1.5v-0.5h1.5h1.5v-1.5h1.5h1.5v-1h1.5v0.5h1.5v1h1.5v1h1.5h1.5h1.5v0.5h1.5v1h1.5v-0.5h1.5v1h1.5v0.5h1.5v0.5h1.5v0.5h1.5v0.5h1.5v-1h1.5v-1h1.5v-1h1.5v-1h1.5v-2h1.5v-1h1.5v-1h1.5v-1h1.5v0.5h1.5v-1h1.5v0.5h1.5v0.5h1.5h1.5h1.5h1.5h1.5v-0.5h1.5v0.5h1.5h1.5h1.5h1.5h1.5h1.5v-0.5h1.5v-0.5h1.5v0.5h1.5v1h1.5v-0.5h1.5v-0.5h1.5v0.5h1.5h1.5v0.5h1.5v-2h1.5v2h1.5v0.5h1.5v1h1.5v0.5h1.5v3h1.5h1.5v0.5h1.5h1.5v1h1.5h1.5h1.5v1.5h1.5v0.5h1.5v0.5h1.5v1h1.5v1h1.5h1.5v0.5h1.5v1h1.5h1.5v1h1.5v0.5h1.5v1h1.5v0.5h1.5v0.5h1.5v0.5h1.5v0.5h1.5v0.5h1.5v1h1.5v-1.5h1.5v1h1.5v-1h1.5h1.5v0.5h1.5v0.5h1.5v-0.5h1.5h1.5v0.5h1.5v-1h1.5v2h1.5v-1.5h1.5h1.5v1h1.5v-1.5h1.5h1.5v0.5h1.5h1.5v0.5h1.5v-0.5h1.5v1.5h1.5h1.5v-0.5h1.5v0.5h1.5h1.5v-1h1.5v1h1.5v0.5h1.5v-1h1.5v1.5h1.5v-1h1.5v1h1.5v-0.5h1.5v0.5h1.5v0.5h1.5h1.5h1.5h1.5h1.5v0.5h1.5v0.5h1.5h1.5v-0.5h1.5v0.5h1.5h1.5v-0.5h1.5v0.5h1.5v1h1.5v-0.5h1.5v1h1.5v-0.5h1.5h1.5h1.5h1.5v1h1.5v-1h1.5h1.5v0.5h1.5v0.5h1.5v-0.5h1.5h1.5v0.5h1.5h1.5v0.5h1.5h1.5h1.5h1.5v-0.5h1.5v1h1.5v-0.5h1.5h1.5v-0.5h1.5v1.5h1.5v-0.5h1.5h1.5v0.5h1.5v0.5h1.5h1.5h1.5h1.5v0.5h1.5v-1h1.5v1h1.5v0.5h1.5v-1h1.5v1h1.5h1.5v-0.5h1.5v0.5h1.5v0.5h1.5v1h1.5v-0.5h1.5h1.5v1h1.5v-0.5h1.5h1.5v0.5h1.5v0.5h1.5h1.5h1.5h1.5v1h1.5v-1h1.5v1.5h1.5v-0.5h1.5v1h1.5v-0.5h1.5v-0.5h1.5v1.5h1.5h1.5h1.5h1.5v1h1.5v-0.5h1.5v1h1.5v-0.5h1.5v1h1.5v-1h1.5v-0.5h1.5v0.5h1.5v0.5h1.5h1.5h1.5v0.5h1.5h1.5v0.5h1.5v-0.5h1.5v0.5h1.5v0.5h1.5v-1h1.5v1h1.5v-0.5h1.5v1h1.5v-0.5h1.5h1.5h1.5h1.5v0.5h1.5h1.5v1h1.5v-1h1.5v1.5h1.5v-1h1.5h1v6.5Z" fill="#2ba1c1" />
<text x="1386" y="1491.6" font-size="17.5" fill="#111" text-anchor="end" textLength="26" lengthAdjust="spacingAndGlyphs" xml:space="preserve">0 _</text>
<text x="1386" y="1527.5" font-size="17.5" fill="#111" text-anchor="end" textLength="46.8" lengthAdjust="spacingAndGlyphs" xml:space="preserve">200 _</text>
<text x="1386" y="1588.7" font-size="17.5" fill="#111" text-anchor="end" textLength="26" lengthAdjust="spacingAndGlyphs" xml:space="preserve">0 _</text>
<text x="1386" y="1597" font-size="17.5" fill="#111" text-anchor="end" textLength="26" lengthAdjust="spacingAndGlyphs" xml:space="preserve">0 _</text>
<text x="1386" y="1661.3" font-size="17.5" fill="#111" text-anchor="end" textLength="53.6" lengthAdjust="spacingAndGlyphs" xml:space="preserve">-200 _</text>
<path d="M1386.5 1589.5v-0.5h2h2v-0.5h2v0.5h2v-0.5h2v1h2h2v-0.5h2v0.5h2v-0.5h2v-0.5h2v1h2v-0.5h2v-1h2v0.5h2v1h2v-0.5h2v-1h2v1h2v-1h2v1.5h2v-0.5h2v0.5h2h2v-1h2v1h2v-0.5h2v-2h2v2.5h2v-1h2v1h2v-2h2v-1.5h2v3.5h2h2v-0.5h2v0.5h2v-2h2v1.5h2v-0.5h2v0.5h2v-2.5h2v3h2h2v-2h2v1h2v1h2v-10.5h2v7.5h2v3h2v-1h2v-2h2v3h2h2v-4.5h2v3.5h2v-16h2v7h2v7.5h2v-3h2h2v0.5h2v-4.5h2v8.5h2v-0.5h2v1.5h2v-1.5h2v-14h2v8h2v6h2v-3.5h2v-17.5h2v16h2v6.5h2h2v-2.5h2v2h2v-8.5h2v-8.5h2v16h2v1.5h2v-1h2v1h2h2v-3.5h2v2h2v-3h2v4.5h2v-1.5h2v1.5h2v-5.5h2v-9.5h2v12.5h2v1.5h2h2v1h2v-1.5h2h2v1.5h2v-0.5h2v-12.5h2v-22.5h2v29.5h2v5h2v1h2v-1.5h2v-2h2v3.5h2v-2.5h2v2.5h2v-1.5h2v-7.5h2v8h2v-20h2v8h2v6h2v-0.5h2v-49h2v30h2v1h2v15.5h2v10h2v-7h2v5.5h2v-2.5h2v4h2h2v-0.5h2v0.5h2h2v-2.5h2v-24.5h2v11.5h2v15h2v-1.5h2v-1h2v3h2v-5h2v-1h2v-1.5h2v7.5h2v-3.5h2v2.5h2v1h2v-2h2v-4.5h2v6h2v-1.5h2v-15.5h2v-1.5h2v18.5h2v-2h2h2v0.5h2v2h2h2h2h2v-1h2h2v0.5h2v-14h2v-26.5h2v32h2v7.5h2v1.5h2v-3.5h2v3.5h2v-3h2v-7.5h2v9.5h2v-1.5h2v-26.5h2v10.5h2v17h2v1.5h2h2v-0.5h2v-2h2v-2.5h2v-12.5h2v13.5h2v4h2h2v-2h2v1.5h2v0.5h2v-7.5h2v-12h2v16h2v3.5h2v-7.5h2v4.5h2v-6.5h2v7.5h2v2h2h2h2h2v-7.5h2v6h2v1.5h2v-12.5h2v12h2v0.5h2h2v-4.5h2v3.5h2v-0.5h2v-4h2v5.5h2h2v-1.5h2v-15h2v8h2v6h2v-1h2h2v0.5h2v3h2v-1.5h2v-0.5h2v-3.5h2v1h2v1h2v3.5h2h2v-2h2v1.5h2v0.5h2h2h2v-1h2v-0.5h2v0.5h2v1h2h2h2h2v-4h2v4h2h2h2h2v-1h2v0.5h2v-0.5h2v1h2h2v-3h2v3h2h2v-0.5h2h2v-1h2v0.5h2h2v1h2v-0.5h2v-0.5h2v-2.5h2v2h2v0.5h2v0.5h2v0.5h2v-1.5h2v1h2v0.5h2v-0.5h2h1.5v0.5Z" fill="#2ba1c1" />
<path d="M1386.5 1598h2v0.5h2v1h2v-0.5h2v-1h2h2v0.5h2h2h2v-0.5h2h2h2h2h2v0.5h2v0.5h2v-0.5h2v-0.5h2v0.5h2v1.5h2v-1h2h2v-1h2v2h2v-1.5h2v-0.5h2v1h2v-0.5h2v-0.5h2h2v0.5h2h2v1h2v-0.5h2v-1h2v1h2v1h2v-0.5h2v-1h2v-0.5h2v1.5h2v-1.5h2v2h2v-2h2v4h2v-4h2h2v2h2v12.5h2v-5h2v-6h2v-2.5h2v-1h2v1h2v-1h2h2v2h2v-1h2v1h2v-2h2v4.5h2v-4.5h2v4h2v1.5h2v-4.5h2v1h2v2.5h2v-4.5h2v3h2h2v-3h2v1.5h2h2v-1.5h2v0.5h2v2h2v-1.5h2v0.5h2v2h2v-0.5h2v-2.5h2v3.5h2v-2.5h2h2h2v-1.5h2v0.5h2v1h2v-0.5h2v1h2v0.5h2v-2h2v3h2v-2.5h2v3h2v-1.5h2v15.5h2v-6h2v-8h2v-3h2v17.5h2v17.5h2v-30.5h2v-4.5h2v1h2v-2h2h2v3.5h2v1.5h2v1h2v26h2v-19h2v5.5h2v33.5h2v-40.5h2v3h2v27.5h2v-33h2v-8.5h2v1.5h2v-1.5h2v-0.5h2h2h2v1.5h2v1.5h2v-3h2v5h2v2h2v-3.5h2v-3.5h2v1h2v-1h2v4.5h2v-3.5h2v-1h2v2.5h2v-2.5h2v3h2v6h2v14.5h2v-19h2v-3.5h2v6h2v-6h2v0.5h2v-0.5h2v18.5h2v19.5h2v-34h2v-5h2v2.5h2v-2.5h2v1h2h2h2v1h2v2h2v-1h2v17h2v-11h2v-8.5h2h2v1.5h2v-2h2v3h2v-1h2v-2h2v1h2v4h2v12.5h2v-13h2v1.5h2v-6h2h2v3.5h2v3.5h2v0.5h2v-6h2v-1.5h2v2h2v1.5h2v-3h2v0.5h2v2h2v-1.5h2v2h2v8.5h2v-9h2v-1.5h2v4.5h2v-4h2v-2h2v0.5h2v-0.5h2v6h2v8h2v-12h2v2.5h2v-2.5h2v-2h2v1h2v4h2v-4.5h2h2v1.5h2v1.5h2v0.5h2v-3.5h2v1h2v1.5h2v-3h2h2v2h2v-2h2v5h2v-1.5h2v-2.5h2v5h2v-5h2v2h2v1h2v-4h2h2h2v11.5h2v-11h2v2.5h2v-3h2v8h2v-6.5h2v-0.5h2v-1h2h2v1h2v1h2v-1.5h2h2v7.5h2v-7.5h2v-0.5h2v4h2v-4h2v0.5h2v-0.5h2h2v2h2v1h2v-1.5h2h2v0.5h2v-1.5h2h2v3.5h2v-4h2h2v0.5h2v1.5h2v-1h2v-0.5h2v-0.5h2h2v2h2v-2h2v1.5h2v-1h2h2h2v1.5h2v-1.5h1.5v-0.5Z" fill="#93cfe0" />
<line x1="1386.7" y1="1589.7" x2="1926.2" y2="1589.7" stroke="#2ba1c1" stroke-width="1.2" stroke-dasharray="5 3"/>
<line x1="1386.7" y1="1598" x2="1926.2" y2="1598" stroke="#93cfe0" stroke-width="1.2" stroke-dasharray="5 3"/>
<text x="6" y="1776.6" font-size="30" font-weight="bold">f</text>
<text x="546" y="1740" font-size="21" textLength="65.8" lengthAdjust="spacingAndGlyphs">100 kb</text>
<line x1="616" y1="1733.4" x2="1342.3" y2="1733.4" stroke="#111" stroke-width="2.0" /><line x1="616" y1="1726.4" x2="616" y2="1740.4" stroke="#111" stroke-width="2.0" /><line x1="1342.3" y1="1726.4" x2="1342.3" y2="1740.4" stroke="#111" stroke-width="2.0" />
<text x="1360.5" y="1735" font-size="21" textLength="48.5" lengthAdjust="spacingAndGlyphs">mm9</text>
<text x="120.6" y="1780.5" font-size="21.5" fill="#5050a0" textLength="41.4" lengthAdjust="spacingAndGlyphs">Ift57</text>
<line x1="168.2" y1="1772.7" x2="646.4" y2="1772.7" stroke="#4a4aa6" stroke-width="1.6" />
<path d="M172.7 1768.7L176.7 1772.7L172.7 1776.7M186.7 1768.7L190.7 1772.7L186.7 1776.7M200.7 1768.7L204.7 1772.7L200.7 1776.7M214.7 1768.7L218.7 1772.7L214.7 1776.7M228.7 1768.7L232.7 1772.7L228.7 1776.7M242.7 1768.7L246.7 1772.7L242.7 1776.7M256.7 1768.7L260.7 1772.7L256.7 1776.7M270.7 1768.7L274.7 1772.7L270.7 1776.7M284.7 1768.7L288.7 1772.7L284.7 1776.7M298.7 1768.7L302.7 1772.7L298.7 1776.7M312.7 1768.7L316.7 1772.7L312.7 1776.7M326.7 1768.7L330.7 1772.7L326.7 1776.7M340.7 1768.7L344.7 1772.7L340.7 1776.7M354.7 1768.7L358.7 1772.7L354.7 1776.7M368.7 1768.7L372.7 1772.7L368.7 1776.7M382.7 1768.7L386.7 1772.7L382.7 1776.7M396.7 1768.7L400.7 1772.7L396.7 1776.7M410.7 1768.7L414.7 1772.7L410.7 1776.7M424.7 1768.7L428.7 1772.7L424.7 1776.7M438.7 1768.7L442.7 1772.7L438.7 1776.7M452.7 1768.7L456.7 1772.7L452.7 1776.7M466.7 1768.7L470.7 1772.7L466.7 1776.7M480.7 1768.7L484.7 1772.7L480.7 1776.7M494.7 1768.7L498.7 1772.7L494.7 1776.7M508.7 1768.7L512.7 1772.7L508.7 1776.7M522.7 1768.7L526.7 1772.7L522.7 1776.7M536.7 1768.7L540.7 1772.7L536.7 1776.7M550.7 1768.7L554.7 1772.7L550.7 1776.7M564.7 1768.7L568.7 1772.7L564.7 1776.7M578.7 1768.7L582.7 1772.7L578.7 1776.7M592.7 1768.7L596.7 1772.7L592.7 1776.7M606.7 1768.7L610.7 1772.7L606.7 1776.7M620.7 1768.7L624.7 1772.7L620.7 1776.7M634.7 1768.7L638.7 1772.7L634.7 1776.7" fill="none" stroke="#6a6ab8" stroke-width="1.3"/>
<rect x="167.3" y="1760.2" width="1.8" height="24.5" fill="#4a4aa6" />
<rect x="185.7" y="1760.2" width="1.8" height="24.5" fill="#4a4aa6" />
<rect x="194.4" y="1760.2" width="1.8" height="24.5" fill="#4a4aa6" />
<rect x="217.1" y="1760.2" width="1.8" height="24.5" fill="#4a4aa6" />
<rect x="258.4" y="1760.2" width="1.8" height="24.5" fill="#4a4aa6" />
<rect x="439.1" y="1760.2" width="1.8" height="24.5" fill="#4a4aa6" />
<rect x="598.3" y="1760.2" width="1.8" height="24.5" fill="#4a4aa6" />
<rect x="606.1" y="1760.2" width="1.8" height="24.5" fill="#4a4aa6" />
<rect x="616.1" y="1760.2" width="1.8" height="24.5" fill="#4a4aa6" />
<rect x="627.8" y="1760.2" width="1.8" height="24.5" fill="#4a4aa6" />
<rect x="636.5" y="1764.7" width="9.9" height="16" fill="#4a4aa6" />
<text x="1248.3" y="1780.4" font-size="21.5" fill="#d4232a" textLength="53.6" lengthAdjust="spacingAndGlyphs">Cd47</text>
<line x1="1306" y1="1773.4" x2="1711" y2="1773.4" stroke="#4a4aa6" stroke-width="1.6" />
<path d="M1310.5 1769.4L1314.5 1773.4L1310.5 1777.4M1324.5 1769.4L1328.5 1773.4L1324.5 1777.4M1338.5 1769.4L1342.5 1773.4L1338.5 1777.4M1352.5 1769.4L1356.5 1773.4L1352.5 1777.4M1366.5 1769.4L1370.5 1773.4L1366.5 1777.4M1380.5 1769.4L1384.5 1773.4L1380.5 1777.4M1394.5 1769.4L1398.5 1773.4L1394.5 1777.4M1408.5 1769.4L1412.5 1773.4L1408.5 1777.4M1422.5 1769.4L1426.5 1773.4L1422.5 1777.4M1436.5 1769.4L1440.5 1773.4L1436.5 1777.4M1450.5 1769.4L1454.5 1773.4L1450.5 1777.4M1464.5 1769.4L1468.5 1773.4L1464.5 1777.4M1478.5 1769.4L1482.5 1773.4L1478.5 1777.4M1492.5 1769.4L1496.5 1773.4L1492.5 1777.4M1506.5 1769.4L1510.5 1773.4L1506.5 1777.4M1520.5 1769.4L1524.5 1773.4L1520.5 1777.4M1534.5 1769.4L1538.5 1773.4L1534.5 1777.4M1548.5 1769.4L1552.5 1773.4L1548.5 1777.4M1562.5 1769.4L1566.5 1773.4L1562.5 1777.4M1576.5 1769.4L1580.5 1773.4L1576.5 1777.4M1590.5 1769.4L1594.5 1773.4L1590.5 1777.4M1604.5 1769.4L1608.5 1773.4L1604.5 1777.4M1618.5 1769.4L1622.5 1773.4L1618.5 1777.4M1632.5 1769.4L1636.5 1773.4L1632.5 1777.4M1646.5 1769.4L1650.5 1773.4L1646.5 1777.4M1660.5 1769.4L1664.5 1773.4L1660.5 1777.4M1674.5 1769.4L1678.5 1773.4L1674.5 1777.4M1688.5 1769.4L1692.5 1773.4L1688.5 1777.4M1702.5 1769.4L1706.5 1773.4L1702.5 1777.4" fill="none" stroke="#6a6ab8" stroke-width="1.3"/>
<rect x="1305.1" y="1760.9" width="1.8" height="24.5" fill="#4a4aa6" />
<rect x="1392" y="1760.9" width="3" height="24.5" fill="#4a4aa6" />
<rect x="1401.1" y="1760.9" width="1.8" height="24.5" fill="#4a4aa6" />
<rect x="1512.1" y="1760.9" width="1.8" height="24.5" fill="#4a4aa6" />
<rect x="1584.8" y="1760.9" width="1.8" height="24.5" fill="#4a4aa6" />
<rect x="1593.9" y="1760.9" width="1.8" height="24.5" fill="#4a4aa6" />
<rect x="1601.3" y="1760.9" width="1.8" height="24.5" fill="#4a4aa6" />
<rect x="1613.3" y="1760.9" width="1.8" height="24.5" fill="#4a4aa6" />
<rect x="1676.4" y="1760.9" width="1.8" height="24.5" fill="#4a4aa6" />
<rect x="1707.5" y="1760.9" width="3" height="24.5" fill="#4a4aa6" />
<path d="M160.3 1793 171.3 1793 165.8 1803.5Z" fill="#5bb6d9"/>
<path d="M363.9 1793 374.9 1793 369.4 1803.5Z" fill="#5cae70"/>
<path d="M659 1793.5 659 1802.5 671 1798Z" fill="#e06aa8"/>
<path d="M675.5 1793 686.5 1793 681 1803.5Z" fill="#5cae70"/>
<path d="M714.7 1793 725.7 1793 720.2 1803.5Z" fill="#5cae70"/>
<path d="M728.5 1793 739.5 1793 734 1803.5Z" fill="#5cae70"/>
<path d="M896.2 1793 907.2 1793 901.7 1803.5Z" fill="#5cae70"/>
<path d="M1185 1793 1196 1793 1190.5 1803.5Z" fill="#5cae70"/>
<path d="M1297.5 1793 1308.5 1793 1303 1803.5Z" fill="#5bb6d9"/>
<path d="M1321 1793.5 1321 1802.5 1333 1798Z" fill="#e06aa8"/>
<path d="M1576 1793.5 1576 1802.5 1564 1798Z" fill="#8a5aaa"/>
<text x="68.8" y="1817" font-size="21" fill="#111" text-anchor="end" textLength="56.2" lengthAdjust="spacingAndGlyphs" xml:space="preserve">250 _</text>
<text x="68.8" y="1933.8" font-size="21" fill="#111" text-anchor="end" textLength="31.2" lengthAdjust="spacingAndGlyphs" xml:space="preserve">0 _</text>
<path d="M70.5 1935.5v-0.5h2v-0.5h2v0.5h2h2h2h2v-0.5h2v0.5h2v-2h2v1.5h2v1h2h2h2v-1h2v-0.5h2v1.5h2v-1h2v1h2v-1h2v-1.5h2v1h2v1h2v-2h2v2h2v-1h2v1.5h2v-0.5h2v-1.5h2v0.5h2v1h2v0.5h2h2v-0.5h2h2v-0.5h2v-3h2v4h2h2v-1h2v0.5h2v-2.5h2v1.5h2v1h2h2v0.5h2v-1h2v0.5h2h2v-2h2v2h2v-0.5h2v0.5h2v-0.5h2v-3.5h2v4.5h2v-1.5h2v1.5h2v-1h2v-0.5h2v0.5h2h2v0.5h2v-0.5h2h2v-1h2v1h2v1h2v-1h2v1h2h2v-0.5h2v-3h2v2.5h2v0.5h2h2v-0.5h2v0.5h2h2v0.5h2v-1h2h2v-2.5h2v3.5h2v-0.5h2h2v0.5h2v-0.5h2v0.5h2v-1.5h2v0.5h2v1h2v-0.5h2h2v0.5h2v-0.5h2v-2.5h2v2h2v1h2v-1h2v0.5h2h2v0.5h2v-1h2h2v-0.5h2h2v0.5h2v-1h2v-1h2v3h2v-1h2h2v1h2v-0.5h2h2v-0.5h2v1h2v-1.5h2h2v0.5h2h2v-1h2v-0.5h2v1.5h2v-2.5h2v2h2v1h2v-1.5h2v1h2v-1h2v1h2v0.5h2v0.5h2v-0.5h2v-0.5h2v-0.5h2v1h2v0.5h2v-1.5h2v0.5h2v1h2v-0.5h2v-2h2v0.5h2v1.5h2v0.5h2v-1h2v0.5h2v0.5h2v-1.5h2v-0.5h2v2h2v-0.5h2v-1h2v0.5h2v1h2h2v-0.5h2h2h2v0.5h2v-0.5h2v-0.5h2v0.5h2v-1.5h2v1h2v-2h2v2.5h2v0.5h2v-0.5h2v0.5h2h2v-0.5h2v-1.5h2v1h2v0.5h2v-0.5h2h2v-2h2v2.5h2h2v-1h2v1h2v-1h2v-0.5h2v1h2h2h2h2v0.5h2v-0.5h2v0.5h2v-0.5h2h2v0.5h2h2v0.5h2v-1.5h2v0.5h2h2h2h2v1h2v-0.5h2v-0.5h2v-1h2v1h2v-1h2v1h2v1h2h2v-1h2v0.5h2h2v-0.5h2v1h2v-0.5h2v-1.5h2v-0.5h2v1.5h2v-1.5h2v2h2v-1h2v1.5h2v-0.5h2h2v0.5h2v-2.5h2v2h2v-0.5h2v0.5h2h2h2v-2h2v1h2h2v0.5h2h2h2v-1.5h2v2.5h2v-1h2v0.5h2v-2.5h2v0.5h2v1h2v0.5h2v0.5h2v-1h2v1h2v-1.5h2v1.5h2v-1h2v0.5h2v0.5h2v-1h2v1.5h2v-0.5h2h2h2v-0.5h2v-0.5h2h2v1.5h2h2v-2h2v2h2v-2h2v-1.5h2v3h2v-0.5h2v1h2v-2.5h2h2v2h2v-1h2v1.5h2h2v-2h2v1h2v0.5h2v-1h2v-3h2v-4h2v-2h2v3h2v1.5h2v3.5h2v-0.5h2v0.5h2v-6h2v-12h2v-37.5h2v-49.5h2v79.5h2v12h2v10.5h2v4h2v1h2v-1h2h2v-1h2v1.5h2h2v1h2v-1.5h2v-0.5h2v0.5h2v1h2v0.5h2v-1h2v-1.5h2v2.5h2v-0.5h2h2h2v-0.5h2v1h2v-1h2h2v-1h2v0.5h2v-1.5h2v2h2v1h2h2v-1.5h2h2v1.5h2v-0.5h2v-1h2v1.5h2v-3h2v2h2v-4h2v5h2v-2.5h2v1.5h2v1h2v-1h2h2v-0.5h2v1.5h2v-2h2v1h2v0.5h2h2v-0.5h2v0.5h2v-1h2v0.5h2v0.5h2h2v-1h2v1h2v-0.5h2v-0.5h2v0.5h2h2h2v-1h2v1h2v-1h2v0.5h2v1.5h2v-2.5h2v1h2h2v1h2h2v-1.5h2v0.5h2v0.5h2v1h2h2v-1h2v-0.5h2h2v0.5h2v0.5h2v-1.5h2v0.5h2v1h2h2v-1h2v0.5h2h2h2v0.5h2v0.5h2v-1h2v-0.5h2v0.5h2v-0.5h2v-2h2v3.5h2v-2h2v1h2v0.5h2v-0.5h2v1h2v-1h2v0.5h2v0.5h2v-0.5h2h2h2v-0.5h2v-2h2v2h2v1h2v-0.5h2v-0.5h2v-0.5h2v1h2v-1.5h2v-0.5h2v2h2v-0.5h2v1h2h2v-0.5h2v-3h2v3.5h2v-1.5h2h2v-0.5h2h2v2h2v-1h2v0.5h2v-0.5h2h2v0.5h2h2h2h2v-1h2v1.5h2v-1.5h2v0.5h2h2h2v-0.5h2v1h2v0.5h2h2v-0.5h2v-3h2v3h2h2h2h2h2v-1.5h2v2h2v-0.5h2v-3h2v2.5h2v-1.5h2v2h2v-0.5h2v0.5h2v-2h2v2.5h2v-0.5h2v-0.5h2v1h2v-1h2v0.5h2v-3.5h2v3.5h2v-1h2v1.5h2h2v-0.5h2v-1.5h2v2h2h2v-2.5h2v1.5h2v1h2v-0.5h2h2h2h2v0.5h2v-0.5h2v-0.5h2v0.5h2h2v-2h2v2h2h2v-1.5h2v1.5h2v0.5h2h2v-3h2v2h2v1h2v-1h2v-1.5h2v1.5h2h2h2v1h2v-2h2v1h2v-1h2v1.5h2v-1.5h2v0.5h2v1h2h2h2v-0.5h2h2v0.5h2v-0.5h2v1h2v-3h2h2v2.5h2h2h2v-2.5h2v2.5h2v-0.5h2v1h2v-2h2v1h2h2v0.5h2v-1h2v1h2v-0.5h2v1h2v-1h2v0.5h2h2v-1h2v1h2h2v0.5h2v-1h2h2v1h2v-1h2v-0.5h2v1h2v-1h2v0.5h2v-0.5h2v1h2h2v-1h2h2h2v0.5h2v0.5h2h2h2v-2.5h2v3h2v-1.5h2v1h2h2h2v-0.5h2v0.5h2v0.5h2v-0.5h2v-1.5h2v0.5h2v1.5h2v-0.5h2v0.5h2v-1h2h2h2v0.5h2v-0.5h2v-2h2v2.5h2v-0.5h2v-0.5h2v1.5h2h2v-0.5h2v-1h2v1h2h2v-0.5h2h2v0.5h2h2v-0.5h2v0.5h2v-0.5h2v-2h2v3h2v-1h2v0.5h2v-0.5h2h2v0.5h2v-1.5h2v2h2v-2.5h2v1.5h2v0.5h2h2v-1.5h2v0.5h2v-1.5h2v2.5h2v-2h2v1h2v1h2v-1h2v-2.5h2v4h2v-0.5h2h2h2v-1h2v1.5h2v-0.5h2v-1h2v0.5h2v-0.5h2v-2h2h2v-1.5h2h2v-2.5h2h2v2h2v-1.5h2v-1h2v1h2v0.5h2v-2h2v3h2v-0.5h2v-2h2v1h2v-1.5h2v3.5h2h2v-3.5h2v1h2v2h2v-3.5h2v1.5h2v-2h2v3h2v-0.5h2v-0.5h2v2h2v-4h2v1.5h2v-1h2v2.5h2v-3.5h2v1.5h2v1h2v0.5h2v0.5h2v-3h2v2h2v-1.5h2v0.5h2h2h2v1.5h2v-3.5h2v4h2v-3h2v2.5h2v-2.5h2v-0.5h2v1h2v2.5h2v-4h2v-0.5h2v4.5h2v-4h2v0.5h2v1.5h2v-1.5h2v3h2v-4h2v2h2v-2.5h2v1h2v2.5h2v0.5h2v1h2v-5h2v3h2v-3h2h2v1h2v-1.5h2v3h2v-1h2h2v-2h2v-0.5h2v-2.5h2v6.5h2v-3.5h2v0.5h2v-1h2v2.5h2v-6h2v3h2v3h2v-2.5h2v-3.5h2v-2h2v3.5h2v-6h2h2v7h2v-0.5h2v-7.5h2v4h2v-8h2v9h2v-1.5h2v-9.5h2v-2h2v1h2v8.5h2v-6.5h2v-2.5h2v-8h2v5h2v-8h2v10h2v-8h2v-2h2v-12.5h2v-15h2v9.5h2v-20.5h2v26.5h2v-55.5h2h2h2h2h2h2h2h2v36.5h2v-18h2v7.5h2v32h2v9h2v-6h2v11h2v8.5h2v-5.5h2v15.5h2v-7h2v11h2v-4.5h2h2v-1h2v2h2v4.5h2v-7.5h2v3.5h2v-1.5h2v4.5h2v-5h2v5.5h2v2h2v-2.5h2v1h2v-5.5h2v0.5h2v6h2v-2.5h2v-2h2v1h2v4h2h2v-3.5h2v2.5h2v-2h2v4.5h2v-3h2v1h2v2h2v-3h2v1h2v-1h2v3.5h2v-0.5h2v1.5h2v-6.5h2v-13h2v17h2v4h2v-2.5h2v-1h2v2.5h2h2v0.5h2v0.5h2v1h2v0.5h2v1h2v-0.5h2h2v-1h2v0.5h2v1.5h2v-1.5h2v0.5h2v-1.5h2v1.5h2v0.5h2v-1h2v0.5h2v-0.5h2v1h2v-1.5h2v0.5h2v-0.5h2v2h2v-1h2v0.5h2v-0.5h2v0.5h2v-1h2v-0.5h2v2h2v-2h2h2v1h2v-0.5h2v1.5h2v-0.5h2v-1h2h2h2v0.5h2v1h2v-1h2v1h2v-1h2v-0.5h2h2h2v1h2v-0.5h2v-0.5h2v0.5h2v1h2v-1.5h2v1.5h2v-1.5h2h2h2h2h2v2h2v-2h2v1h2v-1h2v1h2h2v0.5h2h2v-1.5h2v1.5h2v-0.5h2v-0.5h2v1h2h2v-0.5h2v1h2v-1h2v-1h2v2h2v-1h2v0.5h2h2h2v0.5h2v-2h2v1h2v-1h2v1.5h2h2v-1h2v-0.5h2v1.5h2h2v-0.5h2v1h2v-1.5h2v0.5h2h1v3.5Z" fill="#a965bd" fill-opacity="0.75"/>
<path d="M70.5 1935.5h2v-0.5h2v-0.5h2h2v1h2v-0.5h2v-1.5h2h2v2h2v-1h2v0.5h2h2h2v-0.5h2v-1h2v0.5h2v1.5h2v-1h2v0.5h2h2v0.5h2v-0.5h2v-2.5h2v-0.5h2v3h2v-1h2v1.5h2v-0.5h2v0.5h2v-1h2v0.5h2v-1h2h2h2v1h2h2h2h2v-0.5h2v0.5h2v0.5h2v-0.5h2v0.5h2h2v-0.5h2v-2h2v-4.5h2v-21h2v-17h2v35.5h2v6h2v2.5h2v1h2v-0.5h2h2h2h2v-0.5h2v0.5h2v-0.5h2v-1h2h2v1h2v1h2v-1h2v-0.5h2h2h2v0.5h2v1h2h2v-2.5h2v0.5h2v1h2v1h2v-0.5h2v0.5h2v-1.5h2v0.5h2v0.5h2v-1h2v0.5h2v0.5h2h2v-0.5h2v1h2v-1h2v0.5h2h2v0.5h2v-0.5h2v-0.5h2v-0.5h2h2v0.5h2v0.5h2v-0.5h2v-1.5h2v2h2h2h2v-0.5h2v0.5h2v0.5h2v-0.5h2v-1h2v0.5h2v-1h2v2h2h2h2v-1.5h2v0.5h2v1h2v-0.5h2h2h2v-1h2h2h2v1h2h2v-0.5h2v-0.5h2v1h2v0.5h2v-1h2v0.5h2v-1.5h2v0.5h2v0.5h2h2h2v0.5h2v-1h2h2v1.5h2h2v-0.5h2v-1h2v1h2h2h2h2v0.5h2v-1h2v1h2v-1.5h2v-11.5h2v-12.5h2v17h2v8h2h2v-1.5h2v1.5h2v0.5h2v-0.5h2h2v0.5h2v-1h2v-0.5h2v1h2v-3.5h2v3.5h2v-0.5h2v1h2v-0.5h2v-2h2v2.5h2v-1h2h2h2v0.5h2h2v-0.5h2v1h2h2v-0.5h2v-0.5h2v0.5h2v-0.5h2v0.5h2v-1h2v0.5h2h2v-0.5h2v1.5h2v-0.5h2v-0.5h2v0.5h2v-0.5h2v-1.5h2v1.5h2v0.5h2v-3h2v2h2v0.5h2v1h2v-0.5h2v-0.5h2h2v0.5h2v0.5h2v-0.5h2h2v-0.5h2h2v-0.5h2v0.5h2v-0.5h2h2v0.5h2h2v1h2v-1.5h2v-0.5h2v2h2v-2h2v1.5h2v0.5h2h2v-1.5h2v1h2v0.5h2v-1.5h2v0.5h2v0.5h2h2v-1.5h2v1h2h2v1h2h2v-0.5h2v-0.5h2h2v1h2h2v-1h2h2h2h2v1h2v-1h2h2v1h2v-1h2v-1h2v1.5h2v-1.5h2v1h2v0.5h2v0.5h2v-1h2h2h2h2v-0.5h2v0.5h2v0.5h2v-0.5h2v-1h2v-1h2v2h2v1h2v-0.5h2h2v-1h2v-1.5h2v2.5h2v0.5h2v-3h2v2.5h2v0.5h2v-1h2v0.5h2v0.5h2v-0.5h2v-0.5h2h2v0.5h2v-0.5h2v1h2h2v-1.5h2v1.5h2h2v-0.5h2h2v0.5h2v-1h2v1h2v-0.5h2h2h2v-0.5h2h2v-2h2v2.5h2v-1h2v0.5h2v-1.5h2v-2h2v-2.5h2v-15h2v-31h2v34h2v7h2v-1.5h2v5h2v-2.5h2v1.5h2v-26h2v10.5h2v14h2v1.5h2v0.5h2v-5h2v5h2v-4h2v4.5h2v-1h2v-1.5h2v-1.5h2v-5h2v-19.5h2v26h2v0.5h2v0.5h2v-0.5h2v1.5h2v-22h2v-22h2v43h2v1h2v-4h2v4h2v2h2v2.5h2v2.5h2v1.5h2h2v-0.5h2v-1h2v1.5h2v-1h2v1h2v0.5h2v-1.5h2v1.5h2v-0.5h2h2v-0.5h2v-1h2v-0.5h2v1.5h2v0.5h2v0.5h2v-1.5h2v1.5h2v-2h2v2h2v-0.5h2h2h2v0.5h2v-3.5h2v2.5h2v-0.5h2v0.5h2v1h2v-1h2v0.5h2v-1h2v1h2v-0.5h2v0.5h2h2h2v0.5h2v-0.5h2h2h2v-0.5h2v-0.5h2v1h2v-1.5h2v2h2v-1.5h2v-0.5h2v1.5h2v0.5h2v-0.5h2h2v-1h2v1h2v0.5h2v-0.5h2v0.5h2v-1.5h2v1.5h2h2v-0.5h2v-3.5h2v3.5h2h2h2h2v-0.5h2v0.5h2v-0.5h2h2v-1.5h2v-4h2v-9h2v-33.5h2v24.5h2v14.5h2v5.5h2v3.5h2v-0.5h2v0.5h2v1h2v-1h2v0.5h2h2h2v0.5h2v-0.5h2v-0.5h2v1h2v-1h2h2v0.5h2h2h2v-0.5h2v0.5h2h2v-2h2v2.5h2v-6.5h2v-13h2v10h2v8.5h2v1h2h2h2v-1.5h2v1h2v-1.5h2v0.5h2v1.5h2v-0.5h2h2h2h2v0.5h2v-0.5h2v-0.5h2v0.5h2h2v0.5h2v-0.5h2v0.5h2v-1h2v0.5h2h2h2v-0.5h2v1h2v-0.5h2v0.5h2h2v-0.5h2v-0.5h2v1h2v-0.5h2h2v-1.5h2h2v0.5h2v1h2v0.5h2v-0.5h2v-1h2v0.5h2v0.5h2h2v-1h2v1h2h2h2v0.5h2v-2h2v1.5h2h2v-1h2v0.5h2v0.5h2h2v-1.5h2v1h2v-0.5h2v1.5h2v-0.5h2v-0.5h2v-1.5h2v2.5h2h2v-1h2v1h2v-0.5h2v-1.5h2v1.5h2v-1h2v1h2v0.5h2v-1h2v0.5h2v-0.5h2v0.5h2h2v-0.5h2h2v-1h2v1h2v1h2v-0.5h2v-0.5h2v1h2h2v-0.5h2v-2h2v1h2v1h2h2v-1.5h2v1h2h2v1h2v-0.5h2v-1.5h2v1.5h2v-0.5h2v1h2v-0.5h2v0.5h2v-0.5h2v-0.5h2h2v-1h2v-1.5h2v-2h2v-0.5h2v-1h2v1h2v-14h2v-28h2v2h2v-61.5h2v62.5h2v4h2v0.5h2v22.5h2v6.5h2h2v-0.5h2v1h2v2h2v1h2v-15h2v-12.5h2v25h2v-1h2v2h2v-4.5h2v5.5h2v-2h2v0.5h2v-2h2v-1h2v-3.5h2v2h2v-26h2v19.5h2v5.5h2h2v-1h2v-1.5h2v-6h2v2h2v4.5h2v-9h2v1h2v6h2v2.5h2v-4h2v-41.5h2v34h2v0.5h2v11.5h2v-6h2v-2.5h2v-53.5h2v39.5h2v17.5h2v-20h2v-3.5h2v-44h2v24h2v-1.5h2v15.5h2v-27.5h2v7h2v-36h2h2h2h2h2v61.5h2v-8.5h2v-9.5h2v-0.5h2v-28.5h2v21.5h2v2.5h2v1h2v26h2v-18.5h2v-3.5h2v-2.5h2v24.5h2v20h2v7h2v4h2v5h2v4h2v0.5h2v-0.5h2v1.5h2v-1h2v-0.5h2v1.5h2v-1.5h2v1.5h2v-1h2v1h2v0.5h2v-0.5h2v-0.5h2h2v-1h2v1.5h2v-1h2h2h2v1.5h2v-0.5h2v-3h2v3h2v0.5h2v-1.5h2v1h2h2v-1h2v1.5h2v-1.5h2v1.5h2h2h2v-1h2h2v0.5h2h2v-0.5h2v1h2v-0.5h2h2h2h2v-0.5h2h2v0.5h2h2v-0.5h2v0.5h2h2h2v-0.5h2v0.5h2v-1.5h2v1.5h2h2v-2h2v1h2h2v1.5h2v-0.5h2v-0.5h2v1h2v-1h2v0.5h2v0.5h2v-3h2v3h2v-0.5h2v-0.5h2v1h2v-0.5h2v0.5h2v-2h2v2h2h2v-4h2v3.5h2h2h2v0.5h2v-1h2h2v1h2v-1h2v0.5h2v-0.5h2v0.5h2h2v-1h2v0.5h2v0.5h2v0.5h2v-0.5h2h2h2h2h2v0.5h2v-0.5h2v-1h2v1.5h2v-1.5h2v-0.5h2v0.5h2v0.5h2v0.5h2v0.5h2v-0.5h2v-0.5h2v0.5h2v-0.5h2v0.5h2v-0.5h2v0.5h2h2v0.5h2v-0.5h2v-1.5h2v2h2v-1.5h2h2v1h2v-1.5h2v1.5h2h2h2v-0.5h2v-0.5h2v0.5h2v0.5h2v-1.5h2v2h2v-0.5h2v-1h2v0.5h2v0.5h2v0.5h2v-0.5h2v0.5h2v-1.5h2v0.5h2v-0.5h2v0.5h2h2h2v0.5h2v-0.5h2v1h2v-1h2h2v0.5h2v-0.5h2h2v-3.5h2v3h2v1.5h2v-1h2v1h2v-0.5h2v-0.5h2v1h2v-0.5h2v-1.5h2v2h2v-1.5h2v1h2v-2.5h2v2.5h2v0.5h2v-0.5h2v-0.5h2v1h2h2h2v-0.5h2h2v-0.5h2v1h2v-0.5h2h2v0.5h2v-1h2v0.5h2v-0.5h2h2h2v0.5h2h2h2h2h2v0.5h2v-0.5h2h2v0.5h2v-0.5h2v-1h2v-1h2v2.5h2v-0.5h2v-1.5h2v1.5h2h2v-0.5h2h2v1h2v-0.5h2v-0.5h2v0.5h2h2h2h2h2v0.5h2v-1.5h2v1.5h2v-0.5h2h2v-0.5h2v1h2v-2h2v2h2v-1h2h2v-0.5h2v1.5h2v-3h2v2.5h2v-1h2v1h2v-0.5h2v0.5h2v-0.5h2v0.5h2h2h2v-0.5h2v-0.5h2v0.5h2v-0.5h2h2v1h2v-1.5h2v0.5h2v1.5h2v-1h2v-2h2v0.5h2v2.5h2h2v-1h2v-0.5h2v1h2h2v0.5h2h2v-0.5h2v-0.5h2h2v1h2v-0.5h2h2v-1.5h2v1.5h2h2v0.5h2h2v-0.5h2v-2h2v1h2v1.5h1Z" fill="#4fc6dc" fill-opacity="0.78"/>
<path d="M70.5 1935.5v-0.5h2v-0.5h2v1h2v-1.5h2h2v1h2v-0.5h2v1h2v-0.5h2h2v-1.5h2v1.5h2h2h2v-5h2v4h2v1.5h2h2h2v-2h2v1.5h2h2v-1.5h2v1.5h2h2v-2h2v1.5h2h2h2v0.5h2v-1h2v1h2v0.5h2v-0.5h2v-2h2v2h2v-0.5h2h2v1h2v-0.5h2h2h2v-0.5h2h2h2v0.5h2v-2.5h2v-16.5h2v-11h2v25h2v5h2v-1h2v0.5h2v-1.5h2v1.5h2v-0.5h2v1h2h2v-0.5h2v0.5h2h2h2h2v-0.5h2v0.5h2v-1h2v1h2v0.5h2v-1.5h2v1h2h2v0.5h2v-1h2v1h2v-0.5h2v-0.5h2h2v1h2v-0.5h2v0.5h2h2v-0.5h2v0.5h2v-2h2v2h2v-0.5h2v0.5h2v-0.5h2v0.5h2h2h2v-3.5h2v2h2v1h2h2v-0.5h2h2v0.5h2h2h2v-1h2h2v-0.5h2v1.5h2h2v-1h2h2v0.5h2h2v1h2h2v-0.5h2v-0.5h2v-0.5h2v1h2h2v-1.5h2v1.5h2v0.5h2v-0.5h2v-0.5h2v-1h2v2h2v-0.5h2v0.5h2h2v-0.5h2v-0.5h2v-0.5h2v1h2v-0.5h2v-2.5h2v3.5h2v-1h2v-0.5h2v0.5h2v0.5h2v-0.5h2v0.5h2v-0.5h2v1h2v-1h2h2v1h2h2h2v-0.5h2h2v-6.5h2v-6.5h2v9.5h2v1.5h2v2.5h2v-1.5h2v1h2h2v0.5h2v-0.5h2h2v0.5h2v-3.5h2v3.5h2v-1.5h2v1h2h2h2h2v0.5h2h2v-2.5h2v2h2v0.5h2v-0.5h2v-0.5h2v1h2v-0.5h2h2v-0.5h2v0.5h2v-0.5h2v1h2v-0.5h2v-0.5h2h2v-0.5h2v0.5h2v0.5h2v-0.5h2h2v0.5h2v0.5h2v-3h2v2h2v0.5h2v-1h2v0.5h2v0.5h2h2h2v-0.5h2v1h2h2v-0.5h2v-1h2v1.5h2v-0.5h2h2h2h2v-0.5h2v0.5h2v0.5h2v-1h2v0.5h2v0.5h2h2v-0.5h2v-0.5h2h2v0.5h2v-0.5h2v1h2v-1h2v0.5h2v0.5h2v-1h2h2h2v-1h2v1.5h2v0.5h2v-1.5h2v1.5h2h2v-1h2v1h2v-1.5h2v-0.5h2v1.5h2v-0.5h2v1h2h2v-1h2v1h2h2v-0.5h2h2h2v0.5h2v-0.5h2v-0.5h2v0.5h2v-1h2v1h2v0.5h2v-2h2v1h2v0.5h2v-1h2v1h2v0.5h2v-0.5h2h2v0.5h2h2v-0.5h2v0.5h2v-0.5h2h2v-2h2v1.5h2v1h2v-1h2v1h2v-0.5h2v-0.5h2v0.5h2v0.5h2v-0.5h2h2v0.5h2h2v-0.5h2v-0.5h2v1h2v-1.5h2v1.5h2v-1.5h2v-1h2v1.5h2h2v-1h2v-17.5h2v-16h2v25.5h2v7h2v3h2v-0.5h2v0.5h2v-0.5h2h2v-1h2v1.5h2h2h2v-0.5h2h2v0.5h2v-1h2v0.5h2v-2.5h2v3h2h2h2v-0.5h2v-0.5h2v-0.5h2v0.5h2v0.5h2h2v0.5h2v-1.5h2v1h2h2v0.5h2v-1.5h2v1h2h2h2v-0.5h2v-0.5h2v1.5h2h2h2v-1h2v-1.5h2v1h2v1h2v-1h2h2v1h2v-0.5h2h2v-0.5h2v1.5h2h2v-0.5h2h2v0.5h2v-1h2v1h2v-0.5h2h2v0.5h2v-1h2v-1.5h2v2.5h2v-0.5h2h2h2h2v-0.5h2v-0.5h2v1.5h2v-0.5h2h2h2v0.5h2v-0.5h2v0.5h2h2v-0.5h2v0.5h2v-0.5h2v-0.5h2v1h2h2v-0.5h2v-1h2v1.5h2v-0.5h2v0.5h2v-1.5h2v0.5h2v1h2h2v-1h2h2v-0.5h2v1.5h2v-0.5h2v-0.5h2v1h2v-0.5h2v-1.5h2v2h2v-1.5h2v1h2v0.5h2v-0.5h2h2h2v-1h2v1.5h2h2v-0.5h2v0.5h2h2h2v-0.5h2v-0.5h2h2h2v0.5h2v-5h2v-15h2v9.5h2v10h2v0.5h2v0.5h2h2v-0.5h2h2v-0.5h2v0.5h2h2h2v0.5h2v-1h2v1h2v-0.5h2v-0.5h2v1h2h2v-2h2v1h2v1h2v-1.5h2v1.5h2v-0.5h2v-0.5h2v1h2h2h2v-1h2h2v0.5h2v-1.5h2v0.5h2v0.5h2v-0.5h2v1.5h2v-0.5h2v0.5h2v-0.5h2v0.5h2h2v-0.5h2v-1.5h2v2h2h2v-0.5h2h2v0.5h2v-0.5h2v-0.5h2v1h2h2v-0.5h2v-0.5h2h2v0.5h2v0.5h2h2v-0.5h2v-1.5h2v1h2h2h2v0.5h2v0.5h2v-1h2v-0.5h2v1.5h2v-1h2v0.5h2v-0.5h2v0.5h2v0.5h2v-0.5h2v0.5h2v-0.5h2v-1h2v0.5h2v1h2h2v-1h2v1h2v-1h2h2v0.5h2h2v-0.5h2v1h2v-0.5h2v0.5h2v-1h2v0.5h2h2v-0.5h2v0.5h2h2v-0.5h2h2h2v0.5h2v-0.5h2v0.5h2v-1h2v1h2h2v-1.5h2v0.5h2v1h2v-0.5h2v0.5h2v0.5h2v-1h2v-0.5h2v0.5h2v0.5h2v-1h2v1h2v-1h2v-0.5h2v2h2v-0.5h2v0.5h2v-1h2v1h2v-0.5h2v0.5h2v-0.5h2v-1h2v1h2v0.5h2v-0.5h2h2v-2h2v1h2v0.5h2v0.5h2h2h2v-1h2v-2h2v3.5h2v-0.5h2h2v-7.5h2v-12.5h2v12h2v7h2v1h2v-0.5h2h2v0.5h2h2h2v0.5h2v-1h2v-1.5h2v2h2h2h2v-1h2v1.5h2v-1.5h2v0.5h2v0.5h2h2v-0.5h2h2v-0.5h2v1h2v-0.5h2v-1h2v1h2h2v0.5h2v-0.5h2h2v0.5h2v-0.5h2v1h2v-2h2v1h2v1h2v-0.5h2v-0.5h2v-1h2v0.5h2v1h2h2h2h2h2v-0.5h2v1h2v-0.5h2h2v-0.5h2v0.5h2v0.5h2v-1h2v-7h2v-4.5h2v10h2v2h2v0.5h2v-0.5h2v-1h2v1h2v-0.5h2v0.5h2v-0.5h2v0.5h2h2h2v-2h2v-18h2v-9h2v24h2v4.5h2h2h2v-1.5h2v2h2v-1.5h2v1.5h2v0.5h2v-1h2v-0.5h2v1h2v-2h2v2h2v0.5h2h2v-0.5h2v-0.5h2v0.5h2v-1h2v1h2v0.5h2h2v-3h2v3h2v-0.5h2v0.5h2v-0.5h2v-1h2v-1h2v1.5h2v0.5h2v-0.5h2v0.5h2v-0.5h2v1h2v-1h2v1h2v-2h2v0.5h2v0.5h2v-0.5h2v-0.5h2v2h2v-0.5h2v0.5h2h2v-0.5h2v-2h2v2.5h2v-2h2v2h2v-1.5h2v1h2h2v-0.5h2v-0.5h2v0.5h2v-0.5h2v-0.5h2v1.5h2h2h2h2v-0.5h2h2h2v-0.5h2v1h2h2v0.5h2v-1h2v1h2v-1h2v-0.5h2h2v1h2v-1h2v1.5h2v-1.5h2v1.5h2v-0.5h2v0.5h2v-0.5h2v-0.5h2v-1h2v1.5h2v-0.5h2v0.5h2h2v-0.5h2v-0.5h2h2v1.5h2v-0.5h2h2v0.5h2v-1h2v0.5h2h2h2v-0.5h2h2h2v1h2v-1h2v-0.5h2v1h2h2v-1h2h2h2v1h2v-1h2h2v0.5h2v0.5h2v-0.5h2v1h2h2h2h2v-1h2h2v0.5h2v-2h2v2h2v0.5h2v-1h2v0.5h2v-0.5h2v1h2v-2.5h2v2h2v-0.5h2v1h2v-2.5h2v1.5h2v1h2v-1.5h2v1h2v-1.5h2v1h2v-1h2v1h2v-1.5h2v2h2v0.5h2v-0.5h2v-0.5h2v0.5h2v-2h2v1.5h2h2v1h2v-1.5h2v0.5h2v1h2v-2h2v1h2v1h2v-0.5h2v-0.5h2v-0.5h2v1h2v0.5h2h2v-1h2h2h2v1h2v-1.5h2v-0.5h2v1.5h2h2v-0.5h2v0.5h2v0.5h2v-0.5h2v-0.5h2v1h2v-1h2v0.5h2h2v-1h2h2v1h2v0.5h2v-0.5h2h2v-0.5h2h2v1h2v-0.5h2h2v-2h2v1.5h2v-0.5h2v1h2h2h2v-0.5h2v-1h2v1.5h2v0.5h2v-0.5h2h2h2v-1.5h2v1.5h2h2v0.5h2v-2h2v2h2h2v-0.5h2v0.5h2v-1h2v0.5h2v-0.5h2h2v-1h2v1.5h2h2h2v-1h2v0.5h2v-2h2v2.5h2v0.5h2h2v-1h2v-2h2v3h2v-2h2v0.5h2v1.5h2h2h2v-0.5h2v0.5h2v-1h2v-0.5h2v1h2v0.5h2v-1.5h2v-0.5h2v2h2h2h2v-1h2v1h2h2v-1h2v-0.5h2v1.5h2v-0.5h2v-0.5h2v0.5h2v0.5h2v-1h2h2v1h2h2h2v-0.5h2h2v-1h2v0.5h2v0.5h2h2v0.5h2v-1h2v0.5h2v0.5h2v-1.5h2v1h2v-0.5h1v1Z" fill="#3c3f98" fill-opacity="0.7"/>
<line x1="70.7" y1="1935.7" x2="1889.7" y2="1935.7" stroke="#4a5ab0" stroke-width="1.8" />
<rect x="647.5" y="1821.8" width="16.5" height="128.9" fill="none" stroke="#111" stroke-width="1.6"/>
<rect x="673" y="1821.8" width="16.5" height="128.9" fill="none" stroke="#111" stroke-width="1.6"/>
<rect x="894.3" y="1821.8" width="16.9" height="128.9" fill="none" stroke="#111" stroke-width="1.6"/>
<text x="74.7" y="1999.3" font-size="17.5" fill="#111" text-anchor="end" textLength="46.8" lengthAdjust="spacingAndGlyphs" xml:space="preserve">500 _</text>
<text x="158" y="2001.3" font-size="17.5" textLength="85.6" lengthAdjust="spacingAndGlyphs">100 bases</text>
<line x1="245.6" y1="1999.3" x2="444" y2="1999.3" stroke="#777" stroke-width="1.2" /><line x1="245.6" y1="1994.8" x2="245.6" y2="2003.8" stroke="#777" stroke-width="1.2" /><line x1="444" y1="1994.8" x2="444" y2="2003.8" stroke="#777" stroke-width="1.2" />
<text x="449" y="2001.3" font-size="17.5" textLength="42" lengthAdjust="spacingAndGlyphs">mm9</text>
<path d="M74.5 2066v-9h1.5v-0.5h1.5v1.5h1.5v-0.5h1.5v-1h1.5v0.5h1.5v0.5h1.5v-1h1.5h1.5v1h1.5v-1h1.5v1h1.5v-0.5h1.5v-0.5h1.5v0.5h1.5v0.5h1.5h1.5v-0.5h1.5v-1h1.5v0.5h1.5v0.5h1.5v-1.5h1.5v1h1.5h1.5v-0.5h1.5v0.5h1.5v-0.5h1.5v1h1.5v-0.5h1.5v-0.5h1.5h1.5v-0.5h1.5v0.5h1.5v-0.5h1.5v1h1.5v-1h1.5v1h1.5v-0.5h1.5v-0.5h1.5v0.5h1.5v0.5h1.5v-0.5h1.5v-0.5h1.5h1.5h1.5v0.5h1.5v-0.5h1.5v0.5h1.5v-0.5h1.5v-0.5h1.5h1.5v0.5h1.5v-1h1.5v0.5h1.5v1.5h1.5v-1h1.5v-0.5h1.5v0.5h1.5h1.5h1.5v-0.5h1.5v-0.5h1.5v0.5h1.5v0.5h1.5v-1h1.5v1h1.5v0.5h1.5v-2.5h1.5v1.5h1.5h1.5h1.5h1.5h1.5v-2h1.5v1.5h1.5v0.5h1.5h1.5v-0.5h1.5h1.5v0.5h1.5v-0.5h1.5v-0.5h1.5v1h1.5v-1h1.5v-1h1.5v-0.5h1.5v-1h1.5v1h1.5v-1.5h1.5v0.5h1.5v-0.5h1.5h1.5v-2h1.5v1h1.5h1.5v-0.5h1.5v1.5h1.5v-2h1.5v-1.5h1.5v-0.5h1.5v0.5h1.5v-1h1.5h1.5v-0.5h1.5v-0.5h1.5v-0.5h1.5v-2h1.5v-1h1.5v-1.5h1.5v-2.5h1.5v-1.5h1.5v-0.5h1.5v-2.5h1.5v-1.5h1.5v-1h1.5h1.5v-1h1.5h1.5v-1.5h1.5v-0.5h1.5v-1h1.5h1.5v-1.5h1.5v0.5h1.5v-1h1.5v0.5h1.5v-2h1.5v0.5h1.5v-2.5h1.5v1h1.5v-1h1.5v-1.5h1.5v-0.5h1.5v0.5h1.5v-1.5h1.5v0.5h1.5v-1h1.5v-0.5h1.5v0.5h1.5v-0.5h1.5v0.5h1.5v-1h1.5h1.5h1.5h1.5v-0.5h1.5v-0.5h1.5v-0.5h1.5h1.5v-0.5h1.5v-0.5h1.5h1.5h1.5v0.5h1.5v-1h1.5h1.5h1.5h1.5v0.5h1.5v0.5h1.5v-1.5h1.5v1h1.5h1.5v0.5h1.5v-1h1.5h1.5v0.5h1.5h1.5v1.5h1.5v-0.5h1.5v-0.5h1.5v0.5h1.5v0.5h1.5v-1h1.5v0.5h1.5h1.5v0.5h1.5h1.5v-0.5h1.5v0.5h1.5v1.5h1.5v1h1.5v1.5h1.5v-0.5h1.5v1.5h1.5v1h1.5v1h1.5v1h1.5v-0.5h1.5v1h1.5v1.5h1.5v0.5h1.5v1h1.5h1.5v0.5h1.5h1.5v2h1.5v-0.5h1.5v1.5h1.5v1h1.5v0.5h1.5v-1h1.5v2h1.5v-0.5h1.5v1.5h1.5v1h1.5v0.5h1.5v1.5h1.5v1h1.5v1h1.5v1.5h1.5h1.5v1h1.5v2h1.5v1h1.5v2.5h1.5v0.5h1.5v1h1.5v2h1.5v3h1.5v0.5h1.5v-0.5h1.5v-0.5h1.5v-0.5h1.5v-1.5h1.5h1.5v-1h1.5v-0.5h1.5v0.5h1.5v-1h1.5v-0.5h1.5v-0.5h1.5v-0.5h1.5v-1h1.5h1.5v0.5h1.5h1.5v-0.5h1.5v-1h1.5h1.5v0.5h1.5v1h1.5v-1.5h1.5v1.5h1.5v-1h1.5h1.5v1h1.5h1.5v-1.5h1.5v0.5h1.5h1.5v1h1.5v-1.5h1.5v-0.5h1.5h1.5v2h1.5v-0.5h1.5v-0.5h1.5v0.5h1.5v-1h1.5v-0.5h1.5v1h1.5v-0.5h1.5h1.5h1.5v0.5h1.5v1h1.5v-1h1.5v0.5h1.5v0.5h1.5v1h1.5v-1h1.5v2h1.5v-1h1.5h1.5h1.5v-0.5h1.5v1.5h1.5h1.5h1.5v-0.5h1.5v2h1.5v-1.5h1.5v-1h1.5v1.5h1.5v0.5h1.5v-0.5h1.5v-0.5h1.5h1.5v1.5h1.5v-0.5h1.5v-1h1.5v1.5h1.5v-0.5h1.5v-0.5h1.5v0.5h1.5v-0.5h1.5h1.5v0.5h1.5v0.5h1.5v-1.5h1.5v2h1.5v-0.5h1.5h1.5v-0.5h1.5v0.5h1.5h1.5v0.5h1.5v-1h1.5v1h1.5v1.5h1.5v-1h1.5v-0.5h1.5h1.5v-0.5h1.5h1.5v0.5h1.5v-0.5h1.5v0.5h1.5h1.5v0.5h1.5v1h1.5v-1.5h1.5v1h1.5v1h1.5v-1h1.5v0.5h1.5v-1h1.5v0.5h1.5v-0.5h1.5v-0.5h1.5v1.5h1.5v-0.5h1.5h1.5v0.5h1.5v1h1.5v-1h1.5v-0.5h1.5v0.5h1.5v0.5h1.5v0.5h1.5v-1.5h1.5h1.5v-0.5h1.5v1.5h1.5h1.5h1.5v2h1.5v-1h1.5v-1h1.5h1.5v-0.5h1.5v0.5h1.5v0.5h1.5h1.5h1.5h1.5h1.5v0.5h1.5h1.5v1h1v10.5Z" fill="#74288a" />
<text x="74.7" y="2064" font-size="17.5" fill="#111" text-anchor="end" textLength="26" lengthAdjust="spacingAndGlyphs" xml:space="preserve">0 _</text>
<text x="74.7" y="2099.5" font-size="17.5" fill="#111" text-anchor="end" textLength="36.4" lengthAdjust="spacingAndGlyphs" xml:space="preserve">80 _</text>
<text x="74.7" y="2160" font-size="17.5" fill="#111" text-anchor="end" textLength="26" lengthAdjust="spacingAndGlyphs" xml:space="preserve">0 _</text>
<text x="74.7" y="2170" font-size="17.5" fill="#111" text-anchor="end" textLength="26" lengthAdjust="spacingAndGlyphs" xml:space="preserve">0 _</text>
<text x="74.7" y="2235" font-size="17.5" fill="#111" text-anchor="end" textLength="43.2" lengthAdjust="spacingAndGlyphs" xml:space="preserve">-80 _</text>
<path d="M74.5 2161h3.5h3.5v-0.5h3.5v-0.5h3.5v0.5h3.5v-1h3.5v1.5h3.5h3.5v-0.5h3.5v0.5h3.5v-0.5h3.5v0.5h3.5v-1h3.5v-0.5h3.5v1.5h3.5v-1h3.5v1h3.5v-0.5h3.5v0.5h3.5h3.5h3.5v-0.5h3.5v-0.5h3.5v0.5h3.5h3.5v-1.5h3.5v2h3.5v-1h3.5v-1.5h3.5h3.5v1h3.5v1h3.5v-3h3.5v-2.5h3.5v-6h3.5v7h3.5v-15.5h3.5v16h3.5v4h3.5v-6.5h3.5v-4h3.5v10.5h3.5v-15.5h3.5v8h3.5v-20h3.5v13h3.5v-6h3.5v-19h3.5v19h3.5v10h3.5v-8h3.5v15h3.5v-19.5h3.5v13.5h3.5v-6h3.5v13.5h3.5v-6.5h3.5v-10.5h3.5v16.5h3.5v-10h3.5v10h3.5v-9.5h3.5v7.5h3.5v5h3.5v-0.5h3.5v-2h3.5v0.5h3.5h3.5v2h3.5h3.5v-2.5h3.5v2h3.5v0.5h3.5v-5h3.5v5h3.5v-0.5h3.5v-1h3.5v1h3.5v0.5h3.5v-1.5h3.5v1h3.5h3.5v0.5h3.5v-1h3.5v1h3.5h3.5v-0.5h3.5v0.5h3.5v-1h3.5h3.5h3.5v1h3.5h3.5h3.5v-1.5h3.5v-24.5h3.5v9.5h3.5v-2.5h3.5v17h3.5v-5.5h3.5v-18.5h3.5v7h3.5v14h3.5v4h3.5v1h3.5v-1h3.5v1h3.5h3.5v-1.5h3.5v-4.5h3.5v5h3.5h3.5h3.5v0.5h3.5v0.5h3.5v-1h3.5v0.5h3.5h3.5v-2h3.5v-8h3.5v8h3.5v1.5h3.5h3.5h3.5v1h3.5h3.5h3.5h3.5v-1h3.5v1h3.5v-0.5h3.5v0.5h3.5h3.5v-1h3.5v1h3.5h3.5v-1h3.5v0.5h3.5v0.5h3.5h3.5h3.5h3.5h3.5h3.5h3.5h3.5v-0.5h3.5v-1h3.5v1.5h3.5v-1.5h3.5v1h3.5h3.5h3.5v0.5h3.5v-0.5h2v0.5Z" fill="#74288a" />
<path d="M74.5 2171v0.5h3.5v-0.5h3.5h3.5h3.5h3.5h3.5v0.5h3.5h3.5v1h3.5v-1h3.5v-0.5h3.5v0.5h3.5v0.5h3.5v0.5h3.5v3.5h3.5v-4h3.5v-1h3.5v1.5h3.5v-1h3.5v-0.5h3.5v1.5h3.5v-1.5h3.5v0.5h3.5h3.5v-0.5h3.5v1h3.5v-1h3.5v3.5h3.5v-3h3.5v1h3.5v9.5h3.5v4h3.5v-5.5h3.5v-4h3.5v-4.5h3.5v-0.5h3.5h3.5h3.5v0.5h3.5v-1h3.5v1h3.5v-1h3.5h3.5v1.5h3.5v-0.5h3.5v5h3.5v0.5h3.5v-6.5h3.5v1h3.5v-1h3.5h3.5v1.5h3.5v-1h3.5h3.5v2h3.5v-2h3.5v-0.5h3.5v0.5h3.5v7h3.5v-7.5h3.5v1.5h3.5v1h3.5v-2.5h3.5v2h3.5v-1h3.5v0.5h3.5v-1h3.5v0.5h3.5v-0.5h3.5v-0.5h3.5v3h3.5v4.5h3.5v-7h3.5v5h3.5v3.5h3.5v-7h3.5v-0.5h3.5v18.5h3.5v-0.5h3.5v17h3.5v-31h3.5v18.5h3.5v-18h3.5v4h3.5v19h3.5v-24.5h3.5v51h3.5v-19h3.5v-19.5h3.5v22h3.5v19h3.5v-23h3.5v9h3.5v-26h3.5v-16h3.5v22h3.5v-13h3.5v-9.5h3.5v8h3.5v-9.5h3.5v2h3.5v2h3.5v-4h3.5h3.5v1h3.5v-1h3.5v1h3.5v-0.5h3.5v-0.5h3.5v0.5h3.5v0.5h3.5v0.5h3.5v-1.5h3.5v1h3.5v-0.5h3.5v0.5h3.5v7.5h3.5v-5h3.5v-3.5h3.5v0.5h3.5v-0.5h3.5v1h3.5h3.5v-0.5h3.5h3.5v-0.5h3.5h3.5h3.5h3.5h3.5v1h3.5v-1h3.5v0.5h3.5v-0.5h3.5v0.5h3.5v-0.5h3.5v3h3.5v-3h3.5v0.5h3.5v-0.5h3.5v1h3.5v-1h3.5v1.5h3.5v-1.5h3.5h3.5h3.5h3.5v0.5h3.5v0.5h3.5v-1h3.5v0.5h3.5v-0.5h3.5h3.5h3.5v0.5h2v-0.5Z" fill="#a877bd" />
<line x1="74.7" y1="2161" x2="615.7" y2="2161" stroke="#74288a" stroke-width="1.2" stroke-dasharray="5 3"/>
<line x1="74.7" y1="2171" x2="615.7" y2="2171" stroke="#a877bd" stroke-width="1.2" stroke-dasharray="5 3"/>
<text x="738.6" y="1999.3" font-size="17.5" fill="#111" text-anchor="end" textLength="46.8" lengthAdjust="spacingAndGlyphs" xml:space="preserve">200 _</text>
<text x="841.5" y="2001" font-size="17.5" textLength="86.9" lengthAdjust="spacingAndGlyphs">100 bases</text>
<line x1="929.5" y1="1999.3" x2="1088.3" y2="1999.3" stroke="#777" stroke-width="1.2" /><line x1="929.5" y1="1994.8" x2="929.5" y2="2003.8" stroke="#777" stroke-width="1.2" /><line x1="1088.3" y1="1994.8" x2="1088.3" y2="2003.8" stroke="#777" stroke-width="1.2" />
<text x="1093.3" y="2001" font-size="17.5" textLength="42" lengthAdjust="spacingAndGlyphs">mm9</text>
<path d="M738.5 2066v-6.5h1.5v-1h1.5h1.5v0.5h1.5v0.5h1.5v-1.5h1.5h1.5v0.5h1.5v-1h1.5h1.5v1h1.5v-0.5h1.5v-0.5h1.5v0.5h1.5v-0.5h1.5v-0.5h1.5v-1h1.5v1.5h1.5v-0.5h1.5h1.5v-0.5h1.5v0.5h1.5h1.5v0.5h1.5v-0.5h1.5h1.5v-1h1.5v-0.5h1.5v1.5h1.5v-1h1.5v0.5h1.5v-0.5h1.5h1.5v0.5h1.5v-0.5h1.5h1.5v-1h1.5v1h1.5v-1h1.5v0.5h1.5v-1h1.5v0.5h1.5h1.5v-0.5h1.5v-1h1.5v1h1.5v0.5h1.5v-1h1.5h1.5v-0.5h1.5v0.5h1.5v-0.5h1.5v-0.5h1.5v1h1.5v-2h1.5v0.5h1.5h1.5v0.5h1.5v-0.5h1.5h1.5v-1h1.5v0.5h1.5v0.5h1.5v-1h1.5v1h1.5v1h1.5v-0.5h1.5v-1h1.5v-0.5h1.5v-0.5h1.5h1.5v-0.5h1.5v0.5h1.5v-0.5h1.5v-0.5h1.5v-0.5h1.5v0.5h1.5v-0.5h1.5v-0.5h1.5v0.5h1.5h1.5v-0.5h1.5v-1h1.5v0.5h1.5v-0.5h1.5v-0.5h1.5v-1h1.5v1.5h1.5h1.5v-1h1.5v-0.5h1.5h1.5h1.5v-1h1.5v-0.5h1.5h1.5v0.5h1.5v-0.5h1.5h1.5v0.5h1.5v-1h1.5v-0.5h1.5h1.5v1h1.5v-1h1.5h1.5v-1h1.5v1h1.5v-0.5h1.5v-1h1.5h1.5v-1h1.5v0.5h1.5h1.5v-0.5h1.5h1.5v1h1.5v-0.5h1.5v-0.5h1.5v-1h1.5v0.5h1.5v-1.5h1.5v1.5h1.5v-1h1.5h1.5h1.5h1.5v-0.5h1.5v0.5h1.5v-0.5h1.5v-1h1.5v0.5h1.5v0.5h1.5v-0.5h1.5v-1.5h1.5v-3h1.5v-1.5h1.5v-1h1.5v0.5h1.5v-1h1.5v1h1.5h1.5v-0.5h1.5h1.5v-1.5h1.5v1h1.5v-1h1.5v1.5h1.5v-1h1.5v-1.5h1.5v0.5h1.5v-0.5h1.5v-0.5h1.5v1h1.5v-1.5h1.5h1.5v0.5h1.5v-0.5h1.5v0.5h1.5h1.5v-0.5h1.5v0.5h1.5v-0.5h1.5v-0.5h1.5v0.5h1.5v-1h1.5v0.5h1.5h1.5v-1h1.5h1.5v1h1.5v-1.5h1.5v1.5h1.5h1.5h1.5v-1.5h1.5v0.5h1.5v-0.5h1.5v1h1.5v-0.5h1.5v1h1.5v1.5h1.5v0.5h1.5v0.5h1.5h1.5v0.5h1.5v-1h1.5v-0.5h1.5v-1.5h1.5h1.5h1.5v-1.5h1.5v1h1.5v-1h1.5h1.5v0.5h1.5v0.5h1.5v-1h1.5h1.5h1.5v-0.5h1.5h1.5h1.5v0.5h1.5v1h1.5v-0.5h1.5v-1h1.5v1h1.5v0.5h1.5h1.5v0.5h1.5v-0.5h1.5v0.5h1.5v0.5h1.5h1.5v1.5h1.5v-2h1.5v2h1.5v-0.5h1.5v1h1.5v-0.5h1.5h1.5v2h1.5v-1.5h1.5v0.5h1.5v1h1.5v0.5h1.5v0.5h1.5h1.5v1h1.5v1h1.5h1.5v1h1.5v0.5h1.5v-1.5h1.5v2h1.5v0.5h1.5h1.5v-0.5h1.5v0.5h1.5v-0.5h1.5v0.5h1.5h1.5v1h1.5v-0.5h1.5h1.5h1.5h1.5v0.5h1.5v0.5h1.5v-0.5h1.5h1.5v1h1.5v-1h1.5v0.5h1.5v-0.5h1.5h1.5h1.5v1.5h1.5v-1.5h1.5h1.5v0.5h1.5v1h1.5v-0.5h1.5h1.5v0.5h1.5v-0.5h1.5v-0.5h1.5v1.5h1.5v-0.5h1.5h1.5h1.5v0.5h1.5v-0.5h1.5h1.5v0.5h1.5v0.5h1.5h1.5v-0.5h1.5v0.5h1.5v-0.5h1.5h1.5v0.5h1.5v0.5h1.5v-0.5h1.5v1h1.5v-1h1.5v1h1.5h1.5v-0.5h1.5v0.5h1.5v-1h1.5v1.5h1.5v-0.5h1.5h1.5v0.5h1.5h1.5v0.5h1.5v-0.5h1.5v1h1.5v-1.5h1.5v1h1.5v1h1.5v-1h1.5h1.5v0.5h1.5v0.5h1.5v1h1.5v-0.5h1.5v-1.5h1.5v0.5h1.5v1h1.5v-0.5h1.5h1.5v1.5h1.5v-0.5h1.5h1.5h1.5v1h1.5v-0.5h1.5v1h1.5v-1h1.5v1.5h1.5h1.5v0.5h1.5v0.5h1.5h1.5v0.5h1.5v0.5h1.5v0.5h1.5v0.5h1.5v-1h1.5v-0.5h1.5v1.5h1.5v-0.5h1.5v0.5h1.5v-1h1.5v1.5h1.5h1.5v-1h1.5v0.5h1.5h1.5h1.5v1h1.5v-0.5h1.5h1.5v0.5h1.5v-0.5h1.5v1h1.5v-1h1.5v-0.5h1.5v0.5h1.5v-0.5h1.5v1h1.5v0.5h1.5v-0.5h1.5h1.5v-0.5h1.5v1h1.5h0.5v14.5Z" fill="#2ba1c1" />
<text x="738.6" y="2064" font-size="17.5" fill="#111" text-anchor="end" textLength="26" lengthAdjust="spacingAndGlyphs" xml:space="preserve">0 _</text>
<text x="738.6" y="2099.5" font-size="17.5" fill="#111" text-anchor="end" textLength="36.4" lengthAdjust="spacingAndGlyphs" xml:space="preserve">30 _</text>
<text x="738.6" y="2160.6" font-size="17.5" fill="#111" text-anchor="end" textLength="26" lengthAdjust="spacingAndGlyphs" xml:space="preserve">0 _</text>
<text x="738.6" y="2170" font-size="17.5" fill="#111" text-anchor="end" textLength="26" lengthAdjust="spacingAndGlyphs" xml:space="preserve">0 _</text>
<text x="738.6" y="2235" font-size="17.5" fill="#111" text-anchor="end" textLength="43.2" lengthAdjust="spacingAndGlyphs" xml:space="preserve">-30 _</text>
<path d="M738.5 2161.5h2h2h2v-1.5h2v1.5h2v-1.5h2v1.5h2v-2h2v-1.5h2v1.5h2v1h2h2h2v1h2v-0.5h2v0.5h2h2h2h2h2v-0.5h2v0.5h2h2v-0.5h2v0.5h2h2h2v-0.5h2v0.5h2h2h2h2h2v-0.5h2v0.5h2v-0.5h2v0.5h2h2h2v-2h2v0.5h2v1.5h2h2v-0.5h2h2h2v0.5h2v-0.5h2v0.5h2v-3.5h2v2.5h2v-1.5h2v2.5h2v-3h2v3h2h2v-4.5h2v3.5h2v-0.5h2v1h2v0.5h2h2h2v-1h2v-2h2v3h2h2h2h2v-1h2v1h2v-1.5h2v-9.5h2v-11.5h2v19.5h2v3h2v-1h2v1h2v-0.5h2v0.5h2v-0.5h2v0.5h2v-5h2v5h2v-2h2v-17h2v9.5h2v9h2v-4h2v3.5h2v1h2v-0.5h2h2v-14h2v-23h2v31.5h2v2.5h2v3.5h2h2v-1.5h2v-25.5h2v-28.5h2v19h2v22.5h2v13.5h2v0.5h2v-3h2v3h2v-2h2v0.5h2v1h2v-1h2h2v0.5h2v0.5h2v-16h2v-24h2v27h2v-13h2v23.5h2v3h2h2v-2.5h2h2v2.5h2v-0.5h2v-1.5h2v2h2v-5.5h2v5.5h2h2v-0.5h2v0.5h2v-5h2v5h2h2v-6.5h2v1h2v-14h2v14h2v-26h2v-20h2v48h2v3.5h2v-2h2v2h2h2h2v-5h2v1.5h2v3h2v-0.5h2v-1h2v1.5h2v0.5h2v-3h2v3h2v-1h2v0.5h2h2v-9.5h2v-8.5h2v17h2h2v0.5h2v1h2v-1.5h2v1.5h2h2h2h2h2h2v-1.5h2v-0.5h2v1.5h2v-5h2v-46h2v26.5h2v18.5h2v6.5h2v-0.5h2v0.5h2v-1h2v-1.5h2v-5h2v-35h2v26.5h2v15.5h2h2v-3h2v-10h2v9h2v4.5h2v-1h2v-14.5h2v-9h2v23h2v1h2h2v-8h2v-14h2v17.5h2v3.5h2v-1.5h2v3h2h2v-2.5h2v2.5h2h2h2v-2h2v-1h2v3h2h2v-2h2v2h2h2h2v-1h2v1h2v-4h2v4h2v-1.5h2v1.5h2h2v-2.5h2v1.5h2v1h2h2h2h2h2h2v-2.5h2v1.5h2v-1h2v2h2v-0.5h2v0.5h2v-1h2v1h2h2h2v-2h2v2h2h2v-0.5h2v-0.5h2v-0.5h2v1.5h2h2v-2.5h2v2.5h2v-2h2v1h2v1h2h2h2h2v-3h2v2h2v-0.5h2v1h2v-1h2v1.5h2v-0.5h2v0.5h2h2h1Z" fill="#2ba1c1" />
<path d="M738.5 2171h2h2h2h2h2h2h2h2v0.5h2v0.5h2v-0.5h2v0.5h2v-1h2h2v1.5h2h2v-1.5h2v0.5h2v-0.5h2v1h2v-1h2v0.5h2v-0.5h2v3h2v-3h2h2h2h2v3.5h2v-2.5h2v-1h2v0.5h2v-0.5h2h2v0.5h2v-0.5h2v0.5h2v1h2v-1.5h2h2v2h2h2v-2h2v0.5h2v6h2v7.5h2v-12.5h2v1h2v-2.5h2v0.5h2v-0.5h2h2h2h2v1.5h2v-1.5h2h2v2h2v-2h2h2h2v1.5h2v4.5h2v-6h2v0.5h2v2h2v-2h2v1h2v-1.5h2h2h2h2v1.5h2v-1.5h2h2h2h2v1h2v1.5h2v-2.5h2h2v1h2v-1h2v0.5h2v-0.5h2v2.5h2v-2.5h2h2v1h2v3.5h2v7.5h2v-10h2v6h2v20h2v-20h2v-8h2v1h2v-0.5h2v-0.5h2v0.5h2v-0.5h2h2h2h2v0.5h2v-0.5h2v0.5h2v-0.5h2h2h2v1h2v-0.5h2h2h2v0.5h2v17.5h2v28h2v-40h2v-5h2h2v2.5h2v-4h2v2h2v-2h2h2h2h2v3h2v-3h2v1h2h2v-1h2v2h2v-1h2v1.5h2v-0.5h2v33.5h2v21.5h2v-52.5h2v-2.5h2v-0.5h2v-1h2v0.5h2v-1h2v4h2v7h2v-9h2v0.5h2v-2h2v-0.5h2v1.5h2v-1.5h2v1.5h2v-1h2v-0.5h2v0.5h2v-0.5h2h2v0.5h2v8.5h2v7h2v-13h2v-3h2v1.5h2v-1.5h2v1h2v-0.5h2v-0.5h2h2v1h2v-0.5h2h2v2h2v24.5h2v-13h2v-10.5h2v26h2v-13.5h2v-4h2v12h2v-21h2v-2.5h2v1h2v-1.5h2v0.5h2v1.5h2v-0.5h2v-1.5h2v1.5h2v4.5h2v19h2v-17h2v-8h2v1h2v-1h2v1.5h2v-1h2v-0.5h2h2h2v2h2v0.5h2v-2.5h2v0.5h2v0.5h2v-0.5h2v-0.5h2h2h2h2v3.5h2v-2h2h2v-1.5h2v0.5h2v-0.5h2h2v0.5h2v-0.5h2v1.5h2v-1.5h2h2h2h2h2v1.5h2v-1.5h2h2v0.5h2v-0.5h2h2h2v2.5h2v-1.5h2v-1h2v1h2v-0.5h2v-0.5h2h2h2h2v2h2v-2h2v0.5h2v1h2v-1.5h2v2h2v-2h2h2h2v2.5h2v-2.5h2h2v3h2v-3h2h2h2h2h2h2v1h2v-1h2v0.5h2v-0.5h2h2h2h2v0.5h2v0.5h2v-1h1Z" fill="#93cfe0" />
<line x1="738.6" y1="2161.6" x2="1277.7" y2="2161.6" stroke="#2ba1c1" stroke-width="1.2" stroke-dasharray="5 3"/>
<line x1="738.6" y1="2171" x2="1277.7" y2="2171" stroke="#93cfe0" stroke-width="1.2" stroke-dasharray="5 3"/>
<text x="1384.8" y="1999.6" font-size="17.5" fill="#111" text-anchor="end" textLength="46.8" lengthAdjust="spacingAndGlyphs" xml:space="preserve">200 _</text>
<text x="1502.7" y="2001.6" font-size="17.5" textLength="85.5" lengthAdjust="spacingAndGlyphs">100 bases</text>
<line x1="1590" y1="1998.8" x2="1715.2" y2="1998.8" stroke="#777" stroke-width="1.2" /><line x1="1590" y1="1994.3" x2="1590" y2="2003.3" stroke="#777" stroke-width="1.2" /><line x1="1715.2" y1="1994.3" x2="1715.2" y2="2003.3" stroke="#777" stroke-width="1.2" />
<text x="1720.2" y="2001.6" font-size="17.5" textLength="42" lengthAdjust="spacingAndGlyphs">mm9</text>
<path d="M1386.5 2065.5v-13.5h1.5h1.5v-0.5h1.5v0.5h1.5v-1h1.5v0.5h1.5h1.5v1h1.5v-0.5h1.5v-0.5h1.5v-0.5h1.5h1.5h1.5h1.5v-1.5h1.5v1.5h1.5v-0.5h1.5h1.5v-1h1.5v0.5h1.5v-1h1.5v0.5h1.5h1.5v-1h1.5h1.5v1.5h1.5v-1.5h1.5v0.5h1.5v-1.5h1.5h1.5v1h1.5v-1h1.5h1.5h1.5v-1.5h1.5v-0.5h1.5v0.5h1.5v0.5h1.5v-1h1.5v1.5h1.5v-1.5h1.5v0.5h1.5v-1h1.5h1.5v-1h1.5h1.5v-1h1.5h1.5v1.5h1.5v-1h1.5v0.5h1.5v0.5h1.5v-0.5h1.5h1.5v0.5h1.5h1.5v-0.5h1.5h1.5h1.5v-1h1.5v1h1.5v0.5h1.5v-0.5h1.5h1.5v-2h1.5v1h1.5h1.5v0.5h1.5h1.5v-0.5h1.5v0.5h1.5v0.5h1.5h1.5v-1h1.5v-2h1.5v-3h1.5v1h1.5v-0.5h1.5v-0.5h1.5h1.5h1.5h1.5v-0.5h1.5v-0.5h1.5v0.5h1.5v-2h1.5v0.5h1.5v-1h1.5h1.5v-0.5h1.5v-1h1.5v-0.5h1.5v-0.5h1.5v-0.5h1.5h1.5h1.5v1h1.5v-1.5h1.5v1.5h1.5h1.5v-1h1.5v-0.5h1.5h1.5v1h1.5h1.5v-0.5h1.5v-0.5h1.5v0.5h1.5h1.5v2h1.5v0.5h1.5v1.5h1.5v3h1.5v1h1.5v-0.5h1.5h1.5h1.5h1.5v0.5h1.5v0.5h1.5h1.5v-0.5h1.5v-0.5h1.5v0.5h1.5v-0.5h1.5v1h1.5v-0.5h1.5v-0.5h1.5v0.5h1.5v0.5h1.5v-0.5h1.5v-1h1.5h1.5h1.5v-0.5h1.5h1.5v-1h1.5v-0.5h1.5v-0.5h1.5v-1h1.5v1h1.5v-1.5h1.5h1.5v-0.5h1.5h1.5v0.5h1.5v-1h1.5v1.5h1.5v-1.5h1.5h1.5h1.5v1.5h1.5v-1h1.5v-1h1.5v1h1.5v-1h1.5h1.5h1.5v-0.5h1.5v1.5h1.5v-1h1.5v1h1.5v-0.5h1.5v0.5h1.5h1.5h1.5v-0.5h1.5h1.5v0.5h1.5h1.5v0.5h1.5v0.5h1.5v-1.5h1.5v0.5h1.5v0.5h1.5v0.5h1.5h1.5v-1h1.5h1.5v0.5h1.5h1.5v-0.5h1.5v2.5h1.5h1.5h1.5v0.5h1.5v0.5h1.5v1.5h1.5v0.5h1.5v0.5h1.5v-0.5h1.5v1.5h1.5v0.5h1.5v0.5h1.5h1.5v-1h1.5v-1h1.5v-1h1.5v-0.5h1.5v-0.5h1.5v-1h1.5v-0.5h1.5v-0.5h1.5v-0.5h1.5v-2h1.5v-1h1.5v-0.5h1.5v-0.5h1.5v-1.5h1.5h1.5v-0.5h1.5v1.5h1.5v-1.5h1.5h1.5h1.5v1h1.5v-1h1.5v-0.5h1.5v-0.5h1.5v1h1.5v0.5h1.5v-1h1.5v1h1.5h1.5v0.5h1.5h1.5h1.5v0.5h1.5v0.5h1.5v-0.5h1.5h1.5h1.5v1.5h1.5v-0.5h1.5v0.5h1.5v-0.5h1.5v-1h1.5v2h1.5v-0.5h1.5v1h1.5v0.5h1.5v-1h1.5v1.5h1.5v-0.5h1.5h1.5v1h1.5v0.5h1.5v1h1.5v-1h1.5v-0.5h1.5v1.5h1.5h1.5v0.5h1.5v0.5h1.5v0.5h1.5v-0.5h1.5v-0.5h1.5v0.5h1.5v0.5h1.5v0.5h1.5v-0.5h1.5v0.5h1.5v-0.5h1.5v1h1.5v0.5h1.5v-0.5h1.5v1h1.5v-0.5h1.5v0.5h1.5h1.5v0.5h1.5v0.5h1.5v-0.5h1.5v-0.5h1.5v0.5h1.5v0.5h1.5v1h1.5h1.5v-1h1.5v0.5h1.5v0.5h1.5h1.5v1h1.5v-0.5h1.5h1.5v0.5h1.5v1h1.5h1.5v-0.5h1.5v1h1.5h1.5v0.5h1.5h1.5v0.5h1.5h1.5v1h1.5v-1h1.5v0.5h1.5h1.5v0.5h1.5v-0.5h1.5v1h1.5v0.5h1.5v1.5h1.5v0.5h1.5v0.5h1.5v1h1.5v2h1.5h1.5v1.5h1.5v-2h1.5h1.5h1.5v-2h1.5v-0.5h1.5v0.5h1.5h1.5v0.5h1.5v-1.5h1.5v0.5h1.5v1h1.5v-1h1.5v-0.5h1.5v1.5h1.5h1.5v-1.5h1.5v0.5h1.5h1.5v0.5h1.5h1.5v-2h1.5v1.5h1.5h1.5h1.5v0.5h1.5v-1.5h1.5v0.5h1.5v1h1.5v-1h1.5v1h1.5v-0.5h1.5v-0.5h1.5h1.5v-0.5h1.5h1.5v0.5h1.5v-0.5h1.5h1.5h1.5v0.5h1.5v-0.5h1.5h1.5v-0.5h1.5v1h1.5h1.5v-0.5h1.5v0.5h1.5v0.5h1.5v-1.5h1.5v-0.5h1v17Z" fill="#2ba1c1" />
<text x="1384.8" y="2063.5" font-size="17.5" fill="#111" text-anchor="end" textLength="26" lengthAdjust="spacingAndGlyphs" xml:space="preserve">0 _</text>
<text x="1384.8" y="2099.4" font-size="17.5" fill="#111" text-anchor="end" textLength="36.4" lengthAdjust="spacingAndGlyphs" xml:space="preserve">50 _</text>
<text x="1384.8" y="2160.6" font-size="17.5" fill="#111" text-anchor="end" textLength="26" lengthAdjust="spacingAndGlyphs" xml:space="preserve">0 _</text>
<text x="1384.8" y="2170" font-size="17.5" fill="#111" text-anchor="end" textLength="26" lengthAdjust="spacingAndGlyphs" xml:space="preserve">0 _</text>
<text x="1384.8" y="2233.2" font-size="17.5" fill="#111" text-anchor="end" textLength="43.2" lengthAdjust="spacingAndGlyphs" xml:space="preserve">-50 _</text>
<path d="M1386.5 2161.5v-1.5h2v0.5h2v0.5h2v-1.5h2v1.5h2v-5.5h2v5h2v1h2h2h2h2h2h2v-1h2v0.5h2v0.5h2h2v-0.5h2h2v-2h2v2h2v-3.5h2h2v-13h2v11.5h2v5.5h2h2v-0.5h2v0.5h2h2h2h2v-1h2h2v1h2h2h2h2h2v-0.5h2v-2h2v2h2v-0.5h2v1h2h2v-1h2v1h2v-1h2h2h2v1h2h2h2h2v-2.5h2v-28.5h2v-18h2v45h2v3h2v1h2v-1.5h2v1h2v-4h2v4.5h2h2v-0.5h2v-2h2v2h2v0.5h2h2v-0.5h2v0.5h2h2v-0.5h2h2v-2h2v2.5h2h2v-0.5h2v0.5h2v-1h2v-2.5h2v1h2v2.5h2h2v-6h2v-5.5h2v10h2v0.5h2v1h2v-3h2v3h2v-1.5h2v0.5h2v1h2v-1h2v1h2v-0.5h2v0.5h2v-1h2h2v1h2v-1h2v-16h2v-15h2v29h2v2.5h2v-1.5h2v1h2v-1h2v1.5h2v0.5h2v-1h2v0.5h2v-0.5h2v-0.5h2v1.5h2v-6h2v-25h2v19.5h2v10.5h2v1h2v-1h2v1h2h2v-3.5h2v3.5h2h2h2h2v-0.5h2v0.5h2h2v-0.5h2h2h2v0.5h2h2v-3h2v-2.5h2v-11h2v13.5h2v0.5h2h2v-0.5h2v1.5h2v0.5h2v-3.5h2v-10h2v11h2v3.5h2h2v-2h2v1.5h2v-3.5h2v-16.5h2v8h2v11.5h2v1h2v-1.5h2v-0.5h2v2h2v-1h2v-1h2v1h2v-0.5h2v1.5h2v-3h2v3h2v-1h2h2v1h2v-3.5h2v2.5h2v0.5h2v-7h2v-6.5h2v12.5h2v1.5h2v-0.5h2h2v0.5h2v-1h2v0.5h2v-0.5h2v0.5h2v-1h2v0.5h2v-1h2v2h2h2v-2h2v2h2v-1h2v-1h2v2h2h2h2v-0.5h2v0.5h2v-2h2v2h2h2h2h2v-1h2h2v1h2v-1h2v-2h2v-10.5h2v9h2v2h2v2.5h2v-2.5h2v1.5h2v1h2h2h2v-0.5h2v-1.5h2h2v2h2v-2h2v2h2h2h2v-1.5h2v1.5h2h2v-2.5h2h2v-10h2v-44.5h2v38.5h2v17.5h2v1h2h2h2v-1h2v1h2v-1h2v1h2v-1h2v-0.5h2v-1.5h2v-6.5h2v7.5h2v2h2v-0.5h2v0.5h2h2h2h2h2h2v-3h2v3h2v-1.5h2v1.5h2v-1.5h2v1.5h2v-1h2v-1h2v2h2v-0.5h2v-0.5h2v-0.5h2v1.5h2v-2h1.5v2Z" fill="#2ba1c1" />
<path d="M1386.5 2171v0.5h2v-0.5h2h2h2h2v1h2v-0.5h2h2h2v-0.5h2v1.5h2v-1.5h2h2v0.5h2v-0.5h2h2v2h2v-1h2v-0.5h2h2v7.5h2v7h2v-14h2v-0.5h2h2v1h2v-1.5h2h2h2v2.5h2v-2.5h2v1.5h2v-1h2v0.5h2h2v-1h2h2v1.5h2v-1.5h2h2v1.5h2v-1h2v-0.5h2h2h2v1.5h2v-1.5h2v0.5h2v-0.5h2v2.5h2v-2.5h2v1h2v11h2v7.5h2v-18h2v3.5h2v-5h2v1.5h2v-1.5h2h2h2v1h2v-1h2h2v2.5h2v-2.5h2v0.5h2v-0.5h2h2h2v1.5h2v-0.5h2v-0.5h2v-0.5h2v1h2v0.5h2h2v-1.5h2h2v2h2v34h2v-11h2v-23h2h2v-2h2v0.5h2v-0.5h2v1.5h2v-0.5h2v2h2v4h2v-4.5h2v-1.5h2v0.5h2v4.5h2v5h2v-9h2v-2h2h2v5h2v4h2v-5h2v-3h2v-1h2v3h2v-1h2v1h2v-3h2v1h2v-0.5h2v-0.5h2h2h2h2h2v6.5h2v-6.5h2v3.5h2v-1.5h2v-1.5h2v-0.5h2v2.5h2v-2.5h2h2v1h2v0.5h2h2v-1.5h2v0.5h2v-0.5h2h2v0.5h2v-0.5h2v0.5h2v2h2v11.5h2v-9h2v-5h2h2v0.5h2v1.5h2v2h2v32h2v-16.5h2v-18.5h2v-1h2v0.5h2v2.5h2v-3h2h2h2v0.5h2v-0.5h2v1h2v-1h2h2v2h2v-2h2v1.5h2v-1.5h2v1.5h2h2v-1.5h2v1h2v-1h2v0.5h2v-0.5h2v1h2v-0.5h2v4.5h2v10h2v-11.5h2v-3.5h2v1.5h2v-1.5h2h2v1h2h2v-1h2h2h2v2h2v-2h2h2h2v1.5h2v-1.5h2v1.5h2v-1.5h2v0.5h2v2h2v18h2v-11h2v-9h2h2v1.5h2v-2h2h2h2h2h2v1.5h2v1h2v-2.5h2h2v1h2v6h2v8h2v-13h2v-1.5h2h2v-0.5h2v1h2v-1h2h2h2h2h2v1h2v2.5h2v-2.5h2v1h2v-2h2v1h2h2v-0.5h2v8h2v28.5h2v-25.5h2v-10.5h2v-0.5h2v-0.5h2v0.5h2v-0.5h2h2h2h2v3h2v-2.5h2h2v0.5h2h2v1.5h2v-2h2v-0.5h2v1.5h2v-1.5h2h2v1h2v-1h2v1.5h2v-1h2v-0.5h2v1.5h2v-0.5h2v-1h2h2v1h2v-1h2h2h2h2h2v0.5h2v-0.5h2v0.5h2h2h2v-0.5h2h1.5Z" fill="#93cfe0" />
<line x1="1386.7" y1="2161.6" x2="1926.2" y2="2161.6" stroke="#2ba1c1" stroke-width="1.2" stroke-dasharray="5 3"/>
<line x1="1386.7" y1="2171" x2="1926.2" y2="2171" stroke="#93cfe0" stroke-width="1.2" stroke-dasharray="5 3"/>
<text x="6.5" y="2333" font-size="30" font-weight="bold">g</text>
<path d="M81.8 2309.3L850 2309.3" stroke="#333" stroke-width="1.3"/>
<path d="M81.8 2309.3L87.1 2434.6M850 2309.3L843.8 2433.8" stroke="#333" stroke-width="1.3" stroke-dasharray="2.5 2.5"/>
<path d="M64.3 2352.9L81.8 2309.3M867 2352.5L850 2309.3" stroke="#333" stroke-width="1.1" stroke-dasharray="4 2"/>
<path d="M87 2437.5l0-3 4-0.5 3.5 0 4 0 4 0.5 3.5 0 4-0.5 3.5 0.5 4-0.5 4 0.5 3.5-1 4 0.5 3.5 0 4-0.5 4 0 3.5 0.5 4-0.5 3.5-0.5 4 0.5 4 0.5 3.5-0.5 4 0 4 0 3.5 0 4-0.5 3.5 0.5 4 0 4 0 3.5 0 4 0 3.5 0.5 4-0.5 4 0.5 3.5 0 4 0 3.5-0.5 4 0.5 4-0.5 3.5 0 4 0.5 3.5-0.5 4 1 4-0.5 3.5 0 4 0 3.5-0.5 4 0.5 4 0 3.5 0 4-0.5 3.5 0 4-0.5 4 0.5 3.5-0.5 4 0 3.5 0.5 4-0.5 4-0.5 3.5 0.5 4 0 4 0 3.5 0.5 4-0.5 3.5 1 4-0.5 4 0.5 3.5-0.5 4 0.5 3.5-0.5 4 0.5 4-0.5 3.5 0.5 4 0 3.5 0 4 0 4 0.5 3.5-0.5 4 0 3.5-0.5 4 0 4 0.5 3.5 0 4 0 3.5-0.5 4 0.5 4-1 3.5 0 4-1 3.5 0 4-0.5 4-0.5 3.5 0 4-1 3.5 0.5 4 1.5 4-0.5 3.5 1.5 4 0 3.5 0 4 0 4 0 3.5 0 4 0 4-1 3.5-1 4 0 3.5-0.5 4-1.5 4 1.5 3.5-0.5 4 1 3.5 0.5 4 0.5 4 1 3.5 0.5 4-0.5 3.5 1 4-0.5 4 0.5 3.5-0.5 4 0 3.5 0.5 4-0.5 4 0.5 3.5-0.5 4 0 3.5 0 4 0.5 4-0.5 3.5 0 4 0 3.5 0.5 4-0.5 4-0.5 3.5 0.5 4-0.5 3.5 0 4 0 4-0.5 3.5 0 4-0.5 4 0.5 3.5 0 4 0.5 3.5 0 4-0.5 4 0.5 3.5 0 4 0 3.5 0 4 0 4 0 3.5 0.5 4 0 3.5 0 4-0.5 4 0.5 3.5 0 4 0 3.5 0.5 4-0.5 4 0.5 3.5 0 4-0.5 3.5 0.5 4-1 4 0 3.5 0.5 4 0 3.5 0 4 0 4 0 3.5-0.5 4 0.5 3.5-0.5 4 0.5 4-0.5 3.5 0 4 0 3.5 0.5 4 0 4 0 3.5-0.5 4 0 4 0.5 3.5 0 4 0 3.5-0.5 4 0.5 4 0 3.5 0 4 0 3.5-0.5 4 0.5 4-0.5 3.5 0.5 4 0 3.5 0 4 0 4 0 0 3Z" fill="url(#sg0)" stroke="#2a1018" stroke-opacity="0.4" stroke-width="0.6"/>
<path d="M86.5 2439.5l0-3.5 3.5 0.5 4-1 4 0.5 3.5 0 4 0 4 0 3.5 0 4-0.5 3.5 0 4 0 4 0 3.5 0 4 0.5 4-1 3.5 0.5 4 0 3.5-1 4 1 4 0 3.5-1 4 0.5 3.5 0 4-0.5 4 0 3.5 0.5 4 0 4 0.5 3.5-0.5 4 0.5 3.5 0 4 0.5 4 0 3.5-0.5 4 0 4 0 3.5 0.5 4 0 3.5 0 4 0 4 0 3.5 0 4-0.5 3.5 0.5 4 0 4-0.5 3.5 0.5 4-0.5 4 0 3.5-0.5 4 0 3.5-0.5 4 0.5 4-0.5 3.5-1 4 0.5 4-0.5 3.5 0 4-0.5 3.5 0.5 4 0.5 4-0.5 3.5 0.5 4 1 3.5-0.5 4 0.5 4 0.5 3.5 0.5 4-0.5 4 0 3.5 0.5 4 0 3.5 0 4-0.5 4 0 3.5 0 4 0.5 4 0 3.5 0 4 0 3.5-0.5 4 0 4 0.5 3.5-0.5 4-0.5 3.5 0 4-1.5 4-2 3.5-0.5 4-1.5 4-2 3.5-1 4 1 3.5 1.5 4 2 4 1 3.5 0.5 4 1 3.5 0 4 0 4 0.5 3.5-1 4-0.5 4-2 3.5-1.5 4-1 3.5-2 4-2 4 0 3.5 1.5 4 2 4 3 3.5 1.5 4 2 3.5 0.5 4 0.5 4 0 3.5 0.5 4 0 3.5 0 4 0 4 0 3.5 0 4 0 4 0.5 3.5 0 4-0.5 3.5 0.5 4-0.5 4 0 3.5-0.5 4 0.5 4-0.5 3.5 0 4-0.5 3.5 0.5 4-0.5 4-0.5 3.5 0 4-0.5 3.5 0 4-0.5 4 0 3.5 1 4-0.5 4 0 3.5 0 4 0 3.5 1 4 0 4 0.5 3.5 0 4 0 4 0 3.5 0 4 0.5 3.5-0.5 4 0 4 0.5 3.5 0.5 4-0.5 3.5 0 4 0 4 0 3.5-0.5 4 0.5 4 0 3.5-0.5 4 0 3.5 0 4-0.5 4 0.5 3.5 0 4 0 4 0 3.5 0 4-0.5 3.5 0 4 0 4 0 3.5 0 4 0.5 3.5 0 4 0 4 0.5 3.5-0.5 4 0 4 0.5 3.5-0.5 4 0 3.5 0 4 0.5 4-0.5 3.5 0.5 4 0 4 0 3.5 0 4 0 3.5-0.5 4 0.5 0 3Z" fill="url(#sg1)" stroke="#2a1018" stroke-opacity="0.4" stroke-width="0.6"/>
<path d="M86 2441.5l0-4 3.5 0.5 4-0.5 3.5 0.5 4 0 4-0.5 3.5 0 4 0.5 4-1 3.5 0 4 0 3.5 0 4 0 4 0 3.5-0.5 4 0.5 4-0.5 3.5-0.5 4 0 4 0 3.5 0 4 0 3.5-0.5 4 0 4 0.5 3.5 0.5 4 0 4 0.5 3.5-1 4 0.5 4 0.5 3.5 0.5 4 0 3.5-0.5 4 0 4 0.5 3.5 0 4 0 4 0 3.5 0.5 4-0.5 3.5 0 4 0 4 0 3.5 0.5 4-0.5 4-0.5 3.5 0 4-0.5 4 0.5 3.5-1 4-1 3.5-0.5 4 0.5 4 0 3.5-1.5 4 0.5 4 0 3.5 0 4 0.5 3.5 0 4 0 4 1 3.5-0.5 4 0.5 4 0.5 3.5 1 4 0 4 0 3.5 0 4 1 3.5 0 4 0 4 0 3.5 0 4-0.5 4 0 3.5 0 4 0.5 3.5-0.5 4 0 4 0 3.5-0.5 4 0 4-0.5 3.5-2 4-2 4-3.5 3.5-3 4-2 3.5-3.5 4 0.5 4-1 3.5 5 4 0.5 4 5 3.5 0.5 4 1.5 3.5 1 4 0.5 4-0.5 3.5-1.5 4-1 4-4.5 3.5-2.5 4-5.5 4-4.5 3.5 1.5 4-5 3.5 4.5 4 5.5 4 3.5 3.5 3.5 4 5.5 4 1 3.5 2.5 4 1 4-0.5 3.5 0.5 4 0 3.5 0 4 0.5 4-0.5 3.5 0 4 0 4 0 3.5-0.5 4 1 3.5-1 4 0.5 4 0 3.5 0 4-1 4 0 3.5-0.5 4 0 4-0.5 3.5-1 4 0.5 3.5-0.5 4-1 4-0.5 3.5-0.5 4 1 4 0 3.5-0.5 4 0.5 3.5 1.5 4 0.5 4-0.5 3.5 0.5 4 0.5 4 1 3.5-0.5 4 1 4-0.5 3.5 0 4 0.5 3.5 0 4 0 4 0 3.5-0.5 4 0.5 4-0.5 3.5 0.5 4 0 3.5-0.5 4 0.5 4-0.5 3.5-0.5 4 0.5 4-0.5 3.5 0 4-0.5 4 0 3.5 0 4 0.5 3.5 0 4 0 4 0 3.5-0.5 4 0 4 0 3.5 1 4 0 4 0 3.5 0 4 0 3.5 0.5 4 0 4-0.5 3.5 0 4 0 4 0.5 3.5-0.5 4 0.5 3.5 0 4 0 4-0.5 3.5 0.5 0 3Z" fill="url(#sg2)" stroke="#2a1018" stroke-opacity="0.4" stroke-width="0.6"/>
<path d="M85 2443l0-3 4 0 4 0 3.5 0 4 0 3.5-0.5 4 0 4 0 3.5-0.5 4 0 4 0 3.5-0.5 4 0 4-0.5 3.5 0 4-1 4 0.5 3.5-0.5 4 0.5 3.5-1 4 0.5 4-1 3.5 1 4-0.5 4 0.5 3.5 0 4-0.5 4 1 3.5 0 4 1 4 0 3.5 0 4 0 4 0 3.5 0.5 4 0 3.5 0.5 4 0 4 0 3.5 0.5 4-0.5 4 0 3.5 0.5 4-1 4 0 3.5 0 4 0 4-0.5 3.5-1 4-0.5 4-0.5 3.5 0.5 4-1.5 3.5-1 4-1 4-0.5 3.5 0.5 4 0 4-1 3.5 0.5 4 0 4 1 3.5 1.5 4 0 4 1 3.5 0.5 4 1 3.5 0 4 0 4 1.5 3.5 0 4 0 4 0 3.5 0 4 0 4 0 3.5 0 4 0 4 0 3.5-0.5 4 1 4-1 3.5 0.5 4-1 3.5-2 4-3 4-2.5 3.5-4.5 4-7.5 4-7 3.5 0 4 0 4-2 3.5 5.5 4 2.5 4 5 3.5 4.5 4 2.5 4 2.5 3.5 0 4 0 3.5-2 4-3.5 4-6.5 3.5-7 4-5.5 4-8.5 3.5-2 4-0.5 4 4.5 3.5 7 4 6 4 8.5 3.5 7.5 4 3 3.5 3 4 1.5 4 1 3.5 0.5 4 0 4-0.5 3.5 1 4-0.5 4-0.5 3.5 0 4 0 4 0.5 3.5-0.5 4 0 4 0 3.5 0 4-1 3.5 0 4-0.5 4-0.5 3.5-0.5 4-1 4-1 3.5 0 4-1.5 4 1 3.5-1.5 4-0.5 4 0 3.5 1.5 4-1 4 2.5 3.5 0 4 1 3.5-0.5 4 1.5 4 0.5 3.5 0 4 0.5 4 0.5 3.5 0.5 4-0.5 4 1 3.5-0.5 4 0 4 0 3.5 0 4 0 3.5 0 4 0 4-0.5 3.5 0.5 4-0.5 4 0 3.5 0 4-1 4 0.5 3.5-1 4 0.5 4-0.5 3.5-0.5 4 0.5 4 0.5 3.5 0 4-0.5 3.5 1 4 0 4-0.5 3.5 0.5 4 1 4-1 3.5 1 4 0 4-0.5 3.5 0.5 4 0 4 0 3.5 0.5 4-0.5 3.5 0 4 0 4 0 3.5 0.5 4 0 4-0.5 0 3.5Z" fill="url(#sg3)" stroke="#2a1018" stroke-opacity="0.4" stroke-width="0.6"/>
<path d="M84.5 2445l0-3.5 4 0 3.5-0.5 4 0.5 4 0 3.5 0 4-0.5 4 0 3.5 0 4-0.5 3.5 0 4-1 4-0.5 3.5 0 4-0.5 4 0 3.5-0.5 4-0.5 4-0.5 3.5 1 4-1 4 0 3.5-0.5 4 1 4-0.5 3.5 0 4 1.5 4 0 3.5 0 4 1 4 0 3.5 0 4 0.5 4 0 3.5 0.5 4 0.5 4 0 3.5 0.5 4-0.5 4 0.5 3.5-0.5 4 0 4 0 3.5 0 4 0 4 0 3.5-0.5 4-0.5 4-1 3.5-0.5 4-1 4-0.5 3.5-1 4-1.5 3.5-1 4 0 4-0.5 3.5-1 4-0.5 4 1 3.5 1.5 4 0 4 0 3.5 2 4 2 4 0 3.5 1 4 0 4 1 3.5 0.5 4 0.5 4 0 3.5 0 4 0.5 4 0 3.5 0 4 0 4 0 3.5 0 4 0 4 0 3.5-0.5 4-0.5 4-1 3.5-2 4-4 4-5.5 3.5-10 4-10 4-8.5 3.5-9.5 4 2 4 7.5 3.5-0.5 4 11 4 10 3.5 3 4 4 4 3.5 3.5 1 4-2 3.5-2.5 4-8 4-7.5 3.5-10 4-13.5 4-18 3.5-0.5 4-8 4 8 3.5 15 4 19 4 11 3.5 11 4 6.5 4 5 3.5 2.5 4 1 4 0.5 3.5 0 4 0.5 4 0 3.5-0.5 4 0 4 0.5 3.5 0 4-0.5 4 0 3.5 0 4-0.5 4-0.5 3.5 0 4-1 4-0.5 3.5-1 4 0 4-2 3.5-1.5 4-1.5 4-0.5 3.5-1 4-0.5 4 0 3.5 1 4 1.5 3.5 0 4 1.5 4-1 3.5 1.5 4 1.5 4 0.5 3.5 2 4 0.5 4 0.5 3.5-0.5 4 1 4 0.5 3.5 0.5 4-0.5 4 0 3.5 0.5 4-0.5 4-0.5 3.5 0.5 4-0.5 4-0.5 3.5 0.5 4-0.5 4-0.5 3.5 0.5 4-0.5 4-1 3.5 0.5 4 0 4-0.5 3.5 0 4 0 4-0.5 3.5 0 4 0 4 0.5 3.5 0 4 1 4 0 3.5 1 4-0.5 4 0.5 3.5 0 4 0 4 0.5 3.5 0 4-0.5 3.5 0 4 1 4-0.5 3.5 0.5 4-0.5 4 0 3.5 0 4 0 0 3.5Z" fill="url(#sg4)" stroke="#2a1018" stroke-opacity="0.4" stroke-width="0.6"/>
<path d="M84 2447l0-4 3.5 1 4-0.5 4 0 3.5-0.5 4 0 4-0.5 3.5 0.5 4-0.5 4-1 3.5-0.5 4 0 4 0.5 3.5-0.5 4-2 4 0 3.5-1 4 1.5 4-1.5 3.5 0.5 4-1.5 4 1.5 3.5-1 4 0.5 4 0 3.5 0.5 4 0.5 4 1 3.5 0 4 0 4 1 3.5 0 4 0 4 1 3.5 0 4 0.5 4 0.5 3.5 0 4 0.5 4-0.5 3.5 0 4 0.5 4-0.5 3.5-0.5 4 0 4 0 4-0.5 3.5-1 4-1 4-0.5 3.5-1.5 4-2.5 4 0 3.5-3 4 0 4-1 3.5 0.5 4-2 4 0.5 3.5 1 4 1.5 4-0.5 3.5 2 4 2.5 4 1 3.5 1.5 4 0 4 0.5 3.5 2 4 0.5 4-0.5 3.5 0.5 4 0.5 4 0.5 3.5 0 4 0 4 0 3.5-0.5 4 0.5 4-0.5 3.5-0.5 4-0.5 4-0.5 3.5-2.5 4-1.5 4-7.5 3.5-6 4-13 4-14.5 3.5-13.5 4-8 4 0 3.5 8 4 1.5 4 16 3.5 12.5 4 5.5 4 4 4 3.5 3.5 2 4-0.5 4-6.5 3.5-9 4-15 4-18 3.5-21 4-10.5 4-16.5 3.5 1.5 4 22.5 4 15.5 3.5 12.5 4 22 4 16 3.5 10 4 6 4 4.5 3.5 1 4 0.5 4 0 3.5 0.5 4-0.5 4 0.5 3.5 0 4-0.5 4 0 3.5 0 4 0.5 4-0.5 3.5-1 4 0.5 4-2 3.5 0.5 4-2 4-1.5 3.5 0 4-1 4-3 3.5 0 4-2.5 4 0 3.5-1 4-1.5 4 0 3.5 1 4 1.5 4 2 3.5 1.5 4 1 4 1 4 2 3.5 1.5 4 1 4-0.5 3.5 1 4 1 4 0 3.5 0.5 4 0 4 0 3.5-0.5 4 0.5 4-0.5 3.5 0 4-0.5 4 0.5 3.5-0.5 4-0.5 4-1 3.5 0 4 0.5 4-1 3.5 0 4-0.5 4 0 3.5 0.5 4-1 4 0.5 3.5-1 4 1 4 0.5 3.5 1 4 0 4 0 3.5 0.5 4 0.5 4-0.5 3.5 0.5 4 0 4 0.5 3.5 0 4 0 4 0.5 3.5-0.5 4 0 4 0 3.5 0.5 4 0 4 0 3.5 0 0 3.5Z" fill="url(#sg5)" stroke="#2a1018" stroke-opacity="0.4" stroke-width="0.6"/>
<path d="M83 2449l0-3.5 4-0.5 4 0.5 3.5-0.5 4 0 4-0.5 3.5 0.5 4-0.5 4-1 3.5 0.5 4-0.5 4-0.5 3.5-1.5 4-0.5 4 0 4-1 3.5 1 4-1.5 4 0.5 3.5-0.5 4-1 4 1 3.5-1.5 4 1.5 4 0 3.5 1 4 0 4-0.5 3.5 1 4 1 4 0 4 0 3.5 1 4 0.5 4 0 3.5 0.5 4 0.5 4 0.5 3.5 0 4 0 4 0 3.5 0 4 0 4-0.5 3.5 0 4-1 4 0 3.5-0.5 4-2 4-0.5 4-2.5 3.5 0 4-2 4-2.5 3.5-1.5 4 1 4-3 3.5 2 4-2.5 4 1.5 3.5 2 4 2 4-1.5 3.5 3 4 1 4 2.5 4 1 3.5 0.5 4 1 4 1 3.5 0.5 4 1 4 0 3.5 0 4 0.5 4-0.5 3.5 0 4 0.5 4 0 3.5-0.5 4-0.5 4-0.5 4-2 3.5-2 4-4 4-5.5 3.5-11 4-14 4-10.5 3.5-12.5 4-10 4-14 3.5 7.5 4 14 4 10 3.5 9.5 4 15.5 4 1.5 4 8 3.5-2 4 1 4-8.5 3.5-10 4-10 4-27.5 3.5-18.5 4-4 4-22.5 3.5 1 4 13 4 12 3.5 30 4 20.5 4 21 3.5 10 4 8 4 4.5 4 1 3.5 1.5 4 0 4 0.5 3.5-0.5 4 0 4 0.5 3.5-0.5 4 0 4 0 3.5-0.5 4 0.5 4-1 3.5-1 4-1 4 0 4-0.5 3.5-2 4-1.5 4-2 3.5-2.5 4 0.5 4-2.5 3.5-0.5 4-3 4-0.5 3.5 0.5 4 1 4 0.5 3.5 4.5 4 1 4 0 4 3 3.5 1.5 4 1.5 4 0 3.5 2 4 1 4 0 3.5 0 4 0.5 4 0.5 3.5 0 4 0 4-0.5 3.5 0 4 0 4-0.5 4-0.5 3.5 0.5 4-0.5 4-0.5 3.5-0.5 4-0.5 4-0.5 3.5-0.5 4 0.5 4-1.5 3.5 1 4-1.5 4 1.5 3.5-0.5 4 0 4 1 3.5 0.5 4-0.5 4 0.5 4 1.5 3.5 0 4 0.5 4 0 3.5 0.5 4 0 4-0.5 3.5 1 4 0 4-0.5 3.5 0 4 0.5 4-0.5 3.5 0.5 4 0 4 0 0 3.5Z" fill="url(#sg6)" stroke="#2a1018" stroke-opacity="0.4" stroke-width="0.6"/>
<path d="M82.5 2451l0-3.5 4 0 3.5-0.5 4 0 4 0 3.5-0.5 4 0.5 4-1.5 4 0 3.5-0.5 4 0 4-0.5 3.5-0.5 4-1.5 4 1 3.5-1 4-1 4-0.5 4 0.5 3.5-1 4 0 4 0 3.5-1 4 2 4 0.5 3.5 0 4-1 4 0.5 4 0.5 3.5 2 4 0.5 4-0.5 3.5 0.5 4 1 4 0 3.5 0.5 4 0 4 0 4 0.5 3.5 0.5 4 0 4 0 3.5 0 4-0.5 4 0 3.5-1 4-0.5 4 0 4-2 3.5-2 4-0.5 4-2 3.5-1 4-3.5 4 0.5 3.5-1 4 0 4-3 4 1 3.5 0.5 4 2.5 4 1.5 3.5-0.5 4 3.5 4 1 3.5 2 4 0 4 2.5 4 1 3.5 0 4 1 4-0.5 3.5 0.5 4 0 4 1 3.5-0.5 4 0.5 4-0.5 4-0.5 3.5 0 4-1 4-1 3.5-2 4-2.5 4-4.5 3.5-6.5 4-11.5 4-15 4-20 3.5-10 4-10 4-3.5 3.5 2 4 15 4 14 3.5 4.5 4 17 4 2 4 5 3.5-1 4-0.5 4-0.5 3.5-8 4-19.5 4-15.5 3.5-24 4-16 4-4.5 4 3 3.5-7 4 22 4 31.5 3.5 27.5 4 12 4 14 3.5 7.5 4 4 4 2 4 1 3.5 0 4 1 4-0.5 3.5 0.5 4-0.5 4 0.5 3.5-0.5 4-0.5 4 0.5 4-0.5 3.5-1 4 0.5 4-1.5 3.5 0 4-2.5 4-1 3.5-2 4 0 4-2 4-4 3.5-0.5 4-0.5 4-1 3.5 1 4-2.5 4 2.5 3.5 2 4 0 4 2 4 2.5 3.5 0.5 4 1 4 2.5 3.5 1 4 1 4 1 3.5 0 4 0.5 4 0.5 4-0.5 3.5 0 4 1 4-0.5 3.5 0 4 0 4-1 3.5 0 4-0.5 4-0.5 4-0.5 3.5 0 4-0.5 4-1 3.5-0.5 4 0 4 1 3.5-0.5 4 0 4 0 4 0.5 3.5-0.5 4 1 4 0.5 3.5-0.5 4 1 4-0.5 3.5 1.5 4 0 4 0.5 4 0 3.5 0.5 4 0 4 0 3.5 0.5 4 0 4 0 3.5 0 4 0 4 0 4-0.5 3.5 0.5 0 3Z" fill="url(#sg7)" stroke="#2a1018" stroke-opacity="0.4" stroke-width="0.6"/>
<path d="M82 2452.5l0-3.5 3.5 0 4 0 4 0 3.5 0 4-1 4 0.5 4 0 3.5-0.5 4-1.5 4 1 3.5-1 4-0.5 4-0.5 4-0.5 3.5-0.5 4-1 4 0 3.5-1.5 4 0 4 1.5 4 0 3.5 0 4-1 4 1 3.5 0 4 1 4 0 4 0.5 3.5 0 4 1 4 0.5 3.5 0 4 1 4-0.5 4 1 3.5 0 4 0 4 1 3.5-0.5 4 0 4 0 4 0.5 3.5-0.5 4-0.5 4-0.5 3.5-1 4 0 4-1.5 4-0.5 3.5-2 4-2.5 4-1 3.5 0 4-3 4 0.5 4-3.5 3.5 1.5 4-0.5 4 0.5 3.5 1.5 4 1.5 4 1.5 4 2.5 3.5-0.5 4 3 4 0 3.5 2 4 0.5 4 1 4 0.5 3.5 0 4 0.5 4 0.5 3.5 0 4 0 4 0 4-0.5 3.5 0 4-1 4-2 3.5-1.5 4-1.5 4-3.5 4-3.5 3.5-7.5 4-11 4-12 3.5-14 4-10 4-17.5 4-3.5 3.5 14 4 8 4 8 3.5 12.5 4 6 4 3 4 0.5 3.5 0.5 4 0 4-5.5 3.5-3.5 4-13.5 4-2 4-15.5 3.5-29 4 3.5 4-1.5 3.5 12 4 15.5 4 23 4 17.5 3.5 11.5 4 11 4 7.5 3.5 3 4 1.5 4 0.5 4 0.5 3.5 0 4 0 4 0 3.5 0 4 0 4 0 4-0.5 3.5 0 4 0 4-0.5 3.5-0.5 4-0.5 4-1.5 4-1 3.5-2 4-2 4-1.5 3.5-2 4-1 4 0 3.5-1.5 4 0.5 4-2 4 1.5 3.5-1 4 3 4 0 3.5 0 4 4 4 0 4 2 3.5 2 4 0.5 4 1.5 3.5 0.5 4 0.5 4 0 4 1 3.5 0 4 0 4-0.5 3.5 0.5 4 0 4-0.5 4-0.5 3.5 0.5 4-0.5 4-0.5 3.5-1 4-0.5 4 0.5 4-0.5 3.5-1 4 0 4-0.5 3.5 1 4-1 4 0 4 0 3.5 0 4 0.5 4 1.5 3.5 0 4-0.5 4 1 4 1 3.5 0 4 0.5 4-0.5 3.5 0.5 4 0 4 0 4 0.5 3.5 0 4 0 4 0.5 3.5 0 4 0 4 0 4 0 0 3Z" fill="url(#sg8)" stroke="#2a1018" stroke-opacity="0.4" stroke-width="0.6"/>
<path d="M81 2454.5l0-3.5 4 0 4 0 3.5 0 4-0.5 4 0 4 0 3.5 0 4-1 4 0 4-0.5 3.5 0 4-1 4-1 3.5-0.5 4-0.5 4 1 4-2 3.5 1 4-1 4 0 4-0.5 3.5 1 4 0.5 4 0 3.5 0.5 4-0.5 4 1.5 4 0.5 3.5 0 4 0 4 1 4 0.5 3.5 0 4 0 4 0.5 3.5 0 4 0.5 4 0.5 4 0 3.5 0 4 0 4-0.5 4 0 3.5-0.5 4-0.5 4 0.5 3.5-1 4-1 4-1.5 4-1 3.5-2 4-2 4-1.5 4 0.5 3.5-2.5 4 1.5 4-1 3.5-1.5 4 0 4 2.5 4 1.5 3.5 2 4 1.5 4 0.5 4 0.5 3.5 1.5 4 0.5 4 2 3.5 0 4 0 4 0.5 4 1 3.5 0 4 0 4 0 4-1 3.5 0.5 4-1.5 4 0 3.5-3 4-1 4-3 4-2 3.5-6.5 4-6 4-9 4-12.5 3.5-9.5 4-14.5 4-7 3.5 6 4 0 4 10 4 4 3.5 13 4 3 4 4.5 4-6 3.5 3.5 4-2 4 3 3.5-4.5 4-2.5 4-17.5 4-8 3.5-9.5 4-5.5 4 4 4 12.5 3.5 4.5 4 24.5 4 11.5 3.5 11 4 7 4 5 4 3 3.5 0.5 4 1 4 0 4-0.5 3.5 0.5 4-0.5 4 0.5 3.5 0 4-0.5 4 0 4 0 3.5 0 4 0 4-1.5 4 0 3.5-0.5 4-1.5 4-0.5 3.5-2.5 4 0 4-2.5 4-1.5 3.5-2.5 4 2 4-4 4 3 3.5-1.5 4 2 4 1 3.5 0.5 4 2 4 1 4 0.5 3.5 2 4 1 4 0.5 4 1.5 3.5 0.5 4 0 4 0.5 3.5 0 4 1 4-0.5 4 0.5 3.5-1 4 0 4 0 4 0 3.5 0 4-0.5 4 0 3.5 0 4-1 4 0 4-0.5 3.5 0 4-1.5 4 1 4-1 3.5 0.5 4-0.5 4 0 3.5 0.5 4 1 4 0 4 0 3.5 1 4 0 4 0 4 0.5 3.5 0.5 4 0.5 4 0 3.5-0.5 4 0.5 4 0.5 4 0 3.5-0.5 4 0 4 0 4 0 3.5 0.5 4-0.5 0 3.5Z" fill="url(#sg9)" stroke="#2a1018" stroke-opacity="0.4" stroke-width="0.6"/>
<path d="M80.5 2456.5l0-3.5 4 0 3.5-0.5 4 0.5 4-0.5 4 0 3.5-0.5 4 0 4 0 4-1 3.5 0 4-0.5 4-0.5 4 0 3.5 0 4-1.5 4 1 4-2 3.5 1 4-0.5 4 0.5 3.5-1 4 0 4 0.5 4-0.5 3.5 0.5 4 1 4 0.5 4 0.5 3.5 0 4 0 4 0.5 4 1 3.5 0 4 1 4-0.5 4 0 3.5 0 4 0.5 4 0 4 0 3.5 0.5 4 0 4-0.5 4 0 3.5-1 4 0 4-1 3.5-1 4 0.5 4-2.5 4-1.5 3.5 0 4-1.5 4-1 4 0.5 3.5-3 4 1 4-1 4 2 3.5-0.5 4 3 4 0 4 2 3.5 0 4 1.5 4 1 4 1 3.5 0.5 4 0 4 0.5 4 1 3.5 0 4 0 4 0 3.5 0 4-0.5 4-1 4-1.5 3.5-1 4-2 4-3 4-3.5 3.5-3 4-5.5 4-3.5 4-6.5 3.5-10.5 4-0.5 4-11.5 4 2.5 3.5-2.5 4 4.5 4-4.5 4 6 3.5 5 4 2.5 4-1 4-1.5 3.5 0.5 4-5 4 2.5 3.5 6 4-0.5 4-9 4-1.5 3.5-2.5 4 0 4 4.5 4-3 3.5 15 4 6.5 4 10.5 4 6.5 3.5 6 4 2.5 4 1.5 4 1.5 3.5 0 4 0.5 4 0 4 0 3.5-0.5 4 0.5 4-0.5 4 0.5 3.5-0.5 4-0.5 4 0.5 3.5 0 4-0.5 4-0.5 4-1 3.5-0.5 4-1.5 4-1 4-1 3.5-0.5 4-1.5 4-0.5 4-2.5 3.5 0.5 4 1 4-0.5 4 0 3.5-0.5 4 1.5 4 1 4 1.5 3.5 1.5 4 1.5 4 1 4 0 3.5 1 4 1 4 0 4 0 3.5 0 4 0.5 4 0 3.5-0.5 4 0 4 0.5 4 0 3.5-0.5 4 0 4-0.5 4 0 3.5-1 4 0.5 4-0.5 4-0.5 3.5 0.5 4-1 4 0.5 4-0.5 3.5-0.5 4 0.5 4-0.5 4 1 3.5 0.5 4-0.5 4 0 4 0.5 3.5 1 4-0.5 4 0.5 3.5 0 4 1 4-0.5 4 0 3.5 0.5 4 0 4 0 4 0 3.5 0.5 4 0 4 0 4 0 3.5 0 0 3Z" fill="url(#sg10)" stroke="#2a1018" stroke-opacity="0.4" stroke-width="0.6"/>
<path d="M80 2458.5l0-3.5 3.5 0 4 0 4-0.5 4-0.5 3.5 0.5 4 0 4-1 4 0 3.5 0 4-0.5 4 0 4-1 3.5 0 4 0 4 0 4-1.5 3.5 0.5 4-0.5 4 0.5 4 0 3.5 0 4-1 4 1 4 0 3.5 0.5 4-0.5 4 1 4 0.5 3.5-0.5 4 0 4 1.5 4-0.5 3.5 0.5 4 0.5 4 0 4 0.5 4 0 3.5-0.5 4 0.5 4 0 4 0.5 3.5 0 4-0.5 4 0 4-0.5 3.5 0 4-1 4-0.5 4-1 3.5-0.5 4-1 4-1.5 4 0.5 3.5-2.5 4 0 4 0.5 4-0.5 3.5-0.5 4 1 4 1 4-1 3.5 1.5 4 2 4-0.5 4 2 3.5 0 4 1 4 0.5 4 0.5 3.5 0 4 0.5 4 0 4 0 3.5 0.5 4-0.5 4-0.5 4-1 3.5-1.5 4-2 4-3.5 4-4 3.5-1 4-5 4-3.5 4-3.5 3.5-7 4-1.5 4-6 4-2 3.5 1.5 4 3 4-4.5 4 2.5 4 1 3.5 2.5 4 3 4-9.5 4 1 3.5 1.5 4-1 4 2.5 4-5.5 3.5 1.5 4 2.5 4-1 4 0 3.5 1 4 4.5 4 7 4 6 3.5 3 4 8 4 5 4 2 3.5 3 4 0.5 4 0.5 4 0.5 3.5 0.5 4 0 4 0 4 0 3.5-0.5 4 0 4 0 4 0 3.5 0.5 4-1 4 0 4-0.5 3.5 0 4-0.5 4 0 4-2 3.5 0 4-2 4-0.5 4 0.5 3.5-2 4 0 4 0.5 4-1 3.5 0.5 4-1 4 2 4 0.5 4 1 3.5 1 4 0 4 0.5 4 1.5 3.5 0.5 4 0 4 1 4 0 3.5 0.5 4 0 4 0 4 0 3.5 0 4 0 4 0 4-0.5 3.5 0.5 4-0.5 4 0 4-0.5 3.5-0.5 4-0.5 4 0.5 4-0.5 3.5 0 4-1 4 1 4-1 3.5-0.5 4 1 4-0.5 4 1 3.5 0 4-0.5 4 0 4 1 3.5 0 4 1 4-0.5 4 0 3.5 0.5 4 0 4 0.5 4 0 3.5 0 4 0 4 0 4 0 3.5 0 4 0 4 0 4 0 0 3.5Z" fill="url(#sg11)" stroke="#2a1018" stroke-opacity="0.4" stroke-width="0.6"/>
<path d="M79 2460l0-3 4 0 4-0.5 4 0.5 3.5-1 4 0.5 4-0.5 4-0.5 3.5 0.5 4-1 4-0.5 4-0.5 3.5 0 4-0.5 4 0 4 0 4 0 3.5-1.5 4-0.5 4 0 4 0.5 3.5 0 4 0.5 4-0.5 4 0.5 3.5 1 4-0.5 4 1 4-0.5 4 0.5 3.5 0.5 4 0 4 0.5 4 1 3.5 0 4-0.5 4 1 4-0.5 3.5 1 4-1 4 0 4 0.5 4-0.5 3.5 0 4 0 4 0 4 0 3.5-1 4-1 4-0.5 4-1 3.5-2 4-0.5 4-0.5 4-0.5 4-1 3.5-0.5 4 1 4-1 4 0 3.5 1 4 1 4 2 4 0.5 3.5 0.5 4 0.5 4 1 4 1 3.5 0 4 1 4 0.5 4 0 4 0.5 3.5-0.5 4 0.5 4-1 4-0.5 3.5 0 4-2.5 4-2.5 4-4 3.5-2.5 4-7 4-1.5 4-7.5 4 0 3.5 0.5 4 0.5 4-5.5 4 5.5 3.5-2 4 0 4 3 4 2.5 3.5-2.5 4-5.5 4-2 4-7 4 0 3.5-3.5 4 4 4-2.5 4 3 3.5-1.5 4 3.5 4 2 4 6.5 3.5 1 4 1 4 5 4 2.5 4 6.5 3.5 3 4 4.5 4 1.5 4 2.5 3.5 0.5 4 1 4 0.5 4 0 3.5 0.5 4-0.5 4 0 4 0 4 0 3.5-0.5 4 0 4 0.5 4-0.5 3.5-0.5 4 0.5 4 0 4-1 3.5 0 4-0.5 4-1 4-1 3.5-0.5 4-1 4-1.5 4 1.5 4-0.5 3.5-1 4 1 4-1 4 1.5 3.5 0.5 4 0 4 1.5 4 0.5 3.5 0.5 4 0.5 4 1 4-0.5 4 0.5 3.5 0 4 0.5 4 0 4 0 3.5 0 4 0 4 0.5 4-0.5 3.5-0.5 4 0.5 4-0.5 4 0.5 4-1 3.5-0.5 4 0 4 0 4-0.5 3.5-0.5 4 1 4-0.5 4-0.5 3.5 0 4 0.5 4 0 4-0.5 4 0.5 3.5 0 4 0.5 4 0 4 1 3.5 0.5 4 0 4 0 4 0 3.5 0 4 0 4 0 4 0 4 0.5 3.5 0 4 0 4 0 4 0 3.5 0.5 4-0.5 0 3.5Z" fill="url(#sg12)" stroke="#2a1018" stroke-opacity="0.4" stroke-width="0.6"/>
<path d="M78.5 2462l0-3.5 4 0.5 3.5-0.5 4 0 4-0.5 4 0.5 4-0.5 3.5-0.5 4 0 4-1.5 4 1 4-1 3.5 0 4-0.5 4-1 4 0 3.5 0.5 4-0.5 4-1 4-0.5 4 0.5 3.5 0 4 0.5 4 0 4 0.5 3.5 0 4 0 4 1 4 0.5 4-0.5 3.5 0 4 1 4 1 4 0 4 0 3.5 0.5 4-0.5 4 1 4-0.5 3.5 0 4 1 4-0.5 4 0 4 0 3.5-1 4 0.5 4-1 4-1.5 3.5-0.5 4-0.5 4-1.5 4-1.5 4 0 3.5-1.5 4-1 4 0.5 4-3 3.5 1.5 4-1 4 0.5 4 1 4 3 3.5 1 4 0.5 4 1.5 4 0 4 1.5 3.5 0.5 4 1 4-0.5 4 1 3.5 0.5 4 0 4-0.5 4 0.5 4-0.5 3.5-0.5 4-1 4-2.5 4-1.5 3.5-5.5 4-2.5 4-4.5 4-8.5 4 1 3.5-7.5 4 3 4 0 4 4.5 4 1.5 3.5 2 4 4 4-0.5 4-1.5 3.5 0 4-3 4-6 4-5 4-5.5 3.5-5.5 4-1.5 4 2.5 4 3.5 3.5 3 4 5 4-2 4 0.5 4 6.5 3.5-3 4 7 4 2 4 4 3.5 5.5 4 5 4 1 4 3 4 1.5 3.5 1 4 1 4-0.5 4 0.5 4 0 3.5 0 4 0 4 0 4 0 3.5-0.5 4 0 4-0.5 4 0.5 4-0.5 3.5 0 4-0.5 4-1 4-1 3.5-0.5 4 0 4-1.5 4-1 4 0.5 3.5-0.5 4-0.5 4-1 4 1 3.5 0 4 1 4 1 4-0.5 4 1 3.5 1 4 0.5 4 0.5 4 0.5 4 1 3.5 0.5 4-0.5 4 1 4-0.5 3.5 0 4 0.5 4-0.5 4 0.5 4-1 3.5 0.5 4-0.5 4-0.5 4-0.5 3.5 0 4 0 4 0 4-1 4 0.5 3.5-0.5 4-0.5 4 0.5 4 0 4-1 3.5 0.5 4 0 4 0 4 0 3.5 1 4 0.5 4-0.5 4 0.5 4 0 3.5 0.5 4 0 4 1 4 0.5 3.5-0.5 4 0 4 0 4 0 4 0.5 3.5 0 4 0 4 0 4 0 3.5-0.5 0 4Z" fill="url(#sg13)" stroke="#2a1018" stroke-opacity="0.4" stroke-width="0.6"/>
<path d="M78 2464l0-3.5 3.5 0 4-0.5 4 0 4 0 4 0 3.5-0.5 4-0.5 4-0.5 4-0.5 4-0.5 3.5-1 4-0.5 4 0 4 0 4-1 3.5 0.5 4-1 4-1 4 0.5 4-1 3.5 2 4-0.5 4 0 4 1 3.5 0 4-0.5 4 0.5 4 1 4 1 3.5-1 4 1 4 1.5 4 0 4 0.5 3.5 0 4 0.5 4-0.5 4 0 4 0.5 3.5 0 4 0.5 4 0 4-0.5 4-1 3.5 0.5 4-1.5 4-0.5 4-0.5 4-2 3.5-1.5 4-1 4-3 4-1.5 4 1 3.5-4 4 2.5 4-2 4 0.5 4 2 3.5 1.5 4-1 4 2.5 4 0.5 4 3.5 3.5 0 4 2.5 4 1 4 0.5 3.5 0.5 4 0 4 0.5 4 0 4 0 3.5 0 4-0.5 4 0 4-1.5 4-1 3.5-2 4-4.5 4-4.5 4-6 4-7 3.5 1 4-5.5 4-0.5 4 3.5 4 5 3.5 4 4 3.5 4 1 4 1.5 4 1.5 3.5-3 4-3.5 4-8 4-6 4 2 3.5-9 4-0.5 4-4.5 4-1.5 4 8 3.5-4.5 4-2.5 4 0.5 4 8.5 3.5 1.5 4 5.5 4 2.5 4 3.5 4 5 3.5 5 4 5.5 4 2.5 4 2 4 2 3.5 1 4-0.5 4 1 4-0.5 4 0 3.5 0 4 0 4 0.5 4-0.5 4 0.5 3.5-1 4 0.5 4-0.5 4-0.5 4-1.5 3.5 0 4-0.5 4-1.5 4-1 4-0.5 3.5-1.5 4 1 4-0.5 4-2.5 4 2 3.5-1 4 1.5 4 0.5 4 0 4 1.5 3.5 0.5 4 1.5 4-0.5 4 2 3.5 0 4 0.5 4 0.5 4 0 4 0.5 3.5 0 4 0 4 0 4 0 4 0 3.5 0 4-1 4 0 4-0.5 4 0.5 3.5-1.5 4 0.5 4-0.5 4-1 4-0.5 3.5-0.5 4 1 4 0 4-0.5 4 0 3.5 0.5 4 0 4-0.5 4 1 4-0.5 3.5 1 4-0.5 4 1 4 0.5 4 0.5 3.5 0 4 1 4-0.5 4 0.5 4 0.5 3.5-0.5 4 0 4 0 4 0.5 3.5 0 4-0.5 4 0 4 0.5 0 3Z" fill="url(#sg14)" stroke="#2a1018" stroke-opacity="0.4" stroke-width="0.6"/>
<path d="M77 2466l0-4 4-0.5 4 0.5 4-0.5 4-0.5 3.5 0 4-0.5 4 0 4-0.5 4-1.5 3.5 1 4-2 4-0.5 4-0.5 4-1 3.5-0.5 4-1 4 0 4 0.5 4 1 3.5-0.5 4 0 4-0.5 4 1 4-1.5 4 0.5 3.5 2.5 4 0.5 4 0.5 4 0.5 4 0 3.5 1 4-0.5 4 1.5 4 0 4 1 3.5-0.5 4 1 4 0 4 0 4 0.5 3.5-0.5 4-0.5 4-0.5 4 0 4-1 3.5-1 4-2 4-0.5 4-2 4-2 4-2 3.5-3.5 4 0.5 4-3.5 4 1 4-3 3.5 0.5 4 1 4 3 4 1.5 4 1.5 3.5 1.5 4 1 4 1.5 4 2.5 4 2 3.5 1.5 4 0.5 4 0.5 4 0.5 4 1 4 0.5 3.5 0 4 0 4-0.5 4-0.5 4-0.5 3.5-2.5 4-3 4-3.5 4-4.5 4-4 3.5-3 4-5 4-1 4-2.5 4 7.5 3.5-0.5 4 5.5 4 4 4 1.5 4 1 4 0.5 3.5-2.5 4-2.5 4-4 4-4 4-7 3.5-2 4-3 4-7 4-4.5 4 4.5 3.5-8 4 0.5 4-1.5 4 2.5 4 1 3.5 3.5 4 4.5 4 12 4 8 4 2.5 3.5 6.5 4 4 4 3.5 4 1.5 4 1 4 0.5 3.5 0.5 4 0.5 4 0 4-0.5 4 0 3.5 0.5 4-1 4 0 4 0.5 4-0.5 3.5-0.5 4-0.5 4-1 4-0.5 4-2 3.5-1 4-0.5 4-2.5 4-0.5 4-1.5 4 0 3.5 1 4 0.5 4-2 4 0.5 4 3 3.5-0.5 4 0.5 4 3 4 0 4 1.5 3.5 0.5 4 1 4 0 4 0.5 4 1 3.5 0 4 0.5 4 0 4-0.5 4 0.5 4 0 3.5-1 4 0 4 0 4-1 4-0.5 3.5-0.5 4-1 4 0 4-1 4-0.5 3.5-1 4 0 4 1 4-0.5 4-0.5 3.5 0 4 1 4-0.5 4 1 4 0.5 3.5 1.5 4 0 4-0.5 4 1.5 4 0 4 0.5 3.5 0 4 0.5 4 1 4 0 4-0.5 3.5 0.5 4 0 4 0.5 4 0 4-0.5 3.5 0 4 0.5 0 3Z" fill="url(#sg15)" stroke="#2a1018" stroke-opacity="0.4" stroke-width="0.6"/>
<path d="M76.5 2468l0-4 4-0.5 4 0 3.5-0.5 4 0 4-0.5 4-0.5 4-0.5 4-0.5 3.5-1 4-0.5 4 0 4-0.5 4-0.5 3.5-2.5 4-1 4 0.5 4-1 4 1.5 4-2 3.5 0.5 4 1.5 4-1.5 4-0.5 4 2 4-0.5 3.5 2 4-0.5 4 2 4-0.5 4 2 3.5-0.5 4 1.5 4 0.5 4-0.5 4 1 4 0 3.5 1 4 0 4 0 4 0 4-0.5 3.5 0 4 0 4-0.5 4-1 4-1 4-2 3.5-1.5 4-2.5 4-2 4-2.5 4-1 4-3.5 3.5-3.5 4 1.5 4-5 4 4.5 4 0 3.5 1.5 4 2 4 0 4 3 4 2 4 2 3.5 3 4 2 4 1.5 4 1.5 4 0.5 4 1 3.5 0.5 4 0.5 4 0 4 0 4 0 3.5-0.5 4-1 4-1 4-2.5 4-4.5 4-3.5 3.5-2.5 4-6.5 4 1.5 4-1.5 4-0.5 4 1 3.5 2 4 4 4 4 4 3.5 4 1.5 3.5-2.5 4-1 4-1 4-4.5 4-7 4-4 3.5-1.5 4-2.5 4-4 4-5.5 4-7.5 3.5-8.5 4 2 4-2 4-1.5 4 0.5 4-2 3.5 13.5 4 8 4 10.5 4 4.5 4 8.5 4 6.5 3.5 2.5 4 1.5 4 2.5 4 0.5 4 0.5 3.5 0.5 4 0 4 0 4-0.5 4 0 4-0.5 3.5-0.5 4 0 4-0.5 4 0 4-1.5 4 0 3.5-1 4-1.5 4-2.5 4 0 4-2.5 3.5-1.5 4-0.5 4-0.5 4 0.5 4-1 4-0.5 3.5 1.5 4 1.5 4 1 4 2.5 4-1 3.5 2.5 4 1.5 4 1.5 4 0 4 1 4 1 3.5 0 4 0.5 4-0.5 4 0.5 4 0 4-0.5 3.5 0 4 0 4-1 4 0 4-0.5 3.5-1 4-1 4 0.5 4-1 4-0.5 4-1.5 3.5 1 4-1 4-1.5 4 0 4 2 4-0.5 3.5 0 4-0.5 4 2 4-1 4 2 3.5 0.5 4 0 4 1.5 4 0.5 4 0.5 4-0.5 3.5 0.5 4 0.5 4 0.5 4 0.5 4 0 4-0.5 3.5 0.5 4 0 4 0 4 0.5 4 0 0 3Z" fill="url(#sg16)" stroke="#2a1018" stroke-opacity="0.4" stroke-width="0.6"/>
<path d="M76 2469.5l0-3.5 3.5 0 4-0.5 4-0.5 4-0.5 4 0 4-1 3.5 0.5 4-0.5 4-1 4-1 4 0 4-1 3.5-2 4-1.5 4 1 4-1 4-1 4 0.5 4 0 3.5-1 4 0.5 4 0 4-1 4 2 4-1 3.5 0.5 4 2 4 1.5 4-0.5 4 1.5 4 1 3.5 0.5 4 1 4-0.5 4 1 4 0.5 4 1 3.5 0 4 0 4-0.5 4 0 4 0 4-0.5 3.5-1 4 0 4-2 4-2.5 4-2 4-1 3.5-3.5 4-4 4 0.5 4-4.5 4 0 4-2 3.5-5 4 0.5 4 1.5 4 2.5 4-0.5 4 3 3.5 4 4 2 4 6 4 0 4 3 4 2.5 3.5 1 4 0.5 4 1.5 4 0 4 0.5 4 0 3.5 0 4 0 4-0.5 4-0.5 4-1.5 4-1 4-3 3.5-4 4-0.5 4-6 4-2 4 1.5 4-2 3.5 5 4 2 4 1 4 4.5 4 0.5 4 0.5 3.5 0.5 4 0 4-2 4-5 4-4.5 4-0.5 3.5-8.5 4-0.5 4-7 4-7.5 4-7 4-12.5 3.5 4 4-14 4 0 4 5 4 10 4 5 3.5 6.5 4 10.5 4 10 4 8 4 7 4 3 3.5 2.5 4 2 4 1 4 0 4 1 4-0.5 3.5 0.5 4-1 4 0.5 4-0.5 4 0 4-1 3.5 0 4-0.5 4-1 4-0.5 4-2 4-2 3.5-1.5 4 0.5 4-2.5 4-2.5 4-1 4 1 4-2 3.5 1.5 4 0 4-0.5 4 1.5 4 2 4 1 3.5 1.5 4 1 4 1.5 4 2 4 0.5 4 1 3.5 0.5 4 1 4 0 4 0.5 4-0.5 4 0.5 3.5 0 4-0.5 4 0 4-0.5 4-1 4 0 3.5-2 4 0 4-1.5 4-0.5 4 0.5 4-0.5 3.5-0.5 4-0.5 4 0 4 0 4-0.5 4-1.5 3.5 2.5 4-0.5 4 1 4-0.5 4 1.5 4 0.5 3.5 1 4 1 4 0.5 4-0.5 4 1.5 4 0 3.5 0.5 4 0.5 4-0.5 4 1 4 0 4-0.5 3.5 1 4-0.5 4 0.5 4-0.5 0 3.5Z" fill="url(#sg17)" stroke="#2a1018" stroke-opacity="0.4" stroke-width="0.6"/>
<path d="M75 2471.5l0-3.5 4-0.5 4 0.5 4-1 4 0 4-0.5 3.5-0.5 4-1 4-1 4-1 4 0 4-0.5 3.5-1.5 4 0.5 4-0.5 4-1 4 0 4-2 4-1.5 3.5 1.5 4-0.5 4-1 4 1.5 4 1 4 0 4-0.5 3.5 0.5 4 1 4 1 4 0.5 4 1.5 4 0.5 3.5 1.5 4-0.5 4 1.5 4 0.5 4-0.5 4 0.5 4 1 3.5-0.5 4 0.5 4-0.5 4-0.5 4 0 4-1 4-1 3.5-0.5 4-1 4-2 4-5 4-1.5 4-3 3.5-4 4-2 4-0.5 4-3.5 4 1 4-1 4 1 3.5-0.5 4 6.5 4 1.5 4 0 4 3.5 4 2 4 2.5 3.5 4 4 0.5 4 1.5 4 1.5 4 1 4 0.5 3.5 0.5 4 0.5 4 0 4 0 4-0.5 4-0.5 4-0.5 3.5-2 4-1.5 4-3 4-1 4-2 4-2 4-2 3.5 0 4 2 4 3 4 2.5 4 2 4 1.5 3.5 0 4 0.5 4-2 4-2 4-2 4-1.5 4-2.5 3.5-4.5 4-9.5 4-2 4-9 4-8.5 4-9.5 4-12 3.5-0.5 4-4 4 7.5 4 11.5 4-0.5 4 17 3.5 5 4 9.5 4 7 4 7 4 2.5 4 2.5 4 2 3.5 1 4 0.5 4 0.5 4 0 4 0 4 0 3.5-0.5 4 0 4 0 4-1 4 0 4-1 4-1.5 3.5-1 4-0.5 4-1 4-2 4-1.5 4 0 4-3 3.5 0 4-0.5 4-3 4 3.5 4-2 4 0 3.5 2.5 4 0 4 3 4 1.5 4 2 4 0.5 4 1.5 3.5 0.5 4 1 4 0.5 4 0.5 4 0.5 4 0.5 4-0.5 3.5 0 4 0 4 0 4-0.5 4 0 4-1.5 3.5 0 4-0.5 4-1 4-1 4-1 4-1 4 0.5 3.5-1.5 4 0.5 4-2 4 2 4-2 4 1 4 0 3.5 2.5 4-0.5 4 0 4 2 4 0.5 4-0.5 3.5 1.5 4 1 4 0.5 4 1 4 0 4 0.5 4-0.5 3.5 1 4-0.5 4 0.5 4 0 4 0 4 0.5 4-0.5 3.5 0 0 3.5Z" fill="url(#sg18)" stroke="#2a1018" stroke-opacity="0.4" stroke-width="0.6"/>
<path d="M74.5 2473.5l0-3.5 4-1 4 0 4 0.5 3.5-1 4 0.5 4-1 4 0 4-1.5 4 0 4 0 3.5-1.5 4-1.5 4 0 4-1.5 4-0.5 4 0 4-0.5 4 0 3.5 0.5 4-1.5 4 1 4 0.5 4 0.5 4-0.5 4-1 3.5 3 4 0 4 1 4 0.5 4 0 4 1 4 0 3.5 2 4-1 4 2 4 0 4 0 4 0.5 4-0.5 3.5 0 4 0 4 0 4-0.5 4-0.5 4-1.5 4-1 4-1 3.5-3 4 0 4-2 4-5 4 0.5 4-6.5 4 1.5 3.5-5.5 4 0 4 2 4-1 4 5 4-2 4 2.5 3.5 4 4 1 4 5.5 4 1.5 4 1.5 4 1.5 4 1 4 0.5 3.5 1.5 4 0.5 4 0 4 0.5 4 0 4 0 4-0.5 3.5 0.5 4-1.5 4 0 4-2 4-2 4-1.5 4-1 3.5-1.5 4 1 4-2 4 2 4 1.5 4 0.5 4 2 4 1.5 3.5 1 4-0.5 4-0.5 4-2 4-1.5 4-2.5 4-3.5 3.5-2.5 4-3.5 4-10 4-4.5 4-5.5 4-14.5 4 4 3.5-6.5 4-9.5 4 0.5 4 8.5 4 13 4 2.5 4 11.5 4 7.5 3.5 7.5 4 3.5 4 6 4 1 4 1.5 4 1.5 4 0.5 3.5-0.5 4 0 4 0.5 4-0.5 4 0 4 0 4-0.5 3.5 0 4 0 4-1 4-1 4-1 4-1.5 4-0.5 3.5-1 4-3 4-1.5 4 1.5 4-2.5 4 0.5 4-2 4 2.5 3.5-2.5 4 2.5 4-0.5 4 3 4 0.5 4 1.5 4 1 3.5 0.5 4 1.5 4 0.5 4 0.5 4 1 4 1 4 0 3.5 0 4 0 4 0.5 4 0 4-0.5 4 0 4-0.5 4-0.5 3.5-0.5 4-0.5 4-1.5 4 0 4-2 4 0 4 0 3.5-0.5 4-1 4 0.5 4-1.5 4 1.5 4-1 4 1.5 3.5-0.5 4 1.5 4-0.5 4 2 4-0.5 4 1.5 4 1 4 0 3.5 0.5 4 0 4 1 4-0.5 4 1 4 0 4 0.5 3.5-0.5 4 0.5 4 0 4 0 4-0.5 4 0.5 0 3.5Z" fill="url(#sg19)" stroke="#2a1018" stroke-opacity="0.4" stroke-width="0.6"/>
<path d="M74 2475.5l0-3.5 4-0.5 3.5-0.5 4 0 4 0 4-0.5 4-0.5 4 0 4 0 4-1 3.5-1.5 4 0.5 4-1 4-0.5 4 0 4-1 4 0 4-2 3.5 1 4-1.5 4 0.5 4 0.5 4 1 4-0.5 4 1 4-0.5 3.5 1 4 0 4 0.5 4 2 4-1 4 0.5 4 1.5 4 0 3.5 1 4 0 4 0 4 1 4 0 4-0.5 4 0.5 4 0 3.5 0 4-0.5 4-0.5 4-0.5 4-1.5 4-1 4-2.5 4 0 3.5-3.5 4 0.5 4-5.5 4 0.5 4-1 4-4 4 2.5 4-3.5 3.5 4.5 4-1.5 4 0.5 4 3.5 4 0.5 4 4 4 2.5 4 0 4 1.5 3.5 2.5 4 1 4 0 4 0.5 4 0.5 4 0.5 4 0.5 4 0 3.5-0.5 4 0.5 4 0 4-1 4 0 4-0.5 4-2 4-1 3.5 0.5 4-1 4-1 4 0.5 4-0.5 4 1.5 4 0.5 4 1 3.5 1.5 4 0.5 4-0.5 4-1 4 0 4-1 4-1.5 4-3 3.5-3 4-2 4-7.5 4-3.5 4-5.5 4-9.5 4-0.5 4-10 3.5 6.5 4-6 4 8.5 4 2 4 6 4 7 4 8 4 5.5 3.5 4.5 4 3.5 4 1 4 2 4 0 4 0.5 4 0.5 4-0.5 3.5 0.5 4-0.5 4 0.5 4-0.5 4 0 4-1 4 0.5 4-1.5 3.5 0 4-1.5 4 0 4-0.5 4-2 4-0.5 4-2 4 1 4-1 3.5-2 4 0.5 4-1 4 0.5 4 0 4 3 4 0 4 0 3.5 2.5 4 1 4 0 4 0.5 4 1 4 1.5 4 0 4 0 3.5 0.5 4 0 4 0 4 0 4 0.5 4 0 4-0.5 4 0 3.5-1 4-1 4 0.5 4-0.5 4-1 4 0.5 4-1 4-1.5 3.5 1 4-1 4 0 4 0 4-0.5 4 1 4 0.5 4 0 3.5-0.5 4 0 4 0.5 4 1 4 1 4 0 4 1.5 4 0 3.5 0.5 4 0.5 4 0 4 0 4 0 4 0 4 0 4 0 3.5 0.5 4-0.5 4 0 4 0.5 0 3.5Z" fill="url(#sg20)" stroke="#2a1018" stroke-opacity="0.4" stroke-width="0.6"/>
<path d="M73 2477.5l0-3.5 4-0.5 4 0 4 0 4 0 4-0.5 4 0 4-1 3.5 0 4 0 4-1 4 0 4-1.5 4-0.5 4 0 4 0 4 0 3.5-1.5 4 0.5 4 0 4 0.5 4 0 4-1.5 4 0.5 4 0.5 4 1.5 3.5 0 4-0.5 4 1 4 0.5 4 0 4 1.5 4 0.5 4-0.5 4 0.5 3.5 0 4 0 4 0.5 4 0.5 4-0.5 4 0.5 4 0 4-0.5 4 0.5 3.5-0.5 4-1 4-1 4-1 4-0.5 4-1.5 4-0.5 4-3 4-0.5 4-1 3.5 0 4-4 4 0 4 0.5 4 2.5 4 0 4-0.5 4 1.5 4 3.5 3.5-0.5 4 1.5 4 1.5 4 2 4 1 4-0.5 4 1 4 1 4-0.5 3.5 0.5 4 0.5 4 0 4-0.5 4 0 4 0.5 4 0 4-0.5 4-1 3.5 0 4-1 4 0 4-1 4 0 4-0.5 4 1.5 4-0.5 4 0.5 3.5 0.5 4 1 4 0.5 4-0.5 4 0 4-1 4-1 4 0 4-2 3.5-1 4-4.5 4-2 4-5.5 4-3 4-7.5 4-1.5 4-4.5 4-3.5 3.5 3.5 4 6 4 2 4 3.5 4 8 4 2.5 4 5.5 4 2.5 4 1.5 3.5 1 4 0.5 4 0.5 4 1 4 0 4-0.5 4 0 4 0.5 4-0.5 3.5 0.5 4-1 4 0.5 4-0.5 4-1 4 0 4-0.5 4-0.5 4 0 4-1.5 3.5-0.5 4-1.5 4 0 4-1.5 4 1 4 0.5 4-1 4-0.5 4 2 3.5-1.5 4 0.5 4 2 4 0.5 4 0 4 1 4 1 4 1 4-0.5 3.5 0.5 4 0.5 4 0 4 0.5 4 0 4 0 4 0 4-0.5 4 0 3.5 0.5 4-1 4 0 4-0.5 4 0 4-1 4-0.5 4-0.5 4 0 3.5 0.5 4 0 4-1 4 0 4-0.5 4 1 4 0.5 4-0.5 4 1 3.5 0 4 0 4 0 4 1 4 0 4 0 4 1 4 0 4 0 3.5 0 4 0.5 4 0 4 0.5 4 0 4 0 4 0 4-0.5 4 0.5 3.5-0.5 0 3.5Z" fill="url(#sg21)" stroke="#2a1018" stroke-opacity="0.4" stroke-width="0.6"/>
<path d="M72.5 2479l0-3 4-0.5 4 0 4 0 4 0 4-0.5 3.5 0 4 0 4-1 4 0 4-0.5 4 0.5 4-0.5 4-0.5 4-0.5 4-0.5 3.5-0.5 4 1 4 0 4-0.5 4-0.5 4 0.5 4 0 4-0.5 4 0.5 4 0 3.5 0.5 4 1 4 0 4 0.5 4 0 4-0.5 4 1 4 0.5 4 0 4 0.5 4-0.5 3.5 0 4 0.5 4 0 4-0.5 4 1 4-0.5 4 0 4-0.5 4 0 4-0.5 3.5-1 4-0.5 4 0 4-1.5 4-1.5 4 0.5 4-2.5 4 0 4-0.5 4 0.5 4-1 3.5-1 4 2 4 0.5 4 2 4 0 4 0 4 2 4 1 4-0.5 4 1.5 3.5 0 4 0.5 4 0.5 4 0.5 4-0.5 4 0.5 4-0.5 4 0 4 0.5 4 0 3.5-1 4 0 4 0 4 0 4 0 4-0.5 4-0.5 4-0.5 4 0 4 1 4 0 3.5 0.5 4 0.5 4-0.5 4 0 4 0 4 0 4 0.5 4-1 4-0.5 4-1.5 3.5-1 4-1 4-2 4-5 4-1 4-4 4-2.5 4-2.5 4 0 4-0.5 4 2.5 3.5 4.5 4 0 4 6.5 4 0.5 4 3 4 2 4 1.5 4 0.5 4 1 4 0.5 3.5 0.5 4-0.5 4 0 4 0.5 4-0.5 4 0.5 4 0 4 0 4-0.5 4 0 3.5-0.5 4 0 4-1 4-0.5 4-0.5 4 0.5 4-1.5 4 0 4 0 4 0 4-0.5 3.5 0 4 0 4-1 4 1.5 4 0 4 0 4 1 4-0.5 4 1.5 4 0 3.5 0 4 0 4 1 4 0 4 0.5 4 0 4 0 4 0 4-0.5 4 0.5 4 0 3.5 0 4-1 4 0.5 4 0 4-0.5 4 0.5 4-1 4 0 4 0 4-0.5 3.5 0 4-1 4 1 4-1 4 0.5 4-0.5 4 0.5 4 0 4 0.5 4 0 4 0 3.5 1 4 0.5 4 0 4-0.5 4 0.5 4 0.5 4-0.5 4 0.5 4 0.5 4-0.5 3.5 0 4 0 4 0 4 0 4 0 4 0 4 0 0 3.5Z" fill="url(#sg22)" stroke="#2a1018" stroke-opacity="0.4" stroke-width="0.6"/>
<path d="M72 2481l0-3.5 4 0 3.5 0 4 0 4-0.5 4 0 4 0 4 0.5 4-0.5 4 0 4-0.5 4-0.5 4 0 4-0.5 4 0.5 3.5 0 4-1 4 0 4-0.5 4 0.5 4 0 4 0 4 1 4-1 4 0 4 0.5 4 0 3.5 0 4 0 4 1 4 0 4 0 4 0 4 0.5 4 0.5 4-0.5 4 0.5 4 0 4 0 3.5 0 4 0 4 0 4 0 4 0 4 0 4 0 4-1 4 0 4 0 4-0.5 4-0.5 3.5-0.5 4 0 4-1 4-1 4-0.5 4 0.5 4-0.5 4 0.5 4-0.5 4 0.5 4 1 4 1 3.5 0 4 1 4 0 4 1 4 0 4 0.5 4-0.5 4 0 4 0.5 4 0.5 4 0 4-0.5 3.5 0 4 0.5 4-0.5 4 0 4 0 4 0 4 0 4-0.5 4 0.5 4-1 4 0.5 4-0.5 3.5 0.5 4 0.5 4 0 4 0 4-0.5 4 0.5 4 0 4 0 4-0.5 4 0 4 0 4-0.5 3.5-1.5 4-1 4-0.5 4-1.5 4-2.5 4-0.5 4-2 4-1 4-1.5 4 0.5 4 0 4 2.5 4 3.5 3.5 0 4 2.5 4 1 4 1.5 4 1 4 0.5 4-0.5 4 0 4 0.5 4 0 4 0.5 4-0.5 3.5 0.5 4 0 4-0.5 4 0 4 0 4 0 4 0 4-0.5 4 0.5 4-1 4 0 4-0.5 3.5 0 4-1 4 0 4 0.5 4-1 4 0 4 0 4 1 4 0 4 0.5 4-0.5 4 0.5 3.5 0.5 4 0 4 0 4 1 4 0 4 0 4 0 4 0.5 4 0 4-0.5 4 0 4 0 3.5 0 4 0 4 0 4 0 4-0.5 4 0 4 0 4 0 4 0 4-0.5 4 0 4-0.5 3.5 0.5 4-0.5 4 0 4-0.5 4 0 4 0.5 4 0.5 4 0 4 0 4 0 4 0.5 4 0 3.5-0.5 4 0.5 4 0.5 4 0 4-0.5 4 0.5 4 0.5 4 0 4 0 4-0.5 4 0 4 0 3.5 0.5 4-0.5 4 0 4 0 0 3.5Z" fill="url(#sg23)" stroke="#2a1018" stroke-opacity="0.4" stroke-width="0.6"/>
<path d="M71 2483l0-3 4-0.5 4-0.5 4 0.5 4 0.5 4 0 4-1 4 0.5 4-0.5 4-0.5 4 0.5 4-0.5 4 0 3.5-0.5 4 1 4-0.5 4 0.5 4-0.5 4-0.5 4 0.5 4 0 4-0.5 4 0.5 4 0 4 0 4 0 4-0.5 3.5 0.5 4 0 4 0.5 4-0.5 4 0.5 4 0 4 0 4 0.5 4-0.5 4 0 4 0.5 4-0.5 4 0.5 4-0.5 4 0.5 3.5 0.5 4-0.5 4 0 4 0 4-0.5 4 0 4 0 4-0.5 4 0 4-0.5 4-0.5 4 0 4 0 4-0.5 3.5-0.5 4 0.5 4 0.5 4 0 4 0.5 4-0.5 4 0 4 1 4 0.5 4-0.5 4 1 4 0 4 0 4-0.5 4 1 3.5 0 4-0.5 4 0 4 0 4 0.5 4-0.5 4 0 4 0 4 0.5 4-0.5 4-0.5 4 0.5 4 0 4-0.5 3.5 0 4 0.5 4-0.5 4 1 4-1 4 0.5 4 0.5 4-1 4 0.5 4 0 4 0 4 0 4 0 4 0 4-1 3.5-0.5 4-1 4-0.5 4-1 4-0.5 4-1.5 4 0.5 4-1.5 4 0 4 1.5 4 0 4 1.5 4 1.5 4 1 3.5 0 4 0.5 4 1 4 0 4 0.5 4 0 4-0.5 4 0 4 0 4 0 4 0 4 0 4 0 4 0.5 4-0.5 3.5 0 4-0.5 4 0 4 0.5 4-0.5 4 0 4-0.5 4 0 4 0 4 0.5 4-1 4 0 4 1 4-0.5 3.5-0.5 4 0 4 0.5 4-0.5 4 0.5 4 0.5 4 0 4 0 4 0 4 0 4 0 4 0.5 4 0.5 4-0.5 4-0.5 3.5 0.5 4 0 4 0 4 0 4-0.5 4 0 4 0 4 0.5 4-0.5 4 0.5 4 0 4-1 4 1 4-0.5 3.5 0.5 4-1 4 0.5 4 0 4-0.5 4 0 4 0 4 0 4 1 4 0 4-0.5 4 0 4 0 4 0 4 0.5 3.5-0.5 4 0.5 4 0 4 0 4 0 4 0 4 0 4 0 4 0.5 4-0.5 4 0 4 0 4 0 0 3.5Z" fill="url(#sg24)" stroke="#2a1018" stroke-opacity="0.4" stroke-width="0.6"/>
<path d="M70.5 2485l0-3.5 4 0 4 0.5 4 0 4-0.5 4-0.5 4 0.5 4 0 4-0.5 4 0.5 3.5 0 4 0 4 0 4 0 4-1 4 0 4 0 4 0.5 4-0.5 4 0.5 4 0 4 0 4-0.5 4 0.5 4 0 4 0 4-0.5 4 1 3.5-0.5 4 0 4 0 4 0 4 0 4 0 4 0.5 4 0 4-0.5 4 0.5 4 0.5 4-1 4 0.5 4 0 4 0 4 0 4-0.5 4 0.5 3.5-0.5 4 0.5 4-0.5 4 0.5 4 0 4 0 4-1 4 0.5 4-1 4 1 4-0.5 4 0 4 0 4 0.5 4-1 4 0.5 4 0 4 0.5 3.5-0.5 4 1 4 0 4 0 4 0 4 0 4-0.5 4 0.5 4 0 4 0 4-0.5 4 0.5 4 0.5 4-0.5 4 0 4 0.5 4 0 4 0 3.5-0.5 4 0 4 0 4 0 4 0 4 0.5 4-0.5 4 0 4 0 4 0.5 4-0.5 4 0 4 0.5 4-0.5 4 0 4-0.5 4 0 4 0 3.5-0.5 4-0.5 4-0.5 4 0 4 0 4-0.5 4-0.5 4 0.5 4 0 4 0.5 4-0.5 4 0.5 4 1 4-0.5 4 0.5 4 0.5 4 0.5 4 0 3.5 0 4 0 4 0 4 0 4 0.5 4 0 4-0.5 4 0.5 4-0.5 4 0 4 0 4 0 4 0.5 4-1 4 1 4-0.5 4 0 4-0.5 3.5 0 4 0.5 4-0.5 4-0.5 4 0.5 4 0 4-0.5 4 0.5 4 0 4 0 4 0 4 0.5 4-0.5 4 0.5 4 0 4-0.5 4 0.5 4 0 3.5 0 4 0 4 0 4 0 4 0.5 4 0 4 0 4-0.5 4 0 4 0 4-0.5 4 0.5 4 0 4-0.5 4 0.5 4 0 4 0 4-0.5 3.5 0 4 0.5 4 0 4-0.5 4 0 4 0.5 4 0 4-0.5 4 0.5 4 0 4-0.5 4 0.5 4-0.5 4 0 4 0.5 4-0.5 4 1 4-0.5 3.5 0 4 0.5 4-0.5 4 0 4 0 4 0 4 0 4 0 4 0 4 0 0 3.5Z" fill="url(#sg25)" stroke="#2a1018" stroke-opacity="0.4" stroke-width="0.6"/>
<path d="M64.3 2352.9L867 2352.5" stroke="#555" stroke-width="1.4"/>
<path d="M70.5 2482L64.3 2352.9M861 2482L867 2352.5" stroke="#666" stroke-width="1"/>
<text x="26" y="2485" font-size="19" font-style="italic" textLength="50" lengthAdjust="spacingAndGlyphs" transform="rotate(-68 26 2485)">CTCF</text>
<text x="172.3" y="2508.8" font-size="18" textLength="79.5" lengthAdjust="spacingAndGlyphs">100 bases</text>
<line x1="260.7" y1="2503.3" x2="339" y2="2503.3" stroke="#666" stroke-width="1.2" />
<line x1="260.7" y1="2498.3" x2="260.7" y2="2508.3" stroke="#666" stroke-width="1.2" />
<line x1="339" y1="2498.3" x2="339" y2="2508.3" stroke="#666" stroke-width="1.2" />
<text x="382.4" y="2509" font-size="18.5" font-weight="bold" textLength="147.6" lengthAdjust="spacingAndGlyphs">Interacting CTCF</text>
<text x="960" y="2335" font-size="30" font-weight="bold">h</text>
<path d="M1055.6 2311.4L1824.7 2311.4" stroke="#333" stroke-width="1.3"/>
<path d="M1055.6 2311.4L1061.4 2434.8M1824.7 2311.4L1823 2434.8" stroke="#333" stroke-width="1.3" stroke-dasharray="2.5 2.5"/>
<path d="M1038.2 2354.9L1055.6 2311.4M1843.2 2354.9L1824.7 2311.4" stroke="#333" stroke-width="1.1" stroke-dasharray="4 2"/>
<g filter="url(#grass2)">
<path d="M1061.5 2438l0-5.5 3.5-2 3.5-1 3.5 2 3.5-0.5 3.5 1 3.5 1 3 0.5 3.5-1.5 3.5 1 3.5-3.5 3.5 1 3.5 1 3.5 0 3.5-1 3.5 1.5 3.5-0.5 3.5 1 3.5-0.5 3.5 0.5 3.5-2 3.5 1.5 3.5-0.5 3.5-1.5 3.5 1.5 3.5-2.5 3.5 2 3.5 2 3.5 0 3.5-2 3-2 3.5 4 3.5-0.5 3.5-1 3.5-1.5 3.5-0.5 3.5 1 3.5-1 3.5 4 3.5-1.5 3.5-0.5 3.5-2 3.5 1.5 3.5 0 3.5 0.5 3.5-2 3.5 0 3.5 1 3.5 2 3.5-3 3.5 2.5 3.5 1.5 3-1.5 3.5-1 3.5-1 3.5-0.5 3.5 2 3.5 0 3.5-2.5 3.5 2.5 3.5-0.5 3.5 0.5 3.5-1.5 3.5 0 3.5-0.5 3.5-0.5 3.5-0.5 3.5 0.5 3.5-2 3.5-1.5 3.5-2.5 3.5 1.5 3.5-4 3.5 0 3-4.5 3.5 0.5 3.5-0.5 3.5-4.5 3.5 4 3.5-1 3.5-1 3.5 0 3.5-7 3.5 4.5 3.5-4.5 3.5 6 3.5-2.5 3.5-3.5 3.5-0.5 3.5 4.5 3.5-1.5 3.5-2 3.5-2.5 3.5 3.5 3.5 3.5 3.5-6.5 3.5-1.5 3 4.5 3.5-3.5 3.5 4.5 3.5-1.5 3.5 1 3.5 2.5 3.5-2 3.5-3 3.5 5.5 3.5-5 3.5-2.5 3.5 7.5 3.5-0.5 3.5 1 3.5-3.5 3.5-2.5 3.5 1 3.5 0 3.5-4 3.5 0.5 3.5-3.5 3.5 4.5 3-1 3.5 3.5 3.5 0.5 3.5 1 3.5 2 3.5 3 3.5-3.5 3.5 3 3.5-1 3.5-2 3.5 0.5 3.5 2.5 3.5 1.5 3.5-0.5 3.5-6.5 3.5 3.5 3.5-1.5 3.5-1.5 3.5 5.5 3.5 6 3.5 2 3.5 3.5 3 1 3.5 0 3.5-2.5 3.5 2 3.5-2.5 3.5 1.5 3.5-1 3.5-1 3.5 3 3.5-2.5 3.5-3 3.5 0.5 3.5-1.5 3.5 0.5 3.5 1.5 3.5-1.5 3.5 1 3.5 3.5 3.5-2.5 3.5 2.5 3.5 0.5 3.5 0 3.5 0.5 3 1.5 3.5-1 3.5 0 3.5 2 3.5-2.5 3.5 0.5 3.5 0 3.5 1.5 3.5-1 3.5 3.5 3.5 0 3.5 1.5 3.5 0 3.5 0 3.5 1 3.5-1.5 3.5-0.5 3.5 3 3.5-2.5 3.5-0.5 3.5 0.5 3.5-0.5 3 0.5 3.5 1 3.5 2 3.5-2 3.5 1.5 3.5-3.5 3.5 0.5 3.5-0.5 3.5 3 3.5-0.5 3.5 0.5 3.5-2 3.5 1 3.5 0.5 3.5-0.5 3.5-1 3.5 1 3.5 0 3.5-0.5 3.5 0.5 3.5-1.5 3.5 2 3 0.5 3.5-3 3.5 2 3.5 1 3.5 1 3.5-3 3.5 2 3.5 0.5 3.5-1.5 3.5-1 3.5-1 3.5 1.5 0 7Z" fill="url(#sh0)" stroke="#2a1a18" stroke-opacity="0.45" stroke-width="0.6"/>
<path d="M1061 2439.5l0-7.5 3.5 2 3-0.5 3.5 0.5 3.5-0.5 3.5 1 3.5-2.5 3.5 2.5 3.5-1 3.5-1.5 3.5 2 3.5-1 3.5-1 3.5-0.5 3.5 1 3.5 0.5 3.5-1 3.5 1 3.5 0 3.5 0 3.5 0.5 3.5 0.5 3.5-2.5 3.5 0.5 3.5 1 3.5-1 3.5 2 3.5-0.5 3.5-2 3.5 4 3.5-1 3-0.5 3.5 1.5 3.5-4.5 3.5 1 3.5 2 3.5-1.5 3.5 0.5 3.5 1 3.5 1 3.5-3 3.5-0.5 3.5 2.5 3.5 0 3.5-2 3.5 0.5 3.5 1 3.5 1.5 3.5 0 3.5 0.5 3.5-3 3.5 3 3.5-2 3.5-2 3.5 3 3.5 0 3.5-1 3.5 0 3.5-2 3 1.5 3.5 0 3.5-0.5 3.5-1.5 3.5 0.5 3.5-2 3.5-0.5 3.5 1 3.5-2.5 3.5-1.5 3.5-1.5 3.5-3 3.5 2 3.5-1 3.5-3.5 3.5 0 3.5-7.5 3.5 2.5 3.5-5.5 3.5 4.5 3.5-4.5 3.5-4.5 3.5 3 3.5-2.5 3.5 3 3.5-7 3.5 8.5 3.5-6.5 3.5-3.5 3 7.5 3.5-4.5 3.5 2 3.5 2.5 3.5 0 3.5-5 3.5 5 3.5 1 3.5-3.5 3.5 3.5 3.5-10 3.5 1 3.5 0.5 3.5 6.5 3.5 0.5 3.5-2 3.5-2 3.5-1 3.5-0.5 3.5 1 3.5 5.5 3.5-2 3.5 1.5 3.5 2 3.5-1.5 3.5-9 3.5 5.5 3.5-12 3.5-1 3 8.5 3.5-7.5 3.5 6.5 3.5 2.5 3.5 1.5 3.5 2 3.5 5.5 3.5-3 3.5-1.5 3.5 4 3.5-3.5 3.5-1.5 3.5 9 3.5-6.5 3.5 6.5 3.5-7 3.5-3.5 3.5 2.5 3.5 1.5 3.5-1.5 3.5 4.5 3.5 7.5 3.5 5.5 3.5 1.5 3.5 2 3.5-0.5 3.5-1.5 3.5 2 3.5-2.5 3-0.5 3.5 0.5 3.5-1.5 3.5 0 3.5-1 3.5-2 3.5 2 3.5-2.5 3.5 2.5 3.5-1 3.5 1.5 3.5-0.5 3.5 0.5 3.5 3.5 3.5 1 3.5-2.5 3.5 3 3.5-1.5 3.5 1 3.5 0.5 3.5-0.5 3.5-0.5 3.5 1.5 3.5-1 3.5 0 3.5 1 3.5 1 3.5 1 3 1.5 3.5 2.5 3.5-1 3.5 2 3.5-1 3.5-0.5 3.5-0.5 3.5 2 3.5 0.5 3.5 0.5 3.5-3 3.5 1.5 3.5-2 3.5 3.5 3.5-0.5 3.5-2 3.5 2 3.5-0.5 3.5-2.5 3.5 2 3.5 0 3.5-2 3.5 0 3.5 1.5 3.5 0.5 3.5-1 3.5-1 3.5 1.5 3.5-1 3 0 3.5 0 3.5 1 3.5 0 3.5-1 3.5 0 3.5-0.5 3.5 1 3.5 2.5 3.5-0.5 3.5-1 3.5 1.5 3.5 0 3.5-0.5 3.5-2 3.5 3 3.5-2.5 0 6.5Z" fill="url(#sh1)" stroke="#2a1a18" stroke-opacity="0.45" stroke-width="0.6"/>
<path d="M1060 2441.5l0-4.5 3.5-4 3.5 2.5 3.5 0 3.5-0.5 3.5-0.5 3.5 1 3.5 1.5 3.5-1 3.5-2.5 3.5-0.5 3.5 1.5 3.5 0 3.5 0 3.5 0.5 3.5 0 3.5 0.5 3.5-0.5 3.5-2 3.5 0.5 3.5 1 3.5 0.5 3.5-0.5 3.5 0 3.5-1.5 3.5 1.5 3.5 1 3.5-0.5 3.5-0.5 3.5-1.5 3.5 2 3.5-1.5 3 0.5 3.5 0.5 3.5 3 3.5-3 3.5 2.5 3.5-0.5 3.5-2.5 3.5 0 3.5 0 3.5 1 3.5 2.5 3.5-4 3.5 2.5 3.5 1 3.5-2 3.5 0.5 3.5 1 3.5 0.5 3.5-2.5 3.5 2 3.5 0.5 3.5-0.5 3.5 1 3.5 0 3.5-3 3.5-1.5 3.5 2 3.5-1 3.5-0.5 3.5 0.5 3.5-2 3.5 0 3.5 0 3.5 0 3.5-2 3.5-2 3.5 0 3.5-5 3.5-2.5 3.5 2.5 3.5-1 3-2.5 3.5-5 3.5-5 3.5 3 3.5-6.5 3.5 0 3.5 1 3.5 0 3.5-7 3.5 6.5 3.5-9.5 3.5-1.5 3.5 9.5 3.5-7 3.5 2 3.5-3 3.5 1.5 3.5 0 3.5-6 3.5 4.5 3.5 5 3.5 3.5 3.5-8 3.5 2 3.5-7 3.5 7.5 3.5-3 3.5 3.5 3.5 0 3.5 2.5 3.5-2 3.5 4.5 3.5-5.5 3.5 4 3.5 3 3.5-3.5 3.5-6 3.5 9.5 3.5-2 3.5-1 3-7.5 3.5 2.5 3.5-3 3.5-3.5 3.5-5 3.5 0.5 3.5 5 3.5-2 3.5 9.5 3.5 1.5 3.5 0 3.5 2.5 3.5-5.5 3.5 9 3.5-4.5 3.5-1 3.5 1 3.5 8 3.5-1.5 3.5-3 3.5-7 3.5 8.5 3.5-11.5 3.5 3.5 3.5 3 3.5 13 3.5 1 3.5 5 3.5 2.5 3.5-1.5 3.5 1.5 3.5-1.5 3.5-1.5 3.5 2 3.5-1 3.5-0.5 3.5 2.5 3.5-4.5 3.5 3 3.5-4.5 3 0 3.5 1.5 3.5-5 3.5 4.5 3.5-0.5 3.5 2.5 3.5 0 3.5 2.5 3.5-2.5 3.5 2.5 3.5-1.5 3.5 2 3.5 2.5 3.5 0.5 3.5-1.5 3.5-1 3.5 2 3.5 0 3.5-0.5 3.5 0.5 3.5 1.5 3.5 2 3.5 3.5 3.5-1.5 3.5 0.5 3.5 0.5 3.5-0.5 3.5 0 3.5 1 3.5 0.5 3.5 1.5 3.5-2 3.5 2 3.5-2.5 3.5 2 3.5-1.5 3.5 0.5 3.5 0.5 3.5-1.5 3.5 0 3.5 0.5 3 0 3.5 0.5 3.5 0 3.5 0.5 3.5-1.5 3.5 0.5 3.5 0 3.5-0.5 3.5 1 3.5-0.5 3.5-1 3.5-1 3.5 1 3.5 1.5 3.5 0 3.5 0 3.5-1 3.5-0.5 3.5 3 3.5-0.5 3.5 0.5 3.5 0 3.5-1.5 3.5 0 3.5 2 3.5-3.5 0 8Z" fill="url(#sh2)" stroke="#2a1a18" stroke-opacity="0.45" stroke-width="0.6"/>
<path d="M1059.5 2443.5l0-8 3.5-0.5 3.5 2.5 3.5-1 3.5 0 3.5 2 3.5-3 3.5 2 3.5-2 3.5-0.5 3.5 0 3.5 1 3.5 1 3.5-1 3.5 0 3.5 0 3.5-1 3.5 1 3.5-1 3.5 1 3.5-1 3.5 1.5 3.5-0.5 3.5-0.5 3.5 0.5 3.5 0.5 3.5 0 3.5 1.5 3.5-1 3.5-1 3.5 1 3.5-0.5 3.5 2 3.5-1 3.5 0 3.5-1 3 2.5 3.5 0 3.5-3.5 3.5-0.5 3.5 0.5 3.5 2 3.5-2 3.5 0 3.5 2.5 3.5 0 3.5-1 3.5 1 3.5 0 3.5 0.5 3.5-0.5 3.5 1.5 3.5-3 3.5-1 3.5 3.5 3.5-3 3.5 0.5 3.5 0 3.5 0 3.5 0 3.5-2 3.5 0 3.5-1 3.5 0 3.5-1.5 3.5-2 3.5 1.5 3.5-4 3.5 0.5 3.5-6 3.5-0.5 3.5 2 3.5-5 3.5 1.5 3.5-5 3.5-6.5 3.5-1 3.5-5.5 3.5-1 3.5 3.5 3.5 0 3.5-0.5 3.5-13 3.5 0.5 3.5 11.5 3.5-6.5 3.5-5 3.5 8 3.5-4 3.5-2.5 3.5-2.5 3.5-0.5 3.5 2.5 3.5 0.5 3.5 1 3.5 1.5 3.5-6 3.5 7.5 3.5-2.5 3.5 1 3.5 5 3.5-4.5 3.5-5 3.5 5 3-7 3.5 12.5 3.5-4.5 3.5-4 3.5 7.5 3.5-5.5 3.5 7.5 3.5 1.5 3.5-5.5 3.5-8 3.5-6 3.5 3 3.5-7.5 3.5 0.5 3.5 10 3.5-3.5 3.5 5.5 3.5 2.5 3.5 5.5 3.5-1 3.5 4.5 3.5 2 3.5-12.5 3.5 9 3.5-7 3.5 8.5 3.5 2.5 3.5 1.5 3.5-0.5 3.5-6 3.5-7 3.5 8.5 3.5-4.5 3.5 4 3.5 13 3.5 1 3.5 7 3.5 1.5 3.5-2.5 3.5 1 3.5-1.5 3.5 1 3.5 2.5 3.5-5 3.5 1.5 3.5-1.5 3.5-2 3.5-1.5 3.5-2.5 3.5 1.5 3.5-1 3.5-1.5 3.5 2.5 3.5 1 3.5 3 3.5-1.5 3.5 4 3.5 2.5 3.5 0.5 3.5 2 3.5-3 3.5 2.5 3.5-0.5 3.5 2 3.5-1 3.5-1 3.5-3 3 5.5 3.5-2.5 3.5 4 3.5 3.5 3.5 1 3.5 2.5 3.5 1 3.5-1.5 3.5 1 3.5 0.5 3.5-0.5 3.5 1 3.5-3.5 3.5 2 3.5-0.5 3.5 0.5 3.5-1.5 3.5 1.5 3.5-1 3.5 1 3.5 0 3.5-0.5 3.5-1.5 3.5 1.5 3.5-1.5 3.5 0.5 3.5-0.5 3.5 0 3.5 1 3.5-1.5 3.5-0.5 3.5 1 3.5-0.5 3.5-0.5 3.5 0.5 3.5-0.5 3.5 2 3.5-0.5 3.5 1.5 3.5 1.5 3.5-1 3.5-1.5 3.5 0.5 3.5-1 3.5 2 3.5-0.5 3.5-2.5 3.5 4 3.5-1.5 0 6Z" fill="url(#sh3)" stroke="#2a1a18" stroke-opacity="0.45" stroke-width="0.6"/>
<path d="M1059 2445.5l0-8 3.5 3.5 3.5-0.5 3.5-3 3.5 1.5 3.5 0.5 3.5 0 3.5 1 3.5-1 3.5-1 3.5-1.5 3.5 0.5 3.5-1 3.5 1 3.5 0 3.5 0.5 3.5-1.5 3.5 0.5 3.5 0.5 3.5 0.5 3.5-0.5 3.5 0 3.5-0.5 3.5 1 3.5 0 3.5 1 3.5-1 3.5 1 3.5-0.5 3.5 0 3.5 2.5 3.5-2.5 3.5 2.5 3.5-0.5 3.5-3.5 3.5 3 3.5 1.5 3.5-2 3.5 0.5 3.5 0 3.5-2 3.5 1 3.5-1 3.5 0 3.5 2 3.5 1.5 3.5-2.5 3.5 0.5 3.5 1 3.5-1 3.5 0 3.5-1 3.5 2.5 3.5-0.5 3.5-2 3.5 0 3.5-1 3 1 3.5-1.5 3.5-0.5 3.5-0.5 3.5-0.5 3.5-1 3.5 0.5 3.5-2.5 3.5 0 3.5-2.5 3.5 1 3.5-2.5 3.5-6.5 3.5 1 3.5-4.5 3.5 1.5 3.5-8.5 3.5 5 3.5-13.5 3.5 7 3.5-11.5 3.5 3 3.5-7 3.5 7 3.5-13.5 3.5 5 3.5-0.5 3.5 5 3.5-2.5 3.5-11 3.5-2 3.5 0.5 3.5 8 3.5 4.5 3.5-4.5 3.5 3 3.5-4.5 3.5-4 3.5 6 3.5-12.5 3.5 10.5 3.5 3.5 3.5-8 3.5 4.5 3.5 6 3.5-7 3.5 3 3.5 4 3.5-11.5 3.5 0 3.5 10.5 3.5-4.5 3.5 1.5 3.5-2 3.5 8 3.5-11 3.5-0.5 3.5-6 3.5 5.5 3.5-18 3.5 15.5 3.5-6 3.5 3.5 3.5 4.5 3.5 1.5 3.5 16 3.5-5 3.5-2.5 3.5-1.5 3.5 1 3.5-5.5 3.5 7.5 3.5 3 3.5 3.5 3.5-6.5 3.5 9 3.5-14.5 3.5 6.5 3.5-10.5 3.5 7.5 3.5 13.5 3.5 6.5 3.5 1 3.5 8.5 3.5 1 3.5-3 3.5 2.5 3.5 2 3.5-6 3.5 1 3.5-0.5 3.5 1.5 3.5-4 3.5 4.5 3.5-8 3.5-0.5 3.5 4.5 3.5-1 3.5-5.5 3.5 1.5 3.5 4.5 3.5-1 3.5 4 3.5 2.5 3.5-0.5 3.5 1.5 3.5-1 3.5-0.5 3.5 1.5 3.5 0.5 3.5 2.5 3.5-2.5 3.5-2 3.5 4.5 3.5-2 3.5 0 3.5 4.5 3.5 2.5 3.5 4 3.5 2 3.5-0.5 3.5-1 3.5 3.5 3.5-3 3.5 3 3.5-2.5 3.5 2.5 3.5-3 3.5 2.5 3.5-1.5 3.5 0.5 3.5 0.5 3.5-1 3.5-0.5 3.5 0 3.5-0.5 3.5 0.5 3.5 0 3.5 0.5 3.5 0 3.5-1.5 3.5-0.5 3.5 0 3.5 0.5 3.5-0.5 3.5-1.5 3.5 1.5 3.5-1 3.5-0.5 3.5 0.5 3.5 1.5 3.5 0.5 3.5 1.5 3.5-1.5 3.5 2 3.5-1 3.5 3 3.5-4 3.5 4 3.5-4 3.5-0.5 3.5 1 3.5 0 0 7.5Z" fill="url(#sh4)" stroke="#2a1a18" stroke-opacity="0.45" stroke-width="0.6"/>
<path d="M1058.5 2447.5l0-4 3.5-3.5 3.5-0.5 3.5-0.5 3.5 3.5 3.5-2.5 3.5 1.5 3.5-2 3.5 1 3.5-0.5 3.5-0.5 3.5-0.5 3.5 0.5 3.5-1.5 3.5-0.5 3.5 1.5 3.5 0.5 3.5 0 3.5-1.5 3.5 0.5 3.5-0.5 3.5 1 3.5 0 3.5-1 3.5 2 3.5-0.5 3.5 1 3.5-0.5 3.5 2 3.5-0.5 3.5 1 3.5-0.5 3.5 1.5 3.5-3.5 3.5 1 3.5 1 3.5 0.5 3.5-1 3.5-2 3.5 2.5 3.5 1.5 3.5-3 3.5 3 3.5-1.5 3.5-1.5 3.5 1 3.5 1 3.5-3 3.5 4 3.5-4 3.5 2.5 3.5-2 3.5 0.5 3.5 3 3.5-1.5 3.5-2.5 3.5 2 3.5-1 3.5-2 3.5 0 3.5-2.5 3.5 0 3.5 0.5 3.5-0.5 3.5-1.5 3.5-1.5 3.5 1 3.5-2 3.5-5.5 3.5-2.5 3.5-2 3.5 1 3.5-3 3.5-8 3.5-6 3.5-1.5 3.5-9.5 3.5 3.5 3.5-9 3.5 7 3.5-13 3.5 5.5 3.5 5.5 3.5-1 3.5-13.5 3.5 12.5 3.5-7 3.5-2.5 3.5 5.5 3.5-5 3.5-7 3.5 7 3.5-9 3.5 12 3.5-3 3.5-5.5 3.5 3 3.5 5.5 3.5 0.5 3.5 0.5 3.5 7 3.5-11 3.5-7 3.5 15.5 3.5-7.5 3.5 9.5 3.5-5.5 3.5-1.5 3.5 9 3.5-7.5 3.5 9 3.5 1.5 3.5-5.5 3.5 0 3.5-11.5 3.5-0.5 3.5-23.5 3.5 16 3.5-3.5 3.5 14.5 3.5-2.5 3.5 5 3.5 11 3.5-0.5 3.5-10 3.5 11 3.5-10.5 3.5 3.5 3.5 4 3.5-9 3.5 5.5 3.5 0 3.5 1 3.5-4.5 3.5-4.5 3.5 13 3.5 1.5 3.5-2.5 3.5 6.5 3.5 13.5 3.5 4.5 3.5 2.5 3.5 0.5 3.5-0.5 3.5-4 3.5 6.5 3.5-7 3.5 1 3.5 4 3.5-4.5 3.5-1 3.5-6 3.5 2.5 3.5 3.5 3.5-9 3.5 3 3.5-0.5 3.5 0.5 3.5 4.5 3.5 0.5 3.5 3 3.5 4.5 3.5-4.5 3.5 3.5 3.5 3.5 3.5-3.5 3.5 1.5 3.5 0 3.5-2 3.5 2 3.5 2 3.5 0.5 3.5-2 3.5 4 3.5 5.5 3.5 2 3.5 4.5 3.5 0.5 3.5-3 3.5 1.5 3.5 1.5 3.5-0.5 3.5-1 3.5-0.5 3.5 0.5 3.5 0.5 3.5-0.5 3.5 0.5 3.5 0 3.5-2 3.5 0 3.5 1 4 0 3.5-2 3.5 0 3.5 1 3.5-0.5 3.5-1 3.5 0.5 3.5-1.5 3.5-0.5 3.5 0.5 3.5 0 3.5 0 3.5 0.5 3.5-0.5 3.5-1.5 3.5 2 3.5 2 3.5 1.5 3.5-0.5 3.5 0 3.5 2 3.5-2.5 3.5 2.5 3.5 0 3.5-1 3.5 0.5 3.5-0.5 3.5 1.5 0 4.5Z" fill="url(#sh5)" stroke="#2a1a18" stroke-opacity="0.45" stroke-width="0.6"/>
<path d="M1057.5 2449.5l0-6 3.5-1 3.5 1 3.5-2 3.5 2.5 3.5-2 3.5 3 3.5-1.5 3.5-1 3.5-0.5 3.5-2 3.5 0 3.5-1.5 3.5 2 3.5-1.5 3.5-0.5 4 1.5 3.5-0.5 3.5 0.5 3.5-0.5 3.5 0.5 3.5-1 3.5 1.5 3.5-0.5 3.5-0.5 3.5 0 3.5 0.5 3.5 2.5 3.5 0 3.5 1 3.5-2.5 3.5 2 3.5-0.5 3.5 0.5 3.5-1 3.5-0.5 3.5-0.5 3.5 1 3.5 2 3.5-1 3.5 0.5 3.5 1.5 3.5-4 3.5 3 3.5 1 3.5 0.5 3.5-0.5 3.5-2 3.5 0.5 3.5 1.5 3.5-3 3.5 3 3.5 0.5 3.5-3.5 3.5 1.5 3.5-2.5 3.5 2 3.5-0.5 3.5-1.5 3.5-2.5 3.5-0.5 3.5-1 3.5-2 3.5 1.5 3.5-2 3.5-1.5 3.5-0.5 3.5-2 3.5-4.5 3.5-4 3.5-3.5 3.5-2.5 3.5-6 3.5-1.5 3.5 4.5 3.5-7 3.5-6 3.5-3.5 3.5-12 3.5 6.5 3.5-7 3.5 1.5 4 8 3.5-1.5 3.5-19 3.5 19.5 3.5-4 3.5 1 3.5-3.5 3.5 0.5 3.5-9 3.5 2 3.5 5 3.5-2.5 3.5-13.5 3.5 9 3.5-11 3.5 2 3.5 8 3.5-3 3.5-2 3.5 3 3.5 15 3.5-10 3.5-7 3.5 18 3.5-2 3.5-14 3.5 12 3.5-2.5 3.5 6.5 3.5-4 3.5-3 3.5 5.5 3.5-17 3.5 3 3.5-0.5 3.5-0.5 3.5-5 3.5-8 3.5 18.5 3.5 5 3.5 3 3.5 8 3.5-8.5 3.5-5.5 3.5 4 3.5 7.5 3.5 3.5 3.5 0.5 3.5-3.5 3.5-5 3.5 2 3.5 0.5 3.5 3 3.5-8.5 3.5 3.5 3.5 9 3.5 8.5 3.5 10 3.5 4.5 3.5 2.5 3.5-1.5 3.5 0.5 3.5 0.5 3.5-1 3.5-0.5 3.5-0.5 3.5 1.5 4-6 3.5 3 3.5-1.5 3.5-2 3.5-3.5 3.5 2.5 3.5 0 3.5 0.5 3.5-5 3.5 9 3.5 0 3.5 5.5 3.5-4 3.5 5 3.5-3.5 3.5 3 3.5 3 3.5-4.5 3.5 3 3.5-2 3.5 1.5 3.5-4 3.5 3 3.5 4.5 3.5 0 3.5 5 3.5 5 3.5 3 3.5 1.5 3.5 0 3.5-0.5 3.5-0.5 3.5 0.5 3.5-1 3.5-1.5 3.5 2 3.5 0 3.5-2.5 3.5 2.5 3.5-2 3.5-0.5 3.5 1 3.5-0.5 3.5-0.5 3.5-1 3.5 1 3.5 0 3.5-1 3.5 1 3.5-2 3.5 0.5 3.5 0 3.5 0.5 3.5-2 3.5 2 3.5-1 3.5-0.5 3.5-0.5 3.5 2.5 3.5 0.5 3.5 1 3.5 2 3.5-3 3.5 3.5 3.5-3 3.5 0.5 4 1.5 3.5 1 3.5-2.5 3.5 2.5 3.5-0.5 0 5.5Z" fill="url(#sh6)" stroke="#2a1a18" stroke-opacity="0.45" stroke-width="0.6"/>
<path d="M1057 2451.5l0-6.5 3.5 0.5 3.5-2 3.5 0 3.5 0 3.5 1 3.5 2 3.5-1.5 3.5-0.5 3.5-1 3.5-1 3.5-1 3.5 0 3.5 0 3.5-1 3.5 1 3.5 0.5 3.5-2 3.5 1 3.5-0.5 4 0 3.5 1.5 3.5 0 3.5-1 3.5 1.5 3.5-0.5 3.5 1.5 3.5 0 3.5 1.5 3.5 0.5 3.5 0.5 3.5-2.5 3.5-0.5 3.5 0.5 3.5 2 3.5 0.5 3.5 1.5 3.5-0.5 3.5-2 3.5 1 3.5-1.5 3.5 2 3.5-0.5 3.5-2.5 3.5 4 3.5-2.5 3.5 2 3.5-2.5 3.5 0.5 3.5 0 3.5 2 3.5-2 3.5 1 3.5-0.5 3.5-0.5 3.5 0 3.5 0.5 3.5-2.5 3.5-1.5 3.5 0 4-2.5 3.5-1 3.5-0.5 3.5-1.5 3.5 0 3.5-0.5 3.5-3 3.5-0.5 3.5-5.5 3.5-3.5 3.5-5.5 3.5-4.5 3.5-5 3.5 4.5 3.5-6.5 3.5-0.5 3.5-10.5 3.5-2 3.5-15 3.5 13 3.5-3.5 3.5-7.5 3.5-7 3.5 10.5 3.5-12.5 3.5 14.5 3.5-19.5 3.5 15 3.5-16.5 3.5 16 3.5-12 3.5-1.5 3.5 5.5 3.5-4.5 3.5 12.5 3.5-4 3.5-4.5 3.5-0.5 3.5-0.5 3.5-6 4 1.5 3.5 2.5 3.5 6.5 3.5 12 3.5 2 3.5-6.5 3.5-5.5 3.5 8 3.5 0.5 3.5 5.5 3.5 3 3.5-16 3.5-0.5 3.5-1 3.5 0 3.5-2 3.5-16 3.5-17 3.5 27 3.5 1 3.5-11 3.5 17 3.5 9 3.5-4 3.5 6 3.5-7 3.5 2 3.5 4.5 3.5-7.5 3.5 7 3.5 0 3.5 1.5 3.5-3 3.5-8.5 3.5 13.5 3.5-1.5 3.5 3 3.5 5 3.5 7.5 3.5 13 4 3.5 3.5 7 3.5-7 3.5 3.5 3.5-4 3.5 5 3.5-3.5 3.5-2.5 3.5-0.5 3.5 4 3.5-7.5 3.5-1.5 3.5 3 3.5-2.5 3.5-9.5 3.5 1.5 3.5 7 3.5 3 3.5 0 3.5 5.5 3.5-0.5 3.5-2.5 3.5 2 3.5 4.5 3.5-3 3.5 3.5 3.5 1.5 3.5 1 3.5-4.5 3.5 6.5 3.5-2 3.5-3.5 3.5 2.5 3.5 4 3.5 5.5 3.5 5 3.5 2 3.5 0 3.5 3.5 3.5-2.5 4 1 3.5 0.5 3.5-0.5 3.5-0.5 3.5 0 3.5 0 3.5 0 3.5-0.5 3.5 0 3.5-0.5 3.5 0 3.5 0 3.5-0.5 3.5-1 3.5 0 3.5-0.5 3.5 1 3.5-0.5 3.5-1.5 3.5 0 3.5 0 3.5-0.5 3.5-1 3.5 0.5 3.5 0.5 3.5-2.5 3.5 0.5 3.5 3.5 3.5 1 3.5 1 3.5 0.5 3.5 2 3.5 0.5 3.5 0.5 3.5 0 3.5 0 3.5-0.5 3.5-1.5 3.5 2.5 3.5-0.5 0 4.5Z" fill="url(#sh7)" stroke="#2a1a18" stroke-opacity="0.45" stroke-width="0.6"/>
<path d="M1056.5 2453.5l0-6.5 3.5 2 3.5 0.5 3.5-0.5 3.5-1.5 3.5 0 3.5 1.5 3.5-3 3.5-0.5 3.5-1 3.5-1 3.5-1 3.5 1 3.5 0.5 3.5 0 3.5-0.5 3.5 0.5 3.5-1.5 3.5 0 3.5 0 3.5 0 3.5 0.5 4 0 3.5-1 3.5 0 3.5 1 3.5 1 3.5 1.5 3.5 1 3.5-1 3.5 1.5 3.5 0.5 3.5-2 3.5-0.5 3.5 0 3.5 3.5 3.5-3.5 3.5 1.5 3.5-1.5 3.5 1 3.5 2.5 3.5 1 3.5-3 3.5-0.5 3.5 3 3.5-1 3.5 1 3.5 0 3.5-1.5 3.5-1.5 4-1 3.5 3.5 3.5-0.5 3.5-2 3.5 2 3.5-0.5 3.5-2.5 3.5 0.5 3.5-2 3.5-1 3.5-2.5 3.5 1.5 3.5-4 3.5 0 3.5-2 3.5-0.5 3.5 0 3.5-7 3.5-1.5 3.5 0.5 3.5-7 3.5 1 3.5-6.5 3.5 1.5 3.5-8.5 3.5-10.5 3.5-7.5 3.5-9.5 3.5-4.5 4 11.5 3.5 6 3.5-20.5 3.5-2.5 3.5 19.5 3.5-11 3.5 3 3.5-3.5 3.5 0.5 3.5 0 3.5-7.5 3.5-3 3.5-0.5 3.5 12.5 3.5-16 3.5 14 3.5-16 3.5 2 3.5 14 3.5-12.5 3.5 16 3.5-13.5 3.5 3 3.5-3.5 3.5 1.5 3.5 9 3.5 4.5 3.5-1 4-1 3.5-3.5 3.5 2 3.5 5 3.5 7.5 3.5-25 3.5-4.5 3.5 8.5 3.5-11 3.5 7 3.5-23.5 3.5 10.5 3.5 14 3.5 3 3.5-1.5 3.5 7 3.5 17.5 3.5 0 3.5-14 3.5 9.5 3.5-18.5 3.5 5 3.5 9 3.5 14.5 3.5-6 3.5-8 3.5-2 3.5-13 3.5 18.5 4-14 3.5 14.5 3.5 14.5 3.5 13 3.5 8 3.5-4 3.5 2.5 3.5-3 3.5 5 3.5-0.5 3.5-0.5 3.5-1.5 3.5-7 3.5 6 3.5-3.5 3.5-3.5 3.5-2 3.5-3 3.5 4.5 3.5-8.5 3.5 5 3.5 2 3.5 7.5 3.5 4 3.5-2 3.5 4 3.5-4 3.5 0 3.5 1.5 4 5.5 3.5 1 3.5-3 3.5 3 3.5-6.5 3.5 0 3.5 4.5 3.5 1 3.5 4.5 3.5 3.5 3.5 6 3.5 2.5 3.5 3 3.5-2.5 3.5-1 3.5 0 3.5 1.5 3.5-1.5 3.5 1 3.5 0 3.5 0.5 3.5 0 3.5-1 3.5 0.5 3.5-1.5 3.5 0.5 3.5-1 3.5 0 4-0.5 3.5 0.5 3.5 0 3.5-0.5 3.5-1 3.5-0.5 3.5 1 3.5 0 3.5-1.5 3.5 0.5 3.5-0.5 3.5-1.5 3.5-0.5 3.5 1 3.5 1 3.5 3 3.5 0.5 3.5 0 3.5 2 3.5 1.5 3.5 0 3.5-1 3.5 0 3.5-0.5 3.5 1 3.5-2.5 3.5 1 0 7Z" fill="url(#sh8)" stroke="#2a1a18" stroke-opacity="0.45" stroke-width="0.6"/>
<path d="M1055.5 2455.5l0-5.5 4-3 3.5 3 3.5-3 3.5 2 3.5-1 3.5 2 3.5-1.5 3.5-0.5 3.5-2 3.5-1 3.5-0.5 3.5 1.5 3.5 0 3.5-1.5 3.5 0 3.5 1 3.5 0.5 3.5-2 3.5 0.5 3.5-1 3.5 0 3.5 1.5 4-1.5 3.5 0.5 3.5 0 3.5 2.5 3.5 0.5 3.5 0 3.5 1.5 3.5-1 3.5 2.5 3.5-0.5 3.5 0 3.5-0.5 3.5 2.5 3.5-4.5 3.5 4 3.5-1 3.5-2.5 3.5 3 3.5-2 3.5 1 3.5-1 3.5 0 4-1.5 3.5 1.5 3.5 0.5 3.5 0.5 3.5-1 3.5 1.5 3.5 1 3.5-0.5 3.5-0.5 3.5 1 3.5-1 3.5-1.5 3.5-1 3.5-2.5 3.5-2 3.5-1.5 3.5-1 3.5 0 3.5-1.5 3.5-3 3.5-3 3.5-1 4-1 3.5-4.5 3.5-6 3.5-3.5 3.5 2.5 3.5-1 3.5-3.5 3.5-12 3.5-6.5 3.5 2.5 3.5-15 3.5 4 3.5 2 3.5-3.5 3.5-16 3.5 0 3.5-5.5 3.5-2 3.5-2.5 3.5 22.5 3.5-0.5 3.5 0 4-14 3.5-6.5 3.5 0 3.5-9 3.5 21.5 3.5-10.5 3.5-3.5 3.5 16.5 3.5 3 3.5-20 3.5 9 3.5 7.5 3.5-0.5 3.5-12.5 3.5-0.5 3.5 12.5 3.5 4.5 3.5-7.5 3.5-0.5 3.5 13 3.5-9.5 3.5 9.5 3.5-15 4 2 3.5-15.5 3.5 12 3.5-19.5 3.5-1 3.5 1 3.5 6 3.5 16.5 3.5-5 3.5 0 3.5 22.5 3.5-2.5 3.5-15.5 3.5 5.5 3.5 7 3.5 2.5 3.5-15 3.5 7.5 3.5 5 3.5 15 3.5-11.5 3.5-1 4-16 3.5 12.5 3.5-3.5 3.5 9 3.5 12.5 3.5 14.5 3.5 6.5 3.5 2.5 3.5-3.5 3.5 4 3.5 0 3.5 1 3.5-0.5 3.5 0 3.5-1.5 3.5-9.5 3.5 4 3.5 1.5 3.5-2.5 3.5-5.5 3.5-8 3.5 5.5 4 5.5 3.5-7 3.5 8.5 3.5 4.5 3.5 5 3.5-4.5 3.5 7.5 3.5 0 3.5-5 3.5 1.5 3.5 4 3.5-4.5 3.5 6 3.5-8 3.5 2 3.5 0 3.5 6 3.5 3 3.5 6 3.5 5 3.5 4 3.5-1 4 2.5 3.5 0 3.5-1 3.5-0.5 3.5 0.5 3.5-2 3.5 2 3.5-1.5 3.5-0.5 3.5 0 3.5 0.5 3.5-0.5 3.5-1 3.5 0.5 3.5-1 3.5-1 3.5 0 3.5 1 3.5-1 3.5 0.5 3.5 0.5 3.5-2.5 3.5 1.5 4-2 3.5 0 3.5-1 3.5 2 3.5-3 3.5 0.5 3.5 1 3.5 4 3.5 1.5 3.5-0.5 3.5 0 3.5 3 3.5 0 3.5 1 3.5-2.5 3.5 1 3.5-0.5 3.5 0.5 3.5 2 0 4Z" fill="url(#sh9)" stroke="#2a1a18" stroke-opacity="0.45" stroke-width="0.6"/>
<path d="M1055 2457.5l0-8 3.5-0.5 3.5 1.5 3.5-1 3.5 3 4-3.5 3.5 1 3.5 0.5 3.5-1 3.5-0.5 3.5-3 3.5-1 3.5 0.5 3.5 2 3.5-0.5 3.5 0.5 3.5-0.5 3.5-1.5 3.5-0.5 3.5 1.5 3.5 1 3.5-1.5 3.5 0.5 4-1 3.5 1.5 3.5-1.5 3.5 1.5 3.5 2.5 3.5 0 3.5 1.5 3.5-2.5 3.5 1.5 3.5 3 3.5-2.5 3.5 0 3.5 1 3.5-2 3.5-1 3.5 1 3.5 1.5 3.5 2 3.5 0.5 4-4 3.5 2 3.5-0.5 3.5 1 3.5-3 3.5 0 3.5 2 3.5 1 3.5-2.5 3.5 2.5 3.5-1.5 3.5-1.5 3.5 3.5 3.5-3 3.5 0.5 3.5-1 3.5-2.5 3.5 0.5 4-3.5 3.5-1.5 3.5-1.5 3.5-0.5 3.5 0 3.5 0.5 3.5-7 3.5 0.5 3.5-4.5 3.5-7.5 3.5-3 3.5-3.5 3.5-3 3.5 0 3.5-2.5 3.5-17.5 3.5 4.5 3.5-15 4 3 3.5 6 3.5-4.5 3.5-11 3.5-8.5 3.5 7 3.5-8.5 3.5 15.5 3.5-21.5 3.5 22 3.5-14 3.5 14.5 3.5-21.5 3.5 16.5 3.5-23.5 3.5 14 3.5 5 3.5-4.5 4 11.5 3.5-14 3.5 4.5 3.5 0 3.5 9.5 3.5-13.5 3.5 3.5 3.5 10.5 3.5-4.5 3.5 3.5 3.5-8.5 3.5 11 3.5-18.5 3.5 23.5 3.5 0 3.5-10 3.5-3 3.5-14.5 4-11.5 3.5 10.5 3.5-15.5 3.5 10 3.5-9 3.5 4 3.5 27 3.5 9 3.5-1 3.5-11 3.5 18 3.5-3.5 3.5-9 3.5 3.5 3.5 4.5 3.5-0.5 3.5 9 3.5-2.5 3.5 0 4-11 3.5 8.5 3.5-16.5 3.5-0.5 3.5 29 3.5-5.5 3.5 18.5 3.5 11 3.5-1 3.5-3 3.5 3 3.5 2.5 3.5-1.5 3.5-1.5 3.5-5 3.5 1 3.5-1 3.5-6.5 4 2 3.5 4.5 3.5-4.5 3.5-2.5 3.5 5 3.5 0 3.5 3.5 3.5-8 3.5 5 3.5 7 3.5 4 3.5-7 3.5 4.5 3.5 3.5 3.5-3 3.5 3 3.5-3 3.5 3.5 4 2.5 3.5-4 3.5 0 3.5 4.5 3.5 2.5 3.5 4.5 3.5 6 3.5 5 3.5-0.5 3.5 0.5 3.5 0 3.5 0.5 3.5 0.5 3.5 0 3.5-0.5 3.5-1 3.5 1 3.5 0 4-1.5 3.5 0 3.5-1 3.5 1.5 3.5-1.5 3.5 0.5 3.5 0 3.5-2 3.5 0.5 3.5-0.5 3.5 1 3.5-0.5 3.5-0.5 3.5-2.5 3.5 2.5 3.5-2 3.5 0 3.5-1.5 4-0.5 3.5 0 3.5 3.5 3.5 0.5 3.5 3.5 3.5 0.5 3.5 0 3.5 2.5 3.5 0 3.5-1.5 3.5 1.5 3.5-1.5 3.5-2 3.5 0 3.5 1 0 7Z" fill="url(#sh10)" stroke="#2a1a18" stroke-opacity="0.45" stroke-width="0.6"/>
<path d="M1054.5 2459.5l0-8.5 3.5 4 3.5-1 3.5-0.5 3.5-1.5 3.5-1.5 3.5 1.5 3.5-1.5 4 1.5 3.5-2 3.5 0 3.5-2 3.5 0.5 3.5-1.5 3.5 0.5 3.5 1 3.5 0 3.5 1 3.5-2 3.5 0.5 3.5-1 3.5 1.5 3.5-0.5 3.5-1 4 0.5 3.5 2.5 3.5-0.5 3.5 0 3.5 1 3.5 1.5 3.5 2 3.5-2 3.5 2.5 3.5-2.5 3.5 2 3.5-0.5 3.5-1.5 3.5 3.5 3.5-4 4 2 3.5-2 3.5 1 3.5 2 3.5-1 3.5-2.5 3.5-0.5 3.5 0.5 3.5 0.5 3.5 1.5 3.5 0 3.5 0 3.5 0.5 3.5 2 3.5-1.5 3.5-3.5 4 0 3.5 2 3.5-2.5 3.5-2 3.5-2 3.5-0.5 3.5-2.5 3.5 0 3.5-0.5 3.5-0.5 3.5-3 3.5-1.5 3.5 0 3.5-9 3.5-3 4-7 3.5-4 3.5-2.5 3.5-1.5 3.5-10 3.5 0 3.5-9.5 3.5 3 3.5 1 3.5-22.5 3.5 0 3.5 10 3.5-1 3.5-13 3.5 7 4-3.5 3.5-0.5 3.5 4 3.5 3 3.5-6.5 3.5 6 3.5-15 3.5 17 3.5-14.5 3.5-5.5 3.5 17.5 3.5 2.5 3.5-14.5 3.5-3.5 3.5 6.5 3.5 1 4-9 3.5 3 3.5 5 3.5-1.5 3.5 18.5 3.5-1.5 3.5 0 3.5-7.5 3.5 10.5 3.5-19.5 3.5 17.5 3.5-0.5 3.5-14 3.5-19.5 3.5 10.5 4 1 3.5-32.5 3.5 27 3.5 16 3.5-15 3.5 26 3.5-4 3.5 9 3.5-0.5 3.5-6.5 3.5-6.5 3.5 14.5 3.5-4.5 3.5-5.5 3.5 15 3.5-10.5 4 10 3.5-18.5 3.5-8 3.5 2.5 3.5 11 3.5 10 3.5 19 3.5 7 3.5 8 3.5-4 3.5 8 3.5-7.5 3.5 3 3.5 4 3.5 0 4-1.5 3.5-2 3.5-5 3.5 4 3.5-11 3.5-3 3.5 8 3.5-6 3.5-2 3.5 7.5 3.5-7 3.5 3 3.5 9.5 3.5-2.5 3.5 0 4 4 3.5 5 3.5 2 3.5 1.5 3.5 1.5 3.5-0.5 3.5-4.5 3.5 2.5 3.5-0.5 3.5-4.5 3.5 2.5 3.5 6 3.5 6.5 3.5 6 3.5 3.5 3.5 0 4 1.5 3.5-2 3.5 1.5 3.5 0 3.5-0.5 3.5 0 3.5-1.5 3.5 0 3.5 1 3.5-1 3.5 0 3.5-0.5 3.5 0 3.5-1 3.5-1 4 0 3.5-0.5 3.5 0 3.5 1 3.5-1 3.5-1 3.5 1.5 3.5-1.5 3.5-1 3.5 0 3.5 1.5 3.5-0.5 3.5-1 3.5-0.5 3.5 3 3.5 1 4 1.5 3.5 1.5 3.5 2 3.5-1 3.5 0.5 3.5-0.5 3.5 0 3.5 0.5 3.5-3 3.5 1.5 3.5 1 0 6Z" fill="url(#sh11)" stroke="#2a1a18" stroke-opacity="0.45" stroke-width="0.6"/>
<path d="M1054 2461.5l0-8.5 3.5 2 3.5 1 3.5-2 3.5 1.5 3.5 0.5 3.5 0.5 3.5-1.5 3.5-1.5 3.5-2.5 3.5-1 4 1.5 3.5-1.5 3.5 0 3.5 0 3.5 1 3.5-1.5 3.5 0 3.5 0 3.5 0 3.5 0 3.5 0 3.5-1 3.5 1 4-1 3.5 2 3.5 2 3.5-1 3.5 2 3.5 0.5 3.5-1.5 3.5 2.5 3.5-1.5 3.5 3 3.5 0.5 3.5-3 3.5 1 4-1.5 3.5 3 3.5-0.5 3.5 1 3.5-1 3.5-2 3.5 2.5 3.5-3.5 3.5 4.5 3.5-0.5 3.5-2.5 3.5 2.5 3.5-3 3.5 1.5 4-1.5 3.5 1.5 3.5-1.5 3.5 1.5 3.5-2.5 3.5 1 3.5-1.5 3.5-0.5 3.5-1.5 3.5-3 3.5 1.5 3.5-3.5 3.5-0.5 4-4 3.5 2.5 3.5-2.5 3.5-3 3.5-4 3.5-7.5 3.5 2 3.5-9.5 3.5-2 3.5 1 3.5-13.5 3.5-8.5 3.5-5.5 3.5 0.5 4-13.5 3.5 10.5 3.5 1 3.5 2 3.5-2 3.5 0.5 3.5-15.5 3.5 6.5 3.5-11.5 3.5 4.5 3.5 12.5 3.5-19.5 3.5 17.5 4-2.5 3.5 0.5 3.5-20 3.5 2.5 3.5 8 3.5-2 3.5-11.5 3.5-0.5 3.5 7.5 3.5 17 3.5-23.5 3.5 22.5 3.5-6.5 4 12.5 3.5-12 3.5 2 3.5-13.5 3.5 20 3.5-13.5 3.5 9.5 3.5-8.5 3.5 5 3.5-2.5 3.5-2.5 3.5-24.5 3.5 12.5 3.5-6 4 15 3.5-25.5 3.5 13.5 3.5 20.5 3.5 0 3.5 9.5 3.5 5.5 3.5-9.5 3.5 10 3.5-13 3.5 12.5 3.5-12 3.5 7.5 4 7 3.5-10 3.5 9 3.5-6 3.5-20 3.5 14.5 3.5 5 3.5 10 3.5 14 3.5 11 3.5 10 3.5 0.5 3.5-6 4-4.5 3.5 0.5 3.5-0.5 3.5-1.5 3.5 4 3.5-6.5 3.5 0 3.5-4.5 3.5-1.5 3.5 3 3.5 1.5 3.5-7 3.5 0 3.5 14.5 4-5 3.5 9 3.5 2 3.5-2.5 3.5 1 3.5-1.5 3.5 6 3.5 2 3.5-1.5 3.5-1.5 3.5 2.5 3.5-1 3.5-6 4 1.5 3.5 6.5 3.5 3 3.5 7.5 3.5 3 3.5 4 3.5 1 3.5 1 3.5-1 3.5 0.5 3.5-1 3.5-1 3.5 1.5 4-1 3.5-0.5 3.5 0 3.5-1 3.5 1 3.5 0 3.5 0 3.5-1 3.5-1 3.5 0.5 3.5 0.5 3.5-1.5 3.5 0 3.5 1 4-2.5 3.5-0.5 3.5 1.5 3.5-1 3.5 0.5 3.5-2 3.5-1 3.5 1.5 3.5-0.5 3.5 0.5 3.5 2 3.5 3 3.5 0.5 4 1.5 3.5-0.5 3.5 1 3.5 2 3.5-4.5 3.5 3 3.5-1 3.5-1.5 3.5 1.5 0 6.5Z" fill="url(#sh12)" stroke="#2a1a18" stroke-opacity="0.45" stroke-width="0.6"/>
<path d="M1053 2463.5l0-5 4-2 3.5-1.5 3.5 1 3.5 1 3.5 1 3.5-2.5 3.5 1 3.5-2 3.5-0.5 3.5-0.5 3.5-1.5 3.5 0 4-1.5 3.5 1.5 3.5 1 3.5-1.5 3.5 1.5 3.5 0 3.5-1 3.5 0.5 3.5-0.5 3.5 0.5 3.5-0.5 4-0.5 3.5 2 3.5 0.5 3.5 0.5 3.5 1.5 3.5 1 3.5-2 3.5 2.5 3.5 0.5 3.5-1 3.5-2 3.5 1 4 0.5 3.5 1.5 3.5-0.5 3.5-1.5 3.5 0 3.5 1 3.5 2 3.5-1 3.5-2 3.5-1 3.5 0 3.5 2.5 4 2 3.5-3.5 3.5 0.5 3.5 0 3.5-1 3.5 0.5 3.5 3 3.5-1.5 3.5-0.5 3.5-1.5 3.5-2 3.5-3 4-1 3.5-0.5 3.5 0 3.5-1.5 3.5-4.5 3.5 2 3.5-0.5 3.5-2 3.5-11 3.5-2 3.5-6 3.5 0 4 2 3.5-13.5 3.5-4.5 3.5 3.5 3.5-10 3.5-11 3.5 2 3.5-9.5 3.5 3 3.5 7 3.5 2 4-20.5 3.5 19 3.5-15 3.5 6 3.5-8 3.5 9.5 3.5 1 3.5-16.5 3.5 1 3.5 9 3.5-18 3.5 23.5 4-9.5 3.5 1.5 3.5-2.5 3.5-3 3.5 8 3.5 10.5 3.5-7 3.5-9 3.5 11.5 3.5-5.5 3.5-7 3.5 1 4 3 3.5 0 3.5 5.5 3.5 13 3.5-13.5 3.5-10 3.5 8 3.5-20.5 3.5 3.5 3.5-15 3.5 4.5 3.5 9.5 4-12.5 3.5 31.5 3.5-6.5 3.5 22.5 3.5-19 3.5 9 3.5 5.5 3.5-18 3.5 13.5 3.5 11 3.5-19 4 20 3.5 0 3.5-15.5 3.5 2.5 3.5-7.5 3.5-1.5 3.5 9.5 3.5 15 3.5-2 3.5 17 3.5 14.5 3.5-1 4-3 3.5 5.5 3.5-1.5 3.5-2 3.5-5.5 3.5 6 3.5-2.5 3.5 2.5 3.5-8 3.5 0.5 3.5-0.5 3.5-9 4-2 3.5 2 3.5 3.5 3.5 3 3.5 7 3.5-0.5 3.5 5 3.5 2.5 3.5-8.5 3.5 1.5 3.5 6.5 3.5 0 4-2 3.5 3.5 3.5-0.5 3.5 2.5 3.5-6.5 3.5 8 3.5-1.5 3.5 6 3.5 2.5 3.5 6 3.5 4.5 3.5 0 4 1 3.5 0 3.5-2 3.5 1 3.5-0.5 3.5 0.5 3.5 0 3.5-0.5 3.5-1 3.5 0.5 3.5-1 4 1 3.5 0 3.5-1.5 3.5-1 3.5 0 3.5-1 3.5 1 3.5-1.5 3.5-0.5 3.5 1 3.5 0.5 3.5 0.5 4-0.5 3.5-0.5 3.5-1.5 3.5-2 3.5 3 3.5-0.5 3.5 1 3.5 0.5 3.5 3 3.5 2 3.5-0.5 3.5 1 4-1.5 3.5 1.5 3.5-0.5 3.5-0.5 3.5 1 3.5 0.5 3.5-1 0 6Z" fill="url(#sh13)" stroke="#2a1a18" stroke-opacity="0.45" stroke-width="0.6"/>
<path d="M1052.5 2465.5l0-6.5 3.5 1 3.5-2.5 4 3.5 3.5-1 3.5-0.5 3.5 0 3.5-1.5 3.5-0.5 3.5-1 3.5-0.5 3.5-1 3.5-1.5 3.5 0.5 4 0.5 3.5-0.5 3.5-0.5 3.5 0 3.5 1.5 3.5 0.5 3.5-1 3.5 0 3.5-1 3.5 1.5 3.5-0.5 4 1 3.5 0.5 3.5 0 3.5 2.5 3.5-1.5 3.5 1 3.5 0 3.5 3 3.5-2 3.5 1 4-3 3.5 1.5 3.5-1 3.5 0 3.5 0 3.5 1 3.5 1.5 3.5 0.5 3.5-2 3.5-1.5 3.5 1.5 4 2 3.5-3.5 3.5 1 3.5 0.5 3.5 1 3.5-2.5 3.5 0.5 3.5 2.5 3.5 0 3.5-2.5 4 1 3.5-3 3.5-0.5 3.5-2.5 3.5 1 3.5-0.5 3.5-5 3.5-1 3.5-1 3.5 0.5 3.5-3 4-3 3.5-2.5 3.5 0 3.5-9 3.5-6 3.5-4 3.5 0.5 3.5-0.5 3.5-1.5 3.5-10.5 4 2 3.5-4.5 3.5-3.5 3.5-9 3.5 2.5 3.5 0.5 3.5-12.5 3.5-0.5 3.5 4 3.5-9.5 3.5 11.5 4-20.5 3.5 7 3.5 9.5 3.5-14.5 3.5 4.5 3.5 13 3.5-10.5 3.5 5 3.5 6.5 3.5-11 4-9 3.5 23.5 3.5-18 3.5 18.5 3.5-10 3.5 10 3.5-17 3.5 19 3.5-19 3.5 9 3.5-8.5 4 24.5 3.5-7 3.5-1 3.5 7 3.5-18 3.5-12.5 3.5 2 3.5 0.5 3.5-1 3.5-19 4 32 3.5-18 3.5 21.5 3.5 8.5 3.5-8 3.5 11.5 3.5-4 3.5-13 3.5 13 3.5 6 3.5 3.5 4-13 3.5 4 3.5-2.5 3.5-2.5 3.5 6 3.5-10 3.5 9.5 3.5-2 3.5 13 3.5 11 3.5 14 4 1.5 3.5 1.5 3.5-3.5 3.5 3 3.5-6 3.5 4.5 3.5 1 3.5-3.5 3.5 1.5 3.5-7.5 4 4.5 3.5-5.5 3.5 0 3.5 0.5 3.5-7.5 3.5 4 3.5 6 3.5 0.5 3.5-0.5 3.5 5 3.5 1.5 4 2 3.5-1.5 3.5 6 3.5-3.5 3.5 0.5 3.5 5 3.5-2 3.5-3.5 3.5-2 3.5 1.5 4 7 3.5 0 3.5 6 3.5 6.5 3.5 2.5 3.5 2.5 3.5-2.5 3.5 2.5 3.5-0.5 3.5 0 3.5-0.5 4 0.5 3.5-2 3.5 0 3.5 0.5 3.5-0.5 3.5 1 3.5-0.5 3.5-0.5 3.5 0 3.5-0.5 4-1 3.5-1.5 3.5 0.5 3.5-1.5 3.5 0.5 3.5 1.5 3.5-2.5 3.5 0.5 3.5-0.5 3.5 0.5 3.5-0.5 4-1 3.5 2 3.5-2 3.5 2.5 3.5 2 3.5 0.5 3.5 1 3.5 0.5 3.5 1 3.5 1 4-3 3.5 4 3.5-4 3.5 3 3.5 1 3.5-2.5 0 7Z" fill="url(#sh14)" stroke="#2a1a18" stroke-opacity="0.45" stroke-width="0.6"/>
<path d="M1052 2467.5l0-6 3.5-2 3.5-1 3.5 3 3.5 0 3.5 0.5 4-1.5 3.5-1.5 3.5 0.5 3.5-2.5 3.5 1 3.5-1 3.5 0 3.5 0 3.5 0 4-0.5 3.5 0 3.5 0.5 3.5-1 3.5 1.5 3.5 0 3.5-0.5 3.5 0 3.5 1.5 3.5-2 4 0.5 3.5 0.5 3.5 0.5 3.5 2.5 3.5 0.5 3.5 1 3.5 1 3.5-2 3.5-0.5 4-1 3.5 2 3.5-1.5 3.5-1.5 3.5 3 3.5-1.5 3.5-0.5 3.5 2 3.5 1 3.5-1.5 4 1.5 3.5-1.5 3.5 1.5 3.5-1 3.5-1.5 3.5 0 3.5-1 3.5 0.5 3.5 0 4 1 3.5-1 3.5 0 3.5-0.5 3.5 0 3.5-1 3.5-2.5 3.5-1 3.5 1 3.5-4.5 4-0.5 3.5-0.5 3.5-2.5 3.5-2 3.5-2.5 3.5-2.5 3.5 0 3.5-3 3.5-3.5 4-0.5 3.5-8 3.5-3.5 3.5-3.5 3.5-13 3.5 1 3.5-13 3.5 14.5 3.5-20.5 3.5 6.5 4-10 3.5-1 3.5 4.5 3.5-5.5 3.5 4.5 3.5-8 3.5 11 3.5-4.5 3.5-8.5 4-4 3.5 22 3.5 5 3.5 1 3.5-1.5 3.5-4 3.5 0.5 3.5 0.5 3.5-15.5 3.5-2.5 4 22 3.5-15 3.5 15.5 3.5-8.5 3.5 7.5 3.5-18.5 3.5 19.5 3.5 3 3.5-15 3.5-1 4 5 3.5 9.5 3.5-9.5 3.5-23 3.5 15.5 3.5-12.5 3.5-9.5 3.5-1.5 3.5 14.5 4 0.5 3.5 13.5 3.5 11 3.5-11.5 3.5-0.5 3.5 11 3.5-1.5 3.5-14 3.5 21 3.5 2.5 4-13 3.5 12.5 3.5-7.5 3.5 4.5 3.5-14.5 3.5 2 3.5 6 3.5 14.5 3.5 0 4 11 3.5 15 3.5 3.5 3.5-3.5 3.5 0 3.5-5.5 3.5 6 3.5 0 3.5-7 3.5-1 4 0.5 3.5 2 3.5-5.5 3.5 4.5 3.5-7.5 3.5 5 3.5-10.5 3.5 6.5 3.5 2.5 4 4.5 3.5 3 3.5 1.5 3.5-4.5 3.5 8 3.5-4.5 3.5 2.5 3.5-1 3.5 7.5 3.5-2.5 4-0.5 3.5-2 3.5-2.5 3.5 1 3.5 5 3.5 1 3.5 5 3.5 7 3.5 2.5 4 0.5 3.5-1 3.5 2.5 3.5-1.5 3.5 1.5 3.5-0.5 3.5-2 3.5 2 3.5-2 3.5 0.5 4 0.5 3.5-1 3.5 0 3.5 1 3.5-1 3.5 0 3.5-2 3.5 1 3.5-0.5 4-0.5 3.5-1 3.5 1 3.5-2 3.5 0.5 3.5-1 3.5 0 3.5 0.5 3.5-2 3.5 0.5 4 0.5 3.5 2.5 3.5 0.5 3.5 2.5 3.5 1.5 3.5 2 3.5-4 3.5 1.5 3.5-1.5 4 3 3.5 0.5 3.5-1.5 3.5-2.5 3.5 3.5 0 5.5Z" fill="url(#sh15)" stroke="#2a1a18" stroke-opacity="0.45" stroke-width="0.6"/>
<path d="M1051.5 2469.5l0-7 3.5-2 3.5 1 3.5 1.5 3.5 0 3.5 0 3.5-0.5 4-1 3.5 0 3.5-1 3.5 0 3.5-2.5 3.5 1.5 3.5 0.5 3.5 0 3.5-1 4 1 3.5-1 3.5 0.5 3.5-1 3.5 1.5 3.5 0 3.5-2 3.5 1.5 3.5 0 4 0 3.5 1.5 3.5 1.5 3.5 0.5 3.5 0 3.5-1 3.5 1.5 3.5-1.5 3.5 1 4-1.5 3.5 1 3.5 0.5 3.5 1.5 3.5 0.5 3.5-2.5 3.5-0.5 3.5 0.5 4 1.5 3.5-2 3.5 1.5 3.5 0 3.5 1 3.5-0.5 3.5-2.5 3.5 0 3.5 1.5 4-2.5 3.5 3.5 3.5-2.5 3.5 0 3.5 2.5 3.5-1 3.5-2.5 3.5 0 3.5-1 4-2 3.5-0.5 3.5 0 3.5-4.5 3.5-0.5 3.5 0 3.5-0.5 3.5-6 4-3.5 3.5-4 3.5 0 3.5 1.5 3.5-2.5 3.5-10.5 3.5-4 3.5-7.5 3.5 2 4-1 3.5-19 3.5 9 3.5 4 3.5-7 3.5-10 3.5 17 3.5-10.5 3.5 8 4-20.5 3.5 17 3.5-17 3.5 7.5 3.5-11 3.5 14 3.5 2 3.5 7 3.5-4.5 4-17.5 3.5 19.5 3.5-16 3.5 15 3.5-2 3.5-5 3.5-2.5 3.5-3.5 4 4.5 3.5 13.5 3.5-6.5 3.5 2.5 3.5-3 3.5 3.5 3.5-5.5 3.5-2 3.5 14 4-22.5 3.5 8.5 3.5-9 3.5-5.5 3.5-4 3.5-9 3.5 3.5 3.5 8 3.5 15.5 4 4.5 3.5 2.5 3.5-1.5 3.5 2 3.5 0.5 3.5 1.5 3.5-14 3.5 10 4-1.5 3.5 1.5 3.5 2.5 3.5 5 3.5-12.5 3.5 14 3.5-1 3.5 2 3.5 2.5 4 11.5 3.5 8 3.5 2 3.5 3.5 3.5-3 3.5 1 3.5 6 3.5 0.5 3.5-6.5 4-1 3.5 5 3.5-7 3.5 3.5 3.5 0.5 3.5-8.5 3.5 3.5 3.5-1 3.5-9.5 4 10 3.5-2 3.5 3.5 3.5 0.5 3.5 6 3.5 2.5 3.5 1 3.5-5 4 5 3.5-3.5 3.5 2 3.5-0.5 3.5 0.5 3.5 3.5 3.5-4 3.5 2 3.5-0.5 4 4.5 3.5 6.5 3.5 2 3.5 4 3.5 3.5 3.5-0.5 3.5-1.5 3.5 0 3.5 1 4-2.5 3.5 0.5 3.5 1 3.5-0.5 3.5 0 3.5 0.5 3.5-1.5 3.5-0.5 4 0.5 3.5 0.5 3.5-0.5 3.5-0.5 3.5-1 3.5 0.5 3.5 0 3.5-1 3.5 1 4-1 3.5-1.5 3.5 0.5 3.5 0.5 3.5-1.5 3.5-1 3.5 2 3.5-2.5 3.5 3 4 0.5 3.5 3 3.5 1 3.5 1 3.5-2 3.5 3.5 3.5-4 3.5 2.5 4 0 3.5 1 3.5-1.5 3.5-2 0 8Z" fill="url(#sh16)" stroke="#2a1a18" stroke-opacity="0.45" stroke-width="0.6"/>
<path d="M1050.5 2471l0-4 4-1.5 3.5 1.5 3.5-1.5 3.5-1.5 3.5 0 3.5-1.5 3.5 3 3.5-2.5 4 1 3.5-2.5 3.5-0.5 3.5 0.5 3.5 0.5 3.5 0 3.5-1 3.5 1 4-1.5 3.5 1 3.5 1.5 3.5-2.5 3.5 0.5 3.5 1.5 3.5-1.5 3.5 1.5 4 0 3.5 0.5 3.5 0.5 3.5 0 3.5 2 3.5 1 3.5-3.5 3.5 3.5 4 0 3.5-0.5 3.5 0.5 3.5-3.5 3.5 4 3.5-2.5 3.5-0.5 3.5 0.5 4 1.5 3.5 0.5 3.5-1.5 3.5 0 3.5 1 3.5-3 3.5 3 3.5-2.5 4 1.5 3.5-2 3.5 0 3.5 1.5 3.5 2 3.5-2.5 3.5-1 3.5 1 4-1 3.5-1.5 3.5-1 3.5-0.5 3.5-2 3.5-0.5 3.5-0.5 3.5-0.5 4-0.5 3.5-3 3.5 1.5 3.5-9 3.5 2 3.5-5 3.5-2 3.5-3 4 0.5 3.5-11 3.5 4 3.5-5 3.5-13.5 3.5 8 3.5-13.5 3.5 5 4 5 3.5-4 3.5-2 3.5-7 3.5-8 3.5 9 3.5-1 3.5-3 4 8 3.5-6 3.5 8 3.5-9 3.5 6.5 3.5 4 3.5-5 3.5-5.5 4 2 3.5-8.5 3.5 1 3.5 3 3.5 0 3.5-2 3.5 4 3.5 1 4 5.5 3.5-10 3.5 8.5 3.5 5.5 3.5 7 3.5-14.5 3.5 0.5 3.5-5.5 4-2.5 3.5-3.5 3.5-10.5 3.5-3 3.5 17 3.5 3.5 3.5-20 3.5 24.5 4 10.5 3.5-2 3.5-8 3.5 13.5 3.5-6 3.5 6.5 3.5-9.5 3.5 9.5 4-7 3.5 12 3.5 0.5 3.5-6.5 3.5-6.5 3.5 1 3.5-2 3.5-1 4 16 3.5 2 3.5 10.5 3.5 6 3.5 2 3.5-2.5 3.5 1 3.5 1.5 4-2 3.5-2 3.5 3 3.5-5.5 3.5-1.5 3.5-1 3.5-1.5 3.5 5.5 4-3.5 3.5-2 3.5 1 3.5 3 3.5 1 3.5-2.5 3.5 6 3.5-3 4 4.5 3.5-4.5 3.5 3.5 3.5-1 3.5 3.5 3.5 0 3.5 2.5 3.5-2 4 2.5 3.5-2 3.5 1 3.5 1 3.5 5 3.5 1 3.5 4.5 3.5 4 4-1 3.5 1.5 3.5-2 3.5 0 3.5 1 3.5-1 3.5 0 3.5 1 4 0.5 3.5-0.5 3.5-0.5 3.5 0.5 3.5-1 3.5 0 3.5 0.5 3.5-0.5 4 0.5 3.5-2.5 3.5 0 3.5 0 3.5 0 3.5 0.5 3.5 0 3.5-1.5 4 1 3.5-0.5 3.5-0.5 3.5-1 3.5 1.5 3.5-1 3.5 1 3.5 2.5 4 1.5 3.5-2.5 3.5 2 3.5-1 3.5 2 3.5-3 3.5 0.5 3.5 0 4 1.5 3.5 1.5 3.5-2.5 0 7.5Z" fill="url(#sh17)" stroke="#2a1a18" stroke-opacity="0.45" stroke-width="0.6"/>
<path d="M1050 2473l0-5.5 3.5-1.5 3.5-0.5 4 1.5 3.5-1 3.5 2 3.5-2 3.5 2 3.5-2 3.5-1 4-0.5 3.5-1 3.5 0 3.5 0.5 3.5 0 3.5 1.5 3.5 0 3.5 0 4-1.5 3.5 0.5 3.5-0.5 3.5 0 3.5 0.5 3.5 0.5 3.5-1.5 4 2 3.5 0 3.5 1 3.5 0.5 3.5 1 3.5 0.5 3.5 0.5 4-1 3.5-2 3.5-1.5 3.5 1 3.5 2.5 3.5-3.5 3.5 3 3.5-1 4-1.5 3.5 1 3.5 0.5 3.5-2 3.5 3 3.5-1 3.5 2 4-1 3.5-2 3.5-0.5 3.5 2.5 3.5-1.5 3.5 1 3.5 0.5 3.5-1 4 2 3.5-1 3.5-1.5 3.5-1.5 3.5-1 3.5 0 3.5-2 4-0.5 3.5-2.5 3.5 2 3.5-3 3.5-1.5 3.5 0 3.5-2 3.5-5 4 1 3.5-6.5 3.5-5 3.5 6 3.5-4.5 3.5-7.5 3.5-2 4-12 3.5-1 3.5 1 3.5 0.5 3.5 7.5 3.5-14 3.5-1.5 4 8.5 3.5-5.5 3.5-7 3.5 11.5 3.5-1.5 3.5-12.5 3.5 2.5 3.5-2.5 4 1 3.5 12.5 3.5-2.5 3.5-6.5 3.5 8 3.5-5.5 3.5-4.5 4 14 3.5 0 3.5-18 3.5-0.5 3.5 15.5 3.5-3 3.5 6.5 3.5-13 4 2 3.5 6 3.5-6.5 3.5 10.5 3.5 2.5 3.5-2.5 3.5-1 4-6 3.5-17.5 3.5 9 3.5-13.5 3.5 16 3.5-5.5 3.5 13 3.5 5 4-3.5 3.5 10 3.5-7 3.5-6.5 3.5 5 3.5-1 3.5 0 4 10 3.5 0 3.5-4.5 3.5 1.5 3.5-1 3.5-4 3.5 2 4 5.5 3.5-6.5 3.5 11 3.5 15.5 3.5 4.5 3.5 2.5 3.5-0.5 3.5-5.5 4 4.5 3.5-5 3.5 1 3.5-0.5 3.5 0.5 3.5-3.5 3.5 1 4 0.5 3.5 0 3.5-1 3.5-8 3.5 6.5 3.5-3.5 3.5 1 3.5 3 4 5.5 3.5-2.5 3.5 0.5 3.5 0.5 3.5 1 3.5 0 3.5 4 4 2 3.5-1.5 3.5 1 3.5-1.5 3.5-2 3.5 0 3.5 6 4-1.5 3.5 5.5 3.5 2 3.5 4 3.5-2 3.5 3 3.5-3.5 3.5 2.5 4-1.5 3.5-1 3.5 1.5 3.5 0.5 3.5 0 3.5-1 3.5 0 4 1.5 3.5-1 3.5 0 3.5-1 3.5 0.5 3.5-0.5 3.5 0.5 3.5 0 4-1 3.5 0 3.5 0 3.5 0 3.5 0.5 3.5-2.5 3.5 0.5 4 0.5 3.5 0 3.5-1.5 3.5 0 3.5 1 3.5 3 3.5 0.5 3.5 0.5 4-0.5 3.5 2 3.5-2 3.5 0.5 3.5-1 3.5 2.5 3.5-1.5 4 0.5 3.5-3 0 8.5Z" fill="url(#sh18)" stroke="#2a1a18" stroke-opacity="0.45" stroke-width="0.6"/>
<path d="M1049.5 2475l0-6 3.5-0.5 3.5 0 3.5 0.5 4 0.5 3.5-0.5 3.5 0.5 3.5-2.5 3.5 2 3.5-2 3.5 0 4-0.5 3.5 0.5 3.5-1 3.5 1.5 3.5-0.5 3.5 0 3.5-0.5 4 1 3.5 0 3.5 0 3.5-0.5 3.5 0.5 3.5 0 3.5 0.5 4-1 3.5 0.5 3.5 1 3.5 1.5 3.5-1.5 3.5-0.5 3.5 0 4-0.5 3.5 3.5 3.5-4 3.5 2 3.5 1.5 3.5-0.5 3.5 0 4 0 3.5-3 3.5 1.5 3.5-0.5 3.5 1 3.5-0.5 3.5-1.5 4 3.5 3.5-3 3.5 3.5 3.5-4 3.5 2.5 3.5-1 3.5 1 4-3 3.5 0.5 3.5 3 3.5-0.5 3.5-0.5 3.5-1.5 3.5-1 4 0 3.5-2 3.5 0.5 3.5-0.5 3.5-3.5 3.5 0.5 3.5 0 4-1 3.5-6.5 3.5 2.5 3.5-5.5 3.5-3.5 3.5 3 4-4.5 3.5-1.5 3.5-10.5 3.5-2 3.5 2.5 3.5-11 3.5 11.5 4-9 3.5 2 3.5 2.5 3.5-12.5 3.5 11.5 3.5-3.5 3.5-1.5 4-2.5 3.5-3.5 3.5-7 3.5 15 3.5-12.5 3.5 7 3.5 6.5 4-13.5 3.5 6.5 3.5-7.5 3.5 11.5 3.5 0.5 3.5-8.5 3.5 2.5 4-4.5 3.5 15 3.5-7 3.5-2 3.5-4 3.5 8 3.5-8 4 1 3.5 5.5 3.5-1 3.5 10 3.5-0.5 3.5-7.5 3.5-2 4-18 3.5 12 3.5-15 3.5 1 3.5 11 3.5-4 3.5 5.5 4 6.5 3.5 2 3.5 5 3.5-3.5 3.5 3.5 3.5-7.5 3.5 12 4 4 3.5-10.5 3.5 6.5 3.5-6 3.5-5 3.5-2 3.5-0.5 4 10.5 3.5 10 3.5 0 3.5 4.5 3.5 8 3.5 4.5 3.5-3 4-2.5 3.5 4 3.5-0.5 3.5-3.5 3.5 1.5 3.5 3 4-5 3.5-3 3.5-2 3.5 4 3.5 0.5 3.5-9 3.5 8 4-1 3.5 0 3.5 3.5 3.5-2.5 3.5 6 3.5-2 3.5-0.5 4 2.5 3.5 2.5 3.5 0.5 3.5-1.5 3.5 1.5 3.5-2 3.5 2.5 4-2.5 3.5-1 3.5 1.5 3.5 5.5 3.5 2 3.5 1.5 3.5 2 4-1 3.5 0.5 3.5 0 3.5 0 3.5 3 3.5-0.5 3.5-1.5 4 1 3.5-1.5 3.5 1.5 3.5 0 3.5-0.5 3.5 0.5 3.5-1 4-0.5 3.5 0.5 3.5-1 3.5 1 3.5 0 3.5-1.5 3.5 0.5 4-1 3.5 0.5 3.5 0 3.5-0.5 3.5 1 3.5-2 3.5 0.5 4-1.5 3.5 3 3.5 0 3.5-0.5 3.5 2.5 3.5 1 3.5 0 4-1.5 3.5 2.5 3.5-4 3.5 3 3.5-3 3.5 0.5 3.5 1 4-1 0 7.5Z" fill="url(#sh19)" stroke="#2a1a18" stroke-opacity="0.45" stroke-width="0.6"/>
<path d="M1049 2477l0-4 3.5-0.5 3.5 0 3.5-2 3.5-1.5 3.5 2.5 4-2 3.5 0.5 3.5-0.5 3.5 1 3.5-0.5 3.5-0.5 4-0.5 3.5 0 3.5-0.5 3.5 1 3.5-1 3.5 1 3.5 1 4-1 3.5 0.5 3.5 0 3.5 0 3.5-1.5 3.5 2 4-1.5 3.5-0.5 3.5 3 3.5 0 3.5 0.5 3.5-2 3.5 2 4-3 3.5 1.5 3.5 0 3.5 2 3.5 0 3.5-1.5 4-0.5 3.5-1.5 3.5 4 3.5-4.5 3.5 2.5 3.5-1.5 3.5 0 4 2.5 3.5-1 3.5-0.5 3.5 2.5 3.5-3.5 3.5 3 4-0.5 3.5-2.5 3.5 1.5 3.5 0 3.5-1 3.5-1.5 3.5 1.5 4-0.5 3.5-1 3.5 0 3.5 0 3.5-2.5 3.5 2 4-2 3.5 0 3.5-2.5 3.5-0.5 3.5-5 3.5-1 4-3.5 3.5 3 3.5-3 3.5-4 3.5 0.5 3.5-7 3.5 3 4-9 3.5 1 3.5 2 3.5-9 3.5 0.5 3.5 0 4 1.5 3.5 4.5 3.5-2 3.5-6 3.5 5.5 3.5-4.5 3.5-6 4-0.5 3.5-3 3.5 5.5 3.5 1 3.5-2.5 3.5 6.5 4-9.5 3.5 3.5 3.5-2 3.5 5 3.5 4 3.5-1.5 3.5 2 4 2 3.5 2 3.5-3 3.5-8.5 3.5 8 3.5-7.5 4 7 3.5 7.5 3.5-8.5 3.5-1.5 3.5-4 3.5 7 3.5-16 4 5.5 3.5-4 3.5 7 3.5 4 3.5 1.5 3.5 2 4 5 3.5 1.5 3.5-9.5 3.5 3 3.5 5 3.5-3.5 3.5-3.5 4 11 3.5-5.5 3.5-1 3.5-2 3.5 7 3.5-9.5 4 5 3.5-5 3.5 7 3.5 7.5 3.5 6.5 3.5 3.5 3.5 3.5 4-0.5 3.5 0 3.5-2.5 3.5 3.5 3.5-4 3.5 3 4-2 3.5-3 3.5 2 3.5 0.5 3.5-5 3.5 4 4-7 3.5 4 3.5-2 3.5 0 3.5 5.5 3.5-1.5 3.5 0 4 3.5 3.5 1 3.5-2.5 3.5 4 3.5-2 3.5 1 4 3.5 3.5-3 3.5 1 3.5 0.5 3.5-2 3.5 2 3.5 3 4 3 3.5 2 3.5 1 3.5-2 3.5 1 3.5-0.5 4 0.5 3.5 3 3.5-4 3.5 1.5 3.5 1.5 3.5 0 3.5-2 4 2 3.5-0.5 3.5-1 3.5 1 3.5-2.5 3.5 1.5 4-1.5 3.5 0 3.5 1.5 3.5 0 3.5 0 3.5-1.5 3.5 1 4-0.5 3.5 0 3.5 0.5 3.5-1.5 3.5 0 3.5 1.5 4-1.5 3.5 1 3.5 0.5 3.5 0.5 3.5 0.5 3.5-0.5 3.5-1 4 4 3.5-1 3.5 0 3.5-1 3.5-1 3.5 2 4-2.5 0 7.5Z" fill="url(#sh20)" stroke="#2a1a18" stroke-opacity="0.45" stroke-width="0.6"/>
<path d="M1048 2479l0-7.5 4 0 3.5 3 3.5-1.5 3.5-1 3.5 2 3.5-3 4 3 3.5-1.5 3.5-2 3.5 1.5 3.5 0.5 3.5-1 4-0.5 3.5 1 3.5-1.5 3.5 2 3.5-0.5 3.5 1 4-2.5 3.5 1.5 3.5 0.5 3.5-0.5 3.5 0 3.5 0.5 4-1.5 3.5 2 3.5-1.5 3.5 2 3.5-2.5 3.5 0 4 3 3.5 1 3.5-0.5 3.5 0 3.5-0.5 3.5-0.5 4 0.5 3.5-3 3.5 3.5 3.5-2.5 3.5 3 3.5-4 4 1 3.5 3 3.5-2 3.5-1.5 3.5-1 3.5 1 3.5 3.5 4-3 3.5 0 3.5-1.5 3.5 2.5 3.5-1.5 3.5 1.5 4 1 3.5-3 3.5 2 3.5-1.5 3.5-1 3.5-0.5 4-0.5 3.5 0 3.5-0.5 3.5-0.5 3.5-2 3.5 1.5 4-3.5 3.5-1 3.5-2 3.5-1.5 3.5-2 3.5-1 4-6 3.5 1 3.5-6.5 3.5 0.5 3.5-2.5 3.5 3 4-4 3.5 4.5 3.5-6 3.5-1.5 3.5-1.5 3.5 1 4-5 3.5 6 3.5 1.5 3.5-5.5 3.5 0 3.5-1.5 4 0.5 3.5 4.5 3.5-3 3.5-4.5 3.5 5 3.5-1 4 2.5 3.5-3.5 3.5-0.5 3.5 4 3.5-4 3.5 9.5 4-4 3.5-3.5 3.5 2.5 3.5-3.5 3.5 1 3.5 2.5 4 4.5 3.5-2 3.5-0.5 3.5-2 3.5-10 3.5 0.5 4 5.5 3.5-3 3.5-4 3.5-3.5 3.5 17 3.5-2.5 4 2.5 3.5 4.5 3.5-8.5 3.5 6.5 3.5-1 3.5-3.5 4 4.5 3.5 4.5 3.5-5 3.5 7.5 3.5-1.5 3.5-11 3.5 1.5 4 5 3.5-0.5 3.5 7 3.5 3.5 3.5 2.5 3.5 6 4-0.5 3.5 0.5 3.5-2.5 3.5 3 3.5-2 3.5-0.5 4-0.5 3.5 1.5 3.5-4.5 3.5 0.5 3.5 1 3.5-1.5 4 2 3.5-1.5 3.5-5 3.5 0.5 3.5 2 3.5 2.5 4 4.5 3.5-1.5 3.5 1.5 3.5 0.5 3.5-0.5 3.5-0.5 4 1.5 3.5 1.5 3.5-1 3.5 0 3.5 1 3.5-2 4 0 3.5 3 3.5 1.5 3.5 2.5 3.5 1.5 3.5-0.5 4 3 3.5-1 3.5-1.5 3.5 0 3.5 1 3.5 1.5 4-2.5 3.5 2 3.5-3 3.5 3 3.5-2.5 3.5 2.5 4-2.5 3.5 0 3.5 1.5 3.5 0 3.5 0 3.5-0.5 4 0 3.5 0.5 3.5 0 3.5-1 3.5 0.5 3.5-0.5 4-0.5 3.5-1 3.5 1 3.5 0.5 3.5 0 3.5-1 4 1 3.5 1 3.5-2 3.5 3 3.5-2.5 3.5-1 3.5 0.5 4 4 3.5-4.5 3.5 0 3.5 3 3.5 0.5 3.5-2 0 7Z" fill="url(#sh21)" stroke="#2a1a18" stroke-opacity="0.45" stroke-width="0.6"/>
<path d="M1047.5 2481l0-6 3.5 0 4-1.5 3.5 1 3.5 2.5 3.5-0.5 3.5 0 3.5-4 4 2.5 3.5 1 3.5-1 3.5-1.5 3.5 1 3.5 0.5 4-2.5 3.5 2 3.5-0.5 3.5-0.5 3.5 1.5 3.5-1 4 1 3.5-1.5 3.5 0 3.5-1 3.5 1 4 1.5 3.5-2.5 3.5 1.5 3.5 0 3.5 0.5 3.5-1 4 1.5 3.5 0 3.5 1.5 3.5-1.5 3.5-1.5 3.5 1 4 1.5 3.5 1 3.5-4.5 3.5 2.5 3.5-2 4 3 3.5-0.5 3.5-3 3.5 4.5 3.5-2 3.5 2 4-1 3.5-2.5 3.5 3 3.5-1.5 3.5 1 3.5-1 4-2.5 3.5 2 3.5 2 3.5-1.5 3.5 0.5 3.5-2.5 4 1 3.5 0 3.5-1 3.5-0.5 3.5 0 4 0 3.5-2.5 3.5 0.5 3.5-3 3.5-1.5 3.5 0.5 4-1 3.5-2 3.5-0.5 3.5-1 3.5-3.5 3.5-4 4 2 3.5-6.5 3.5-3 3.5 4 3.5-2.5 3.5-1 4 5.5 3.5-6 3.5 0 3.5 1.5 3.5 0.5 4-5.5 3.5 0 3.5 4.5 3.5 0.5 3.5 0.5 3.5-2 4 1 3.5 2.5 3.5-11 3.5 6.5 3.5 1 3.5-5.5 4 5.5 3.5-1.5 3.5 5 3.5 0.5 3.5-2 4-4 3.5 3 3.5-3 3.5-1.5 3.5 4 3.5 1.5 4 0 3.5 0.5 3.5-4 3.5-1 3.5-3.5 3.5-5.5 4-3.5 3.5 12.5 3.5 1 3.5-1 3.5 4 3.5 5.5 4-4 3.5 2 3.5 1.5 3.5-1 3.5-3.5 4 1 3.5 0.5 3.5 3.5 3.5-3.5 3.5 4 3.5-1.5 4 0.5 3.5-9.5 3.5 2.5 3.5 9 3.5 5.5 3.5 2 4 3.5 3.5 0 3.5 1.5 3.5-1 3.5-1 3.5 1 4 1 3.5-3 3.5-1.5 3.5 3 3.5-2 4-3.5 3.5-1 3.5 1.5 3.5-1.5 3.5 1 3.5 1 4-1 3.5 1 3.5 4.5 3.5-0.5 3.5-1 3.5 3 4-2 3.5 0.5 3.5 1 3.5-0.5 3.5 1 4-1 3.5 0.5 3.5-0.5 3.5 0.5 3.5 2 3.5 2 4 1 3.5 0 3.5 2.5 3.5 1 3.5-3.5 3.5 3.5 4-1.5 3.5 1.5 3.5 0 3.5-1 3.5 0 3.5 0 4-1 3.5 2 3.5 0 3.5-0.5 3.5-3 4 2.5 3.5 0.5 3.5-0.5 3.5 0 3.5 0.5 3.5-0.5 4-0.5 3.5-0.5 3.5 0.5 3.5 0 3.5-0.5 3.5-0.5 4 1.5 3.5-2.5 3.5 1 3.5 0.5 3.5 0 3.5 0.5 4 2 3.5-0.5 3.5-3 3.5 2 3.5-1 4-1 3.5 0 3.5 3.5 3.5-2 3.5 1 3.5-2 0 7.5Z" fill="url(#sh22)" stroke="#2a1a18" stroke-opacity="0.45" stroke-width="0.6"/>
<path d="M1047 2483l0-5.5 3.5-3 3.5 0.5 3.5-1 4 1.5 3.5 0.5 3.5-0.5 3.5-1 3.5 2.5 4-0.5 3.5 1 3.5 0 3.5-0.5 3.5-2.5 3.5 0.5 4 2 3.5-1 3.5 2 3.5-2 3.5 2 4-1 3.5-2 3.5 2 3.5-2 3.5 2 4-1 3.5 2 3.5-3 3.5 3.5 3.5 0 3.5 0 4-1.5 3.5 1.5 3.5-3 3.5 0.5 3.5 2 4-2 3.5-1 3.5 1.5 3.5 0 3.5-1.5 3.5 0 4 2.5 3.5-1.5 3.5 1 3.5 1 3.5-3.5 4 3.5 3.5-0.5 3.5-3 3.5 4 3.5-3.5 4 0 3.5 4 3.5-4 3.5 1.5 3.5-2 3.5 0.5 4 3 3.5-0.5 3.5 0 3.5-2 3.5-1 4 1 3.5-1 3.5 0 3.5 0.5 3.5-1 3.5-2.5 4 0 3.5-3 3.5-0.5 3.5-1 3.5 1 4-5 3.5 2 3.5-4 3.5-2.5 3.5-2 3.5-2 4 2 3.5 0.5 3.5-5 3.5 5.5 3.5-1.5 4 1.5 3.5-2 3.5-1 3.5-2.5 3.5 0.5 4-1.5 3.5 4 3.5-1 3.5-4 3.5 4 3.5-2.5 4 1.5 3.5 3.5 3.5-2.5 3.5-0.5 3.5 3 4-3 3.5-3.5 3.5 6 3.5-3 3.5 1.5 3.5 2.5 4-5.5 3.5 6 3.5-2.5 3.5 1 3.5-2 4 4.5 3.5-9 3.5-0.5 3.5-0.5 3.5 2 4 0 3.5-0.5 3.5-5 3.5 10 3.5 3.5 3.5-2.5 4 4 3.5-3.5 3.5 2 3.5-4.5 3.5 3.5 4-1 3.5 5.5 3.5 0.5 3.5-1.5 3.5-3.5 3.5-2 4 3.5 3.5-4.5 3.5 0.5 3.5 7 3.5 4.5 4-1 3.5 6 3.5-1 3.5 1 3.5-0.5 3.5-1 4-0.5 3.5 0 3.5 0 3.5-0.5 3.5-0.5 4 2 3.5-2 3.5-2 3.5 1.5 3.5-1.5 4-1.5 3.5 2 3.5 1 3.5-1 3.5 1 3.5 1 4 1 3.5 0.5 3.5 0 3.5 2.5 3.5 0 4 0 3.5-1 3.5-0.5 3.5-0.5 3.5 1.5 3.5-2 4 1.5 3.5 2 3.5 1 3.5 0.5 3.5-1 4 2.5 3.5-1 3.5 2 3.5-0.5 3.5-0.5 4 0 3.5-0.5 3.5-1.5 3.5 3 3.5-1.5 3.5-1 4 2.5 3.5-2.5 3.5 2 3.5-3 3.5 1 4 2 3.5-2 3.5 2 3.5-1 3.5-2 3.5 2.5 4-2 3.5 2.5 3.5-1.5 3.5 0.5 3.5 0 4-2 3.5 0 3.5 2 3.5-1 3.5 2.5 3.5-0.5 4 0.5 3.5 0.5 3.5-4 3.5 0 3.5 0.5 4 0.5 3.5-1 3.5 2 3.5 1.5 3.5-3.5 0 8.5Z" fill="url(#sh23)" stroke="#2a1a18" stroke-opacity="0.45" stroke-width="0.6"/>
<path d="M1046.5 2485l0-7 3.5 2.5 3.5-2 3.5-0.5 3.5 2 4-2 3.5-1 3.5-1 3.5 5 3.5-2.5 4 1.5 3.5-3.5 3.5 4 3.5-0.5 3.5-1 4 0 3.5-2 3.5 2 3.5 1 3.5-0.5 4-2 3.5 2.5 3.5 0 3.5-0.5 3.5-2.5 4-0.5 3.5 1 3.5-0.5 3.5 3 3.5 1 3.5-2.5 4 1 3.5-1 3.5 1 3.5-3 3.5 2.5 4 0 3.5 0 3.5 1.5 3.5-3 3.5 1.5 4-1 3.5-1 3.5 3 3.5-1 3.5-2 4 0.5 3.5-0.5 3.5 3 3.5 0 3.5-0.5 4 0.5 3.5-3 3.5 0 3.5 1 3.5-1.5 4 2.5 3.5-1 3.5-1 3.5 0 3.5-0.5 4 2 3.5-1.5 3.5 2 3.5-1.5 3.5 0 3.5 0 4-0.5 3.5-1.5 3.5-0.5 3.5-2.5 3.5-1 4-1 3.5 2 3.5-1.5 3.5-3 3.5-1.5 4-2.5 3.5-2 3.5 1 3.5-1.5 3.5-1.5 4 1.5 3.5 0.5 3.5 2 3.5-2 3.5 2.5 4-6 3.5 0.5 3.5 2 3.5-2 3.5 1.5 4-1 3.5 1 3.5-0.5 3.5 0.5 3.5 2.5 4 0 3.5-5.5 3.5 6 3.5-4 3.5 0 4 2 3.5 2 3.5 0 3.5-2.5 3.5-2 3.5 5.5 4-4.5 3.5 4 3.5-1.5 3.5 0 3.5-3 4 0 3.5-0.5 3.5 1 3.5-4 3.5-1.5 4-2 3.5 6 3.5 4.5 3.5-3.5 3.5 1 4 3 3.5-1 3.5 1.5 3.5-1.5 3.5 2 4 0.5 3.5-1 3.5 3.5 3.5-1 3.5-0.5 4-1.5 3.5-5 3.5 4 3.5 1 3.5 1 4 3 3.5 1.5 3.5 2.5 3.5 2.5 3.5-0.5 3.5 0.5 4-1 3.5 0 3.5 1 3.5 0 3.5-3 4 2.5 3.5-0.5 3.5-2 3.5-1.5 3.5 1 4-1 3.5 1 3.5-0.5 3.5-1 3.5 1.5 4 0.5 3.5 1.5 3.5 1 3.5 0 3.5 1.5 4-1 3.5 1 3.5 0 3.5-1.5 3.5-0.5 4 0 3.5 0.5 3.5 1.5 3.5 0.5 3.5 0.5 4 1 3.5 2 3.5-3 3.5 1 3.5 1.5 3.5-1.5 4 1 3.5 1 3.5-0.5 3.5-1 3.5-1 4 1 3.5 0.5 3.5-0.5 3.5-2 3.5 1 4 1 3.5 2 3.5-0.5 3.5-3.5 3.5 4 4-3 3.5 1.5 3.5-1 3.5-1.5 3.5 1 4 2.5 3.5-0.5 3.5-2 3.5 1.5 3.5-2 4 1 3.5-0.5 3.5 1.5 3.5-1.5 3.5 2.5 4-1.5 3.5 2.5 3.5-2 3.5-2 3.5-1 3.5 2 4 2.5 3.5-2 3.5 0 3.5-0.5 0 7Z" fill="url(#sh24)" stroke="#2a1a18" stroke-opacity="0.45" stroke-width="0.6"/>
<path d="M1045.5 2487l0-8 4 3 3.5-1 3.5-2.5 3.5 1 3.5 0 4 2.5 3.5-1.5 3.5 0.5 3.5 1.5 3.5-3 4 1.5 3.5-1.5 3.5 2.5 3.5 0 3.5-0.5 4-0.5 3.5-1.5 3.5 2.5 3.5-2.5 3.5 0 4 2 3.5 0.5 3.5-2 3.5 2 4-3.5 3.5 0 3.5 1 3.5 3.5 3.5-4.5 4 1 3.5 2.5 3.5-3 3.5 2 3.5 2 4-1.5 3.5-1.5 3.5 3 3.5-2.5 3.5 1.5 4-3.5 3.5 3 3.5-2 3.5 3 3.5-2 4 0.5 3.5 1 3.5 0.5 3.5-3.5 3.5 3 4-1 3.5-2 3.5 4 3.5 0 3.5-5 4 4.5 3.5-3 3.5 1 3.5-1.5 3.5-0.5 4 1 3.5 2 3.5-1 3.5-2 3.5 2 4-2 3.5 1.5 3.5-0.5 3.5-1.5 4-0.5 3.5-0.5 3.5-1.5 3.5-0.5 3.5-0.5 4 0.5 3.5-1.5 3.5 0.5 3.5-2.5 3.5 0 4 0 3.5-0.5 3.5-3 3.5 2 3.5-0.5 4-2 3.5-0.5 3.5 2.5 3.5-4.5 3.5 2 4 1.5 3.5-3.5 3.5 4 3.5-1 3.5 1.5 4 0 3.5-2.5 3.5-2 3.5 3 3.5-3.5 4 2 3.5-2 3.5-0.5 3.5 5 3.5 0 4-1.5 3.5 0.5 3.5-3 3.5 5 3.5-1 4-0.5 3.5-1.5 3.5 4.5 3.5-3 4-4 3.5-0.5 3.5 2 3.5-6.5 3.5 4 4 1 3.5 0 3.5-0.5 3.5 2 3.5 3.5 4 0.5 3.5 0 3.5-2 3.5-0.5 3.5-0.5 4 2.5 3.5 2 3.5-1.5 3.5 2.5 3.5-2 4-3 3.5 1.5 3.5 1.5 3.5-0.5 3.5 1.5 4 1 3.5 4 3.5 1 3.5 0.5 3.5 0.5 4-1.5 3.5 0.5 3.5 1.5 3.5-2 3.5-0.5 4 0.5 3.5 0 3.5-1 3.5 1 3.5-2.5 4-1 3.5 2 3.5 0 3.5-0.5 4 0.5 3.5 2 3.5-1.5 3.5 1.5 3.5-1 4 1 3.5 0.5 3.5 1 3.5 0.5 3.5-1.5 4 1.5 3.5-1 3.5 0 3.5-0.5 3.5 0.5 4 1 3.5 1 3.5 1 3.5 0 3.5-2.5 4 1.5 3.5-0.5 3.5 0 3.5-1 3.5 0.5 4 2 3.5-1.5 3.5 1.5 3.5 0.5 3.5-1.5 4 0 3.5 2 3.5-3 3.5 1 3.5-2.5 4 2 3.5 0 3.5-1 3.5 1 3.5 2.5 4-3.5 3.5 2 3.5 0.5 3.5 0.5 4-1.5 3.5 0 3.5-0.5 3.5 0 3.5-0.5 4 0 3.5-0.5 3.5 3 3.5-1.5 3.5-0.5 4-2 3.5 1 3.5 0.5 3.5 1 3.5-2 4 3 3.5-3 3.5 2.5 3.5-3 0 9Z" fill="url(#sh25)" stroke="#2a1a18" stroke-opacity="0.45" stroke-width="0.6"/>
</g>
<path d="M1038.2 2354.9L1843.2 2354.9" stroke="#555" stroke-width="1.4"/>
<path d="M1045.7 2484L1038.2 2354.9M1834.6 2484L1843.2 2354.9" stroke="#666" stroke-width="1"/>
<text x="1002" y="2501" font-size="19" textLength="84" lengthAdjust="spacingAndGlyphs" transform="rotate(-62 1002 2501)">Promoter</text>
<text x="1159.8" y="2509" font-size="18" textLength="81" lengthAdjust="spacingAndGlyphs">100 bases</text>
<line x1="1249.6" y1="2503" x2="1326.6" y2="2503" stroke="#666" stroke-width="1.2" />
<line x1="1249.6" y1="2498" x2="1249.6" y2="2508" stroke="#666" stroke-width="1.2" />
<line x1="1326.6" y1="2498" x2="1326.6" y2="2508" stroke="#666" stroke-width="1.2" />
<text x="1404.8" y="2509" font-size="19" font-weight="bold" textLength="82.2" lengthAdjust="spacingAndGlyphs">Enhancer</text>
</svg></body></html>
